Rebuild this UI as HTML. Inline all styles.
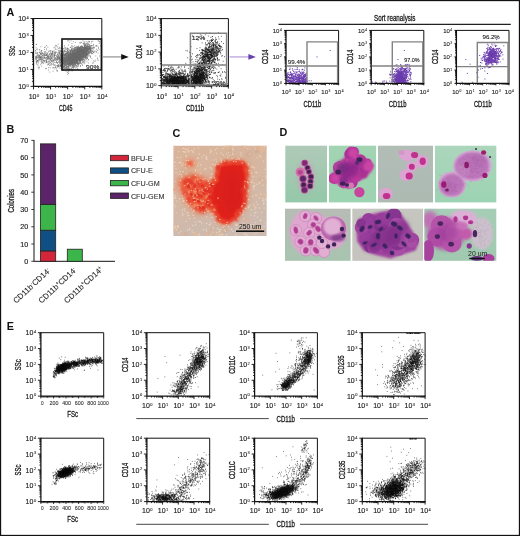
<!DOCTYPE html><html><head><meta charset="utf-8"><style>html,body{margin:0;padding:0;background:#fff;overflow:hidden}svg{display:block;will-change:transform}text{font-family:"Liberation Sans", sans-serif}</style></head><body>
<svg width="520" height="536" viewBox="0 0 520 536">
<defs><filter id="b03" x="-10%" y="-10%" width="120%" height="120%"><feGaussianBlur stdDeviation="0.3"/></filter><filter id="b05" x="-20%" y="-20%" width="140%" height="140%"><feGaussianBlur stdDeviation="0.5"/></filter><filter id="b1" x="-20%" y="-20%" width="140%" height="140%"><feGaussianBlur stdDeviation="1"/></filter><filter id="b2" x="-30%" y="-30%" width="160%" height="160%"><feGaussianBlur stdDeviation="2"/></filter><filter id="b3" x="-30%" y="-30%" width="160%" height="160%"><feGaussianBlur stdDeviation="3"/></filter></defs>
<rect x="0" y="0" width="520" height="536" fill="#fff"/>
<text x="6.6" y="15.8" font-size="10.8" fill="#111" font-weight="bold">A</text>
<path transform="scale(.1)" d="M993 414h8m-8 5h8m-18-8h8m-13-5h8m-62 8h8m-19 0h8m-29 2h8m-10 2h8m-19-5h8m-29 4h8m-41-9h8m-104 8h8m-31-8h8m-30-2h8m-21 3h8m9 12h8m54 2h8m35 5h8m-2 4h8m-1-11h8m-5 4h8m11 8h8m0-13h8m-2 14h8m-6-13h8m15 13h8m0-10h8m-7 7h8m25 0h8m71 4h8m-64 14h8m-10 0h8m-46 0h8m-13-4h8m-11-3h8m-16-3h8m-12 9h8m-19-7h8m-14 0h8m-8-2h8m-15 4h8m-14-4h8m-12 8h8m-12-1h8m-13-11h8m-121 0h8m-147 6h8m-226 4h8m-9-2h8m96 13h8m83-2h8m0 2h8m72 2h8m31-7h8m26 4h8m3 8h8m11-5h8m7 6h8m17-5h8m16 2h8m-6 0h8m-6 3h8m-4 0h8m-2-1h8m7-3h8m-5 2h8m-8-8h8m-8-2h8m-7 11h8m-7-1h8m-3 0h8m-8 2h8m-5-9h8m-7-3h8m-8 3h8m-1-5h8m-6 13h8m-5-2h8m-2-2h8m-5-1h8m-7 5h8m-7-10h8m-4-1h8m-5 12h8m1-11h8m-3 9h8m-5-4h8m-3 3h8m-7-1h8m0-4h8m-5 1h8m-4 1h8m26 2h8m0 2h8m-7-8h8m4 7h8m22-1h8m-31 13h8m-48 5h8m-12-1h8m-11-6h8m-10 2h8m-23 5h8m-17-6h8m-13 2h8m-11 3h8m-11 2h8m-9-7h8m-12-3h8m-8-4h8m-10 13h8m-10 1h8m-9-4h8m-9-8h8m-11 11h8m-9-12h8m-10 8h8m-11-9h8m-8 2h8m-10-2h8m-13 14h8m-8-3h8m-10-11h8m-8 14h8m-11-1h8m-10-10h8m-9 10h8m-11-7h8m-8-2h8m-12 10h8m-9-9h8m-8-3h8m-11 7h8m-8 2h8m-10 1h8m-9 0h8m-13-7h8m-11-1h8m-11 5h8m-9 1h8m-8 1h8m-10 1h8m-10-3h8m-13 3h8m-10 0h8m-12 0h8m-8 1h8m-8-7h8m-10 8h8m-8-8h8m-9 1h8m-12-6h8m-8 11h8m-10-7h8m-8-1h8m-13 4h8m-12-1h8m-8-6h8m-11 8h8m-8-6h8m-10 5h8m-12 6h8m-9-6h8m-10 2h8m-14 0h8m-10-7h8m-9 5h8m-9 5h8m-11-2h8m-12-9h8m-9 11h8m-9-7h8m-8 1h8m-10 4h8m-19 1h8m-12-2h8m-8 0h8m-8 3h8m-9-1h8m-22-2h8m-22-7h8m-23 2h8m-16 5h8m-11-1h8m-61-2h8m-44-7h8m-24 12h8m-15-6h8m-26-2h8m-23 0h8m-19 2h8m-17 7h8m-68-6h8m-34-2h8m-15 4h8m-45-7h8m-56 11h8m-1 16h8m-4-3h8m63 2h8m15-4h8m78 2h8m-2 0h8m17-6h8m8 0h8m6-3h8m-6 1h8m2-1h8m-4 11h8m-2-8h8m4-4h8m2 8h8m-6-9h8m-3 10h8m3-2h8m-8-7h8m-6 3h8m2 3h8m-8 7h8m19 0h8m-6 0h8m-5-9h8m-7 0h8m-4-4h8m-3 10h8m0-3h8m-5 6h8m-5-8h8m-7 5h8m-5 0h8m-6-10h8m-7 7h8m-1-7h8m-6 6h8m-4 6h8m-5 0h8m-6-6h8m-6-3h8m-8 10h8m-5-5h8m-6-2h8m-5 1h8m-8-5h8m-7 1h8m-7 8h8m-5-2h8m-8 4h8m-8-10h8m-7 3h8m-6 4h8m-8 1h8m-8-2h8m-4-1h8m-7-5h8m-7 3h8m-8-2h8m-8 3h8m-5-2h8m-7 6h8m-6-11h8m-7 13h8m-8-9h8m-5 7h8m-8-1h8m-8 2h8m-6-2h8m-6-7h8m-7 9h8m-6-4h8m-6-8h8m-7 12h8m-8 1h8m-7-7h8m-8-1h8m-7 7h8m-7-2h8m-8 3h8m-5-13h8m-8 9h8m-7 1h8m-7 1h8m-8 0h8m-3 2h8m-7-3h8m-5-3h8m-7 3h8m-7-10h8m-7 13h8m-6-2h8m-8-11h8m-7 1h8m-7-2h8m-8 12h8m-7-11h8m-8-1h8m-5 1h8m-7 12h8m-8-9h8m-8 8h8m-8-3h8m-7 2h8m-7 2h8m-8-3h8m-7-9h8m-8 1h8m-8 4h8m-4 3h8m-7-3h8m-7 1h8m-8 0h8m-8 4h8m-8-9h8m-7 9h8m-8-8h8m-7 10h8m-6-13h8m-6 12h8m-8-5h8m-6-5h8m-8 5h8m-7 7h8m-7-3h8m-7-1h8m-7-7h8m-6 8h8m-8 2h8m-8-12h8m-7-1h8m-8 8h8m-7-2h8m-8-4h8m-7 10h8m-8-5h8m-6-1h8m-8-3h8m-8 1h8m-7-4h8m-7 13h8m-7-12h8m-8 8h8m-7 5h8m-7-8h8m-8 5h8m-7-9h8m-8 12h8m-7-7h8m-2 4h8m-7 1h8m-7 1h8m-8-1h8m-6-11h8m-7 13h8m-8-9h8m-7 4h8m-7-7h8m-6 7h8m-8-3h8m-6 3h8m-6 3h8m-5-5h8m-8-4h8m-6 4h8m-8-7h8m-3 7h8m-8 6h8m-8-1h8m-8-4h8m-1-1h8m-8 1h8m-1 1h8m-3-8h8m-4 2h8m-4 6h8m26 3h8m12-8h8m-3 14h8m-23 6h8m-54-2h8m-26 1h8m-11 4h8m-9-2h8m-9-3h8m-9-3h8m-9 0h8m-10 3h8m-9 7h8m-12-14h8m-13 1h8m-8 10h8m-17 1h8m-9 1h8m-11-6h8m-11-7h8m-9 11h8m-8-2h8m-9-5h8m-12 0h8m-8 1h8m-9 2h8m-8 0h8m-9-5h8m-8 8h8m-8 3h8m-9-8h8m-9 4h8m-9 3h8m-9-8h8m-9 6h8m-9-6h8m-9-3h8m-8-1h8m-9 10h8m-11-3h8m-9 6h8m-9-5h8m-9-8h8m-10 12h8m-10-9h8m-8 8h8m-8 1h8m-9 1h8m-9-3h8m-8-1h8m-9-6h8m-8-2h8m-8-1h8m-8 0h8m-9 5h8m-8 6h8m-9 0h8m-10-6h8m-8-4h8m-9 13h8m-8-10h8m-8-3h8m-9 0h8m-9 13h8m-9-13h8m-8-1h8m-8 2h8m-9 4h8m-9 1h8m-8-4h8m-8 2h8m-8 8h8m-10-12h8m-11 5h8m-8-2h8m-8 7h8m-8-9h8m-8 10h8m-8 0h8m-11-8h8m-9 3h8m-10-2h8m-8 9h8m-10-5h8m-8-8h8m-8-1h8m-8 4h8m-8 0h8m-9 6h8m-9 4h8m-8-1h8m-8-2h8m-9-2h8m-8 2h8m-10 2h8m-9 1h8m-9-4h8m-10 3h8m-8-4h8m-9 0h8m-8 1h8m-9-8h8m-11 5h8m-8-7h8m-9 1h8m-9 5h8m-8 5h8m-8-10h8m-8 6h8m-9-6h8m-9 10h8m-8-8h8m-8-1h8m-8 0h8m-8 12h8m-9 0h8m-12 0h8m-8-1h8m-8 0h8m-9-5h8m-9-4h8m-8 0h8m-9 0h8m-9 7h8m-9-1h8m-8-8h8m-9 12h8m-8-9h8m-8 8h8m-9-13h8m-8 4h8m-8 3h8m-9-4h8m-8 4h8m-9 7h8m-8-8h8m-9 6h8m-8-11h8m-9 2h8m-8-3h8m-8 14h8m-10-9h8m-8 4h8m-11 2h8m-10 0h8m-10 3h8m-9-2h8m-10-8h8m-8 10h8m-9-8h8m-8 8h8m-10-11h8m-8 3h8m-9 3h8m-8-7h8m-8 11h8m-12-13h8m-10 4h8m-9 10h8m-12-7h8m-8-3h8m-11 9h8m-8-8h8m-9-2h8m-10 4h8m-9-2h8m-8 7h8m-11-6h8m-12-6h8m-10 4h8m-9 9h8m-8 1h8m-9-2h8m-10-3h8m-12 2h8m-9 3h8m-9-11h8m-9-2h8m-12 12h8m-11-6h8m-8 5h8m-13-1h8m-9-6h8m-10 8h8m-10 1h8m-15-14h8m-8 14h8m-11-3h8m-8 3h8m-8-7h8m-17 1h8m-10-1h8m-14 0h8m-26 5h8m-8-2h8m-10 2h8m-8-11h8m-29 2h8m-18 4h8m-12 6h8m-40 1h8m-11-8h8m-20 3h8m-28-7h8m-71 8h8m-49-6h8m-58 8h8m-8-2h8m-26-5h8m-14-4h8m-44 12h8m-11-2h8m-3 17h8m27-1h8m9-7h8m-4-4h8m18 7h8m-2 5h8m-3-5h8m-3 1h8m6 5h8m7-5h8m-5-8h8m1-1h8m-2 10h8m-2-9h8m6 6h8m-5-1h8m-8 4h8m-7-1h8m-6 2h8m-8-11h8m4 0h8m2 10h8m-4 4h8m-3-5h8m15-8h8m0-1h8m-2 4h8m1 9h8m-7-9h8m-4 1h8m2 5h8m-4-6h8m-6-1h8m-4 8h8m-3-7h8m0 6h8m-7-10h8m-7 2h8m-1 2h8m-3-3h8m-3 5h8m3 8h8m-5-12h8m-6 5h8m-8-2h8m-4 1h8m-3-6h8m3 5h8m-8 9h8m-6-13h8m-7 11h8m-7-12h8m-7 7h8m-4 2h8m-7-9h8m-8 8h8m-2 4h8m-4 0h8m-8-1h8m-7-11h8m-6 7h8m-5 5h8m-7-12h8m-8 5h8m-8 8h8m-6-1h8m-5 0h8m-6 0h8m-7-12h8m-7 2h8m-5 2h8m-7 9h8m-3-3h8m-7-5h8m-7-3h8m-8 9h8m-5-5h8m-7-2h8m-6-1h8m-6 11h8m-4-14h8m-8 11h8m-8-8h8m-7 1h8m-6 4h8m-7 5h8m-7 1h8m-7-1h8m-7-6h8m-6-7h8m-8 1h8m-8 12h8m-7-7h8m-7 1h8m-8-1h8m-7 4h8m-8-4h8m-7 8h8m-6-8h8m-7-1h8m-7-5h8m-8 9h8m-8-7h8m-8 4h8m-6-6h8m-6 6h8m-8 1h8m-7-5h8m-8 0h8m-7 9h8m-8 2h8m-7-13h8m-7 3h8m-8 11h8m-6-8h8m-7-5h8m-8 0h8m-8 1h8m-8 2h8m-3 6h8m-8 0h8m-8-9h8m-7 10h8m-8 0h8m-7 1h8m-8-6h8m-8 1h8m-8 2h8m-8-6h8m-7 5h8m-7-2h8m-8-2h8m-8 9h8m-7-12h8m-7 2h8m-8 9h8m-8-4h8m-7 3h8m-8 1h8m-7-2h8m-7 3h8m-7-4h8m-7-7h8m-8 6h8m-8-1h8m-7-3h8m-8 10h8m-6-4h8m-8-8h8m-7 9h8m-8-1h8m-8-6h8m-7 2h8m-8 1h8m-8-4h8m-7 11h8m-8-4h8m-8-10h8m-6 9h8m-8-6h8m-6 1h8m-8 8h8m-8 1h8m-7-2h8m-8-7h8m-8 6h8m-8-3h8m-8 0h8m-7 4h8m-8-10h8m-8 12h8m-8-9h8m-7-2h8m-7 4h8m-8-5h8m-8 12h8m-7 0h8m-8-2h8m-8-4h8m-8 4h8m-8-6h8m-8-1h8m-8 3h8m-8-1h8m-7 8h8m-6-11h8m-8 0h8m-8 7h8m-7-6h8m-8 2h8m-8-4h8m-7-1h8m-7 8h8m-8-7h8m-8 10h8m-7-6h8m-7 2h8m-8-2h8m-7 8h8m-6-1h8m-8-7h8m-7-5h8m-8 8h8m-5-6h8m-8 4h8m-8 3h8m-8-9h8m-8 10h8m-7-5h8m-8 4h8m-7-3h8m-8-7h8m-7 10h8m-8 1h8m-8-11h8m-8 5h8m-8 2h8m-7-4h8m-8 8h8m-8-1h8m-8-7h8m-7 0h8m-7 11h8m-7-2h8m-8-12h8m-7 6h8m-8-3h8m-8 1h8m-7 9h8m-8-6h8m-8-2h8m-7-2h8m-8 5h8m-7-4h8m-8-3h8m-7 5h8m-8-6h8m-5 14h8m-5-6h8m-8-8h8m-7 9h8m-7 0h8m-8-3h8m-7-5h8m-8 9h8m-8 3h8m-8-4h8m-7 5h8m-8-5h8m-8 0h8m-7-5h8m-7 6h8m-7-3h8m-8 0h8m-7-1h8m-6 3h8m-8-4h8m-8 9h8m-7-3h8m-8-7h8m-8 6h8m-6-10h8m-7 12h8m-8-11h8m-8 12h8m-4-9h8m-8 4h8m-7 1h8m-7-4h8m-3-1h8m-7 1h8m-5 0h8m-8 9h8m-7-9h8m-6 0h8m-8 6h8m-7-3h8m0 6h8m-8-5h8m-5-8h8m-7 5h8m-5 2h8m-6-5h8m-7 5h8m-2 6h8m-4-3h8m-8-5h8m2-4h8m-7-1h8m-7 2h8m0 10h8m-4-5h8m1-5h8m6-3h8m-5 9h8m-7 1h8m10 10h8m-50-2h8m-9-2h8m-24 9h8m-10 3h8m-9-7h8m-9 4h8m-11-9h8m-19 4h8m-17 2h8m-12-2h8m-10 9h8m-9-13h8m-12 3h8m-10 5h8m-9 0h8m-8 2h8m-9-5h8m-10 8h8m-12-6h8m-10 3h8m-9-7h8m-9 4h8m-9 5h8m-8 0h8m-9-13h8m-9 14h8m-8-12h8m-11 5h8m-8 1h8m-8-3h8m-9-2h8m-8 5h8m-8 1h8m-9-7h8m-9 10h8m-9-11h8m-8 4h8m-9 4h8m-9-9h8m-8 6h8m-9 3h8m-8 2h8m-9-10h8m-8 7h8m-9 2h8m-8 4h8m-9-7h8m-10-7h8m-11 7h8m-8 1h8m-9 4h8m-8-3h8m-9-3h8m-9 0h8m-8 8h8m-9-8h8m-9-1h8m-9 9h8m-9-7h8m-8-5h8m-9 3h8m-10-5h8m-9 8h8m-8-1h8m-9 5h8m-8-8h8m-8 8h8m-8 0h8m-8 2h8m-9-9h8m-8-2h8m-9 2h8m-8 0h8m-9 3h8m-9 6h8m-8-4h8m-10-9h8m-8 7h8m-8 3h8m-8-2h8m-9-8h8m-9 2h8m-8 5h8m-8-3h8m-8 9h8m-9-9h8m-9 3h8m-8 3h8m-9 0h8m-8 2h8m-9 0h8m-9-2h8m-8-9h8m-8-1h8m-8 8h8m-9-8h8m-8-1h8m-9 2h8m-9 6h8m-8 6h8m-8-11h8m-8 11h8m-9-11h8m-9-2h8m-8 5h8m-8-5h8m-8 8h8m-8 4h8m-9 1h8m-8-2h8m-9-3h8m-8-8h8m-9 3h8m-9 9h8m-9 1h8m-9 0h8m-8-1h8m-9-4h8m-8-5h8m-8 8h8m-9-7h8m-8-4h8m-8 13h8m-8-10h8m-9-2h8m-8 3h8m-9 5h8m-8-4h8m-8-6h8m-9 9h8m-8 5h8m-8 0h8m-9-10h8m-11-3h8m-8 2h8m-8 5h8m-9-5h8m-8 3h8m-8 1h8m-9-7h8m-8 14h8m-9-13h8m-9 13h8m-9-1h8m-8-9h8m-9 8h8m-8-10h8m-8 11h8m-8-3h8m-8-6h8m-10-1h8m-9 4h8m-8 1h8m-9-4h8m-8-3h8m-9 0h8m-8 1h8m-8 10h8m-9 1h8m-8-7h8m-8-1h8m-9 6h8m-9-7h8m-9 1h8m-8 1h8m-10-5h8m-8 4h8m-8 7h8m-9-6h8m-9 6h8m-8-3h8m-8-5h8m-9 10h8m-8-13h8m-9 1h8m-8-2h8m-8 9h8m-9 0h8m-9-5h8m-8 1h8m-8 6h8m-9-6h8m-9-5h8m-8 4h8m-9 0h8m-11-2h8m-8 3h8m-8 1h8m-10 3h8m-8-1h8m-9 6h8m-8-13h8m-8 6h8m-9-6h8m-9 2h8m-8 0h8m-8 8h8m-9-4h8m-9 3h8m-9-3h8m-8 7h8m-9-9h8m-8-5h8m-9 8h8m-8 5h8m-10-4h8m-9-3h8m-8 0h8m-9 5h8m-8-7h8m-9 8h8m-9-9h8m-8 4h8m-9 0h8m-8-7h8m-8 1h8m-10 4h8m-8 5h8m-9-2h8m-8 4h8m-9 1h8m-9-4h8m-8-7h8m-8 1h8m-9 1h8m-8 6h8m-9 1h8m-9 0h8m-9-2h8m-8 0h8m-9-1h8m-9 3h8m-9 0h8m-8 1h8m-8-2h8m-11-2h8m-8 1h8m-9-4h8m-9 7h8m-11-6h8m-9-5h8m-9 8h8m-8-6h8m-9-2h8m-8 1h8m-9 5h8m-9-5h8m-10 8h8m-8-10h8m-8 2h8m-9 10h8m-8 1h8m-9-4h8m-11 2h8m-9 2h8m-9-13h8m-8 5h8m-9-5h8m-9 9h8m-8 1h8m-9-5h8m-8 6h8m-14 2h8m-10-1h8m-13-8h8m-10 4h8m-8-1h8m-8 3h8m-10-6h8m-8-3h8m-9 9h8m-13 4h8m-9-2h8m-9 2h8m-11-12h8m-10-1h8m-11 8h8m-8 1h8m-8-7h8m-11 0h8m-13-1h8m-8 11h8m-9-10h8m-12 7h8m-9-3h8m-8 3h8m-9-7h8m-12 5h8m-9-7h8m-12 8h8m-10 5h8m-8-4h8m-9-4h8m-11 6h8m-15-7h8m-21 6h8m-10 1h8m-9-11h8m-11 7h8m-22 2h8m-10 1h8m-10 3h8m-21-7h8m-12 5h8m-10-12h8m-8 6h8m-9 7h8m-12-10h8m-16-1h8m-9 11h8m-20-13h8m-21 13h8m-13 0h8m-9-12h8m-12 0h8m-8 13h8m-28-4h8m-12 1h8m-8 0h8m-10-4h8m-14-1h8m-13 6h8m-13-4h8m-19 6h8m-26-1h8m-11-3h8m-24-2h8m-30 5h8m-15-2h8m-8 0h8m-11-9h8m-17 7h8m-11-7h8m-11 7h8m-9 3h8m-9-5h8m-8 1h8m-12 1h8m-17-8h8m-25-1h8m-12 13h8m-8-7h8m-16 6h8m-19-5h8m13 21h8m-5-2h8m0-2h8m2 3h8m-1-5h8m-3 0h8m1-2h8m0 8h8m-8 1h8m0 0h8m-4-7h8m-4-4h8m-4-2h8m-7-1h8m-4 10h8m1-6h8m-6 9h8m-4-8h8m-7 7h8m-7-7h8m-8 4h8m-6-9h8m-6 12h8m0-2h8m-6 3h8m4-11h8m-6 2h8m5 3h8m-2-4h8m-7 6h8m-6 4h8m-6-12h8m-7 6h8m-4 3h8m-7 0h8m3-10h8m-3 1h8m-4 1h8m-8 9h8m-7 3h8m1-1h8m4 0h8m1-9h8m-6 6h8m-8-8h8m0 8h8m6-9h8m-7-1h8m-7 4h8m-6 5h8m-3 4h8m-6-2h8m-1 1h8m-6-4h8m-4-8h8m-3 10h8m-4 4h8m-8-2h8m-8-6h8m-6-2h8m-6 7h8m-2 1h8m-7-3h8m-8-4h8m-7 0h8m-6 2h8m-6 5h8m-5-12h8m-6 1h8m-7 3h8m-8 10h8m-8-14h8m-7 13h8m-8-13h8m-7 6h8m-8-5h8m-5 2h8m-5 5h8m-8-7h8m-1 9h8m-4 3h8m-6-8h8m-6 6h8m-7-3h8m-5-1h8m-7 5h8m-6-6h8m-8-1h8m-4 3h8m-5-7h8m-8 0h8m-5 7h8m-7-6h8m-7 1h8m-5 4h8m-6 2h8m-7-8h8m-7 7h8m-8-3h8m-7-3h8m-8 2h8m-6 7h8m-8 1h8m-3-7h8m-7 9h8m-7-11h8m-6-2h8m-8 9h8m-7 0h8m-8-2h8m-5-2h8m-7 6h8m-8-6h8m-8 8h8m-6-7h8m-8 6h8m-6-1h8m-8-9h8m-7 8h8m-7-7h8m-7 10h8m-7-4h8m-7 4h8m-8-5h8m-7 2h8m-8-1h8m-8 1h8m-7 1h8m-8-7h8m-7-5h8m-8 8h8m-7-4h8m-8 5h8m-6-6h8m-6-2h8m-7 8h8m-8-7h8m-8 11h8m-7-4h8m-8-2h8m-7-1h8m-8-1h8m-7-2h8m-8 11h8m-7-8h8m-8 8h8m-7-7h8m-7 6h8m-8-12h8m-8 3h8m-7 9h8m-7-13h8m-7 8h8m-8 1h8m-8-7h8m-8 8h8m-7-6h8m-7 7h8m-8 2h8m-6-2h8m-8-3h8m-7-3h8m-8 6h8m-8-5h8m-8-3h8m-8 2h8m-7 6h8m-7 2h8m-8-11h8m-7 4h8m-6-4h8m-8 10h8m-7-7h8m-8 4h8m-8-5h8m-7-1h8m-8 1h8m-8 0h8m-8 3h8m-7 6h8m-8-10h8m-8 7h8m-6-5h8m-8 4h8m-8 3h8m-7-6h8m-8 4h8m-8-3h8m-8-6h8m-7 10h8m-8-9h8m-8 8h8m-7-5h8m-8 7h8m-7-10h8m-7 7h8m-7 0h8m-8 4h8m-8-13h8m-8 11h8m-8 3h8m-6 0h8m-8-3h8m-7-1h8m-8-2h8m-8 6h8m-8-2h8m-7-4h8m-8-1h8m-8 7h8m-7-13h8m-8 1h8m-7 5h8m-5 7h8m-8-8h8m-7 7h8m-8 1h8m-8-1h8m-7-2h8m-8-11h8m-8 6h8m-7 0h8m-7 7h8m-8-4h8m-7-4h8m-8-3h8m-7 7h8m-8 3h8m-8-7h8m-8 6h8m-7-2h8m-7-8h8m-8 9h8m-7-2h8m-7 1h8m-8-6h8m-7 6h8m-8 0h8m-7-7h8m-8 7h8m-6-5h8m-8 8h8m-8-4h8m-8 3h8m-8-6h8m-7 0h8m-8 7h8m-8-6h8m-8 1h8m-6-7h8m-8 6h8m-7-1h8m-8-1h8m-8 1h8m-7 5h8m-8-7h8m-8 3h8m-7 1h8m-8 6h8m-7-13h8m-8 12h8m-8-6h8m-7 8h8m-7-7h8m-8 2h8m-7-3h8m-7-6h8m-8 9h8m-8-6h8m-8-3h8m-7 8h8m-8 6h8m-7-11h8m-8-3h8m-7 2h8m-8 6h8m-8 2h8m-7-3h8m-7 2h8m-8 4h8m-8-13h8m-8 7h8m-8-2h8m-8 4h8m-8 1h8m-6-10h8m-8 6h8m-6 1h8m-8 4h8m-8 1h8m-8-9h8m-8 2h8m-7 2h8m-8 7h8m-7-11h8m-8 8h8m-8-8h8m-8 11h8m-7-2h8m-8-1h8m-8-4h8m-8 1h8m-7 2h8m-8 3h8m-6-8h8m-8-5h8m-7 1h8m-8 0h8m-8 5h8m-7 0h8m-8 4h8m-5-8h8m-8 11h8m-7-5h8m-8 4h8m-5-7h8m-7 0h8m-8-2h8m-7 11h8m-8 0h8m-7-1h8m-7-10h8m-8-2h8m-7 6h8m-7 6h8m-7-4h8m-6 0h8m-8-7h8m-7 10h8m-8-4h8m-7-6h8m-5 8h8m-8-9h8m-6 10h8m-6 1h8m-7-1h8m-5 0h8m-6-9h8m-6-1h8m-7 12h8m-7-9h8m-7-4h8m-7 11h8m-7-3h8m-6 2h8m-8-9h8m-7 7h8m-8 2h8m-7 0h8m-8-5h8m-7 1h8m-6 5h8m-7-7h8m-8 6h8m-6-6h8m-8 1h8m-8 5h8m-8-4h8m-6-1h8m-5 6h8m-6-4h8m-7 0h8m-8-4h8m-8-1h8m-4 12h8m-6-13h8m1-1h8m96 20h8m-45 0h8m-60 4h8m-12-6h8m-20 1h8m-9 0h8m-25 7h8m-10-7h8m-13 0h8m-10-3h8m-8 6h8m-11-2h8m-12 3h8m-10 0h8m-9 2h8m-8-6h8m-9 6h8m-8 2h8m-11-5h8m-8-5h8m-8 7h8m-11-7h8m-8 7h8m-15-5h8m-8 6h8m-11 3h8m-10-6h8m-8-7h8m-9 13h8m-8 0h8m-8-4h8m-9 4h8m-10-7h8m-8 7h8m-9-5h8m-9-8h8m-8 12h8m-8-11h8m-9 13h8m-9-9h8m-9-1h8m-8 6h8m-10-7h8m-9 1h8m-9 8h8m-9-2h8m-9-10h8m-9 7h8m-8 5h8m-8-10h8m-9 2h8m-8 7h8m-9-2h8m-8-2h8m-9 5h8m-8-10h8m-9 11h8m-8-4h8m-13 1h8m-9-9h8m-8 12h8m-10-6h8m-8-2h8m-8-2h8m-8 11h8m-8-9h8m-8 8h8m-8-4h8m-9-4h8m-8 2h8m-9-5h8m-9 11h8m-9-7h8m-8 6h8m-10-12h8m-9 11h8m-8-11h8m-9 14h8m-8-8h8m-9 1h8m-8-1h8m-8-1h8m-9-5h8m-8 7h8m-9 3h8m-8-1h8m-8-2h8m-8 5h8m-8-9h8m-9 3h8m-8-1h8m-9-5h8m-8 9h8m-9 2h8m-8-3h8m-9 6h8m-8-2h8m-9-10h8m-8 3h8m-8-3h8m-9-2h8m-8 12h8m-9-3h8m-8-7h8m-9 8h8m-8-1h8m-8-4h8m-8 8h8m-9-3h8m-8-7h8m-9 0h8m-9-2h8m-8-1h8m-8 11h8m-8 3h8m-9-5h8m-8-5h8m-8 2h8m-8-4h8m-9 8h8m-8-10h8m-9 2h8m-8-1h8m-9 11h8m-8-5h8m-8 6h8m-9-6h8m-9-4h8m-8 5h8m-10-7h8m-9 0h8m-8 2h8m-8 7h8m-8-7h8m-9 9h8m-9-12h8m-9 14h8m-8-5h8m-9-7h8m-9 6h8m-8 0h8m-9-6h8m-8 10h8m-8-8h8m-9 9h8m-9 1h8m-9-3h8m-8-5h8m-8 4h8m-8-8h8m-9-1h8m-9 0h8m-9 5h8m-8 4h8m-9-9h8m-8 1h8m-8 6h8m-8 2h8m-8-4h8m-9 2h8m-8 6h8m-8-13h8m-8 6h8m-9-2h8m-9-5h8m-9 1h8m-8 12h8m-8-4h8m-8-6h8m-8 10h8m-9-5h8m-9 4h8m-9-8h8m-9-2h8m-8 12h8m-8-5h8m-8 4h8m-10-12h8m-8 0h8m-9 10h8m-8 0h8m-9-10h8m-8 3h8m-8 5h8m-8-1h8m-10-5h8m-8 5h8m-9 2h8m-10 3h8m-8-3h8m-8-5h8m-9 9h8m-9-14h8m-8 6h8m-8 2h8m-9-8h8m-9 1h8m-8 12h8m-9-11h8m-9-1h8m-8 0h8m-10 5h8m-8-2h8m-8 5h8m-8-9h8m-8 9h8m-9 5h8m-9-13h8m-9 6h8m-9 1h8m-8 5h8m-8-4h8m-8 0h8m-9-2h8m-9-7h8m-8 0h8m-9 2h8m-8 11h8m-9-11h8m-9-2h8m-8 10h8m-8-3h8m-8 5h8m-9-4h8m-8 5h8m-8-6h8m-9-1h8m-9 3h8m-8-2h8m-8 1h8m-9 1h8m-8-7h8m-9 10h8m-9-7h8m-8 0h8m-10 0h8m-8 3h8m-9 4h8m-8-10h8m-8 6h8m-8 5h8m-8-2h8m-9-1h8m-8-5h8m-8 8h8m-8 0h8m-9-10h8m-9-3h8m-9 10h8m-8-8h8m-8 7h8m-9-5h8m-9-4h8m-8 8h8m-9 3h8m-10-5h8m-9 1h8m-9-6h8m-9 7h8m-9 5h8m-13-12h8m-8 12h8m-9-6h8m-9-3h8m-10 8h8m-10-12h8m-9 10h8m-9-10h8m-10 2h8m-8 10h8m-8 0h8m-8-3h8m-10-4h8m-11-4h8m-11 8h8m-8 3h8m-8-11h8m-9 13h8m-9-10h8m-13 7h8m-11-10h8m-8 2h8m-10 0h8m-9 0h8m-9 4h8m-9 6h8m-8-7h8m-8 1h8m-10-4h8m-9 3h8m-9 6h8m-8-4h8m-11-8h8m-9 6h8m-10 4h8m-14 4h8m-13-10h8m-9-3h8m-9 0h8m-8 10h8m-10-8h8m-9 7h8m-12 3h8m-10-5h8m-11-6h8m-17 1h8m-10 9h8m-8-2h8m-10-4h8m-11-1h8m-8 1h8m-10-3h8m-12-3h8m-14 11h8m-10-11h8m-9 14h8m-8-9h8m-19-1h8m-15-1h8m-10 10h8m-9-5h8m-9 3h8m-9-8h8m-17 9h8m-9 0h8m-8-6h8m-32 7h8m-10-11h8m-9 5h8m-8-6h8m-16 4h8m-15 6h8m-17 3h8m-19-7h8m-9 3h8m-9-5h8m-11-4h8m-17 13h8m-8-8h8m-14 7h8m-12-4h8m-9-5h8m-11 8h8m-10 2h8m-9-7h8m-12 7h8m-16-13h8m-17-1h8m-14 1h8m-10 3h8m-12-1h8m-13 8h8m-19 1h8m-21-6h8m-12 5h8m-8-2h8m-16 3h8m-11 0h8m-9-5h8m-8-6h8m-12 3h8m-15 5h8m-12 3h8m-9-12h8m-24 5h8m-9 6h8m-17-2h8m-7 10h8m-3 2h8m-7-4h8m-6 2h8m0-1h8m-6-2h8m-3 3h8m2 6h8m-7-9h8m-7 6h8m-7-1h8m-3 4h8m-5 4h8m-8-10h8m-3 2h8m-7-1h8m-7 2h8m-6 3h8m-8 2h8m-6 0h8m-3-4h8m-3 0h8m-1 0h8m-8-3h8m6 0h8m-8 8h8m-7-8h8m-5 4h8m-4-3h8m0 4h8m-5 2h8m-6-6h8m-3 1h8m-8-3h8m2-3h8m-1 4h8m-4 1h8m-8 7h8m-8 1h8m9-10h8m-6 8h8m-6-11h8m-4 13h8m-6-9h8m-2 9h8m-4-11h8m5 8h8m-7-7h8m5 8h8m-6-3h8m-6-1h8m-1 5h8m-1-10h8m-4 11h8m-8-8h8m-4 0h8m-7 4h8m-3-3h8m-5 7h8m-5-5h8m-7-1h8m-7 5h8m-8-13h8m-8 7h8m-6-3h8m-6 6h8m-6-2h8m-7-8h8m-2 9h8m-8 5h8m-8-6h8m0-4h8m-8-1h8m-6 11h8m-6-12h8m-5 4h8m-7 4h8m-7-7h8m-5 8h8m-7-11h8m-4 11h8m-7 0h8m-7-6h8m-7-5h8m-3 9h8m-7-2h8m-7 2h8m-8 2h8m-7 0h8m-7 1h8m-4 2h8m-4-7h8m-7 7h8m-8-4h8m-8-6h8m-4 7h8m-8-3h8m-7-3h8m-8-5h8m-7 2h8m-3-1h8m-8 11h8m-8 1h8m-6-1h8m-7-6h8m-7-3h8m-3 11h8m-7-6h8m-5 1h8m-7 1h8m-7-3h8m-7-7h8m-7 2h8m-8 11h8m-7-10h8m-8 3h8m-6-1h8m-7-1h8m-7-2h8m-7 12h8m-7-5h8m-7-2h8m-8 7h8m-7-5h8m-6-5h8m-7 0h8m-8-3h8m-7 1h8m-7 7h8m-8-8h8m-7 9h8m-7-1h8m-6 3h8m-6-2h8m-6 2h8m-8-9h8m-8 4h8m-8 2h8m-8-2h8m-8 1h8m-7-7h8m-6 10h8m-7-3h8m-7-6h8m-8 9h8m-8-9h8m-7 10h8m-6-8h8m-7 0h8m-6 4h8m-8 1h8m-8-1h8m-8-5h8m-7 10h8m-7-2h8m-8-7h8m-6-2h8m-6 0h8m-7 12h8m-8-5h8m-6-2h8m-7 2h8m-8-5h8m-8 6h8m-6-7h8m-8 11h8m-8-6h8m-7 1h8m-7-7h8m-8 11h8m-8-9h8m-7 6h8m-7-5h8m-8 4h8m-8-6h8m-8 8h8m-8 1h8m-7 2h8m-8-11h8m-7 2h8m-7 4h8m-8 4h8m-7-11h8m-8 12h8m-8-13h8m-7 12h8m-8-2h8m-8-8h8m-8 4h8m-7 2h8m-8-1h8m-8 6h8m-7-4h8m-7 2h8m-7-7h8m-8-2h8m-7-1h8m-8 10h8m-7-3h8m-7-4h8m-8 6h8m-8-1h8m-7-7h8m-8 11h8m-7-9h8m-8-3h8m-8 2h8m-8 2h8m-6 6h8m-8-12h8m-7 2h8m-8 8h8m-8 1h8m-7-4h8m-8-4h8m-8 8h8m-8 1h8m-7-7h8m-8 3h8m-6-5h8m-8 0h8m-6 4h8m-7 2h8m-5-8h8m-8 12h8m-7-5h8m-8 1h8m-8-7h8m-8 9h8m-7-3h8m-7 1h8m-8 2h8m-8-3h8m-7-1h8m-8-7h8m-8 14h8m-7-11h8m-8 5h8m-7 1h8m-8 3h8m-8-6h8m-8-3h8m-8-2h8m-7 1h8m-8 11h8m-7-3h8m-7-9h8m-7 3h8m-8-3h8m-7 8h8m-7-4h8m-8 2h8m-8 7h8m-8-10h8m-7 6h8m-7-7h8m-8 6h8m-7-6h8m-7-1h8m-8 0h8m-8 6h8m-8 6h8m-7 0h8m-8-6h8m-8-5h8m-7-2h8m-8 8h8m-7-5h8m-8-2h8m-7 5h8m-8 6h8m-8-11h8m-7 4h8m-8 0h8m-8 2h8m-7-2h8m-7 1h8m-7 2h8m-8-9h8m-8 2h8m-8 11h8m-7-2h8m-7-1h8m-8-7h8m-7 8h8m-7 1h8m-8-7h8m-8 7h8m-7-2h8m-7-9h8m-7 1h8m-7-2h8m-8 5h8m-8 4h8m-8-2h8m-7 1h8m-8 6h8m-7-7h8m-8-7h8m-7 8h8m-8 4h8m-8 1h8m-7-3h8m-7-9h8m-8 4h8m-7 8h8m-7 0h8m-8-12h8m-8 11h8m-8-6h8m-7 4h8m-8 4h8m-7-14h8m-7 5h8m-8 2h8m-8-6h8m-7 1h8m-8 3h8m-7 0h8m-8 0h8m-8-1h8m-6-3h8m-8-1h8m-7 14h8m-8-5h8m-4-9h8m-6 7h8m-7 7h8m-6-10h8m-8 10h8m-6-11h8m-8 8h8m-6-11h8m-8 7h8m-7-5h8m-6 6h8m-5-6h8m-7 6h8m-5 4h8m-6-8h8m-7 7h8m-6-6h8m-6 6h8m-4-8h8m-7-1h8m-6 4h8m-4-1h8m-4-5h8m-2 2h8m-8 1h8m-6 1h8m-7 4h8m-8-5h8m-8 6h8m-7 2h8m-8-7h8m1 4h8m-5-1h8m-6-5h8m-8 12h8m-7-1h8m24-10h8m60 8h8m-5 8h8m-67-2h8m-41 7h8m-26-6h8m-14 9h8m-11-10h8m-17 5h8m-14-2h8m-15 6h8m-12-11h8m-9 11h8m-12-5h8m-11 2h8m-8 3h8m-10 1h8m-9-10h8m-12 11h8m-8-13h8m-10 4h8m-11 3h8m-8 3h8m-9-9h8m-11 0h8m-9 10h8m-8-6h8m-9-4h8m-8 1h8m-8 3h8m-9 8h8m-8-9h8m-9 6h8m-9-8h8m-8 3h8m-9-3h8m-10 5h8m-9 1h8m-8-7h8m-9 12h8m-10-10h8m-8 9h8m-8-4h8m-10 1h8m-9 4h8m-9-6h8m-11-5h8m-9 8h8m-10-8h8m-8 0h8m-9 6h8m-8-4h8m-8 0h8m-8 10h8m-8-12h8m-12 10h8m-8-8h8m-8 8h8m-9-11h8m-10-1h8m-9 11h8m-8-1h8m-8-8h8m-11 1h8m-8 3h8m-8 3h8m-9 3h8m-8-5h8m-8 5h8m-9-9h8m-8 2h8m-9 3h8m-8-7h8m-8 2h8m-8 6h8m-9-2h8m-8-2h8m-8 5h8m-9 1h8m-9 1h8m-8-12h8m-8 9h8m-9-8h8m-9 9h8m-8-6h8m-8 4h8m-8-8h8m-9 14h8m-8-4h8m-11-6h8m-8-3h8m-9 0h8m-8 1h8m-8 2h8m-8 9h8m-8-3h8m-9 1h8m-12-6h8m-8-4h8m-9 9h8m-8-7h8m-9 9h8m-9-10h8m-8 2h8m-8-1h8m-9 4h8m-8 6h8m-11-4h8m-9-6h8m-8-1h8m-9 10h8m-8-2h8m-9-4h8m-8-1h8m-8 4h8m-9-6h8m-9 10h8m-9-12h8m-9 6h8m-8 7h8m-9-2h8m-8-5h8m-9 0h8m-8-7h8m-9 0h8m-8 11h8m-8 3h8m-11-10h8m-8 10h8m-8-6h8m-9 1h8m-9-7h8m-9 5h8m-9 5h8m-8-4h8m-8-3h8m-9 1h8m-8 3h8m-9-1h8m-9-1h8m-8 0h8m-8 3h8m-9-2h8m-9-5h8m-9 0h8m-8 7h8m-8 2h8m-10-7h8m-9 0h8m-9 8h8m-8-11h8m-8 0h8m-8 8h8m-9-3h8m-9-6h8m-9 5h8m-8-6h8m-8 6h8m-8 2h8m-9 2h8m-8-10h8m-8 4h8m-9 6h8m-8 1h8m-9-5h8m-9-5h8m-8 8h8m-8-2h8m-8 3h8m-9-9h8m-8 3h8m-9 2h8m-8-2h8m-9 8h8m-10-12h8m-8 9h8m-9-8h8m-8 12h8m-8-8h8m-9-5h8m-10 3h8m-8 9h8m-9-6h8m-8 5h8m-9-8h8m-10-1h8m-8 11h8m-8-6h8m-10 0h8m-8 4h8m-8 1h8m-8-3h8m-9 0h8m-9-8h8m-12 10h8m-8-1h8m-9 4h8m-8-9h8m-9 0h8m-9 2h8m-8-5h8m-8 10h8m-11 1h8m-9 0h8m-8-2h8m-8-3h8m-9 5h8m-8-7h8m-9 4h8m-9 1h8m-9-5h8m-10-6h8m-8 5h8m-10 4h8m-8-4h8m-9 2h8m-9 6h8m-8-2h8m-9-9h8m-9 3h8m-11 5h8m-10-9h8m-9 4h8m-9 6h8m-10-6h8m-11 4h8m-9-9h8m-10 12h8m-9-4h8m-9-4h8m-9 4h8m-9-8h8m-8 2h8m-10-1h8m-9 9h8m-11 4h8m-12-7h8m-9 5h8m-8-7h8m-8-3h8m-8 0h8m-9 10h8m-9-8h8m-11 5h8m-9-4h8m-9 2h8m-8 3h8m-8-10h8m-8 5h8m-8 8h8m-14-5h8m-9 5h8m-11-12h8m-9 4h8m-8 9h8m-10 0h8m-8 0h8m-8-14h8m-10 10h8m-9 3h8m-14-8h8m-12 0h8m-9 3h8m-15 2h8m-10-4h8m-12 8h8m-12-10h8m-8-1h8m-8 11h8m-18-3h8m-12-11h8m-9 14h8m-9-6h8m-14 1h8m-9-3h8m-11 3h8m-15 0h8m-14-3h8m-13-4h8m-13 7h8m-9-5h8m-10 8h8m-25 1h8m-17-12h8m-15 10h8m-10-9h8m-10 7h8m-12-1h8m-14-6h8m-10 1h8m-12 11h8m-14-12h8m-9 2h8m-14-1h8m-8 2h8m-8 0h8m-17 4h8m-21-5h8m-29-3h8m-13 4h8m-9 6h8m-16-2h8m-14-3h8m-9 0h8m-12 6h8m-10-1h8m-17 0h8m-13 3h8m-10-2h8m-8 1h8m-11-9h8m-25-4h8m-11 6h8m-11 0h8m-12 0h8m-9 7h8m-13-12h8m6 24h8m-6 3h8m-6-8h8m-4 2h8m-7-1h8m-5 0h8m-1 4h8m15 1h8m-5-2h8m0-6h8m0 7h8m-3-4h8m-6-3h8m1 8h8m-5-8h8m-8 5h8m-3 0h8m4-5h8m-7 11h8m-7-9h8m18 6h8m0-5h8m1-3h8m-1 6h8m-6 2h8m-8 3h8m-7-9h8m3-4h8m-7 4h8m-6 9h8m-5-14h8m-3 3h8m6 1h8m5-2h8m-7-2h8m13 13h8m0-5h8m-6-3h8m-7-5h8m-8 2h8m-6 1h8m-2 1h8m-8 0h8m-5-1h8m-3 3h8m-6 5h8m-7 3h8m-7-9h8m-8 9h8m-6-7h8m-8 0h8m-4 4h8m-7-2h8m-7-1h8m-6-4h8m-5 8h8m-6-6h8m-8-4h8m-8 6h8m-7 4h8m-8-4h8m-6 4h8m-8-5h8m-8 3h8m-7-10h8m-7 11h8m-7-5h8m-7-2h8m-6 8h8m-8 2h8m-6-6h8m-6 1h8m-8-5h8m-6 2h8m-6 3h8m-6-1h8m-8-1h8m-7 3h8m-7-1h8m-7 2h8m-7-5h8m-6 3h8m-8 3h8m-7-1h8m-6-2h8m-8-1h8m-7-7h8m-7 1h8m-8 11h8m-7-8h8m-7 9h8m-8-3h8m-7 1h8m-5-2h8m-7 3h8m-7-3h8m-8 3h8m-8-13h8m-7 10h8m-6-6h8m-6-4h8m-6 0h8m-8 1h8m-5 5h8m-8 3h8m-7-5h8m-8 2h8m-7 3h8m-8 0h8m-8-4h8m-6-3h8m-7 6h8m-8-8h8m-7 3h8m-7-1h8m-8-2h8m-7 3h8m-6 6h8m-8 3h8m-7-9h8m-7 5h8m-8 4h8m-7-11h8m-7 1h8m-8 2h8m-8-2h8m-8 10h8m-6 2h8m-8-3h8m-7-4h8m-8 0h8m-8 6h8m-6-7h8m-8 4h8m-8-8h8m-7 10h8m-8-11h8m-7 13h8m-7-11h8m-7 0h8m-7 4h8m-7 2h8m-6-4h8m-4-1h8m-7 6h8m-8 1h8m-6-11h8m-7 7h8m-8-5h8m-7 5h8m-8 2h8m-8 0h8m-7 3h8m-7-9h8m-7 10h8m-8-8h8m-8 0h8m-8 8h8m-8-7h8m-7-4h8m-8 12h8m-7-7h8m-8 5h8m-7 1h8m-6 0h8m-8-12h8m-8 12h8m-8-8h8m-7-1h8m-8 5h8m-7 2h8m-8-11h8m-8 5h8m-7 0h8m-8-1h8m-8 1h8m-7-2h8m-8-1h8m-6 10h8m-7-8h8m-8-4h8m-8 13h8m-7-10h8m-8 0h8m-8-2h8m-8 6h8m-7-3h8m-8 3h8m-8-2h8m-7 2h8m-8-4h8m-6 9h8m-8 2h8m-8-12h8m-8-1h8m-7 11h8m-8 1h8m-8-5h8m-8-8h8m-8 12h8m-5-12h8m-7 2h8m-7 4h8m-7-6h8m-8 14h8m-8-6h8m-7 5h8m-8-3h8m-7-8h8m-7-2h8m-7 9h8m-8 5h8m-7-12h8m-8 7h8m-6-8h8m-7 8h8m-8 1h8m-6-7h8m-8 3h8m-8-5h8m-7 10h8m-8-5h8m-7 7h8m-8-9h8m-8 10h8m-6-6h8m-7 5h8m-7-2h8m-8 3h8m-7-1h8m-6-11h8m-8 10h8m-8-9h8m-7 1h8m-8 3h8m-7 1h8m-8 5h8m-8-12h8m-6 6h8m-8-6h8m-8 12h8m-7-10h8m-8 1h8m-7 8h8m-8-3h8m-8-1h8m-7 1h8m-8-7h8m-8 0h8m-7-2h8m-6 3h8m-8 3h8m-8 1h8m-6 2h8m-7 0h8m-7-3h8m-8-5h8m-3 5h8m-8-6h8m-3 6h8m-8 4h8m-6-9h8m-7-1h8m-5 9h8m-8-3h8m-7-4h8m-6-1h8m-8 3h8m-8-3h8m-7 0h8m-8 10h8m-7 1h8m-8 2h8m-6-14h8m-4 3h8m-8 9h8m-8-5h8m-5-5h8m-3-1h8m-3 5h8m-3-6h8m-7 9h8m-3 3h8m0-10h8m-1 4h8m-5 3h8m24-7h8m47 8h8m5 4h8m-6-12h8m21 2h8m-53 25h8m-74-10h8m-29 9h8m-11-8h8m-21 3h8m-9-8h8m-14 13h8m-13-4h8m-24 3h8m-8-8h8m-11 10h8m-9 0h8m-14-12h8m-10 3h8m-10 7h8m-13 2h8m-10-1h8m-9-4h8m-14 4h8m-9-1h8m-11-2h8m-9 2h8m-8-2h8m-9 1h8m-16 2h8m-8-9h8m-9 3h8m-10-4h8m-8 1h8m-8 1h8m-10-2h8m-9-3h8m-8 2h8m-9 7h8m-9 0h8m-9 3h8m-9-11h8m-8 13h8m-9-2h8m-9-10h8m-9 5h8m-11-1h8m-10-3h8m-9 10h8m-9-12h8m-9 4h8m-8-4h8m-11 3h8m-8 5h8m-9-9h8m-8 1h8m-9 9h8m-8-4h8m-9 2h8m-9 2h8m-8-8h8m-10 11h8m-10-8h8m-8-3h8m-10 10h8m-9-9h8m-10 3h8m-9 3h8m-11-1h8m-10 0h8m-8 0h8m-8-2h8m-8 5h8m-9-9h8m-8 11h8m-8-10h8m-8 3h8m-9 2h8m-8 5h8m-8-1h8m-9-9h8m-9 0h8m-9 1h8m-10 9h8m-9-11h8m-9 1h8m-8 1h8m-9 5h8m-9 2h8m-8 2h8m-8-10h8m-8 11h8m-8-8h8m-9-5h8m-8 9h8m-8 2h8m-9-9h8m-10 4h8m-8 4h8m-9-4h8m-8 0h8m-9-6h8m-11 4h8m-8-2h8m-8 3h8m-9 6h8m-8 0h8m-9-11h8m-10 6h8m-9-7h8m-9 14h8m-9-13h8m-9 1h8m-9 1h8m-10 1h8m-9-2h8m-10-2h8m-9 5h8m-8-5h8m-12 13h8m-9-1h8m-10-5h8m-8-6h8m-9 7h8m-9 3h8m-9 0h8m-9-11h8m-8 2h8m-11 1h8m-10 3h8m-10-1h8m-11 0h8m-13 5h8m-8-2h8m-8-4h8m-10-3h8m-8 9h8m-10 1h8m-9-9h8m-8-2h8m-8 10h8m-8 3h8m-9-13h8m-10 8h8m-9-1h8m-8 5h8m-10-11h8m-8-1h8m-11 3h8m-9-2h8m-8 12h8m-9-7h8m-9-6h8m-9 8h8m-9-4h8m-8 9h8m-8-8h8m-12-1h8m-10 10h8m-9-5h8m-9-2h8m-11 4h8m-9-4h8m-8 3h8m-9-8h8m-10 4h8m-15-3h8m-8 0h8m-9-2h8m-13-1h8m-13 1h8m-9 9h8m-10 2h8m-10 0h8m-10-6h8m-10 5h8m-16-11h8m-16 9h8m-15 4h8m-12 0h8m-12-13h8m-9 4h8m-9 7h8m-21 1h8m-14-6h8m-29-2h8m-24 0h8m-13 6h8m-20-4h8m-13-4h8m-14 1h8m-17 10h8m-10-9h8m-11 6h8m-11-3h8m-8-4h8m-20 11h8m-13-12h8m-22 2h8m-14 7h8m-14-5h8m-9 8h8m-11-9h8m-37 1h8m-25-4h8m-8 4h8m-15 2h8m-9-5h8m-9-2h8m-7 18h8m11 4h8m22-5h8m13 0h8m45 8h8m-5-9h8m-3 6h8m5 3h8m-1-7h8m-4 9h8m6-4h8m-7-9h8m36 2h8m13-1h8m-4 6h8m-3 2h8m-6 5h8m6-3h8m-7-10h8m-6 9h8m-8-3h8m-6 3h8m-8-7h8m-7-3h8m-3 5h8m-7-3h8m-8 1h8m-6 3h8m-8 6h8m-6-4h8m-6-8h8m-7 6h8m-5 2h8m-7-5h8m-7 11h8m-6-8h8m-6-2h8m-5 7h8m-8-7h8m1 5h8m-8-5h8m-7 10h8m-6-5h8m-7-3h8m-5-6h8m-7 12h8m-4 0h8m-8-7h8m-5-2h8m-7 9h8m-7 2h8m-8-9h8m-6-3h8m-8 9h8m-7-4h8m-7 4h8m-6 2h8m-8-9h8m-8 3h8m-7-7h8m-8 6h8m-7 3h8m-8 3h8m-6-4h8m-6-4h8m-8 0h8m-8 0h8m-7 2h8m-8 1h8m-6-2h8m-8-2h8m-8 8h8m-7-7h8m-7 9h8m-8-13h8m-6 6h8m-8-3h8m-8-3h8m-6 4h8m-7-3h8m-8-1h8m-6 12h8m-7-1h8m-7-11h8m-7 14h8m-7-2h8m-8-4h8m-7-2h8m-7-5h8m-7 13h8m-4-12h8m-8 8h8m-7 2h8m-7-9h8m-8 5h8m-8-3h8m-7 7h8m-7-8h8m-8 9h8m-7-8h8m-7-3h8m-7-1h8m-7 11h8m-8-8h8m-7 4h8m-8-1h8m-7-2h8m-7 3h8m-5-3h8m-7 6h8m-7-6h8m-7-3h8m-6-2h8m-4 9h8m-7-5h8m-8-1h8m-8 11h8m-7-5h8m-8-8h8m-6 10h8m-7 2h8m-6-5h8m-6-7h8m-6 12h8m-8-5h8m-3 4h8m-8-10h8m-7-2h8m-7 11h8m-6-11h8m-7 1h8m-6 0h8m-8 5h8m-6-2h8m-2 0h8m-7-3h8m-6-1h8m-4 8h8m-8-5h8m-5 0h8m-6 8h8m-8-4h8m-4 3h8m-4 3h8m-4-8h8m-3 2h8m-5-2h8m6 1h8m18 1h8m35-7h8m31 1h8m-105 24h8m-13-10h8m-24 10h8m-28-5h8m-13 6h8m-13-10h8m-15 5h8m-9 3h8m-14 1h8m-16-3h8m-12-6h8m-10 7h8m-11-1h8m-14-7h8m-9 10h8m-12-1h8m-13-2h8m-9 7h8m-9 0h8m-10-10h8m-11 4h8m-9-5h8m-8 4h8m-19-1h8m-12-6h8m-10 12h8m-9-6h8m-9 1h8m-14 1h8m-8 1h8m-14-4h8m-8-3h8m-10-1h8m-8 13h8m-9-6h8m-15-8h8m-16 3h8m-14-1h8m-12 3h8m-12-4h8m-8 2h8m-9 2h8m-8 3h8m-14 3h8m-11-10h8m-9 5h8m-13 7h8m-8-8h8m-10 0h8m-9-1h8m-17 2h8m-8-4h8m-11 1h8m-10 0h8m-11 10h8m-8-6h8m-12 1h8m-9 3h8m-8 1h8m-10-10h8m-9 11h8m-9 1h8m-8-8h8m-9 1h8m-9 4h8m-9 1h8m-8-2h8m-11 4h8m-9-6h8m-15-4h8m-17 7h8m-11-8h8m-11 9h8m-10 1h8m-9-8h8m-10 8h8m-18-2h8m-25-7h8m-15 2h8m-13 1h8m-16-7h8m-29 8h8m-21 3h8m-18-10h8m-21 2h8m-74-2h8m-36 11h8m-18-12h8m12 28h8m-6-2h8m18-9h8m110 12h8m10-13h8m-6 11h8m9-11h8m-7 10h8m-2-4h8m-5-3h8m-8 0h8m7-3h8m-5-1h8m-1 4h8m-6 1h8m-4 5h8m10-6h8m-6 9h8m-8-10h8m-7 3h8m-7 6h8m-8-2h8m-7 1h8m-4-5h8m-6-3h8m-7-2h8m-6-1h8m-5 12h8m-7-3h8m-5 4h8m1-11h8m-6-2h8m-7 11h8m-7-11h8m-4 10h8m-8-8h8m-5-1h8m-3 4h8m-6-1h8m-7 7h8m-5-9h8m-8 0h8m-1 11h8m-5-11h8m3 4h8m3 5h8m-2-4h8m-6 7h8m1-14h8m-5 7h8m-4 0h8m-6 4h8m-6-5h8m4-6h8m2 8h8m-6 4h8m2-8h8m-5 2h8m17-1h8m-38 24h8m-28-10h8m-30-4h8m-8 8h8m-15-7h8m-17 8h8m-19 4h8m-19 0h8m-18-13h8m-9 11h8m-10 0h8m-18 0h8m-10 3h8m-9-7h8m-9-5h8m-9-2h8m-11 5h8m-13 0h8m-9 4h8m-14 2h8m-14-8h8m-10 8h8m-13 1h8m-18-4h8m-8-1h8m-16-7h8m-11 13h8m-12-6h8m-15 1h8m-23-3h8m-37 1h8m-19-2h8m-11-4h8m-33 4h8m-31-1h8m-24-2h8m-29 9h8m-19 2h8m-72 0h8m-16-9h8m95 23h8m48-11h8m17 10h8m50-5h8m-7 5h8m-1-5h8m-6 5h8m38-9h8m-7 13h8m7-13h8m-7 3h8m11-4h8m-5 5h8m-1 4h8m-7 1h8m38-8h8m-61 19h8m-39 6h8m-16 1h8m-29-1h8m-45-12h8m-55 0h8m-12 10h8m-50-2h8m-40 8h8m172 4h8m1 10h8m-20 8h8" stroke="#6c6c6c" stroke-width="8" opacity="1.0" fill="none"/>
<path d="M33.5 18.5H101.8V86.4" fill="none" stroke="#111" stroke-width="1.0"/>
<path d="M33.5 18V86.4H102.3" fill="none" stroke="#111" stroke-width="1.25"/>
<path d="M33.5 86.4v3.0M33.5 86.4h-3.0M50.58 86.4v3.0M33.5 69.43h-3.0M67.65 86.4v3.0M33.5 52.45h-3.0M84.72 86.4v3.0M33.5 35.48h-3.0M101.8 86.4v3.0M33.5 18.5h-3.0M38.6 86.4v1.5M33.5 81.3h-1.5M41.6 86.4v1.5M33.5 78.3h-1.5M43.8 86.4v1.5M33.5 76.2h-1.5M45.4 86.4v1.5M33.5 74.5h-1.5M46.8 86.4v1.5M33.5 73.2h-1.5M47.9 86.4v1.5M33.5 72.1h-1.5M48.9 86.4v1.5M33.5 71.1h-1.5M49.8 86.4v1.5M33.5 70.2h-1.5M55.7 86.4v1.5M33.5 64.3h-1.5M58.7 86.4v1.5M33.5 61.3h-1.5M60.9 86.4v1.5M33.5 59.2h-1.5M62.5 86.4v1.5M33.5 57.6h-1.5M63.9 86.4v1.5M33.5 56.2h-1.5M65.0 86.4v1.5M33.5 55.1h-1.5M66.0 86.4v1.5M33.5 54.1h-1.5M66.9 86.4v1.5M33.5 53.2h-1.5M72.8 86.4v1.5M33.5 47.3h-1.5M75.8 86.4v1.5M33.5 44.4h-1.5M77.9 86.4v1.5M33.5 42.2h-1.5M79.6 86.4v1.5M33.5 40.6h-1.5M80.9 86.4v1.5M33.5 39.2h-1.5M82.1 86.4v1.5M33.5 38.1h-1.5M83.1 86.4v1.5M33.5 37.1h-1.5M83.9 86.4v1.5M33.5 36.3h-1.5M89.9 86.4v1.5M33.5 30.4h-1.5M92.9 86.4v1.5M33.5 27.4h-1.5M95.0 86.4v1.5M33.5 25.3h-1.5M96.7 86.4v1.5M33.5 23.6h-1.5M98.0 86.4v1.5M33.5 22.3h-1.5M99.2 86.4v1.5M33.5 21.1h-1.5M100.1 86.4v1.5M33.5 20.1h-1.5M101.0 86.4v1.5M33.5 19.3h-1.5" stroke="#111" stroke-width="0.9" fill="none"/>
<text x="28.64" y="99.4" font-size="7.1" fill="#222" stroke="#222" stroke-width="0.14" textLength="7.8" lengthAdjust="spacingAndGlyphs">10</text><text x="36.94" y="97.18" font-size="4" fill="#222" stroke="#222" stroke-width="0.08">0</text>
<text x="18.18" y="89" font-size="7.1" fill="#222" stroke="#222" stroke-width="0.14" textLength="7.8" lengthAdjust="spacingAndGlyphs">10</text><text x="26.48" y="86.78" font-size="4" fill="#222" stroke="#222" stroke-width="0.08">0</text>
<text x="45.71" y="99.4" font-size="7.1" fill="#222" stroke="#222" stroke-width="0.14" textLength="7.8" lengthAdjust="spacingAndGlyphs">10</text><text x="54.01" y="97.18" font-size="4" fill="#222" stroke="#222" stroke-width="0.08">1</text>
<text x="18.18" y="72.03" font-size="7.1" fill="#222" stroke="#222" stroke-width="0.14" textLength="7.8" lengthAdjust="spacingAndGlyphs">10</text><text x="26.48" y="69.81" font-size="4" fill="#222" stroke="#222" stroke-width="0.08">1</text>
<text x="62.79" y="99.4" font-size="7.1" fill="#222" stroke="#222" stroke-width="0.14" textLength="7.8" lengthAdjust="spacingAndGlyphs">10</text><text x="71.09" y="97.18" font-size="4" fill="#222" stroke="#222" stroke-width="0.08">2</text>
<text x="18.18" y="55.05" font-size="7.1" fill="#222" stroke="#222" stroke-width="0.14" textLength="7.8" lengthAdjust="spacingAndGlyphs">10</text><text x="26.48" y="52.83" font-size="4" fill="#222" stroke="#222" stroke-width="0.08">2</text>
<text x="79.86" y="99.4" font-size="7.1" fill="#222" stroke="#222" stroke-width="0.14" textLength="7.8" lengthAdjust="spacingAndGlyphs">10</text><text x="88.16" y="97.18" font-size="4" fill="#222" stroke="#222" stroke-width="0.08">3</text>
<text x="18.18" y="38.08" font-size="7.1" fill="#222" stroke="#222" stroke-width="0.14" textLength="7.8" lengthAdjust="spacingAndGlyphs">10</text><text x="26.48" y="35.86" font-size="4" fill="#222" stroke="#222" stroke-width="0.08">3</text>
<text x="96.94" y="99.4" font-size="7.1" fill="#222" stroke="#222" stroke-width="0.14" textLength="7.8" lengthAdjust="spacingAndGlyphs">10</text><text x="105.24" y="97.18" font-size="4" fill="#222" stroke="#222" stroke-width="0.08">4</text>
<text x="18.18" y="21.1" font-size="7.1" fill="#222" stroke="#222" stroke-width="0.14" textLength="7.8" lengthAdjust="spacingAndGlyphs">10</text><text x="26.48" y="18.88" font-size="4" fill="#222" stroke="#222" stroke-width="0.08">4</text>
<rect x="62.0" y="39.0" width="39.4" height="31.0" fill="none" stroke="#111" stroke-width="1.6"/>
<text x="86.1" y="68.7" font-size="5.9" fill="#222" textLength="13.2" lengthAdjust="spacingAndGlyphs" stroke="#222" stroke-width="0.12">90%</text>
<text x="65.7" y="111.4" font-size="8.2" text-anchor="middle" fill="#1a1a1a" textLength="13.4" lengthAdjust="spacingAndGlyphs" stroke="#1a1a1a" stroke-width="0.3">CD45</text>
<text x="14.6" y="51" font-size="8.2" text-anchor="middle" fill="#1a1a1a" textLength="10.2" lengthAdjust="spacingAndGlyphs" transform="rotate(-90 14.6 51)" stroke="#1a1a1a" stroke-width="0.3">SSc</text>
<line x1="102.2" y1="56.9" x2="122.2" y2="56.9" stroke="#9a9a9a" stroke-width="1.3"/>
<path d="M121.2 54L128.7 56.9L121.2 59.8Z" fill="#111"/>
<path transform="scale(.1)" d="M2180 327h8m-125 4h8m25-1h8m33 7h8m-96 11h8m-43 5h8m-23-5h8m-84 5h8m-32 15h8m172-7h8m18 12h8m6-7h8m-4-1h8m48 3h8m22-5h8m-65 15h8m-40 11h8m-94-7h8m-142 1h8m69 19h8m115 1h8m5-3h8m-7-5h8m1 9h8m0-9h8m13 7h8m-6-5h8m-1-4h8m17-3h8m18 27h8m-49-2h8m-33-7h8m-8 8h8m-35-10h8m-10 1h8m-12 0h8m-9 3h8m-10 5h8m-26-5h8m-25-1h8m-15-2h8m-59 22h8m26-1h8m26 4h8m-8-3h8m-7 1h8m2 1h8m-3-7h8m13 2h8m-1 2h8m-4 2h8m10-10h8m-8 2h8m0 6h8m-6-1h8m0-1h8m-4 6h8m50 3h8m-50 3h8m-17 10h8m-22-2h8m-17-5h8m-17 0h8m-10 1h8m-17 4h8m-11 3h8m-11-9h8m-10 0h8m-13 0h8m-8 7h8m-20-8h8m-15 9h8m-16-6h8m-14 4h8m-11-11h8m-11 3h8m-21 3h8m-21 4h8m-14-5h8m-4 13h8m6-3h8m10 11h8m-6-4h8m12-2h8m-3 8h8m-2-10h8m-2-2h8m-5 8h8m-7-1h8m-8-2h8m-6-2h8m-7 4h8m4 1h8m-8-7h8m-3 2h8m-8 8h8m-1-4h8m12-3h8m0-2h8m-6 4h8m-6 7h8m-5-9h8m-7 3h8m-2 6h8m6 12h8m-12-11h8m-19 7h8m-13-6h8m-13-1h8m-25 3h8m-14 10h8m-9-9h8m-10 1h8m-10-3h8m-9 4h8m-12 7h8m-13-8h8m-12 6h8m-9 3h8m-19-9h8m-11-4h8m-9 10h8m-17 2h8m-17-11h8m-13 3h8m-10 0h8m-12-2h8m-15-3h8m-10 1h8m-9 6h8m-12 7h8m-9-1h8m-11-4h8m-10 1h8m-12-7h8m-28 7h8m-12-7h8m-12 11h8m-63-2h8m-97-10h8m51 18h8m70 4h8m-5-8h8m-5 0h8m-6 13h8m2-7h8m-7 6h8m-7-7h8m-6 6h8m-7-9h8m0 10h8m-4-6h8m0 4h8m5-8h8m7 7h8m-8 1h8m-8-3h8m-7 2h8m-6-6h8m-2 8h8m-7-11h8m-6 11h8m-4-2h8m-8 2h8m-7-6h8m0-4h8m5 2h8m2-1h8m-3 0h8m-6 0h8m-5-2h8m-3 12h8m-3-12h8m-7 12h8m-7-11h8m1 3h8m-4 6h8m-2-7h8m9 11h8m-14 8h8m-27 0h8m-10 6h8m-14-3h8m-10 0h8m-9-10h8m-18 3h8m-18 6h8m-8 4h8m-9 0h8m-12-7h8m-9-7h8m-9 12h8m-9 1h8m-13-12h8m-21-1h8m-8 13h8m-9-10h8m-16 6h8m-12-6h8m-9-1h8m-8 8h8m-11-6h8m-11 0h8m-9 9h8m-13-4h8m-8-9h8m-8 12h8m-14 0h8m-11-8h8m-9-3h8m-14 4h8m-11-2h8m-10 4h8m-14 1h8m-11 3h8m-11-7h8m-9 6h8m-8-7h8m-8-3h8m-11 2h8m-14 8h8m-8-10h8m-12 0h8m-13 6h8m-18-1h8m-10 2h8m-12 0h8m-9 7h8m-13-1h8m-13-2h8m-11 1h8m-11 0h8m-8-8h8m-12 2h8m-12 6h8m-10-12h8m-8 9h8m-8-1h8m-12-7h8m-31 8h8m-127 5h8m-24-2h8m27 16h8m106 0h8m5-2h8m-6-1h8m13 0h8m-2-3h8m-7 2h8m-6-5h8m-7 6h8m-6 0h8m-7-6h8m-5-1h8m-4 7h8m-7 0h8m-7-9h8m-7 4h8m1-2h8m-3 11h8m0-8h8m-8 0h8m-4-4h8m-5 4h8m-6-6h8m-8 5h8m-7 1h8m-8 7h8m-8-9h8m-4 5h8m-3-4h8m-8 8h8m-6-10h8m-1 1h8m-6 9h8m-8-11h8m-6 4h8m-1 6h8m-7-6h8m0-5h8m-7 4h8m-4 3h8m-7 3h8m3-3h8m-5-5h8m2 8h8m-3-6h8m0 1h8m-1-2h8m-7 0h8m-6 6h8m-7-3h8m8-7h8m-8 28h8m-12-13h8m-30 3h8m-9-2h8m-15 0h8m-13 9h8m-9-3h8m-10 7h8m-9-12h8m-15 4h8m-10-2h8m-9 5h8m-11-8h8m-14 1h8m-8 5h8m-12-6h8m-9 1h8m-10 4h8m-10 7h8m-11-8h8m-8 1h8m-11 1h8m-8 7h8m-11-9h8m-11 3h8m-17-5h8m-9 3h8m-10 8h8m-10-13h8m-8 3h8m-14-2h8m-9 12h8m-17-13h8m-12-1h8m-13 1h8m-13 2h8m-11-3h8m-8 0h8m-9 4h8m-12 7h8m-8-10h8m-13 9h8m-13-8h8m-10 10h8m-11 0h8m-13-5h8m-17 6h8m-18-2h8m-10 1h8m-10-10h8m-11 5h8m-9 4h8m-10-8h8m-13 6h8m-12-9h8m-13 4h8m-10 8h8m-92 1h8m41 7h8m-4 9h8m-2-3h8m4-5h8m17-2h8m-3 1h8m5 7h8m-5-2h8m-7-1h8m-5-5h8m-1-3h8m-6 5h8m-5 6h8m-7-7h8m-5 1h8m-7-1h8m-8 9h8m-4-1h8m-5-3h8m-7-9h8m-5 0h8m-7 12h8m-7-7h8m-7 2h8m-8-4h8m-6-3h8m-7 11h8m-8-3h8m-8-9h8m-7 12h8m-6-5h8m-7 2h8m-6 2h8m-4 0h8m-7-9h8m-6 4h8m-4-4h8m-8 6h8m-7-5h8m-5 1h8m-7 5h8m-7-1h8m-8-1h8m-5 3h8m-6-5h8m-7-4h8m-6 0h8m-5 0h8m-6 0h8m-8 4h8m-3 6h8m-6-8h8m1 7h8m-3-4h8m-3 3h8m-2 5h8m-7-8h8m-7 0h8m3 6h8m-7-9h8m-1 6h8m-6 5h8m-6-4h8m-5-9h8m-5 3h8m-4-3h8m54 26h8m-27-10h8m-17 4h8m-49-5h8m-14 2h8m-10 0h8m-11 10h8m-17-5h8m-12-5h8m-9 3h8m-13 5h8m-11-4h8m-11 6h8m-12-6h8m-13 5h8m-9-7h8m-9-4h8m-11-1h8m-9 3h8m-9 9h8m-8-5h8m-10-2h8m-8-5h8m-12 2h8m-9-1h8m-8 4h8m-9-5h8m-9 5h8m-15-3h8m-10 2h8m-16 9h8m-8 0h8m-17 0h8m-12-1h8m-9 2h8m-14-3h8m-9-2h8m-10-1h8m-10-8h8m-10 10h8m-13-7h8m-8 9h8m-8-1h8m-12-10h8m-8-1h8m-9 4h8m-13 10h8m-9-6h8m-9 0h8m-11 5h8m-10-4h8m-10-1h8m-9 4h8m-11-5h8m-10 3h8m-10-6h8m-12 9h8m-10-8h8m-8 0h8m-10 4h8m-10-2h8m-13 3h8m-13-6h8m-20-1h8m-11-2h8m-47-1h8m-15 10h8m-52 2h8m-44 11h8m79-4h8m5-3h8m8 10h8m-1 3h8m-5-11h8m-4 11h8m1-9h8m-3 2h8m-4-2h8m-1-3h8m-7 6h8m-5-7h8m-4 8h8m-8-8h8m-5 9h8m-6-9h8m-7 3h8m-4-2h8m-6-2h8m-2 1h8m4 5h8m-6-2h8m-5 0h8m-6-4h8m-7 0h8m-4 5h8m-6 6h8m-4-11h8m-7 8h8m-7 1h8m-8-1h8m-8-1h8m-5-3h8m0-4h8m-6 10h8m-4-1h8m-6 3h8m-8-11h8m-6 13h8m-7-13h8m-7-1h8m-6 4h8m-6 1h8m-5-1h8m-1-2h8m6 10h8m-7-7h8m-7 9h8m-4 0h8m20-8h8m13 23h8m-22-3h8m-15-9h8m-10 0h8m-9 2h8m-23 7h8m-9 1h8m-11 2h8m-8-8h8m-18 1h8m-12-1h8m-11 0h8m-13-1h8m-16 3h8m-25-7h8m-8 5h8m-12-6h8m-9 8h8m-13-5h8m-9 10h8m-8-9h8m-8 3h8m-12 2h8m-8 5h8m-9-12h8m-9 1h8m-11 0h8m-8-1h8m-14 0h8m-14-2h8m-8 13h8m-13-10h8m-14 2h8m-13 7h8m-9-6h8m-9-5h8m-8-1h8m-18 7h8m-9 4h8m-12-4h8m-10 1h8m-14-5h8m-11-3h8m-9 9h8m-10-2h8m-8-3h8m-9 0h8m-8 3h8m-11 4h8m-18-8h8m-24 5h8m-26 3h8m-28-2h8m-44-2h8m-31 5h8m8 3h8m32 14h8m6 0h8m2-3h8m-3-5h8m7 4h8m8-9h8m-6 8h8m-1-7h8m-1 7h8m-8-3h8m-7 0h8m-8 1h8m-7 6h8m-7-6h8m-6 2h8m-5-5h8m-6-4h8m-2 2h8m-6 1h8m-6 10h8m-5-11h8m-4-1h8m-4 13h8m-5-12h8m0 3h8m-6 5h8m-8-3h8m-8 3h8m-1 4h8m-7-5h8m-7-2h8m-6-4h8m-6-1h8m-8 2h8m-8-1h8m-6 5h8m-8 6h8m-1-6h8m-7 2h8m-1-3h8m-1-2h8m-4 4h8m-6-8h8m-6 9h8m-4-3h8m-8-6h8m-2 0h8m-8 13h8m-5-11h8m-6-3h8m1 0h8m21 0h8m-2 6h8m44 6h8m-90 9h8m-10 4h8m-9-7h8m-8 9h8m-10-2h8m-13 2h8m-15-11h8m-14-1h8m-13 10h8m-14 2h8m-10-1h8m-13-7h8m-18-3h8m-9 7h8m-10 5h8m-8-12h8m-10 0h8m-12 7h8m-24-8h8m-15 9h8m-11-7h8m-11 7h8m-9-4h8m-16 9h8m-10-4h8m-8-10h8m-11 5h8m-13 4h8m-8-7h8m-13 9h8m-9 1h8m-11-5h8m-11 3h8m-25 4h8m-10-8h8m-15-1h8m-15 6h8m-32-3h8m-8-4h8m-51 0h8m-28 4h8m-14-1h8m-9 3h8m-53 8h8m55 10h8m10-2h8m2-1h8m3-1h8m9 1h8m0-6h8m-3 2h8m-6-5h8m-6 3h8m-7 3h8m-5 3h8m-5-7h8m1 11h8m-3-5h8m-7-6h8m-4 2h8m-5-5h8m-7 4h8m-8-3h8m-2 9h8m-6 4h8m-4 0h8m-5-4h8m-3-10h8m-3 8h8m-8-2h8m-8 4h8m-5 0h8m-1 4h8m-4-11h8m-5 7h8m-4-8h8m2 5h8m-7-3h8m-7 8h8m-4-5h8m4 1h8m-8-4h8m2 10h8m-7-5h8m-6-6h8m-4-3h8m-4 6h8m34-1h8m-4 7h8m10-9h8m33 16h8m-81-2h8m-26 2h8m-17 3h8m-53 7h8m-12-6h8m-15 6h8m-9-11h8m-26 7h8m-14-8h8m-16 6h8m-12-4h8m-11-2h8m-9 0h8m-10-1h8m-9 6h8m-9 3h8m-16-3h8m-11 3h8m-17-4h8m-16 7h8m-8-4h8m-8 3h8m-9-2h8m-10-9h8m-10 11h8m-17-10h8m-14 7h8m-9-6h8m-16 8h8m-20-6h8m-22 8h8m-43 1h8m-213 0h8m-69 2h8m38 2h8m11 11h8m4-2h8m-5-10h8m58 5h8m1 4h8m11-2h8m23 2h8m-5-2h8m62-3h8m16 5h8m2-11h8m-3 11h8m0-9h8m4 2h8m-7 1h8m-7 3h8m-3 3h8m-4-5h8m-6 6h8m3-11h8m-8 4h8m-7 0h8m-8-3h8m-5 7h8m-5 5h8m-4-10h8m0 9h8m-7 1h8m-7 0h8m0 0h8m-7-4h8m-5-5h8m1 7h8m-5-3h8m-6 0h8m-7 2h8m0-11h8m-3 3h8m4 10h8m-1-3h8m-3-1h8m-3-3h8m-1-1h8m-8 2h8m-7-4h8m-6 8h8m-3-10h8m1 9h8m2-1h8m5-4h8m2 5h8m35-3h8m65 0h8m-60 21h8m-64-8h8m-24-3h8m-9 9h8m-13 2h8m-17-13h8m-16 6h8m-22 4h8m-15-10h8m-11 10h8m-9 1h8m-11-1h8m-9 1h8m-14 1h8m-13-12h8m-25 0h8m-9 1h8m-11 12h8m-15-9h8m-11 2h8m-12 3h8m-8 4h8m-9-2h8m-13 2h8m-10-10h8m-9 6h8m-9-6h8m-18 11h8m-10-2h8m-8 2h8m-10-13h8m-12 7h8m-8 6h8m-9-8h8m-19 6h8m-8-3h8m-13-1h8m-10 4h8m-10-10h8m-14 4h8m-8 4h8m-13 2h8m-9-7h8m-8 6h8m-14-4h8m-9 3h8m-10 4h8m-11-2h8m-14-11h8m-8 9h8m-9-1h8m-18 0h8m-9 4h8m-16-9h8m-9-3h8m-18 9h8m-56-1h8m-109-6h8m-10 1h8m-59-4h8m-79 8h8m16 15h8m71-5h8m26 11h8m5-14h8m1 12h8m-2-1h8m16-1h8m2 0h8m39-5h8m-6 8h8m-2-5h8m5-1h8m4 1h8m-7 1h8m3-7h8m2 7h8m-3 3h8m-6-6h8m-6 0h8m-5 6h8m-8-8h8m-3-2h8m-6 2h8m-2-2h8m-3 12h8m-7-10h8m-5 4h8m-7 0h8m-8 0h8m-5 1h8m-7 0h8m-6-3h8m-4-1h8m-3 3h8m-6-6h8m-8 12h8m-1-4h8m-5 1h8m-8-5h8m-7 2h8m-7 4h8m-4-6h8m-7-4h8m-8 2h8m-6 3h8m0 3h8m-4-3h8m-5 4h8m-6-4h8m-4 4h8m-4-3h8m-7 0h8m-4 1h8m-6 4h8m-7 0h8m-7-8h8m5 1h8m12 8h8m-4-7h8m-2-1h8m54-5h8m90 23h8m-31 3h8m-27 2h8m-40 0h8m-63-14h8m-18 0h8m-24 5h8m-22 7h8m-16 1h8m-17-4h8m-10-4h8m-16 2h8m-11 0h8m-10-2h8m-15-1h8m-9 3h8m-18-6h8m-12-1h8m-13 7h8m-12 6h8m-18-2h8m-11-7h8m-9-4h8m-9 1h8m-12-1h8m-9 1h8m-10 3h8m-8 6h8m-8-5h8m-9 9h8m-14-13h8m-11 1h8m-9 1h8m-8 0h8m-10 9h8m-11-2h8m-8 2h8m-12-4h8m-9 6h8m-10-9h8m-8 1h8m-12-4h8m-9 1h8m-9-3h8m-8 7h8m-9 2h8m-11 0h8m-11 5h8m-8-4h8m-10-9h8m-9 10h8m-8-9h8m-12 1h8m-9 0h8m-12 4h8m-9 6h8m-8-10h8m-10 5h8m-8 4h8m-10-5h8m-9-1h8m-12-5h8m-13 5h8m-10 3h8m-12 0h8m-10 0h8m-10 1h8m-21-6h8m-11 10h8m-8-7h8m-20 4h8m-22-2h8m-48 3h8m-16-6h8m-8 2h8m-18-1h8m-16 7h8m-15-9h8m-42 7h8m-8-8h8m-15 9h8m-34-2h8m-39-4h8m-117 8h8m3 4h8m21-3h8m-7 12h8m0-4h8m37-4h8m4 6h8m11-6h8m0 7h8m0 0h8m-5-3h8m-7 3h8m-5-2h8m5 4h8m-1-3h8m-2-1h8m-5 1h8m-8-8h8m1 8h8m-5-7h8m-6 7h8m1-11h8m0 14h8m-5-10h8m20 8h8m29-7h8m-3 6h8m1-4h8m-7 3h8m-4-9h8m-6-1h8m4 2h8m-6-1h8m5 12h8m-6-10h8m-7 4h8m-5 5h8m-8-3h8m-6-5h8m-4 8h8m-5-6h8m-7 2h8m-8 0h8m-7 3h8m-6-5h8m-6 2h8m-5-7h8m-6 10h8m-6-1h8m-2-4h8m-8 8h8m-7-11h8m-5 5h8m-3-3h8m-7 7h8m-6-2h8m-5 4h8m-2-14h8m-7 9h8m-7-8h8m-7 8h8m-8 1h8m-6 2h8m0-8h8m-7 5h8m-5 0h8m-8 1h8m-4 1h8m-8 2h8m-6-6h8m-6-4h8m-6 4h8m-5 6h8m-8-13h8m-7 11h8m-7-3h8m-5-4h8m-7 5h8m-8-2h8m-4 5h8m-8-11h8m-7 9h8m-7-9h8m-3 3h8m-6 10h8m-7-12h8m0-1h8m-6 7h8m-3 6h8m-4-7h8m-7-7h8m-7 13h8m-5-9h8m3 10h8m5-11h8m-6 4h8m8-1h8m-6-5h8m-3 0h8m7 10h8m0 0h8m-3 0h8m-4-6h8m-5 4h8m18-5h8m-4 1h8m34-2h8m17 2h8m-50 17h8m-112 0h8m-11 2h8m-15 3h8m-11-1h8m-26-4h8m-20 6h8m-10-2h8m-14-3h8m-9 6h8m-8-7h8m-12-6h8m-8 13h8m-9-10h8m-18 0h8m-9 1h8m-10 6h8m-9-6h8m-8 7h8m-10-7h8m-9 6h8m-10-1h8m-8-10h8m-10 2h8m-9 8h8m-9-8h8m-10 7h8m-10 1h8m-9-2h8m-10 0h8m-13 4h8m-8-5h8m-9 7h8m-8-3h8m-9 3h8m-8-3h8m-9 1h8m-10 1h8m-9-10h8m-9 7h8m-10 1h8m-9-4h8m-8-4h8m-9 6h8m-9-5h8m-10 10h8m-8-14h8m-8 3h8m-10 0h8m-10 6h8m-8-6h8m-22 8h8m-8-3h8m-11 6h8m-10-13h8m-10 3h8m-12 5h8m-9 3h8m-10-7h8m-9-1h8m-10-4h8m-9 14h8m-8-1h8m-8-4h8m-11-7h8m-8-2h8m-10 14h8m-10-13h8m-10-1h8m-8 0h8m-15 4h8m-9 9h8m-10-8h8m-10 9h8m-9-7h8m-9 2h8m-12-3h8m-12-4h8m-17 3h8m-12 2h8m-16 3h8m-15 4h8m-34-12h8m-11 6h8m-10-3h8m-31 2h8m-9 7h8m-12-3h8m-13-7h8m-15 2h8m-8-5h8m-20 4h8m-14-1h8m-13-3h8m-12 1h8m-13 6h8m-12 0h8m-10-2h8m-10 7h8m-15-3h8m-14-5h8m-9-1h8m-17 8h8m-15-2h8m-10-5h8m-9 9h8m-13-4h8m-8-3h8m-10 0h8m-17 7h8m-13-10h8m-9 6h8m-8 2h8m-16 1h8m-13-10h8m-12 9h8m-19-11h8m-11 12h8m-11-5h8m-16 5h8m-14-10h8m-10 5h8m-10 4h8m-9-2h8m-14-10h8m-15 14h8m-8-5h8m-8-8h8m-19 2h8m-9 1h8m-11 4h8m-31 3h8m-11 0h8m-18 2h8m-10-4h8m-4 12h8m-8 1h8m-7-6h8m8 13h8m-3 0h8m-5-13h8m-3 10h8m-3 1h8m-8-4h8m4 4h8m-7-9h8m4 10h8m-5-2h8m-3 3h8m-7-14h8m-4 8h8m-8-7h8m-7 10h8m-8-4h8m-8-6h8m-7 8h8m-7 5h8m-5-1h8m-6-9h8m0 4h8m-6 2h8m-7-1h8m-6-1h8m-7 1h8m-4 4h8m-7-13h8m6 4h8m-7 4h8m-1 5h8m-5-5h8m-4-8h8m-7 0h8m-2 9h8m-2-7h8m-5 5h8m-5 6h8m-7-5h8m-6 4h8m7-3h8m1 1h8m-7-2h8m-2-3h8m-2 9h8m-3-7h8m-7 7h8m-1 0h8m-2-3h8m-4 0h8m-8-2h8m-6 4h8m-6-4h8m-7 0h8m0 1h8m-2 4h8m1-3h8m-7-3h8m3-6h8m-7 11h8m-7-12h8m-6 3h8m-7 8h8m-4-10h8m-7 6h8m0-7h8m-4 5h8m-7-1h8m-4 2h8m-7 4h8m-8-1h8m-3 1h8m-7-10h8m-7 12h8m-6-1h8m-4-6h8m-8 4h8m-6-1h8m-8 5h8m-6-5h8m4 3h8m-6-3h8m-6-6h8m-7 9h8m-3-3h8m-6-7h8m-8 11h8m-6-7h8m-7-4h8m-7-1h8m-8 5h8m-6 2h8m-8-2h8m-7 4h8m-7-3h8m-6-2h8m-8 1h8m-7 6h8m-7-2h8m-8-1h8m-7-2h8m-6-5h8m-8-1h8m-8 9h8m-6-5h8m-7-1h8m-8 7h8m-6 1h8m-6 0h8m-8 1h8m-6-5h8m-6 4h8m-4 0h8m-7 1h8m-8-10h8m-8 11h8m-7-4h8m-8-10h8m-7 6h8m-3 7h8m-5-2h8m-8 1h8m-5 1h8m-7-2h8m-6 0h8m-7-11h8m-7 7h8m-8-7h8m-8 6h8m-6-1h8m-8-3h8m-7 6h8m-8-7h8m-7 5h8m-8-3h8m-8 0h8m-8 3h8m-7 7h8m-6-5h8m-6 0h8m-5 2h8m-8-9h8m-7 9h8m-6 3h8m-8-13h8m-7 12h8m-5-5h8m-7-3h8m-8 1h8m-7 4h8m-8-3h8m-7 4h8m-4-6h8m-6 5h8m-7 2h8m-8-2h8m-8-3h8m-2-4h8m-8 4h8m-6 3h8m-7-2h8m-8-4h8m-4 4h8m-7-2h8m-2 2h8m-6-1h8m-8 5h8m-4-9h8m-5 1h8m5 6h8m-7-7h8m-8-1h8m-7 9h8m-5 4h8m-8-13h8m-6 10h8m-3-6h8m-5-5h8m-4 0h8m-1 12h8m71-7h8m24 0h8m-1 5h8m39 13h8m-87-5h8m-58 9h8m-34-2h8m-10-2h8m-9 5h8m-27-6h8m-14 3h8m-9 4h8m-9-14h8m-9 13h8m-9-8h8m-10 1h8m-8 0h8m-15-4h8m-16 6h8m-9-5h8m-9 1h8m-8 10h8m-9-2h8m-8-7h8m-12 1h8m-8 0h8m-11 8h8m-9-10h8m-10 10h8m-8-12h8m-10 9h8m-9-10h8m-10 6h8m-9-7h8m-11 3h8m-10 3h8m-9-4h8m-9 2h8m-9 8h8m-10-5h8m-10 5h8m-11-5h8m-8-3h8m-8 8h8m-11-6h8m-9-3h8m-10 7h8m-9 4h8m-10-6h8m-8 5h8m-9-13h8m-8 13h8m-10-4h8m-9-7h8m-8 0h8m-9 8h8m-11 2h8m-10-8h8m-10 1h8m-10 6h8m-11-10h8m-10 13h8m-9-1h8m-8-4h8m-8-9h8m-9 2h8m-10 4h8m-10 8h8m-8 0h8m-9-12h8m-9 0h8m-12 8h8m-8-5h8m-8 7h8m-8 1h8m-9-2h8m-8 1h8m-9-5h8m-8 0h8m-10 7h8m-8-13h8m-11 13h8m-10-1h8m-8-2h8m-8 3h8m-10-13h8m-11 6h8m-8 1h8m-9-5h8m-8 3h8m-8 8h8m-8-7h8m-8 2h8m-10 4h8m-9-3h8m-10 1h8m-11-1h8m-8-9h8m-13 8h8m-9 0h8m-8 0h8m-8 1h8m-11-3h8m-8 0h8m-9-6h8m-9 5h8m-8-5h8m-9 10h8m-10-1h8m-9 3h8m-13-4h8m-12 5h8m-13-14h8m-9 0h8m-9 6h8m-14 3h8m-8 4h8m-9-8h8m-9 0h8m-9-4h8m-8 6h8m-8-6h8m-9 12h8m-11-13h8m-9 5h8m-8 3h8m-12 1h8m-28-4h8m-9 0h8m-9-5h8m-16 5h8m-16 9h8m-9-12h8m-9 9h8m-16-3h8m-10-4h8m-9 10h8m-9-2h8m-8-9h8m-11 1h8m-12 4h8m-11-1h8m-9-5h8m-9 10h8m-16-2h8m-9-8h8m-9-1h8m-8 3h8m-8 1h8m-9 9h8m-8-4h8m-9 3h8m-8 1h8m-8-6h8m-9 5h8m-9-3h8m-12 1h8m-9-3h8m-8-5h8m-8 5h8m-10 5h8m-9-9h8m-8 7h8m-9 2h8m-9-6h8m-9 6h8m-8-9h8m-9 8h8m-9 1h8m-13-10h8m-10 8h8m-8-7h8m-11 5h8m-8-3h8m-9-4h8m-10 12h8m-9-5h8m-8 3h8m-10-9h8m-8 6h8m-9 2h8m-11 0h8m-8-11h8m-10 2h8m-9 11h8m-9-2h8m-8-4h8m-9-1h8m-10 6h8m-9-7h8m-11 1h8m-9 0h8m-8 6h8m-10-7h8m-9-2h8m-8 8h8m-9 1h8m-8-6h8m-8 2h8m-8-5h8m-9-3h8m-8 14h8m-9-7h8m-10-2h8m-9 3h8m-8-2h8m-10 3h8m-11 2h8m-9-5h8m-8 1h8m-9 4h8m-11 0h8m-14-5h8m-10-1h8m-9 5h8m-8-6h8m-10 1h8m-8 3h8m-10 3h8m-8 1h8m-9-7h8m-9 7h8m-8-11h8m-9 11h8m-8-1h8m-8 1h8m-9-1h8m-8-3h8m-9-3h8m-8 1h8m-10-6h8m-9 9h8m-10 1h8m-11 4h8m-9-11h8m-10 10h8m-8-9h8m-11 3h8m-8-2h8m-12 2h8m-8-3h8m-11-4h8m-8 11h8m-9 1h8m-9-4h8m-9-4h8m-8-1h8m-11 8h8m-8-3h8m-9 3h8m-14-6h8m-8 3h8m-8 6h8m-11 0h8m-8-10h8m-11-4h8m-15 5h8m-8-1h8m-12 0h8m-9 10h8m-11-8h8m-16 7h8m-13-6h8m-10 3h8m-9-1h8m-9-7h8m-10 0h8m-9 4h8m-11 8h8m-10-4h8m-11-4h8m-17 4h8m-10 1h8m-8-10h8m-10 9h8m-9-1h8m-10 1h8m-11-10h8m-15 8h8m-9 1h8m-8-6h8m-10-1h8m-19 20h8m-5 6h8m-4-2h8m-8-7h8m-7 4h8m7 5h8m-6-2h8m-5-2h8m-4-6h8m-8-2h8m-7 4h8m-6 5h8m-1-8h8m-5 3h8m-6-1h8m-7 8h8m-6-4h8m-7-2h8m-5 6h8m-6-11h8m-4 9h8m-6-7h8m-4 5h8m-6 5h8m-6 0h8m-8-4h8m-4 4h8m-7-12h8m-6-1h8m-7 9h8m-7-8h8m-8 9h8m-8 0h8m-7 1h8m-4 0h8m-7 0h8m-7 0h8m-6-8h8m-6 9h8m-6-5h8m-6-2h8m-4 3h8m-8 6h8m-7-9h8m-6 8h8m-8-9h8m-7-4h8m-7 6h8m-5 0h8m-7 5h8m-8 3h8m-7-7h8m-8-1h8m-7 0h8m-7-6h8m-6 10h8m-7-8h8m-5 12h8m-7-4h8m-8-4h8m-8-3h8m-7 10h8m-7-4h8m-7-4h8m-8-4h8m-7 0h8m-7 11h8m-7-4h8m-8-8h8m-6 14h8m-8-6h8m-5-3h8m-8 2h8m-7 5h8m-7-5h8m-7 7h8m-7-4h8m-8-7h8m-7 4h8m-3 3h8m-8-9h8m-6 5h8m-8 5h8m-8-1h8m-7-9h8m-8 0h8m-7 1h8m-8 1h8m-6 0h8m-7 6h8m-8-5h8m-7 2h8m-8 1h8m-8 1h8m-5 2h8m-7 4h8m-7-5h8m-8 2h8m-7-6h8m-7 3h8m-8 6h8m-7-11h8m-8 7h8m-6 3h8m-7-8h8m-6-2h8m-8 0h8m-7-3h8m-6 5h8m-7 9h8m-8-13h8m-7 9h8m-7-7h8m-7 11h8m-8-11h8m-5 3h8m-8-2h8m-6 9h8m-7-4h8m-3 2h8m-7-7h8m-6 9h8m-7-6h8m-8-2h8m-7 2h8m-7-7h8m-6 6h8m-7-3h8m-5-1h8m-8 5h8m-7 0h8m-7 4h8m-5-7h8m-6 9h8m-7-2h8m-6 0h8m-7-3h8m-8-1h8m-5-4h8m-8 5h8m-5-4h8m-2 5h8m-8 2h8m-7-8h8m-8 7h8m-8-5h8m-5-2h8m-8 8h8m-8-7h8m-7-3h8m-7 10h8m-7 0h8m-7 3h8m-7-11h8m-1-2h8m-8 2h8m-7-2h8m-7 0h8m-5 1h8m-7 12h8m-7-2h8m-7-2h8m-4 4h8m-6-7h8m-5 7h8m-4-5h8m4-2h8m-7 0h8m-5 1h8m-2-3h8m-7 1h8m-2-1h8m-3 6h8m-7-11h8m-7 8h8m-5-6h8m-7 4h8m-7 8h8m3-12h8m-7 4h8m-6-6h8m-8 4h8m-6-3h8m-5 1h8m-8 9h8m-8-1h8m-7-9h8m-8 3h8m-7 9h8m-7-12h8m-8 7h8m-7 3h8m-8-9h8m-5 12h8m-7-8h8m-3 7h8m-6-5h8m-7 1h8m-8-6h8m-7 0h8m-8 11h8m-8-4h8m-8 1h8m-6-3h8m-7-3h8m-8 7h8m-7-2h8m-6-10h8m-7 2h8m-5 1h8m-8 9h8m-8-12h8m-8 7h8m-5 5h8m-7-1h8m-8-5h8m-8-4h8m-7 7h8m-8-7h8m-8-1h8m-7 12h8m-3-7h8m-6 6h8m-7-5h8m-8 5h8m-7-10h8m-7 4h8m-8-2h8m-8 8h8m-6-7h8m-8 3h8m-7-5h8m-6 9h8m-8 1h8m-5-10h8m-8 10h8m-7-8h8m-7 0h8m-8-2h8m-6 1h8m-8 4h8m-7-2h8m-7 6h8m-5-1h8m-8 0h8m-7 1h8m-7-9h8m-7-1h8m-6 6h8m-8-8h8m-6 14h8m-7-4h8m-7-1h8m-7-9h8m-8 2h8m-6 4h8m-7-1h8m-7 3h8m-7 4h8m-7-10h8m-7 6h8m-7-4h8m-7-2h8m-8 0h8m-8 8h8m-7-2h8m-5 1h8m-7-8h8m-7 8h8m-3-1h8m-7-3h8m-5 5h8m-7-9h8m-6-1h8m-8 11h8m-7 3h8m-8-1h8m-7-13h8m-7 3h8m-5 2h8m-8 3h8m-7-2h8m-1 2h8m-7 1h8m-7 3h8m-8-4h8m-7-2h8m-7 2h8m-7 3h8m-2-11h8m-8 1h8m-3 12h8m-6-2h8m6 0h8m-5-4h8m-6 2h8m25-6h8m3-3h8m46 11h8m32-4h8m30-5h8m-43 15h8m-32 0h8m-60 10h8m-20-10h8m-53 11h8m-22 1h8m-20-14h8m-15 10h8m-8 1h8m-9-6h8m-12 5h8m-10-9h8m-11 0h8m-18 5h8m-11 1h8m-9 6h8m-9-1h8m-10 0h8m-8-7h8m-9 1h8m-8 2h8m-15 5h8m-8-4h8m-9-6h8m-9-3h8m-10 11h8m-15 3h8m-12-7h8m-8-2h8m-9-5h8m-10 4h8m-8 10h8m-8-6h8m-10 4h8m-8 0h8m-8-4h8m-9-2h8m-8 1h8m-9-5h8m-9 6h8m-10-8h8m-11 8h8m-9-5h8m-8-3h8m-9 8h8m-8-1h8m-9 2h8m-9-6h8m-10 1h8m-8 5h8m-9-3h8m-8-5h8m-9 2h8m-9-2h8m-10 8h8m-8-1h8m-12-5h8m-9 0h8m-8 0h8m-12 0h8m-9 1h8m-9-4h8m-8 2h8m-8 11h8m-10-1h8m-8-2h8m-8-6h8m-10-4h8m-9 13h8m-9-10h8m-10 0h8m-9 1h8m-8 2h8m-11 7h8m-8 1h8m-11-5h8m-11-8h8m-10 5h8m-8 7h8m-13-13h8m-9 13h8m-10-4h8m-8-9h8m-10 6h8m-12-2h8m-8-4h8m-9 1h8m-9 3h8m-9 5h8m-13 2h8m-9-11h8m-10 12h8m-9-10h8m-9-1h8m-10 9h8m-8-9h8m-11 9h8m-8 0h8m-10-3h8m-8 1h8m-9 2h8m-10 3h8m-8-1h8m-9-1h8m-13-4h8m-8 5h8m-16-5h8m-10-3h8m-10-2h8m-10 0h8m-12 0h8m-10 3h8m-10 6h8m-9-9h8m-9 8h8m-8 3h8m-13-5h8m-9 5h8m-12-3h8m-9-4h8m-10 5h8m-8 2h8m-9-3h8m-9-4h8m-12-5h8m-9 10h8m-11-3h8m-9-8h8m-8 0h8m-8 6h8m-8-1h8m-13-2h8m-9 6h8m-9 0h8m-8 5h8m-13-14h8m-9 9h8m-8 4h8m-10-5h8m-9-5h8m-11 1h8m-9-2h8m-9 7h8m-8-9h8m-8 12h8m-11-10h8m-8 2h8m-10-2h8m-9 0h8m-9 12h8m-10-5h8m-8 3h8m-12-2h8m-9 1h8m-8 3h8m-11-14h8m-9 1h8m-9 3h8m-10 10h8m-8-10h8m-9 9h8m-9-6h8m-9-7h8m-9 1h8m-8 12h8m-9 1h8m-8-10h8m-10 9h8m-8-7h8m-8-6h8m-9 10h8m-11 2h8m-10-9h8m-9 4h8m-9 7h8m-8-7h8m-9-2h8m-13 3h8m-9 6h8m-9-4h8m-10-4h8m-8 6h8m-9-3h8m-8-2h8m-8 0h8m-8 7h8m-9-1h8m-8-8h8m-11-1h8m-8 3h8m-9-7h8m-10 4h8m-9 5h8m-9-3h8m-8-2h8m-9-1h8m-11-3h8m-9 1h8m-8 12h8m-9-6h8m-9-6h8m-9 2h8m-9-2h8m-9 1h8m-9 0h8m-9 6h8m-9 1h8m-8 3h8m-9-5h8m-8-6h8m-9-1h8m-8 8h8m-9 3h8m-10-8h8m-8 1h8m-9-1h8m-8 11h8m-9-5h8m-8 5h8m-9-11h8m-8-3h8m-10 12h8m-8-10h8m-10 12h8m-8-11h8m-9 7h8m-9-4h8m-9 3h8m-9-6h8m-8 5h8m-8 3h8m-10-1h8m-8 3h8m-10-6h8m-9 1h8m-8 2h8m-8 2h8m-9 1h8m-10-10h8m-8 8h8m-8-6h8m-9-2h8m-9 4h8m-9 7h8m-8-14h8m-11 8h8m-9 3h8m-8-2h8m-9-6h8m-8 8h8m-9-3h8m-8-4h8m-9 6h8m-10-4h8m-8-4h8m-9-2h8m-8 9h8m-9-4h8m-9-4h8m-11 3h8m-9-4h8m-8 13h8m-8-10h8m-9 2h8m-8-5h8m-8 1h8m-10 11h8m-8-6h8m-10 6h8m-8-7h8m-8 9h8m-9-10h8m-10 9h8m-8-9h8m-10 0h8m-8 10h8m-8-7h8m-9-6h8m-8 11h8m-9-1h8m-11-6h8m-9 4h8m-8-2h8m-8 6h8m-9-3h8m-9 4h8m-8-14h8m-8 5h8m-8 4h8m-9 0h8m-8-9h8m-8 11h8m-10-1h8m-9-2h8m-8 4h8m-8-7h8m-8 3h8m-9 2h8m-8-7h8m-9 6h8m-9 2h8m-10 1h8m-9-3h8m-11-2h8m-8 2h8m-8-4h8m-9 3h8m-9 5h8m-8 0h8m-9-4h8m-9 0h8m-9-2h8m-13-3h8m-9 10h8m-13-3h8m-9-11h8m-8 7h8m-9 5h8m-8-7h8m-10 6h8m-9 2h8m-9 0h8m-9-6h8m-8-7h8m-12 0h8m-9 5h8m-9-5h8m-9 12h8m-10-3h8m-8-8h8m-12 6h8m-9-6h8m-11 4h8m-11 8h8m-9-4h8m-9 4h8m-8-13h8m-8 12h8m-9-3h8m-9 5h8m-9-13h8m-10 10h8m-13 3h8m-11-8h8m-9-3h8m-9 10h8m-8-12h8m-9 11h8m-13-3h8m-12 0h8m-9 16h8m-2 1h8m0 3h8m-8-9h8m-6 8h8m-3-11h8m-3 4h8m-5 3h8m-4-8h8m-6 3h8m-5 6h8m-4-9h8m-8 12h8m-8-4h8m-7 3h8m-8-8h8m-8 5h8m-6-8h8m-8 12h8m-6-13h8m-7 10h8m-6-4h8m-7-5h8m-7 3h8m-8-4h8m-8 10h8m-8-9h8m-8 7h8m-7-2h8m-7-6h8m-4 6h8m-6-3h8m-8 8h8m-8 1h8m-5-5h8m-8 5h8m-5-11h8m-8 10h8m-8-9h8m-7 1h8m-5 5h8m-6-3h8m-7 0h8m-7-4h8m-8 13h8m-5-2h8m-7-12h8m-8 4h8m-7 4h8m-7-2h8m-8 4h8m-8-9h8m-7 8h8m-4-7h8m-6 8h8m-6-7h8m-7 5h8m-8-7h8m-7 6h8m-5 4h8m-8-7h8m-7 7h8m-8-7h8m-6-3h8m-8 5h8m-8-2h8m-7-1h8m-7 6h8m-8-9h8m-7 11h8m-8-6h8m-7 6h8m-8-9h8m-8 9h8m-7-2h8m-6-5h8m-8-4h8m-8 6h8m-8-5h8m-7 11h8m-8-6h8m-8-1h8m-8 0h8m-7 7h8m-7 0h8m-8-11h8m-7 0h8m-8 5h8m-7-6h8m-8 3h8m-6 5h8m-6-7h8m-7 2h8m-6-3h8m-8 14h8m-7-3h8m-8-9h8m-5-1h8m-8 1h8m-7 0h8m-7 10h8m-7-8h8m-7 6h8m-7 1h8m-7-1h8m-7-9h8m-7 4h8m-8-3h8m-7 3h8m-8-1h8m-7-1h8m-7 7h8m-8-9h8m-7 11h8m-6-6h8m-7 3h8m-7-6h8m-7 10h8m-7-5h8m-8-2h8m-7 6h8m-7-3h8m-8-5h8m-6 5h8m-8-9h8m-8 10h8m-7 0h8m-5 4h8m-8-12h8m-7-2h8m-7 9h8m-8-6h8m-8 1h8m-7 2h8m-7 6h8m-8-6h8m-7-1h8m-6 4h8m-8-9h8m-4 12h8m-8-7h8m-7-4h8m-8 10h8m-8-11h8m-7 2h8m-7 5h8m-8-7h8m-7 6h8m-7-1h8m-5-1h8m-7 4h8m-8-4h8m-6 6h8m-7-1h8m-8 2h8m-7-2h8m-7 5h8m-7-13h8m-8 10h8m-7-3h8m-8 2h8m-7 4h8m-8-6h8m-7 0h8m-7 1h8m-8-7h8m-7 8h8m-7-8h8m-7 10h8m-5-3h8m-7-2h8m-8-6h8m-5 2h8m-8 1h8m-7 5h8m-8 5h8m-7-12h8m-8 9h8m-7-5h8m-6-6h8m-7 9h8m-7-5h8m-8 5h8m-7 4h8m-8-10h8m-7 3h8m-6 3h8m-7-5h8m-7 9h8m-8-7h8m-7 1h8m-7 1h8m-8-1h8m-7 4h8m-7 0h8m-8-6h8m-8 2h8m-8 0h8m-8-3h8m-8 0h8m-7 2h8m-8-2h8m-7 6h8m-6-4h8m-8 1h8m-8 7h8m-5-13h8m-6 5h8m-7 4h8m-8 4h8m-8-9h8m-7 8h8m-8-12h8m-7 13h8m-8-11h8m-6 4h8m-8-2h8m-8-3h8m-8 10h8m-7-9h8m-8-2h8m-8 3h8m-7 9h8m-8-3h8m-7-9h8m-8 1h8m-7 11h8m-3-7h8m-2-2h8m-7 9h8m-8-6h8m-4 4h8m-6 0h8m-6 0h8m-8-3h8m-5 4h8m-8-11h8m-8 11h8m-1-6h8m-8 1h8m-8 0h8m-7 6h8m-8 0h8m-6 1h8m-7-9h8m-7 9h8m-8-4h8m-3-4h8m-7-6h8m-7 9h8m-8-3h8m-5-2h8m-7-3h8m-5 3h8m-1 10h8m-6-4h8m-7 2h8m-6-5h8m-7-7h8m-6 1h8m-8 10h8m-8-6h8m-5 1h8m-6-1h8m-7-1h8m-7 6h8m-4 1h8m-7-9h8m5-2h8m-7 4h8m-7 1h8m-6 4h8m-7-9h8m-8 2h8m-6 10h8m-8-12h8m-8 0h8m-7 12h8m-7-5h8m-8-1h8m-5 4h8m-8-3h8m-6-6h8m-6 9h8m-8-9h8m-8-1h8m-7 4h8m-7-1h8m-8 1h8m-7 4h8m-7-7h8m-8 1h8m-8-1h8m-6 11h8m-7-7h8m-7-4h8m-7 0h8m-8 9h8m-7-3h8m-8-4h8m-8 0h8m-5 5h8m-8 3h8m-7-4h8m-7 2h8m-7-5h8m-8 9h8m-7-1h8m-7-5h8m-8-5h8m-8-1h8m-7 6h8m-8 3h8m-6-8h8m-8-2h8m-7 13h8m-7-6h8m-8 2h8m-8 1h8m-6 0h8m-7 1h8m-8-9h8m-3 8h8m-7 2h8m-8-4h8m-7-8h8m-8 5h8m-7 4h8m-5-5h8m-8-4h8m-7 3h8m-6 3h8m-8 4h8m-6-2h8m-6 3h8m-8-3h8m-8-4h8m-6 10h8m-8-8h8m-8-6h8m-6 6h8m-7-5h8m-8 11h8m-5-7h8m-7 9h8m-8-2h8m-8-11h8m-6-1h8m-6 14h8m-7-10h8m-8 3h8m-8 1h8m-6 3h8m-5-8h8m-7 2h8m-7-4h8m-5 8h8m-5-1h8m-6-4h8m-5 9h8m-4-1h8m-5-11h8m-8 2h8m-3 6h8m-6 2h8m-6 0h8m5-3h8m-7 1h8m-8-1h8m-2-4h8m-1 5h8m-7-9h8m7 4h8m-5-4h8m-5 6h8m-3 4h8m16 0h8m-2-1h8m-8 4h8m138 14h8m-183 2h8m-14-11h8m-11-1h8m-25-1h8m-15 2h8m-20 5h8m-16-6h8m-11 6h8m-22-6h8m-13 3h8m-9 1h8m-9-3h8m-9 6h8m-14-5h8m-9 5h8m-10 3h8m-12-6h8m-10 4h8m-8 0h8m-10-1h8m-8-6h8m-10 8h8m-9-4h8m-10-5h8m-12-1h8m-13 1h8m-9 5h8m-8 2h8m-9 3h8m-9-8h8m-15-4h8m-11 12h8m-10-10h8m-9 1h8m-8 3h8m-10 1h8m-9 4h8m-8 0h8m-11-10h8m-8 13h8m-9-8h8m-9-4h8m-8 6h8m-11 2h8m-9-7h8m-9-1h8m-9 9h8m-10-7h8m-8-2h8m-10 8h8m-9-1h8m-12-8h8m-8 6h8m-8 6h8m-11-12h8m-8 4h8m-9-1h8m-14-1h8m-12 9h8m-8-4h8m-9-7h8m-9 11h8m-10 0h8m-9-12h8m-8 6h8m-10 4h8m-15-10h8m-10 10h8m-11-2h8m-12-7h8m-8 0h8m-11 5h8m-12 2h8m-9-4h8m-9 9h8m-13-10h8m-12 2h8m-8 4h8m-9 0h8m-10 1h8m-11-1h8m-8-8h8m-8 5h8m-8 3h8m-14 4h8m-10-9h8m-23-2h8m-9 3h8m-9 9h8m-10-5h8m-8 4h8m-8-11h8m-10 4h8m-8-3h8m-8 6h8m-10-1h8m-9-5h8m-8 3h8m-9 5h8m-9-5h8m-10 0h8m-10 2h8m-8 2h8m-13-6h8m-8 0h8m-9 10h8m-11-8h8m-10-3h8m-10-2h8m-9 11h8m-9 0h8m-8-1h8m-11 1h8m-9-10h8m-8 1h8m-8-3h8m-9 5h8m-10 8h8m-9-3h8m-9-4h8m-10 2h8m-8-3h8m-9-5h8m-10 9h8m-12-5h8m-10 0h8m-9 0h8m-9-4h8m-9 7h8m-12 5h8m-9-1h8m-9 2h8m-8-10h8m-9 3h8m-9 7h8m-10-2h8m-9-10h8m-10 4h8m-8 4h8m-9-2h8m-8-5h8m-10 4h8m-8-6h8m-8 0h8m-9 11h8m-11-5h8m-8 7h8m-9-10h8m-8-3h8m-9 4h8m-8 2h8m-10 4h8m-8-10h8m-8 8h8m-9-6h8m-8-2h8m-9 5h8m-8-3h8m-9 4h8m-8-3h8m-8 1h8m-11 3h8m-8-2h8m-9 8h8m-8-4h8m-8 0h8m-11 0h8m-8 5h8m-9-9h8m-8 9h8m-8-2h8m-9-12h8m-9 1h8m-9-1h8m-9 8h8m-8 3h8m-9-11h8m-8 3h8m-11 11h8m-9-6h8m-8 4h8m-10-7h8m-8 3h8m-9-7h8m-10 10h8m-8-6h8m-10 6h8m-8-11h8m-8 9h8m-9-7h8m-8-1h8m-9 2h8m-11 4h8m-9 2h8m-11 1h8m-10-6h8m-9 7h8m-9-5h8m-9-5h8m-8 6h8m-9 1h8m-8-4h8m-10 8h8m-8-7h8m-9 7h8m-9-10h8m-9 9h8m-8 0h8m-9 0h8m-8 1h8m-9-10h8m-11 4h8m-10-4h8m-9 11h8m-9 0h8m-8-2h8m-9-10h8m-9 5h8m-8-5h8m-8 8h8m-9 5h8m-12-8h8m-8-6h8m-9 2h8m-8 8h8m-10-3h8m-9 0h8m-10-6h8m-9 3h8m-10 8h8m-10 2h8m-8-14h8m-9 2h8m-13 8h8m-12-9h8m-12 10h8m-8-6h8m-9 8h8m-8-10h8m-10 8h8m-8-2h8m-9-4h8m-9 8h8m-9-10h8m-9 5h8m-9 6h8m-8-12h8m-12 8h8m-8-4h8m-9 8h8m-10-11h8m-13 6h8m-9-5h8m-8 10h8m-10-7h8m-8 0h8m-9-6h8m-11 3h8m-9 9h8m-9-4h8m-14-9h8m-9 14h8m-9-5h8m-8-8h8m-11 1h8m-14 7h8m-11 3h8m-10-2h8m-10-7h8m-9 7h8m-9-2h8m-8 5h8m-12 1h8m-8-10h8m-13 6h8m-10 4h8m-9-11h8m-10-1h8m-10-1h8m-9 11h8m-8-9h8m-10 7h8m-15 1h8m-4 8h8m-5 8h8m-3-2h8m-7-2h8m-5-6h8m-2 0h8m-7 9h8m-8-9h8m1 4h8m-8 3h8m-7-8h8m-8-1h8m-6 8h8m-6-6h8m-6 6h8m-8-5h8m-7 9h8m-4-2h8m-7-9h8m-5 6h8m-5 2h8m-7-7h8m-3 2h8m-6-3h8m-8 9h8m-5 3h8m-7-4h8m-5-6h8m-8 3h8m-8-2h8m-8 6h8m-6-7h8m-6 1h8m-5 9h8m-7-11h8m-8 0h8m-7 8h8m-8-1h8m-8-9h8m-5 0h8m-7 1h8m-8 4h8m-3 4h8m-7-2h8m-7 3h8m-6-1h8m-8-7h8m-2 6h8m-7-5h8m-6 5h8m-2-6h8m-6 4h8m-5 0h8m-8-6h8m-5 6h8m-8 3h8m-7-2h8m-7 0h8m-8-7h8m-6 4h8m-7 0h8m-4-4h8m-8 3h8m-2 9h8m-7-3h8m-7-4h8m-8-1h8m-7-4h8m-7 5h8m-5 6h8m-8 3h8m-7 0h8m-7-6h8m-6 6h8m-6-1h8m-5-13h8m-6 6h8m-6-4h8m-7-2h8m-7 0h8m-7 14h8m-7-9h8m-7-3h8m-8-2h8m-8 14h8m2-7h8m-7 7h8m-7-8h8m-7 5h8m-7-5h8m-8-3h8m-7 7h8m-5-3h8m-4-1h8m-7-6h8m-7 2h8m-6 6h8m-5 0h8m-5 6h8m-7-9h8m-5 7h8m-7-2h8m-7-9h8m-8-1h8m-5 13h8m-8-10h8m-4 4h8m-6 6h8m-7-13h8m-7 3h8m-6 6h8m-7 2h8m-5 2h8m-8 0h8m-6-10h8m-7 8h8m-7-10h8m-5 6h8m-7-4h8m-8-3h8m-8 1h8m-7 7h8m-7-6h8m-3 3h8m-6 9h8m-7-1h8m-5 1h8m-8-11h8m-7-1h8m-7 11h8m-7-8h8m-8 8h8m-7-8h8m-6 2h8m-7-6h8m-5 0h8m-7 0h8m-8 8h8m-8-1h8m-3-1h8m-6 0h8m-5 7h8m-7-5h8m-6-3h8m-3-6h8m-1 10h8m-6 3h8m-8 0h8m-6-13h8m-7 14h8m-7-14h8m-7 0h8m-6 0h8m-7 2h8m-8 3h8m-4 4h8m-7-3h8m-5 1h8m-7 4h8m-7-5h8m-8-1h8m-4-3h8m-4 7h8m-5-6h8m-8-1h8m-7 6h8m-6-6h8m0 9h8m-8-8h8m-6 5h8m-2-4h8m-7 0h8m-6 4h8m-1 4h8m-2-5h8m-4 1h8m-6-1h8m-7-5h8m-4 11h8m-7-1h8m-8-8h8m-7 1h8m-5 6h8m-5 0h8m-8 3h8m-7 0h8m-7-10h8m-6 10h8m-7-3h8m-8-7h8m-8 3h8m-7-4h8m-8-1h8m-1 1h8m-6 2h8m-5 8h8m-1 1h8m-6-8h8m-7-4h8m-8 1h8m-8 9h8m-7-5h8m-7 7h8m-8-10h8m-1 3h8m-7 3h8m-8-10h8m-5 1h8m-8 0h8m-6 11h8m-8-11h8m-6 10h8m-6-7h8m-8 7h8m-4-7h8m-7-4h8m-6 4h8m-1-4h8m-7 1h8m-8 7h8m-3-6h8m-1 5h8m12 7h8m5-11h8m-2 7h8m0-3h8m-7 5h8m63 1h8m10-5h8m42-3h8m36 7h8m-251 3h8m-53 1h8m-46-1h8m-58 0h8m-20 1h8m-31-1h8m-16 0h8m-71 0h8m-18 0h8m-31 0h8m-61 1h8m-25 0h8m-42 0h8m-14-1h8m-8 0h8" stroke="#151515" stroke-width="8" opacity="1.0" fill="none"/>
<path d="M161.3 18.6H228.4V85.6" fill="none" stroke="#111" stroke-width="1.0"/>
<path d="M161.3 18.1V85.6H228.9" fill="none" stroke="#111" stroke-width="1.25"/>
<path d="M161.3 85.6v3.0M161.3 85.6h-3.0M178.08 85.6v3.0M161.3 68.85h-3.0M194.85 85.6v3.0M161.3 52.1h-3.0M211.62 85.6v3.0M161.3 35.35h-3.0M228.4 85.6v3.0M161.3 18.6h-3.0M166.3 85.6v1.5M161.3 80.6h-1.5M169.3 85.6v1.5M161.3 77.6h-1.5M171.4 85.6v1.5M161.3 75.5h-1.5M173.0 85.6v1.5M161.3 73.9h-1.5M174.4 85.6v1.5M161.3 72.6h-1.5M175.5 85.6v1.5M161.3 71.4h-1.5M176.4 85.6v1.5M161.3 70.5h-1.5M177.3 85.6v1.5M161.3 69.6h-1.5M183.1 85.6v1.5M161.3 63.8h-1.5M186.1 85.6v1.5M161.3 60.9h-1.5M188.2 85.6v1.5M161.3 58.8h-1.5M189.8 85.6v1.5M161.3 57.1h-1.5M191.1 85.6v1.5M161.3 55.8h-1.5M192.3 85.6v1.5M161.3 54.7h-1.5M193.2 85.6v1.5M161.3 53.7h-1.5M194.1 85.6v1.5M161.3 52.9h-1.5M199.9 85.6v1.5M161.3 47.1h-1.5M202.9 85.6v1.5M161.3 44.1h-1.5M204.9 85.6v1.5M161.3 42.0h-1.5M206.6 85.6v1.5M161.3 40.4h-1.5M207.9 85.6v1.5M161.3 39.1h-1.5M209.0 85.6v1.5M161.3 37.9h-1.5M210.0 85.6v1.5M161.3 37.0h-1.5M210.9 85.6v1.5M161.3 36.1h-1.5M216.7 85.6v1.5M161.3 30.3h-1.5M219.6 85.6v1.5M161.3 27.4h-1.5M221.7 85.6v1.5M161.3 25.3h-1.5M223.4 85.6v1.5M161.3 23.6h-1.5M224.7 85.6v1.5M161.3 22.3h-1.5M225.8 85.6v1.5M161.3 21.2h-1.5M226.8 85.6v1.5M161.3 20.2h-1.5M227.6 85.6v1.5M161.3 19.4h-1.5" stroke="#111" stroke-width="0.9" fill="none"/>
<text x="156.44" y="98.6" font-size="7.1" fill="#222" stroke="#222" stroke-width="0.14" textLength="7.8" lengthAdjust="spacingAndGlyphs">10</text><text x="164.74" y="96.38" font-size="4" fill="#222" stroke="#222" stroke-width="0.08">0</text>
<text x="145.98" y="88.2" font-size="7.1" fill="#222" stroke="#222" stroke-width="0.14" textLength="7.8" lengthAdjust="spacingAndGlyphs">10</text><text x="154.28" y="85.98" font-size="4" fill="#222" stroke="#222" stroke-width="0.08">0</text>
<text x="173.21" y="98.6" font-size="7.1" fill="#222" stroke="#222" stroke-width="0.14" textLength="7.8" lengthAdjust="spacingAndGlyphs">10</text><text x="181.51" y="96.38" font-size="4" fill="#222" stroke="#222" stroke-width="0.08">1</text>
<text x="145.98" y="71.45" font-size="7.1" fill="#222" stroke="#222" stroke-width="0.14" textLength="7.8" lengthAdjust="spacingAndGlyphs">10</text><text x="154.28" y="69.23" font-size="4" fill="#222" stroke="#222" stroke-width="0.08">1</text>
<text x="189.99" y="98.6" font-size="7.1" fill="#222" stroke="#222" stroke-width="0.14" textLength="7.8" lengthAdjust="spacingAndGlyphs">10</text><text x="198.29" y="96.38" font-size="4" fill="#222" stroke="#222" stroke-width="0.08">2</text>
<text x="145.98" y="54.7" font-size="7.1" fill="#222" stroke="#222" stroke-width="0.14" textLength="7.8" lengthAdjust="spacingAndGlyphs">10</text><text x="154.28" y="52.48" font-size="4" fill="#222" stroke="#222" stroke-width="0.08">2</text>
<text x="206.76" y="98.6" font-size="7.1" fill="#222" stroke="#222" stroke-width="0.14" textLength="7.8" lengthAdjust="spacingAndGlyphs">10</text><text x="215.06" y="96.38" font-size="4" fill="#222" stroke="#222" stroke-width="0.08">3</text>
<text x="145.98" y="37.95" font-size="7.1" fill="#222" stroke="#222" stroke-width="0.14" textLength="7.8" lengthAdjust="spacingAndGlyphs">10</text><text x="154.28" y="35.73" font-size="4" fill="#222" stroke="#222" stroke-width="0.08">3</text>
<text x="223.54" y="98.6" font-size="7.1" fill="#222" stroke="#222" stroke-width="0.14" textLength="7.8" lengthAdjust="spacingAndGlyphs">10</text><text x="231.84" y="96.38" font-size="4" fill="#222" stroke="#222" stroke-width="0.08">4</text>
<text x="145.98" y="21.2" font-size="7.1" fill="#222" stroke="#222" stroke-width="0.14" textLength="7.8" lengthAdjust="spacingAndGlyphs">10</text><text x="154.28" y="18.98" font-size="4" fill="#222" stroke="#222" stroke-width="0.08">4</text>
<path d="M190.4 85.2V33.2H226.6V85.2M161.8 65.1H226.6M161.8 85H226.6" fill="none" stroke="#828282" stroke-width="1.5"/>
<text x="191.8" y="39.8" font-size="6.2" fill="#222" textLength="13.6" lengthAdjust="spacingAndGlyphs" stroke="#222" stroke-width="0.15">12%</text>
<text x="162.4" y="72.4" font-size="6.2" fill="#222" textLength="12.4" lengthAdjust="spacingAndGlyphs" stroke="#222" stroke-width="0.15">47%</text>
<text x="212.4" y="84.6" font-size="6.2" fill="#222" textLength="13.2" lengthAdjust="spacingAndGlyphs" stroke="#222" stroke-width="0.15">39%</text>
<text x="195" y="111" font-size="8.2" text-anchor="middle" fill="#1a1a1a" textLength="18.2" lengthAdjust="spacingAndGlyphs" stroke="#1a1a1a" stroke-width="0.3">CD11b</text>
<text x="141.8" y="51.9" font-size="8.2" text-anchor="middle" fill="#1a1a1a" textLength="13.8" lengthAdjust="spacingAndGlyphs" transform="rotate(-90 141.8 51.9)" stroke="#1a1a1a" stroke-width="0.3">CD14</text>
<line x1="229.6" y1="56.9" x2="249.4" y2="56.9" stroke="#b9a3dc" stroke-width="1.3"/>
<path d="M248.4 54L255.9 56.9L248.4 59.8Z" fill="#6a40b0"/>
<text x="394.8" y="20.8" font-size="8.4" text-anchor="middle" fill="#1a1a1a" textLength="41.4" lengthAdjust="spacingAndGlyphs" stroke="#1a1a1a" stroke-width="0.3">Sort reanalysis</text>
<line x1="278.5" y1="24.4" x2="510.8" y2="24.4" stroke="#222" stroke-width="1.1"/>
<path transform="scale(.1)" d="M3297 505h10m-142 64h10m-279 100h10m48-7h10m80 17h10m-86-2h10m-58 11h10m-34 1h10m-15 5h10m22 8h10m12-6h10m9 0h10m-5-4h10m9 7h10m18-1h10m-7-4h10m-5 2h10m7 6h10m-62 11h10m-15 2h10m-28 4h10m-22-1h10m-34-5h10m-39 6h10m-41 12h10m2-2h10m7-4h10m-4 7h10m24-10h10m9 3h10m-3 4h10m22-6h10m-8 4h10m-2 6h10m-3-13h10m-5 5h10m1-5h10m-9 14h10m-6-10h10m14 9h10m-16 7h10m-16 6h10m-14-2h10m-12 1h10m-26 0h10m-14-2h10m-13-8h10m-19 12h10m-17-12h10m-21 11h10m-15 3h10m-12-10h10m-15 10h10m-22-2h10m-23-7h10m-11 3h10m-13 6h10m-17-12h10m-20-2h10m-20 13h10m-12-3h10m-14-7h10m-17 1h10m-11 6h10m-17-1h10m-13 0h10m-12-1h10m-22 3h10m-17-2h10m-23-2h10m-14 9h10m-5 13h10m-9-3h10m-8-4h10m-8-7h10m8 3h10m-5 5h10m2-8h10m-7 3h10m-7 9h10m-10-5h10m-5-1h10m4 2h10m0 6h10m-10-4h10m-2 0h10m-3-9h10m4 2h10m-1-3h10m-3 14h10m-9-9h10m-4-3h10m-9 9h10m-2-7h10m-8 0h10m-5 6h10m-8 2h10m4 1h10m-7-7h10m-7 3h10m-10 1h10m-3-10h10m-7 13h10m-8-4h10m-6 1h10m-10-1h10m-9 1h10m-9-4h10m-6-5h10m-6 2h10m-7 21h10m-23-4h10m-16-2h10m-11-2h10m-11 9h10m-13-4h10m-10-5h10m-13 6h10m-10 2h10m-16-5h10m-11 3h10m-19 7h10m-12-4h10m-12 3h10m-17-6h10m-11 1h10m-13-4h10m-20 2h10m-12 7h10m-16-6h10m-11-6h10m-13 6h10m-14-4h10m-17 6h10m-14 4h10m-10-11h10m-15 6h10m-10 5h10m-15-7h10m-12-2h10m-12 0h10m-12-2h10m-22 7h10m-16-3h10m-10-6h10m-13 1h10m-17 9h10m-11 3h10m-14-11h10m-16 7h10m-11 5h10m-11 0h10m-10-5h10m-19 4h10m-12-2h10m-12 1h10m-13-3h10m-15 2h10m-17-1h10m-12-10h10m-16 12h10m-15-5h10m-17 5h10m-7 3h10m-2 11h10m-7-11h10m8 5h10m-5 4h10m-7-1h10m-4-1h10m1-2h10m-8 6h10m-8-4h10m-2 0h10m-9-2h10m-8 1h10m-3-2h10m-3 8h10m-8 2h10m-6-1h10m-9-1h10m-9-4h10m-6-4h10m1 8h10m-7-4h10m-6-7h10m-8 0h10m-6 2h10m-5 4h10m-8-6h10m-9 3h10m-9 8h10m-3-8h10m-7 1h10m-8 6h10m-7-10h10m-8 11h10m-7-11h10m-10 7h10m-7 0h10m-6 3h10m-9-4h10m-6-5h10m-7 9h10m-9-9h10m-9 9h10m-10-2h10m-9 3h10m-10-8h10m-9 9h10m-10-2h10m-6 1h10m-9-3h10m-5 3h10m-2 1h10m-5 0h10m-8-4h10m-9-5h10m-9-1h10m-10 5h10m-8-5h10m-10 7h10m-8-10h10m36 28h10m-31 0h10m-34-3h10m-21-6h10m-10 8h10m-12-8h10m-16-3h10m-16 7h10m-10 5h10m-17 0h10m-15-1h10m-12 1h10m-11-3h10m-14-6h10m-11 5h10m-12 3h10m-20 0h10m-17-2h10m-17-2h10m-12 2h10m-10-10h10m-11 7h10m-14 1h10m-15-7h10m-11 2h10m-10 2h10m-11 2h10m-12 0h10m-12 7h10m-17-14h10m-11 7h10m-16-3h10m-14 3h10m-15-7h10m-20 10h10m-16-9h10m-10 7h10m-11-8h10m-12 6h10m-11-4h10m-19 11h10m-16 0h10m-19-12h10m-12 9h10m-12 2h10m-11-1h10m-14 3h10m-13-1h10m-13-5h10m-13-1h10m-12 1h10m-12 2h10m-10 4h10m-17-12h10m-11 7h10m-11 1h10m-11 2h10m-16-3h10m-17 3h10m-8 6h10m0-3h10m-10 5h10m-7 2h10m-7-1h10m-7-5h10m-4 10h10m-8-1h10m1-2h10m-8-2h10m-6 5h10m-10-7h10m-8-1h10m-1-2h10m-7 8h10m-4-7h10m-7 10h10m-9-4h10m3-6h10m-5 11h10m-5-8h10m-5 1h10m-10-1h10m-6 2h10m-8-1h10m-8 3h10m-6-6h10m-9 1h10m-8 1h10m-9-2h10m-2 8h10m-9 1h10m-9-3h10m-9-3h10m-9 0h10m-8-5h10m-9 8h10m-9-7h10m-9 6h10m-8-8h10m-9 3h10m-6 7h10m-9 0h10m-5-5h10m-7 3h10m-9 0h10m-8-5h10m-8 1h10m-6 3h10m-8-2h10m-6 5h10m-9 1h10m-8-5h10m-6 6h10m-7-9h10m-6 5h10m-10-8h10m-9 10h10m-9-3h10m-5 2h10m-7-5h10m-10 8h10m-10 2h10m-9-2h10m-6-9h10m-9 6h10m-9 2h10m-4 0h10m-9 1h10m-6-8h10m-10 1h10m-15 13h10m-12 4h10m-12-1h10m-12-4h10m-11-2h10m-11 0h10m-13 5h10m-16 0h10m-12 0h10m-15-2h10m-11 0h10m-12-1h10m-24-2h10m-12 6h10m-13 2h10m-20-8h10m-12 4h10m-12 1h10m-10 2h10m-12 2h10m-13-5h10m-11 2h10m-11 1h10m-10 2h10m-14-7h10m-10 2h10m-17 5h10m-12-4h10m-12 3h10m-14-4h10m-12 3h10m-24-2h10m-19-3h10m-19 2h10m-15 1h10m-13-5h10m-14 6h10m-19-3h10m-14 6h10m-11-2h10m-12-4h10m-14 2h10m-11-4h10m-18 5h10m-14-2h10m-10 3h10m-25 0h10" stroke="#6a3cae" stroke-width="10" opacity="1.0" fill="none"/>
<path d="M286 30.4H338.6V83.4" fill="none" stroke="#111" stroke-width="1.0"/>
<path d="M286 29.9V83.4H339.1" fill="none" stroke="#111" stroke-width="1.3"/>
<path d="M286 83.4v2.0M286 83.4h-2.0M299.15 83.4v2.0M286 70.15h-2.0M312.3 83.4v2.0M286 56.9h-2.0M325.45 83.4v2.0M286 43.65h-2.0M338.6 83.4v2.0M286 30.4h-2.0M290.0 83.4v1.4M286 79.4h-1.4M292.3 83.4v1.4M286 77.1h-1.4M293.9 83.4v1.4M286 75.4h-1.4M295.2 83.4v1.4M286 74.1h-1.4M296.2 83.4v1.4M286 73.1h-1.4M297.1 83.4v1.4M286 72.2h-1.4M297.9 83.4v1.4M286 71.4h-1.4M298.5 83.4v1.4M286 70.8h-1.4M303.1 83.4v1.4M286 66.2h-1.4M305.4 83.4v1.4M286 63.8h-1.4M307.1 83.4v1.4M286 62.2h-1.4M308.3 83.4v1.4M286 60.9h-1.4M309.4 83.4v1.4M286 59.8h-1.4M310.3 83.4v1.4M286 59.0h-1.4M311.0 83.4v1.4M286 58.2h-1.4M311.7 83.4v1.4M286 57.5h-1.4M316.3 83.4v1.4M286 52.9h-1.4M318.6 83.4v1.4M286 50.6h-1.4M320.2 83.4v1.4M286 48.9h-1.4M321.5 83.4v1.4M286 47.6h-1.4M322.5 83.4v1.4M286 46.6h-1.4M323.4 83.4v1.4M286 45.7h-1.4M324.2 83.4v1.4M286 44.9h-1.4M324.8 83.4v1.4M286 44.3h-1.4M329.4 83.4v1.4M286 39.7h-1.4M331.7 83.4v1.4M286 37.3h-1.4M333.4 83.4v1.4M286 35.7h-1.4M334.6 83.4v1.4M286 34.4h-1.4M335.7 83.4v1.4M286 33.3h-1.4M336.6 83.4v1.4M286 32.5h-1.4M337.3 83.4v1.4M286 31.7h-1.4M338.0 83.4v1.4M286 31.0h-1.4" stroke="#111" stroke-width="0.9" fill="none"/>
<text x="281.88" y="93.8" font-size="5.8" fill="#2a2a2a" stroke="#2a2a2a" stroke-width="0.14" textLength="6.7" lengthAdjust="spacingAndGlyphs">10</text><text x="289.08" y="92.01" font-size="3.3" fill="#2a2a2a" stroke="#2a2a2a" stroke-width="0.08">0</text>
<text x="272.77" y="85.6" font-size="5.8" fill="#2a2a2a" stroke="#2a2a2a" stroke-width="0.14" textLength="6.7" lengthAdjust="spacingAndGlyphs">10</text><text x="279.97" y="83.81" font-size="3.3" fill="#2a2a2a" stroke="#2a2a2a" stroke-width="0.08">0</text>
<text x="295.03" y="93.8" font-size="5.8" fill="#2a2a2a" stroke="#2a2a2a" stroke-width="0.14" textLength="6.7" lengthAdjust="spacingAndGlyphs">10</text><text x="302.23" y="92.01" font-size="3.3" fill="#2a2a2a" stroke="#2a2a2a" stroke-width="0.08">1</text>
<text x="272.77" y="72.35" font-size="5.8" fill="#2a2a2a" stroke="#2a2a2a" stroke-width="0.14" textLength="6.7" lengthAdjust="spacingAndGlyphs">10</text><text x="279.97" y="70.56" font-size="3.3" fill="#2a2a2a" stroke="#2a2a2a" stroke-width="0.08">1</text>
<text x="308.18" y="93.8" font-size="5.8" fill="#2a2a2a" stroke="#2a2a2a" stroke-width="0.14" textLength="6.7" lengthAdjust="spacingAndGlyphs">10</text><text x="315.38" y="92.01" font-size="3.3" fill="#2a2a2a" stroke="#2a2a2a" stroke-width="0.08">2</text>
<text x="272.77" y="59.1" font-size="5.8" fill="#2a2a2a" stroke="#2a2a2a" stroke-width="0.14" textLength="6.7" lengthAdjust="spacingAndGlyphs">10</text><text x="279.97" y="57.31" font-size="3.3" fill="#2a2a2a" stroke="#2a2a2a" stroke-width="0.08">2</text>
<text x="321.33" y="93.8" font-size="5.8" fill="#2a2a2a" stroke="#2a2a2a" stroke-width="0.14" textLength="6.7" lengthAdjust="spacingAndGlyphs">10</text><text x="328.53" y="92.01" font-size="3.3" fill="#2a2a2a" stroke="#2a2a2a" stroke-width="0.08">3</text>
<text x="272.77" y="45.85" font-size="5.8" fill="#2a2a2a" stroke="#2a2a2a" stroke-width="0.14" textLength="6.7" lengthAdjust="spacingAndGlyphs">10</text><text x="279.97" y="44.06" font-size="3.3" fill="#2a2a2a" stroke="#2a2a2a" stroke-width="0.08">3</text>
<text x="334.48" y="93.8" font-size="5.8" fill="#2a2a2a" stroke="#2a2a2a" stroke-width="0.14" textLength="6.7" lengthAdjust="spacingAndGlyphs">10</text><text x="341.68" y="92.01" font-size="3.3" fill="#2a2a2a" stroke="#2a2a2a" stroke-width="0.08">4</text>
<text x="272.77" y="32.6" font-size="5.8" fill="#2a2a2a" stroke="#2a2a2a" stroke-width="0.14" textLength="6.7" lengthAdjust="spacingAndGlyphs">10</text><text x="279.97" y="30.81" font-size="3.3" fill="#2a2a2a" stroke="#2a2a2a" stroke-width="0.08">4</text>
<path d="M307 83V41.9H337.6V83M286.6 66H337.6" fill="none" stroke="#828282" stroke-width="1.4"/>
<text x="287.8" y="63.7" font-size="6" fill="#222" textLength="17.5" lengthAdjust="spacingAndGlyphs" stroke="#222" stroke-width="0.12">99.4%</text>
<text x="312.4" y="107.4" font-size="8.2" text-anchor="middle" fill="#1a1a1a" textLength="17.8" lengthAdjust="spacingAndGlyphs" stroke="#1a1a1a" stroke-width="0.3">CD11b</text>
<text x="267.7" y="56.8" font-size="8.2" text-anchor="middle" fill="#1a1a1a" textLength="14.4" lengthAdjust="spacingAndGlyphs" transform="rotate(-90 267.7 56.8)" stroke="#1a1a1a" stroke-width="0.3">CD14</text>
<path transform="scale(.1)" d="M4038 505h10m-73 91h10m86 48h10m5 0h10m-4 14h10m-44-10h10m-13 11h10m-16-12h10m-11 10h10m-55-8h10m-12-1h10m-47-1h10m-19 6h10m-42 2h10m44 19h10m19-6h10m-9 5h10m-3-5h10m-7 6h10m34-14h10m23 5h10m-4 24h10m-21-8h10m-12 0h10m-25-2h10m-18 0h10m-12 10h10m-15-4h10m-18-1h10m-13 5h10m-28-4h10m-16 2h10m-13-8h10m-21 10h10m-24-3h10m-39-2h10m-43 2h10m-10 4h10m8 6h10m-4-4h10m-4 6h10m-3 5h10m-7 0h10m0-7h10m-5-5h10m-1 13h10m-5-13h10m-8 0h10m-9-1h10m-6 3h10m-8-2h10m4 5h10m1-6h10m-10 11h10m-6-8h10m-7 1h10m-10-2h10m-8 6h10m-8 3h10m-7-6h10m7 6h10m3-2h10m5-5h10m-10 18h10m-13-7h10m-11 3h10m-17 7h10m-27-4h10m-10 8h10m-17-14h10m-11 0h10m-11 12h10m-18 0h10m-13-7h10m-12 0h10m-11-4h10m-11 4h10m-14-4h10m-13 8h10m-11-4h10m-12 1h10m-10 7h10m-15-3h10m-14-4h10m-16 4h10m-13-3h10m-11 6h10m-12-7h10m-11 5h10m-11-3h10m-16-4h10m-13 2h10m-16 6h10m-11 2h10m-13 0h10m-12 0h10m-15-9h10m-11-3h10m-10 11h10m-15-4h10m-12-4h10m-10 6h10m-11 2h10m-19-8h10m-16 5h10m-12-5h10m-25 6h10m-51 3h10m42 1h10m2 12h10m-3-5h10m-9-2h10m-8-5h10m-5 10h10m-6 2h10m-10-3h10m-7 2h10m-8-7h10m-9 0h10m-8-4h10m-8 10h10m-3-4h10m-9-1h10m-9 3h10m-8-7h10m-10 11h10m-6-2h10m-8-1h10m-9-9h10m-9 13h10m-8-9h10m-10-2h10m-4-2h10m-9 3h10m-3 6h10m-8 5h10m-8-6h10m-9 3h10m-1-11h10m-6 1h10m-8 3h10m-8 9h10m-5-8h10m-7 7h10m-9-11h10m-9 8h10m0-7h10m-9 1h10m-4 4h10m0 3h10m3-3h10m-5-1h10m-8 13h10m-16 4h10m-18 4h10m-31 1h10m-13-3h10m-12-2h10m-20-2h10m-18 0h10m-13 0h10m-22 2h10m-14 3h10m-14-6h10m-13 4h10m-16-2h10m-10-7h10m-12 8h10m-11-1h10m-11 6h10m-10-6h10m-12-7h10m-12 12h10m-14-8h10m-10 8h10m-11-3h10m-12 5h10m-11-10h10m-11 8h10m-10-11h10m-12 11h10m-10-8h10m-12 8h10m-13-7h10m-11-4h10m-11 4h10m-11 6h10m-14-4h10m-12-6h10m-13-1h10m-11 5h10m-10 3h10m-12 6h10m-16-9h10m-14 6h10m-11 2h10m-10-3h10m-13-10h10m-14 13h10m-17-6h10m-18 2h10m-15-7h10m-12 2h10m-18 2h10m-10 6h10m-30-3h10m-22 3h10m-14-3h10m-11-2h10m-6 11h10m24 4h10m1 0h10m-7-1h10m-8 7h10m-8 0h10m-3-9h10m-10 0h10m-9-1h10m-3 7h10m-10 1h10m-9 0h10m-9-10h10m-9 0h10m-8 9h10m-5-10h10m-8 7h10m-9 4h10m-10-11h10m-10 14h10m-9-3h10m-9-10h10m-10 3h10m-9-1h10m-7 7h10m-7-2h10m-10-5h10m-8-1h10m-10 12h10m-8-11h10m-10 0h10m-8 5h10m-9 6h10m-10-11h10m-9 10h10m-5-11h10m-9 1h10m-10 1h10m-9 0h10m-9-1h10m-10-1h10m-9 9h10m-10-11h10m-9 1h10m-9 13h10m-3-13h10m-9 11h10m-9 1h10m-9-4h10m-9 3h10m-8-8h10m-10-1h10m-9 10h10m-9-8h10m-9 9h10m1-14h10m-9 2h10m-10 8h10m-6-1h10m-10-2h10m-9-5h10m-7 0h10m-9-2h10m-8 8h10m-7-5h10m-9 8h10m-5-4h10m-6-7h10m-9 7h10m-10 7h10m-8-12h10m-9 1h10m-9 11h10m19-14h10m-4 10h10m-8-6h10m-11 17h10m-35-4h10m-22 9h10m-10-11h10m-19 10h10m-11-2h10m-11 3h10m-15-2h10m-12-6h10m-14 6h10m-14 4h10m-13-2h10m-11 3h10m-17-10h10m-10 5h10m-10-5h10m-12 3h10m-10 7h10m-11-10h10m-10-3h10m-10 8h10m-11-7h10m-11 10h10m-10 1h10m-12-3h10m-10-10h10m-11 8h10m-12-1h10m-13 2h10m-12-9h10m-11 14h10m-10-9h10m-10-4h10m-13 4h10m-10 2h10m-11 2h10m-10 2h10m-10-1h10m-11-3h10m-11 6h10m-11 0h10m-10-10h10m-12-3h10m-11 14h10m-11-14h10m-12 6h10m-10 4h10m-12 0h10m-11 3h10m-13-12h10m-12 2h10m-11 6h10m-12-3h10m-11-1h10m-11-3h10m-12 0h10m-10 8h10m-15 2h10m-11-5h10m-16-6h10m-10 13h10m-10-12h10m-10-1h10m-12 12h10m-12-8h10m-12-2h10m-10 5h10m-12-3h10m-11 0h10m-16 5h10m-14-9h10m-18 13h10m-13-14h10m-13 12h10m-13 1h10m-16-8h10m-13-5h10m-11 10h10m-37 4h10m39 12h10m-10-4h10m-7-3h10m-8 4h10m-10 5h10m-8 0h10m-7-2h10m-8-6h10m-7 9h10m-7-3h10m-10-11h10m-10 10h10m-9 3h10m-9-1h10m-10 0h10m-6-2h10m-6-10h10m-10 1h10m-6 3h10m-10-4h10m-10 13h10m-9 0h10m-8-7h10m-10 1h10m-9 4h10m-6 0h10m-10-5h10m-9-6h10m-8 8h10m-10-8h10m-10 6h10m-9 8h10m-9-7h10m-10-7h10m-10 10h10m-9-9h10m-8 12h10m-10-7h10m-9 8h10m-7-3h10m-7-9h10m-8-2h10m-9 7h10m-8-2h10m-10 5h10m-10-1h10m-9-1h10m-8-7h10m-10 8h10m-9 0h10m-9 5h10m-8-14h10m-10 11h10m-6-1h10m-8-4h10m-8 0h10m-10 7h10m-8-9h10m-6 7h10m-9-10h10m-10 3h10m-10 2h10m-9 0h10m-10-2h10m-9-3h10m-7 10h10m-9-3h10m-5-1h10m-10-3h10m-10 6h10m-10-5h10m-6 8h10m-8-2h10m-9 0h10m-8 2h10m-8-13h10m-9 10h10m0-8h10m-9-2h10m10 3h10m5 3h10m-1 6h10m-22 4h10m-26 10h10m-15-6h10m-13 5h10m-22-2h10m-14-1h10m-13 6h10m-14-9h10m-11 6h10m-12-4h10m-13 3h10m-14-4h10m-10 1h10m-18 1h10m-11-2h10m-10 3h10m-13 3h10m-11-5h10m-11 0h10m-11-4h10m-11 10h10m-11-10h10m-11 0h10m-12 3h10m-11 6h10m-10-4h10m-10 1h10m-10-3h10m-12-5h10m-11 5h10m-12-2h10m-10 1h10m-10 4h10m-11 0h10m-11 3h10m-10-11h10m-11 4h10m-11 5h10m-11-2h10m-12 6h10m-11-13h10m-11 12h10m-11 0h10m-13-5h10m-13-5h10m-10 5h10m-11 2h10m-10 1h10m-11 0h10m-13-9h10m-12 6h10m-11-7h10m-10 6h10m-10 6h10m-15 1h10m-11-8h10m-11 9h10m-12-10h10m-12 1h10m-10-1h10m-11 4h10m-11 6h10m-11-5h10m-12-7h10m-12 9h10m-12-6h10m-12 6h10m-11-2h10m-12-6h10m-15 6h10m-10-8h10m-14 13h10m-11-5h10m-10 0h10m-11 3h10m-19-8h10m-15-4h10m-15 4h10m-16 9h10m-10 1h10m-12-13h10m-14 7h10m-17-5h10m-204 22h10m21 2h10m-1 2h10m54-3h10m-6-10h10m3-1h10m9 2h10m25-1h10m9 8h10m9-7h10m-8 4h10m-6-2h10m-5-4h10m-5 9h10m-2-5h10m-9 6h10m-6-7h10m-7-2h10m-9 9h10m-7 1h10m-9-7h10m-4 5h10m-8-8h10m-10 9h10m-8-6h10m-7 2h10m-9 3h10m-9-1h10m-10 0h10m-6 4h10m-10-9h10m-10-3h10m-7 7h10m-5-1h10m-9-2h10m-8-4h10m-9 12h10m-8 0h10m-7-3h10m-8 4h10m-9-11h10m-10 1h10m-8 1h10m-7 4h10m-10-7h10m-10 4h10m-9-5h10m-10 12h10m-9-3h10m-9 0h10m-8-8h10m-2 6h10m-9 2h10m-9-4h10m-9-3h10m-10-1h10m-9 5h10m-9 6h10m-8-7h10m-6-2h10m-10 2h10m-7 4h10m-7-9h10m-6 5h10m-8-2h10m5 8h10m-10-3h10m0 3h10m21-5h10m-17 14h10m-30-4h10m-29 2h10m-12 0h10m-16-2h10m-19 4h10m-10 0h10m-13-4h10m-15 8h10m-13-3h10m-15-3h10m-10 3h10m-11 0h10m-15-4h10m-15 2h10m-15 4h10m-12-5h10m-11 2h10m-19-5h10m-13 6h10m-16-6h10m-11 8h10m-12-7h10m-13 2h10m-15 3h10m-10 2h10m-13-6h10m-11 7h10m-13-5h10m-11-3h10m-12-1h10m-11 0h10m-12 8h10m-12-6h10m-13 7h10m-23-2h10m-16-5h10m-87-1h10" stroke="#6a3cae" stroke-width="10" opacity="1.0" fill="none"/>
<path d="M371.2 30.4H423.8V83.4" fill="none" stroke="#111" stroke-width="1.0"/>
<path d="M371.2 29.9V83.4H424.3" fill="none" stroke="#111" stroke-width="1.3"/>
<path d="M371.2 83.4v2.0M371.2 83.4h-2.0M384.35 83.4v2.0M371.2 70.15h-2.0M397.5 83.4v2.0M371.2 56.9h-2.0M410.65 83.4v2.0M371.2 43.65h-2.0M423.8 83.4v2.0M371.2 30.4h-2.0M375.2 83.4v1.4M371.2 79.4h-1.4M377.5 83.4v1.4M371.2 77.1h-1.4M379.1 83.4v1.4M371.2 75.4h-1.4M380.4 83.4v1.4M371.2 74.1h-1.4M381.4 83.4v1.4M371.2 73.1h-1.4M382.3 83.4v1.4M371.2 72.2h-1.4M383.1 83.4v1.4M371.2 71.4h-1.4M383.7 83.4v1.4M371.2 70.8h-1.4M388.3 83.4v1.4M371.2 66.2h-1.4M390.6 83.4v1.4M371.2 63.8h-1.4M392.3 83.4v1.4M371.2 62.2h-1.4M393.5 83.4v1.4M371.2 60.9h-1.4M394.6 83.4v1.4M371.2 59.8h-1.4M395.5 83.4v1.4M371.2 59.0h-1.4M396.2 83.4v1.4M371.2 58.2h-1.4M396.9 83.4v1.4M371.2 57.5h-1.4M401.5 83.4v1.4M371.2 52.9h-1.4M403.8 83.4v1.4M371.2 50.6h-1.4M405.4 83.4v1.4M371.2 48.9h-1.4M406.7 83.4v1.4M371.2 47.6h-1.4M407.7 83.4v1.4M371.2 46.6h-1.4M408.6 83.4v1.4M371.2 45.7h-1.4M409.4 83.4v1.4M371.2 44.9h-1.4M410.0 83.4v1.4M371.2 44.3h-1.4M414.6 83.4v1.4M371.2 39.7h-1.4M416.9 83.4v1.4M371.2 37.3h-1.4M418.6 83.4v1.4M371.2 35.7h-1.4M419.8 83.4v1.4M371.2 34.4h-1.4M420.9 83.4v1.4M371.2 33.3h-1.4M421.8 83.4v1.4M371.2 32.5h-1.4M422.5 83.4v1.4M371.2 31.7h-1.4M423.2 83.4v1.4M371.2 31.0h-1.4" stroke="#111" stroke-width="0.9" fill="none"/>
<text x="367.08" y="93.8" font-size="5.8" fill="#2a2a2a" stroke="#2a2a2a" stroke-width="0.14" textLength="6.7" lengthAdjust="spacingAndGlyphs">10</text><text x="374.28" y="92.01" font-size="3.3" fill="#2a2a2a" stroke="#2a2a2a" stroke-width="0.08">0</text>
<text x="357.97" y="85.6" font-size="5.8" fill="#2a2a2a" stroke="#2a2a2a" stroke-width="0.14" textLength="6.7" lengthAdjust="spacingAndGlyphs">10</text><text x="365.17" y="83.81" font-size="3.3" fill="#2a2a2a" stroke="#2a2a2a" stroke-width="0.08">0</text>
<text x="380.23" y="93.8" font-size="5.8" fill="#2a2a2a" stroke="#2a2a2a" stroke-width="0.14" textLength="6.7" lengthAdjust="spacingAndGlyphs">10</text><text x="387.43" y="92.01" font-size="3.3" fill="#2a2a2a" stroke="#2a2a2a" stroke-width="0.08">1</text>
<text x="357.97" y="72.35" font-size="5.8" fill="#2a2a2a" stroke="#2a2a2a" stroke-width="0.14" textLength="6.7" lengthAdjust="spacingAndGlyphs">10</text><text x="365.17" y="70.56" font-size="3.3" fill="#2a2a2a" stroke="#2a2a2a" stroke-width="0.08">1</text>
<text x="393.38" y="93.8" font-size="5.8" fill="#2a2a2a" stroke="#2a2a2a" stroke-width="0.14" textLength="6.7" lengthAdjust="spacingAndGlyphs">10</text><text x="400.58" y="92.01" font-size="3.3" fill="#2a2a2a" stroke="#2a2a2a" stroke-width="0.08">2</text>
<text x="357.97" y="59.1" font-size="5.8" fill="#2a2a2a" stroke="#2a2a2a" stroke-width="0.14" textLength="6.7" lengthAdjust="spacingAndGlyphs">10</text><text x="365.17" y="57.31" font-size="3.3" fill="#2a2a2a" stroke="#2a2a2a" stroke-width="0.08">2</text>
<text x="406.53" y="93.8" font-size="5.8" fill="#2a2a2a" stroke="#2a2a2a" stroke-width="0.14" textLength="6.7" lengthAdjust="spacingAndGlyphs">10</text><text x="413.73" y="92.01" font-size="3.3" fill="#2a2a2a" stroke="#2a2a2a" stroke-width="0.08">3</text>
<text x="357.97" y="45.85" font-size="5.8" fill="#2a2a2a" stroke="#2a2a2a" stroke-width="0.14" textLength="6.7" lengthAdjust="spacingAndGlyphs">10</text><text x="365.17" y="44.06" font-size="3.3" fill="#2a2a2a" stroke="#2a2a2a" stroke-width="0.08">3</text>
<text x="419.68" y="93.8" font-size="5.8" fill="#2a2a2a" stroke="#2a2a2a" stroke-width="0.14" textLength="6.7" lengthAdjust="spacingAndGlyphs">10</text><text x="426.88" y="92.01" font-size="3.3" fill="#2a2a2a" stroke="#2a2a2a" stroke-width="0.08">4</text>
<text x="357.97" y="32.6" font-size="5.8" fill="#2a2a2a" stroke="#2a2a2a" stroke-width="0.14" textLength="6.7" lengthAdjust="spacingAndGlyphs">10</text><text x="365.17" y="30.81" font-size="3.3" fill="#2a2a2a" stroke="#2a2a2a" stroke-width="0.08">4</text>
<path d="M392.3 83V41.9H422.8V83M371.8 66H422.8" fill="none" stroke="#828282" stroke-width="1.4"/>
<text x="404.2" y="61.8" font-size="6" fill="#222" textLength="15.4" lengthAdjust="spacingAndGlyphs" stroke="#222" stroke-width="0.12">97.0%</text>
<text x="397.6" y="107.4" font-size="8.2" text-anchor="middle" fill="#1a1a1a" textLength="17.8" lengthAdjust="spacingAndGlyphs" stroke="#1a1a1a" stroke-width="0.3">CD11b</text>
<text x="352.9" y="56.8" font-size="8.2" text-anchor="middle" fill="#1a1a1a" textLength="14.4" lengthAdjust="spacingAndGlyphs" transform="rotate(-90 352.9 56.8)" stroke="#1a1a1a" stroke-width="0.3">CD14</text>
<path transform="scale(.1)" d="M4962 396h10m-35 33h10m-35 12h10m-53 1h10m0 10h10m34-1h10m12 0h10m-4 6h10m1 1h10m61 1h10m-93 6h10m-51 12h10m-13-8h10m-15-3h10m-19 9h10m-27-3h10m-22 14h10m-1 7h10m-9-11h10m-9 12h10m2 0h10m-5-11h10m-9 2h10m-4 3h10m-3 2h10m7-3h10m-6 6h10m-10-10h10m-5 0h10m-9 7h10m-3 2h10m-1 2h10m0-9h10m1 2h10m-2-3h10m-8 8h10m0-6h10m-7-3h10m2 14h10m-14 9h10m-28-2h10m-28-7h10m-15 5h10m-12-1h10m-28 1h10m-20-4h10m-12 5h10m-10-1h10m-11-7h10m-14 3h10m-13 0h10m-10 5h10m-17-3h10m-14 2h10m-13-7h10m-11 14h10m-11-11h10m-15-1h10m-13 0h10m-22 4h10m-24 6h10m-42 17h10m15-7h10m-8 7h10m-9-6h10m-4-6h10m5 12h10m-7-9h10m-8 8h10m-6-8h10m-9 0h10m-10-4h10m-7 12h10m-9-12h10m-8 4h10m-10-1h10m-10 5h10m-8-5h10m-4 1h10m-10 3h10m-10-8h10m-7 14h10m-10-8h10m-9-3h10m-6 6h10m-6 0h10m-5-8h10m-9 8h10m-9-6h10m-6 6h10m-8-7h10m-8-2h10m-6 3h10m-9-1h10m-9 7h10m-6-1h10m-9 6h10m-9-9h10m-9 3h10m-6-3h10m-8 9h10m-2-4h10m-10 0h10m0-5h10m8 5h10m-10-5h10m-2-4h10m0 11h10m-7-3h10m-8 7h10m-22 8h10m-32 2h10m-11-6h10m-10 7h10m-18-8h10m-16 3h10m-15 0h10m-12 3h10m-14-2h10m-10 4h10m-12-6h10m-14 1h10m-13 0h10m-10 7h10m-11-13h10m-10 7h10m-12 3h10m-11 2h10m-10-11h10m-11 8h10m-10-4h10m-19 5h10m-10-1h10m-11 2h10m-10-6h10m-12 5h10m-12-8h10m-12 0h10m-10 10h10m-11-9h10m-10 6h10m-13 1h10m-17-7h10m-11 1h10m-12 1h10m-10-5h10m-10 3h10m-16 0h10m-10 5h10m-15-4h10m-10 9h10m-11-7h10m-15 5h10m-11-4h10m-11 1h10m-10 2h10m-12-4h10m-12-2h10m-11-2h10m-14 10h10m-12-1h10m-13-6h10m-16-1h10m-16 2h10m-11-1h10m-16-2h10m-16 3h10m-21-3h10m-19 16h10m-8 4h10m5 1h10m-4 3h10m-2 1h10m3-1h10m-10 0h10m-9-3h10m-10-10h10m-5 3h10m-8 10h10m-7-3h10m-10-5h10m-8-4h10m-9 4h10m-9 7h10m-9-9h10m-8-2h10m-7 9h10m-9 4h10m-8-13h10m-10 2h10m-8-2h10m-9 7h10m-9 5h10m-10-2h10m-8-6h10m-10 1h10m-7 1h10m-7-2h10m-9-4h10m-9 5h10m-9 5h10m-7-4h10m-10-7h10m-8 6h10m-7 6h10m-10-2h10m-5 1h10m-7-10h10m-10 5h10m-9-4h10m-6 9h10m-10-2h10m-8 0h10m-9 1h10m-6 1h10m-7-2h10m-3-7h10m-7 9h10m-7-11h10m-9 10h10m6-2h10m-1 0h10m-1 3h10m18-3h10m-30 13h10m-25 5h10m-11-10h10m-10 4h10m-12-2h10m-10-2h10m-20 5h10m-14 0h10m-13 0h10m-12 2h10m-15-7h10m-12 5h10m-11-3h10m-10-1h10m-14 2h10m-10 3h10m-15-7h10m-15 0h10m-17 5h10m-11-3h10m-11 8h10m-11-2h10m-11-3h10m-14 7h10m-15-3h10m-10 5h10m-15-13h10m-10 5h10m-10-6h10m-13 14h10m-11-11h10m-14 6h10m-12-5h10m-11 3h10m-12 0h10m-11 1h10m-11 1h10m-10-3h10m-10 3h10m-10-1h10m-14 6h10m-10-4h10m-18-6h10m-12 1h10m-11-3h10m-11 7h10m-12-6h10m-14 1h10m-15-4h10m-14 2h10m-37 5h10m-10 3h10m-17-4h10m-11 1h10m-19 3h10m-47-10h10m4 27h10m6 0h10m-9-9h10m3 2h10m-8-3h10m4-2h10m1 9h10m-6-2h10m0 0h10m-7 2h10m-8 3h10m-9-8h10m-9-1h10m-7 8h10m-9-2h10m-9 5h10m-9-6h10m-10 6h10m1-9h10m-6 2h10m-10-3h10m2 8h10m-10-3h10m-9-9h10m-10 0h10m-9 6h10m-8 1h10m-6 0h10m-7-5h10m-3 4h10m-9-3h10m-10 4h10m-8-4h10m-10 1h10m-7 10h10m-10-14h10m-8 1h10m-4-1h10m-10 14h10m-8-10h10m-8 8h10m-9-2h10m-7 1h10m1 0h10m-9 3h10m-5-5h10m-8-6h10m-4-3h10m33 21h10m-50 3h10m-11 1h10m-12-3h10m-16-7h10m-15 5h10m-14-3h10m-23 9h10m-10-3h10m-15-7h10m-11 6h10m-11 7h10m-17-14h10m-10 14h10m-24-1h10m-10 1h10m-13-2h10m-14-2h10m-13-4h10m-16-2h10m-11-2h10m-10 0h10m-13 7h10m-10 2h10m-12 3h10m-12-12h10m-10 1h10m-18 1h10m-11 10h10m-11-2h10m-16 2h10m-10 0h10m-10-8h10m-14-5h10m-13 2h10m-11 5h10m-14 4h10m-11-2h10m-10-6h10m-12 5h10m-12-7h10m-15 10h10m-14-4h10m-14 2h10m-13-4h10m-10-2h10m-16 4h10m-14 1h10m-14-7h10m-14 12h10m-192-3h10m146 4h10m1 4h10m-10 0h10m13 1h10m-9-4h10m-1 7h10m-7 4h10m-7 2h10m-9-10h10m-9 9h10m-9-9h10m-6 4h10m-8-5h10m-1 9h10m-6-8h10m-10-3h10m-8 4h10m-10-2h10m-9 9h10m-8-10h10m-10 4h10m-9-6h10m-5 5h10m-4-4h10m-10 1h10m-8 6h10m-7 2h10m-9-3h10m-7-6h10m-10 10h10m-4-5h10m-3 7h10m-8-6h10m-8 0h10m-9 0h10m-5 4h10m-5-1h10m-7-4h10m-10 6h10m-7-7h10m-8 3h10m-9-6h10m-4 1h10m-5 4h10m0-7h10m-8 6h10m20 13h10m-29 1h10m-14 3h10m-10 6h10m-18-13h10m-15 13h10m-11-3h10m-10 1h10m-13-8h10m-11 0h10m-13 7h10m-12-1h10m-16-5h10m-10-5h10m-12 7h10m-11-2h10m-11 0h10m-18 0h10m-14-4h10m-14 12h10m-11-4h10m-19 4h10m-13-2h10m-10 0h10m-11-10h10m-12 12h10m-11-4h10m-11 2h10m-11 2h10m-12-9h10m-10 2h10m-13 6h10m-12-6h10m-15 1h10m-10 5h10m-12-4h10m-14-5h10m-11 0h10m-13 6h10m-16 0h10m-10 2h10m-11-11h10m-12 1h10m-15 12h10m-13-11h10m-15 5h10m-17-4h10m-10-2h10m-22-1h10m-53 10h10m-38-2h10m-86 19h10m107-12h10m31 10h10m-9-1h10m-10-9h10m-8 6h10m-10-1h10m-2 8h10m-8-3h10m-1-7h10m-6 8h10m-6-2h10m-5-9h10m8 7h10m46 5h10m-48 6h10m-19-3h10m-10 14h10m-60-3h10m-23-10h10m-65 8h10m-24 7h10m63 3h10m-7-1h10m-2 4h10m8-3h10m-6 10h10m-2 0h10m-29 3h10m-45 1h10m-35 7h10m-49 15h10m11-10h10m32 20h10m-185 24h10m84-7h10m-1-2h10m90 10h10m-105 37h10m58 18h10m-237 33h10m95 0h10" stroke="#6a3cae" stroke-width="10" opacity="1.0" fill="none"/>
<path d="M456.4 30.4H509V83.4" fill="none" stroke="#111" stroke-width="1.0"/>
<path d="M456.4 29.9V83.4H509.5" fill="none" stroke="#111" stroke-width="1.3"/>
<path d="M456.4 83.4v2.0M456.4 83.4h-2.0M469.55 83.4v2.0M456.4 70.15h-2.0M482.7 83.4v2.0M456.4 56.9h-2.0M495.85 83.4v2.0M456.4 43.65h-2.0M509 83.4v2.0M456.4 30.4h-2.0M460.4 83.4v1.4M456.4 79.4h-1.4M462.7 83.4v1.4M456.4 77.1h-1.4M464.3 83.4v1.4M456.4 75.4h-1.4M465.6 83.4v1.4M456.4 74.1h-1.4M466.6 83.4v1.4M456.4 73.1h-1.4M467.5 83.4v1.4M456.4 72.2h-1.4M468.3 83.4v1.4M456.4 71.4h-1.4M468.9 83.4v1.4M456.4 70.8h-1.4M473.5 83.4v1.4M456.4 66.2h-1.4M475.8 83.4v1.4M456.4 63.8h-1.4M477.5 83.4v1.4M456.4 62.2h-1.4M478.7 83.4v1.4M456.4 60.9h-1.4M479.8 83.4v1.4M456.4 59.8h-1.4M480.7 83.4v1.4M456.4 59.0h-1.4M481.4 83.4v1.4M456.4 58.2h-1.4M482.1 83.4v1.4M456.4 57.5h-1.4M486.7 83.4v1.4M456.4 52.9h-1.4M489.0 83.4v1.4M456.4 50.6h-1.4M490.6 83.4v1.4M456.4 48.9h-1.4M491.9 83.4v1.4M456.4 47.6h-1.4M492.9 83.4v1.4M456.4 46.6h-1.4M493.8 83.4v1.4M456.4 45.7h-1.4M494.6 83.4v1.4M456.4 44.9h-1.4M495.2 83.4v1.4M456.4 44.3h-1.4M499.8 83.4v1.4M456.4 39.7h-1.4M502.1 83.4v1.4M456.4 37.3h-1.4M503.8 83.4v1.4M456.4 35.7h-1.4M505.0 83.4v1.4M456.4 34.4h-1.4M506.1 83.4v1.4M456.4 33.3h-1.4M507.0 83.4v1.4M456.4 32.5h-1.4M507.7 83.4v1.4M456.4 31.7h-1.4M508.4 83.4v1.4M456.4 31.0h-1.4" stroke="#111" stroke-width="0.9" fill="none"/>
<text x="452.28" y="93.8" font-size="5.8" fill="#2a2a2a" stroke="#2a2a2a" stroke-width="0.14" textLength="6.7" lengthAdjust="spacingAndGlyphs">10</text><text x="459.48" y="92.01" font-size="3.3" fill="#2a2a2a" stroke="#2a2a2a" stroke-width="0.08">0</text>
<text x="443.17" y="85.6" font-size="5.8" fill="#2a2a2a" stroke="#2a2a2a" stroke-width="0.14" textLength="6.7" lengthAdjust="spacingAndGlyphs">10</text><text x="450.37" y="83.81" font-size="3.3" fill="#2a2a2a" stroke="#2a2a2a" stroke-width="0.08">0</text>
<text x="465.43" y="93.8" font-size="5.8" fill="#2a2a2a" stroke="#2a2a2a" stroke-width="0.14" textLength="6.7" lengthAdjust="spacingAndGlyphs">10</text><text x="472.63" y="92.01" font-size="3.3" fill="#2a2a2a" stroke="#2a2a2a" stroke-width="0.08">1</text>
<text x="443.17" y="72.35" font-size="5.8" fill="#2a2a2a" stroke="#2a2a2a" stroke-width="0.14" textLength="6.7" lengthAdjust="spacingAndGlyphs">10</text><text x="450.37" y="70.56" font-size="3.3" fill="#2a2a2a" stroke="#2a2a2a" stroke-width="0.08">1</text>
<text x="478.58" y="93.8" font-size="5.8" fill="#2a2a2a" stroke="#2a2a2a" stroke-width="0.14" textLength="6.7" lengthAdjust="spacingAndGlyphs">10</text><text x="485.78" y="92.01" font-size="3.3" fill="#2a2a2a" stroke="#2a2a2a" stroke-width="0.08">2</text>
<text x="443.17" y="59.1" font-size="5.8" fill="#2a2a2a" stroke="#2a2a2a" stroke-width="0.14" textLength="6.7" lengthAdjust="spacingAndGlyphs">10</text><text x="450.37" y="57.31" font-size="3.3" fill="#2a2a2a" stroke="#2a2a2a" stroke-width="0.08">2</text>
<text x="491.73" y="93.8" font-size="5.8" fill="#2a2a2a" stroke="#2a2a2a" stroke-width="0.14" textLength="6.7" lengthAdjust="spacingAndGlyphs">10</text><text x="498.93" y="92.01" font-size="3.3" fill="#2a2a2a" stroke="#2a2a2a" stroke-width="0.08">3</text>
<text x="443.17" y="45.85" font-size="5.8" fill="#2a2a2a" stroke="#2a2a2a" stroke-width="0.14" textLength="6.7" lengthAdjust="spacingAndGlyphs">10</text><text x="450.37" y="44.06" font-size="3.3" fill="#2a2a2a" stroke="#2a2a2a" stroke-width="0.08">3</text>
<text x="504.88" y="93.8" font-size="5.8" fill="#2a2a2a" stroke="#2a2a2a" stroke-width="0.14" textLength="6.7" lengthAdjust="spacingAndGlyphs">10</text><text x="512.08" y="92.01" font-size="3.3" fill="#2a2a2a" stroke="#2a2a2a" stroke-width="0.08">4</text>
<text x="443.17" y="32.6" font-size="5.8" fill="#2a2a2a" stroke="#2a2a2a" stroke-width="0.14" textLength="6.7" lengthAdjust="spacingAndGlyphs">10</text><text x="450.37" y="30.81" font-size="3.3" fill="#2a2a2a" stroke="#2a2a2a" stroke-width="0.08">4</text>
<path d="M477.3 83V42.5H508V83M457 66.6H508" fill="none" stroke="#828282" stroke-width="1.4"/>
<text x="482.5" y="39.3" font-size="6" fill="#222" textLength="17.3" lengthAdjust="spacingAndGlyphs" stroke="#222" stroke-width="0.12">96.2%</text>
<text x="482.8" y="107.4" font-size="8.2" text-anchor="middle" fill="#1a1a1a" textLength="17.8" lengthAdjust="spacingAndGlyphs" stroke="#1a1a1a" stroke-width="0.3">CD11b</text>
<text x="438.1" y="56.8" font-size="8.2" text-anchor="middle" fill="#1a1a1a" textLength="14.4" lengthAdjust="spacingAndGlyphs" transform="rotate(-90 438.1 56.8)" stroke="#1a1a1a" stroke-width="0.3">CD14</text>
<text x="6.6" y="133.4" font-size="10.8" fill="#111" font-weight="bold">B</text>
<path d="M34.0 140.1V261.3H115" fill="none" stroke="#111" stroke-width="1"/>
<text x="28.2" y="263.9" font-size="7.2" text-anchor="end" fill="#222" stroke="#222" stroke-width="0.15">0</text>
<text x="28.2" y="246.63" font-size="7.2" text-anchor="end" fill="#222" stroke="#222" stroke-width="0.15">10</text>
<text x="28.2" y="229.36" font-size="7.2" text-anchor="end" fill="#222" stroke="#222" stroke-width="0.15">20</text>
<text x="28.2" y="212.09" font-size="7.2" text-anchor="end" fill="#222" stroke="#222" stroke-width="0.15">30</text>
<text x="28.2" y="194.82" font-size="7.2" text-anchor="end" fill="#222" stroke="#222" stroke-width="0.15">40</text>
<text x="28.2" y="177.55" font-size="7.2" text-anchor="end" fill="#222" stroke="#222" stroke-width="0.15">50</text>
<text x="28.2" y="160.28" font-size="7.2" text-anchor="end" fill="#222" stroke="#222" stroke-width="0.15">60</text>
<text x="28.2" y="143.01" font-size="7.2" text-anchor="end" fill="#222" stroke="#222" stroke-width="0.15">70</text>
<path d="M31.3 261.3H34.0M31.3 244.0H34.0M31.3 226.8H34.0M31.3 209.5H34.0M31.3 192.2H34.0M31.3 174.9H34.0M31.3 157.7H34.0M31.3 140.4H34.0" stroke="#111" stroke-width="0.8"/>
<rect x="40.4" y="250.94" width="15.3" height="10.36" fill="#d3263a" stroke="#222" stroke-width="0.8"/>
<rect x="40.4" y="230.21" width="15.3" height="20.72" fill="#0f4f84" stroke="#222" stroke-width="0.8"/>
<rect x="40.4" y="204.31" width="15.3" height="25.91" fill="#3cb54a" stroke="#222" stroke-width="0.8"/>
<rect x="40.4" y="143.86" width="15.3" height="60.45" fill="#5c2468" stroke="#222" stroke-width="0.8"/>
<rect x="67.3" y="249.21" width="15.0" height="12.09" fill="#3cb54a" stroke="#222" stroke-width="0.8"/>
<text x="13.6" y="200.8" font-size="8.2" text-anchor="middle" fill="#1a1a1a" textLength="23.6" lengthAdjust="spacingAndGlyphs" transform="rotate(-90 13.6 200.8)" stroke="#1a1a1a" stroke-width="0.3">Colonies</text>
<text x="16.2" y="303.8" font-size="7.9" fill="#1a1a1a" stroke="#1a1a1a" stroke-width="0.08" transform="rotate(-43 16.2 303.8)">CD11b<tspan font-size="4.8" dy="-2.9">-</tspan><tspan dy="2.9">CD14</tspan><tspan font-size="4.8" dy="-2.9">-</tspan></text>
<text x="41.6" y="303.8" font-size="7.9" fill="#1a1a1a" stroke="#1a1a1a" stroke-width="0.08" transform="rotate(-43 41.6 303.8)">CD11b<tspan font-size="4.8" dy="-2.9">+</tspan><tspan dy="2.9">CD14</tspan><tspan font-size="4.8" dy="-2.9">-</tspan></text>
<text x="67.0" y="303.8" font-size="7.9" fill="#1a1a1a" stroke="#1a1a1a" stroke-width="0.08" transform="rotate(-43 67.0 303.8)">CD11b<tspan font-size="4.8" dy="-2.9">+</tspan><tspan dy="2.9">CD14</tspan><tspan font-size="4.8" dy="-2.9">+</tspan></text>
<rect x="110.4" y="155.3" width="18" height="5.4" fill="#d3263a" stroke="#222" stroke-width="0.8"/>
<text x="130.9" y="160.9" font-size="7.2" fill="#333" stroke="#333" stroke-width="0.12">BFU-E</text>
<rect x="110.4" y="167.9" width="18" height="5.4" fill="#0f4f84" stroke="#222" stroke-width="0.8"/>
<text x="130.9" y="173.45" font-size="7.2" fill="#333" stroke="#333" stroke-width="0.12">CFU-E</text>
<rect x="110.4" y="180.4" width="18" height="5.4" fill="#3cb54a" stroke="#222" stroke-width="0.8"/>
<text x="130.9" y="186" font-size="7.2" fill="#333" stroke="#333" stroke-width="0.12">CFU-GM</text>
<rect x="110.4" y="193.0" width="18" height="5.4" fill="#5c2468" stroke="#222" stroke-width="0.8"/>
<text x="130.9" y="198.55" font-size="7.2" fill="#333" stroke="#333" stroke-width="0.12">CFU-GEM</text>
<text x="172.6" y="136.7" font-size="10.8" fill="#111" font-weight="bold">C</text>
<defs><linearGradient id="cg" x1="0" y1="0" x2="0.3" y2="1"><stop offset="0" stop-color="#d9b39a"/><stop offset="0.5" stop-color="#d6b7a2"/><stop offset="1" stop-color="#cdbab0"/></linearGradient><clipPath id="cc"><rect x="173.2" y="145.5" width="93.6" height="90.5"/></clipPath></defs>
<g clip-path="url(#cc)">
<rect x="173.2" y="145.5" width="93.6" height="90.5" fill="url(#cg)"/>
<circle cx="229.5" cy="167.5" r="1.9" fill="#e2b294" filter="url(#b1)" opacity=".7"/><circle cx="192.1" cy="217.0" r="2.0" fill="#d8b49a" filter="url(#b1)" opacity=".7"/><circle cx="259.1" cy="229.1" r="2.4" fill="#e6bc98" filter="url(#b1)" opacity=".7"/><circle cx="259.7" cy="179.5" r="1.8" fill="#ccaa90" filter="url(#b1)" opacity=".7"/><circle cx="207.3" cy="235.6" r="2.9" fill="#e2b294" filter="url(#b1)" opacity=".7"/><circle cx="242.9" cy="161.5" r="2.0" fill="#d8b49a" filter="url(#b1)" opacity=".7"/><circle cx="261.7" cy="149.1" r="3.4" fill="#e6bc98" filter="url(#b1)" opacity=".7"/><circle cx="224.8" cy="229.9" r="3.2" fill="#ccaa90" filter="url(#b1)" opacity=".7"/><circle cx="218.5" cy="175.7" r="3.4" fill="#e2b294" filter="url(#b1)" opacity=".7"/><circle cx="232.7" cy="153.3" r="2.7" fill="#d8b49a" filter="url(#b1)" opacity=".7"/><circle cx="175.9" cy="227.6" r="2.7" fill="#e6bc98" filter="url(#b1)" opacity=".7"/><circle cx="183.4" cy="171.1" r="2.2" fill="#ccaa90" filter="url(#b1)" opacity=".7"/><circle cx="222.8" cy="220.5" r="1.6" fill="#e2b294" filter="url(#b1)" opacity=".7"/><circle cx="211.4" cy="231.6" r="3.1" fill="#d8b49a" filter="url(#b1)" opacity=".7"/><circle cx="199.1" cy="180.3" r="2.7" fill="#e6bc98" filter="url(#b1)" opacity=".7"/><circle cx="221.7" cy="177.7" r="2.1" fill="#ccaa90" filter="url(#b1)" opacity=".7"/><circle cx="218.7" cy="207.9" r="2.7" fill="#e2b294" filter="url(#b1)" opacity=".7"/><circle cx="212.6" cy="166.3" r="3.3" fill="#d8b49a" filter="url(#b1)" opacity=".7"/><circle cx="255.6" cy="229.8" r="1.9" fill="#e6bc98" filter="url(#b1)" opacity=".7"/><circle cx="185.6" cy="234.0" r="1.7" fill="#ccaa90" filter="url(#b1)" opacity=".7"/><circle cx="257.8" cy="148.3" r="2.4" fill="#e2b294" filter="url(#b1)" opacity=".7"/><circle cx="247.5" cy="220.3" r="2.0" fill="#d8b49a" filter="url(#b1)" opacity=".7"/><circle cx="197.0" cy="171.7" r="3.4" fill="#e6bc98" filter="url(#b1)" opacity=".7"/><circle cx="227.8" cy="185.0" r="3.2" fill="#ccaa90" filter="url(#b1)" opacity=".7"/><circle cx="244.1" cy="163.6" r="1.8" fill="#e2b294" filter="url(#b1)" opacity=".7"/><circle cx="225.1" cy="219.9" r="2.2" fill="#d8b49a" filter="url(#b1)" opacity=".7"/><circle cx="188.3" cy="199.1" r="3.0" fill="#e6bc98" filter="url(#b1)" opacity=".7"/><circle cx="207.1" cy="203.6" r="2.5" fill="#ccaa90" filter="url(#b1)" opacity=".7"/><circle cx="224.2" cy="209.3" r="3.4" fill="#e2b294" filter="url(#b1)" opacity=".7"/><circle cx="237.4" cy="179.4" r="3.4" fill="#d8b49a" filter="url(#b1)" opacity=".7"/><circle cx="217.4" cy="223.6" r="1.5" fill="#e6bc98" filter="url(#b1)" opacity=".7"/><circle cx="230.7" cy="149.1" r="3.4" fill="#ccaa90" filter="url(#b1)" opacity=".7"/><circle cx="241.6" cy="191.0" r="1.7" fill="#e2b294" filter="url(#b1)" opacity=".7"/><circle cx="245.4" cy="188.3" r="1.9" fill="#d8b49a" filter="url(#b1)" opacity=".7"/><circle cx="244.3" cy="188.9" r="3.0" fill="#e6bc98" filter="url(#b1)" opacity=".7"/><circle cx="216.5" cy="196.0" r="2.9" fill="#ccaa90" filter="url(#b1)" opacity=".7"/><circle cx="254.4" cy="206.2" r="1.8" fill="#e2b294" filter="url(#b1)" opacity=".7"/><circle cx="188.5" cy="171.1" r="3.4" fill="#d8b49a" filter="url(#b1)" opacity=".7"/><circle cx="226.7" cy="194.8" r="2.5" fill="#e6bc98" filter="url(#b1)" opacity=".7"/><circle cx="189.7" cy="175.6" r="2.7" fill="#ccaa90" filter="url(#b1)" opacity=".7"/><circle cx="185.2" cy="235.0" r="1.8" fill="#e2b294" filter="url(#b1)" opacity=".7"/><circle cx="223.4" cy="223.9" r="3.2" fill="#d8b49a" filter="url(#b1)" opacity=".7"/><circle cx="228.1" cy="146.4" r="3.2" fill="#e6bc98" filter="url(#b1)" opacity=".7"/><circle cx="256.4" cy="151.2" r="2.2" fill="#ccaa90" filter="url(#b1)" opacity=".7"/><circle cx="245.1" cy="172.9" r="2.5" fill="#e2b294" filter="url(#b1)" opacity=".7"/><circle cx="244.2" cy="209.9" r="1.6" fill="#d8b49a" filter="url(#b1)" opacity=".7"/><circle cx="218.3" cy="235.6" r="3.2" fill="#e6bc98" filter="url(#b1)" opacity=".7"/><circle cx="212.9" cy="228.3" r="1.8" fill="#ccaa90" filter="url(#b1)" opacity=".7"/><circle cx="243.6" cy="146.5" r="3.1" fill="#e2b294" filter="url(#b1)" opacity=".7"/><circle cx="252.9" cy="163.7" r="1.8" fill="#d8b49a" filter="url(#b1)" opacity=".7"/><circle cx="196.0" cy="234.5" r="2.5" fill="#e6bc98" filter="url(#b1)" opacity=".7"/><circle cx="185.1" cy="187.5" r="3.3" fill="#ccaa90" filter="url(#b1)" opacity=".7"/><circle cx="202.9" cy="199.6" r="1.8" fill="#e2b294" filter="url(#b1)" opacity=".7"/><circle cx="210.6" cy="188.7" r="1.9" fill="#d8b49a" filter="url(#b1)" opacity=".7"/><circle cx="265.8" cy="194.7" r="2.4" fill="#e6bc98" filter="url(#b1)" opacity=".7"/><circle cx="248.7" cy="154.2" r="2.8" fill="#ccaa90" filter="url(#b1)" opacity=".7"/><circle cx="249.1" cy="220.5" r="1.6" fill="#e2b294" filter="url(#b1)" opacity=".7"/><circle cx="264.0" cy="183.0" r="2.3" fill="#d8b49a" filter="url(#b1)" opacity=".7"/><circle cx="256.8" cy="195.2" r="2.0" fill="#e6bc98" filter="url(#b1)" opacity=".7"/><circle cx="190.2" cy="174.7" r="2.0" fill="#ccaa90" filter="url(#b1)" opacity=".7"/>
<path d="M218.6 166.4 L226.3 164 L235.5 162.8 L243.2 163.4 L246.3 167.6 L246.3 176.2 L244.8 188.5 L245.5 196.2 L244 203.8 L240.2 211.5 L235.5 217.7 L227.8 222.3 L220.2 220.8 L217 214.6 L214 208.5 L209.4 202.3 L207 194.6 L211 187 L215.5 179.2 L217.8 171.5Z M180.2 180.8 L187 177.5 L194 176 L203.2 179.2 L210 184 L216 188 L218 200 L214 209 L206 210 L199 212 L192 206 L186 196 L180.2 186Z" fill="#ec7c5a" stroke="#ec7c5a" stroke-width="5" filter="url(#b3)" opacity=".8"/>
<ellipse cx="190" cy="163.5" rx="6" ry="5" fill="#ee8a66" filter="url(#b2)" opacity=".85"/>
<ellipse cx="190" cy="163.5" rx="3" ry="2.5" fill="#ea5a3a" filter="url(#b1)" opacity=".8"/>
<path d="M180.2 180.8 L187 177.5 L194 176 L203.2 179.2 L210 184 L216 188 L218 200 L214 209 L206 210 L199 212 L192 206 L186 196 L180.2 186Z" fill="#ec5a3a" filter="url(#b2)" opacity=".85"/>
<g filter="url(#b1)"><circle cx="188.9" cy="199.5" r="2.7" fill="#e8362a" opacity=".85"/><circle cx="207.1" cy="182.4" r="1.6" fill="#e4402c" opacity=".85"/><circle cx="217.6" cy="194.6" r="2.0" fill="#ea4e34" opacity=".85"/><circle cx="217.1" cy="198.6" r="2.8" fill="#e8362a" opacity=".85"/><circle cx="214.9" cy="188.9" r="2.1" fill="#e4402c" opacity=".85"/><circle cx="199.3" cy="188.1" r="2.4" fill="#ea4e34" opacity=".85"/><circle cx="202.7" cy="210.7" r="2.5" fill="#e8362a" opacity=".85"/><circle cx="209.1" cy="198.3" r="1.5" fill="#e4402c" opacity=".85"/><circle cx="211.8" cy="197.9" r="2.3" fill="#ea4e34" opacity=".85"/><circle cx="195.6" cy="208.7" r="1.7" fill="#e8362a" opacity=".85"/><circle cx="198.6" cy="199.6" r="2.0" fill="#e4402c" opacity=".85"/><circle cx="190.8" cy="201.9" r="2.8" fill="#ea4e34" opacity=".85"/><circle cx="215.6" cy="189.4" r="1.7" fill="#e8362a" opacity=".85"/><circle cx="203.4" cy="190.2" r="2.6" fill="#e4402c" opacity=".85"/><circle cx="193.5" cy="177.4" r="2.3" fill="#ea4e34" opacity=".85"/><circle cx="193.8" cy="187.8" r="1.2" fill="#e8362a" opacity=".85"/><circle cx="192.2" cy="190.2" r="1.4" fill="#e4402c" opacity=".85"/><circle cx="199.1" cy="203.9" r="2.0" fill="#ea4e34" opacity=".85"/><circle cx="188.4" cy="186.2" r="2.3" fill="#e8362a" opacity=".85"/><circle cx="206.4" cy="205.6" r="2.6" fill="#e4402c" opacity=".85"/><circle cx="205.7" cy="195.9" r="1.8" fill="#ea4e34" opacity=".85"/><circle cx="189.0" cy="179.9" r="1.9" fill="#e8362a" opacity=".85"/><circle cx="190.1" cy="182.9" r="2.7" fill="#e4402c" opacity=".85"/><circle cx="200.8" cy="202.3" r="1.4" fill="#ea4e34" opacity=".85"/><circle cx="205.7" cy="184.5" r="2.1" fill="#e8362a" opacity=".85"/><circle cx="200.5" cy="209.4" r="2.4" fill="#e4402c" opacity=".85"/><circle cx="201.5" cy="182.5" r="1.7" fill="#ea4e34" opacity=".85"/><circle cx="211.5" cy="186.4" r="2.6" fill="#e8362a" opacity=".85"/><circle cx="215.7" cy="203.3" r="2.3" fill="#e4402c" opacity=".85"/><circle cx="186.1" cy="178.6" r="1.6" fill="#ea4e34" opacity=".85"/><circle cx="185.0" cy="193.8" r="2.3" fill="#e8362a" opacity=".85"/><circle cx="213.6" cy="196.7" r="2.2" fill="#e4402c" opacity=".85"/><circle cx="201.1" cy="197.2" r="1.3" fill="#ea4e34" opacity=".85"/><circle cx="216.7" cy="195.0" r="1.6" fill="#e8362a" opacity=".85"/><circle cx="210.2" cy="202.7" r="1.4" fill="#e4402c" opacity=".85"/><circle cx="212.0" cy="208.3" r="1.5" fill="#ea4e34" opacity=".85"/><circle cx="199.5" cy="184.0" r="2.4" fill="#e8362a" opacity=".85"/><circle cx="190.3" cy="181.6" r="1.9" fill="#e4402c" opacity=".85"/><circle cx="205.2" cy="185.7" r="1.5" fill="#ea4e34" opacity=".85"/><circle cx="193.5" cy="182.7" r="2.2" fill="#e8362a" opacity=".85"/><circle cx="183.0" cy="189.5" r="1.4" fill="#e4402c" opacity=".85"/><circle cx="205.7" cy="201.8" r="1.6" fill="#ea4e34" opacity=".85"/><circle cx="185.1" cy="182.2" r="2.4" fill="#e8362a" opacity=".85"/><circle cx="192.4" cy="195.3" r="1.8" fill="#e4402c" opacity=".85"/><circle cx="211.9" cy="208.2" r="1.3" fill="#ea4e34" opacity=".85"/></g>
<path d="M218.6 166.4 L226.3 164 L235.5 162.8 L243.2 163.4 L246.3 167.6 L246.3 176.2 L244.8 188.5 L245.5 196.2 L244 203.8 L240.2 211.5 L235.5 217.7 L227.8 222.3 L220.2 220.8 L217 214.6 L214 208.5 L209.4 202.3 L207 194.6 L211 187 L215.5 179.2 L217.8 171.5Z" fill="#e0201f" filter="url(#b1)"/>
<path d="M218.6 166.4 L226.3 164 L235.5 162.8 L243.2 163.4 L246.3 167.6 L246.3 176.2 L244.8 188.5 L245.5 196.2 L244 203.8 L240.2 211.5 L235.5 217.7 L227.8 222.3 L220.2 220.8 L217 214.6 L214 208.5 L209.4 202.3 L207 194.6 L211 187 L215.5 179.2 L217.8 171.5Z" fill="none" stroke="#e83a2c" stroke-width="2" filter="url(#b1)" opacity=".8"/>
<g filter="url(#b1)"><circle cx="217.8" cy="167.3" r="2.0" fill="#e8402c"/><circle cx="221.4" cy="163.5" r="1.6" fill="#ea5436"/><circle cx="222.8" cy="164.6" r="1.1" fill="#e63028"/><circle cx="224.0" cy="164.0" r="1.1" fill="#e8402c"/><circle cx="224.7" cy="162.3" r="2.1" fill="#ea5436"/><circle cx="225.9" cy="163.0" r="2.4" fill="#e63028"/><circle cx="226.7" cy="161.9" r="1.7" fill="#e8402c"/><circle cx="230.0" cy="162.8" r="2.0" fill="#ea5436"/><circle cx="231.4" cy="163.3" r="1.5" fill="#e63028"/><circle cx="233.2" cy="162.4" r="2.1" fill="#e8402c"/><circle cx="236.7" cy="160.8" r="1.4" fill="#ea5436"/><circle cx="238.1" cy="161.6" r="1.5" fill="#e63028"/><circle cx="237.9" cy="163.2" r="2.1" fill="#e8402c"/><circle cx="241.6" cy="161.7" r="1.7" fill="#ea5436"/><circle cx="242.6" cy="163.0" r="1.7" fill="#e63028"/><circle cx="243.2" cy="164.2" r="1.0" fill="#e8402c"/><circle cx="243.8" cy="162.7" r="1.4" fill="#ea5436"/><circle cx="244.5" cy="164.1" r="1.4" fill="#e63028"/><circle cx="244.7" cy="164.9" r="1.6" fill="#e8402c"/><circle cx="244.6" cy="166.6" r="1.2" fill="#ea5436"/><circle cx="245.2" cy="167.9" r="2.3" fill="#e63028"/><circle cx="246.9" cy="168.5" r="2.1" fill="#e8402c"/><circle cx="246.0" cy="170.1" r="2.1" fill="#ea5436"/><circle cx="246.3" cy="174.1" r="1.6" fill="#e63028"/><circle cx="246.6" cy="174.0" r="1.9" fill="#e8402c"/><circle cx="247.9" cy="175.9" r="1.5" fill="#ea5436"/><circle cx="245.7" cy="180.6" r="1.4" fill="#e63028"/><circle cx="246.3" cy="182.2" r="2.3" fill="#e8402c"/><circle cx="246.0" cy="184.1" r="2.1" fill="#ea5436"/><circle cx="245.7" cy="186.8" r="2.2" fill="#e63028"/><circle cx="246.8" cy="187.5" r="1.9" fill="#e8402c"/><circle cx="242.9" cy="189.8" r="1.9" fill="#ea5436"/><circle cx="243.8" cy="191.8" r="2.4" fill="#e63028"/><circle cx="244.2" cy="193.2" r="1.8" fill="#e8402c"/><circle cx="246.4" cy="194.3" r="1.4" fill="#ea5436"/><circle cx="244.9" cy="196.9" r="1.3" fill="#e63028"/><circle cx="244.6" cy="197.7" r="2.3" fill="#e8402c"/><circle cx="244.8" cy="198.2" r="1.3" fill="#ea5436"/><circle cx="245.5" cy="199.9" r="1.1" fill="#e63028"/><circle cx="245.1" cy="202.7" r="1.8" fill="#e8402c"/><circle cx="243.1" cy="203.5" r="1.1" fill="#ea5436"/><circle cx="244.0" cy="205.1" r="1.6" fill="#e63028"/><circle cx="244.5" cy="206.1" r="1.4" fill="#e8402c"/><circle cx="242.8" cy="207.0" r="1.5" fill="#ea5436"/><circle cx="240.8" cy="210.9" r="2.1" fill="#e63028"/><circle cx="238.6" cy="211.8" r="1.5" fill="#e8402c"/><circle cx="238.3" cy="211.6" r="2.3" fill="#ea5436"/><circle cx="237.7" cy="213.5" r="2.1" fill="#e63028"/><circle cx="237.0" cy="214.7" r="2.2" fill="#e8402c"/><circle cx="235.7" cy="214.2" r="1.4" fill="#ea5436"/><circle cx="236.7" cy="219.6" r="1.5" fill="#e63028"/><circle cx="234.4" cy="218.4" r="1.4" fill="#e8402c"/><circle cx="231.6" cy="219.8" r="1.6" fill="#ea5436"/><circle cx="231.2" cy="219.7" r="1.4" fill="#e63028"/><circle cx="229.2" cy="222.1" r="1.6" fill="#e8402c"/><circle cx="228.1" cy="222.3" r="1.9" fill="#ea5436"/><circle cx="226.4" cy="221.4" r="1.8" fill="#e63028"/><circle cx="224.7" cy="221.8" r="2.1" fill="#e8402c"/><circle cx="222.6" cy="221.3" r="2.2" fill="#ea5436"/><circle cx="222.6" cy="222.0" r="1.5" fill="#e63028"/><circle cx="218.3" cy="219.6" r="2.3" fill="#e8402c"/><circle cx="220.5" cy="220.0" r="1.6" fill="#ea5436"/><circle cx="219.3" cy="217.1" r="1.3" fill="#e63028"/><circle cx="218.4" cy="217.6" r="1.5" fill="#e8402c"/><circle cx="218.0" cy="215.2" r="1.4" fill="#ea5436"/><circle cx="216.5" cy="214.9" r="1.4" fill="#e63028"/><circle cx="216.6" cy="214.6" r="1.2" fill="#e8402c"/><circle cx="213.8" cy="211.7" r="2.2" fill="#ea5436"/><circle cx="216.3" cy="210.0" r="1.3" fill="#e63028"/><circle cx="214.7" cy="211.0" r="2.3" fill="#e8402c"/><circle cx="213.1" cy="208.8" r="2.3" fill="#ea5436"/><circle cx="214.8" cy="206.2" r="2.4" fill="#e63028"/><circle cx="210.4" cy="207.0" r="1.5" fill="#e8402c"/><circle cx="210.8" cy="204.8" r="1.0" fill="#ea5436"/><circle cx="210.4" cy="204.7" r="2.1" fill="#e63028"/><circle cx="209.2" cy="203.2" r="2.1" fill="#e8402c"/><circle cx="209.6" cy="200.8" r="2.3" fill="#ea5436"/><circle cx="209.4" cy="199.5" r="1.7" fill="#e63028"/><circle cx="207.9" cy="200.4" r="2.2" fill="#e8402c"/><circle cx="205.7" cy="195.1" r="1.5" fill="#ea5436"/><circle cx="206.1" cy="194.3" r="1.1" fill="#e63028"/><circle cx="208.0" cy="192.9" r="1.3" fill="#e8402c"/><circle cx="210.6" cy="191.1" r="2.2" fill="#ea5436"/><circle cx="208.5" cy="190.1" r="2.1" fill="#e63028"/><circle cx="209.8" cy="188.1" r="1.2" fill="#e8402c"/><circle cx="211.8" cy="187.3" r="1.5" fill="#ea5436"/><circle cx="212.9" cy="184.5" r="1.7" fill="#e63028"/><circle cx="213.4" cy="183.9" r="2.3" fill="#e8402c"/><circle cx="213.2" cy="180.9" r="2.1" fill="#ea5436"/><circle cx="214.5" cy="179.8" r="1.3" fill="#e63028"/><circle cx="216.2" cy="179.6" r="1.4" fill="#e8402c"/><circle cx="216.4" cy="180.1" r="2.3" fill="#ea5436"/><circle cx="217.6" cy="174.3" r="2.1" fill="#e63028"/><circle cx="217.4" cy="174.8" r="2.1" fill="#e8402c"/><circle cx="217.5" cy="172.6" r="1.5" fill="#ea5436"/><circle cx="218.6" cy="169.0" r="2.3" fill="#e63028"/><circle cx="216.8" cy="170.8" r="1.3" fill="#e8402c"/><circle cx="218.3" cy="169.9" r="1.0" fill="#ea5436"/><circle cx="218.0" cy="167.4" r="2.3" fill="#e63028"/><circle cx="219.1" cy="166.8" r="1.2" fill="#e8402c"/></g>
<ellipse cx="232" cy="192" rx="10" ry="20" fill="#d41a1c" filter="url(#b3)" opacity=".6"/>
<g filter="url(#b05)" opacity=".7"><circle cx="198.1" cy="192.3" r="1.1" fill="#f49a6a"/><circle cx="194.9" cy="204.8" r="1.1" fill="#f49a6a"/><circle cx="206.8" cy="196.8" r="0.8" fill="#f49a6a"/><circle cx="201.5" cy="189.3" r="0.9" fill="#f49a6a"/><circle cx="202.9" cy="205.4" r="1.0" fill="#f49a6a"/><circle cx="196.1" cy="201.1" r="0.9" fill="#f49a6a"/><circle cx="193.8" cy="181.5" r="0.7" fill="#f49a6a"/><circle cx="200.9" cy="200.6" r="1.3" fill="#f49a6a"/><circle cx="195.8" cy="192.7" r="1.4" fill="#f49a6a"/><circle cx="206.3" cy="195.7" r="0.9" fill="#f49a6a"/><circle cx="190.1" cy="184.9" r="0.7" fill="#f49a6a"/><circle cx="199.7" cy="198.4" r="1.2" fill="#f49a6a"/><circle cx="197.2" cy="195.4" r="1.1" fill="#f49a6a"/><circle cx="189.1" cy="186.7" r="0.8" fill="#f49a6a"/><circle cx="194.3" cy="191.5" r="1.4" fill="#f49a6a"/><circle cx="188.8" cy="205.4" r="1.2" fill="#f49a6a"/><circle cx="194.3" cy="206.3" r="1.3" fill="#f49a6a"/><circle cx="195.0" cy="182.4" r="0.8" fill="#f49a6a"/><circle cx="218.0" cy="198.2" r="1.0" fill="#f49a6a"/><circle cx="188.9" cy="191.8" r="1.2" fill="#f49a6a"/><circle cx="202.2" cy="190.1" r="1.0" fill="#f49a6a"/><circle cx="193.5" cy="196.1" r="1.4" fill="#f49a6a"/><circle cx="200.0" cy="206.2" r="1.5" fill="#f49a6a"/><circle cx="194.4" cy="198.5" r="1.3" fill="#f49a6a"/><circle cx="190.7" cy="186.6" r="1.0" fill="#f49a6a"/><circle cx="208.4" cy="194.6" r="1.0" fill="#f49a6a"/><circle cx="205.9" cy="197.7" r="1.1" fill="#f49a6a"/><circle cx="183.3" cy="203.0" r="0.8" fill="#f49a6a"/><circle cx="195.9" cy="193.7" r="1.2" fill="#f49a6a"/><circle cx="194.3" cy="195.3" r="1.3" fill="#f49a6a"/><circle cx="184.5" cy="196.1" r="0.8" fill="#f49a6a"/><circle cx="198.4" cy="199.4" r="1.3" fill="#f49a6a"/><circle cx="201.1" cy="179.4" r="1.2" fill="#f49a6a"/><circle cx="197.5" cy="205.2" r="1.3" fill="#f49a6a"/><circle cx="200.7" cy="196.8" r="0.8" fill="#f49a6a"/><circle cx="211.0" cy="194.3" r="1.3" fill="#f49a6a"/><circle cx="193.5" cy="185.6" r="0.9" fill="#f49a6a"/><circle cx="207.0" cy="196.3" r="1.0" fill="#f49a6a"/><circle cx="214.3" cy="209.9" r="1.4" fill="#f49a6a"/><circle cx="174.2" cy="189.5" r="1.3" fill="#f49a6a"/></g>
<g filter="url(#b05)" opacity=".8"><circle cx="199.1" cy="189.1" r="1.2" fill="#e02a20"/><circle cx="197.3" cy="190.1" r="0.9" fill="#e02a20"/><circle cx="207.1" cy="189.8" r="1.7" fill="#e02a20"/><circle cx="199.6" cy="198.5" r="1.1" fill="#e02a20"/><circle cx="194.6" cy="185.9" r="1.7" fill="#e02a20"/><circle cx="211.3" cy="184.1" r="1.1" fill="#e02a20"/><circle cx="199.0" cy="196.5" r="1.0" fill="#e02a20"/><circle cx="203.4" cy="207.7" r="1.8" fill="#e02a20"/><circle cx="210.7" cy="188.9" r="0.8" fill="#e02a20"/><circle cx="191.4" cy="194.5" r="1.3" fill="#e02a20"/><circle cx="198.1" cy="194.9" r="1.4" fill="#e02a20"/><circle cx="207.0" cy="202.8" r="1.7" fill="#e02a20"/><circle cx="198.2" cy="201.3" r="1.4" fill="#e02a20"/><circle cx="197.2" cy="192.2" r="1.3" fill="#e02a20"/><circle cx="199.3" cy="201.7" r="1.1" fill="#e02a20"/><circle cx="198.2" cy="195.8" r="1.1" fill="#e02a20"/><circle cx="198.1" cy="200.9" r="1.1" fill="#e02a20"/><circle cx="203.1" cy="207.8" r="1.3" fill="#e02a20"/><circle cx="200.9" cy="180.1" r="0.9" fill="#e02a20"/><circle cx="212.2" cy="185.4" r="1.6" fill="#e02a20"/><circle cx="202.5" cy="185.9" r="1.7" fill="#e02a20"/><circle cx="211.9" cy="186.7" r="1.2" fill="#e02a20"/><circle cx="201.2" cy="196.0" r="1.5" fill="#e02a20"/><circle cx="212.4" cy="196.1" r="1.8" fill="#e02a20"/><circle cx="199.4" cy="207.3" r="1.6" fill="#e02a20"/><circle cx="208.8" cy="205.1" r="1.3" fill="#e02a20"/><circle cx="201.5" cy="197.3" r="0.9" fill="#e02a20"/><circle cx="211.5" cy="194.3" r="1.2" fill="#e02a20"/><circle cx="194.9" cy="199.9" r="1.1" fill="#e02a20"/><circle cx="197.1" cy="198.2" r="0.9" fill="#e02a20"/><circle cx="203.1" cy="192.0" r="0.9" fill="#e02a20"/><circle cx="193.7" cy="200.0" r="1.3" fill="#e02a20"/><circle cx="210.5" cy="191.7" r="1.5" fill="#e02a20"/><circle cx="199.1" cy="194.6" r="0.8" fill="#e02a20"/><circle cx="204.0" cy="194.2" r="1.1" fill="#e02a20"/><circle cx="207.5" cy="191.1" r="0.9" fill="#e02a20"/><circle cx="204.5" cy="190.7" r="1.5" fill="#e02a20"/><circle cx="195.3" cy="195.6" r="1.5" fill="#e02a20"/><circle cx="191.1" cy="194.3" r="1.0" fill="#e02a20"/><circle cx="188.8" cy="186.7" r="1.5" fill="#e02a20"/></g>
<path d="M217.3 228.4h.3M255.1 231.6h.3M254.1 167.8h.3M252.4 180.1h.3M241.1 229.3h.3M266.5 198.1h.3M236.6 224.6h.3M178.9 162.8h.3M220.7 158.9h.3M242.2 205.5h.3M251.7 182.4h.3M185.6 168.0h.3M263.3 161.2h.3M200.6 165.0h.3M189.6 228.6h.3M175.0 181.6h.3M201.9 157.2h.3M251.4 172.8h.3M221.0 160.6h.3M176.2 229.9h.3M211.3 168.9h.3M244.9 181.3h.3M233.4 146.1h.3M227.0 222.4h.3M180.2 180.4h.3M253.5 187.4h.3M231.3 229.4h.3M247.4 234.8h.3M237.8 218.9h.3M175.0 166.0h.3M239.9 225.1h.3M173.6 198.3h.3M182.2 195.9h.3M212.4 184.4h.3M246.1 235.7h.3M211.3 174.2h.3M183.2 201.6h.3M197.5 165.8h.3M253.7 176.8h.3M250.9 181.9h.3M180.1 171.6h.3M194.2 145.6h.3M183.3 148.4h.3M256.6 172.6h.3M236.3 229.0h.3M175.3 197.1h.3M228.9 228.0h.3M175.2 197.9h.3M192.9 212.0h.3M186.5 204.1h.3M182.8 151.7h.3M215.3 149.9h.3M186.3 173.7h.3M257.2 184.2h.3M257.2 217.2h.3M265.2 169.4h.3M186.3 149.6h.3M188.3 215.4h.3M246.7 195.8h.3M226.4 234.7h.3M259.2 198.2h.3M255.9 195.2h.3M236.6 159.3h.3M251.8 226.3h.3M221.1 161.0h.3M259.5 183.0h.3M219.5 231.7h.3M229.1 155.3h.3M265.7 222.8h.3M248.2 207.7h.3M227.4 157.3h.3M188.1 206.1h.3M186.5 200.4h.3M256.5 231.8h.3M173.8 228.3h.3M232.0 158.5h.3M235.4 234.9h.3M205.8 158.4h.3M194.0 218.2h.3M263.9 226.4h.3M232.3 149.7h.3M213.1 227.6h.3M195.3 175.4h.3M241.7 225.5h.3M254.7 209.0h.3M265.8 176.8h.3M185.8 221.2h.3M198.7 234.8h.3M180.7 231.6h.3M207.8 179.9h.3M206.1 156.1h.3M263.0 198.6h.3M184.2 208.7h.3M256.2 172.6h.3M261.1 146.0h.3M224.5 161.2h.3M261.5 212.6h.3M198.2 157.8h.3M215.5 164.1h.3M257.5 204.5h.3M262.8 185.2h.3M190.5 203.5h.3M186.3 156.6h.3M187.9 148.9h.3M198.0 207.8h.3M214.8 222.5h.3M182.5 198.7h.3M198.9 188.8h.3M206.2 229.2h.3M176.0 213.0h.3M258.0 227.6h.3M263.3 203.9h.3M236.6 225.5h.3M245.1 233.3h.3M219.3 231.6h.3M177.5 226.3h.3M195.3 170.3h.3M180.4 162.4h.3M248.5 190.8h.3M255.5 222.7h.3M188.1 151.2h.3M182.2 209.9h.3M184.8 185.5h.3M260.6 219.9h.3M198.3 148.1h.3M212.4 205.0h.3M255.8 172.2h.3M174.0 204.9h.3M228.4 152.3h.3M221.8 234.9h.3M189.1 229.8h.3M253.5 186.4h.3M187.3 230.1h.3M187.4 212.7h.3M241.2 155.7h.3M248.9 170.4h.3M264.0 203.2h.3M253.0 224.6h.3M221.3 162.3h.3M210.5 222.8h.3M249.4 154.1h.3M184.9 148.8h.3M243.1 212.2h.3M186.0 155.2h.3M198.7 221.3h.3M219.1 229.7h.3M259.4 207.9h.3M262.5 229.4h.3M249.7 205.3h.3M224.0 229.9h.3M236.4 230.4h.3M188.8 151.0h.3M232.4 153.0h.3M255.4 148.9h.3M219.2 234.9h.3M206.4 223.5h.3M213.7 160.0h.3M210.5 234.6h.3M226.4 224.5h.3M260.8 156.8h.3M210.0 167.2h.3M222.9 154.9h.3M242.9 214.7h.3M192.6 225.4h.3M225.0 229.8h.3M247.2 181.7h.3M239.9 212.9h.3M175.5 206.8h.3M200.3 173.3h.3M175.1 226.7h.3M235.9 223.9h.3M251.5 173.1h.3M257.3 158.0h.3M252.7 196.2h.3M260.2 220.7h.3M178.5 233.1h.3M186.3 160.4h.3M188.4 151.9h.3M235.4 225.0h.3M185.6 164.3h.3M253.9 183.1h.3M176.0 172.8h.3M201.6 223.1h.3M200.1 221.6h.3M255.7 207.7h.3M210.2 152.7h.3M184.6 210.8h.3M194.0 148.9h.3M249.7 205.4h.3M250.7 215.0h.3M178.1 225.9h.3M266.3 175.6h.3M243.4 212.2h.3M194.2 210.2h.3M195.4 224.8h.3M199.5 235.0h.3M225.1 231.4h.3M248.1 182.7h.3M173.4 149.8h.3M189.2 218.6h.3M174.6 162.4h.3M240.7 225.4h.3M233.1 151.0h.3M262.5 200.2h.3M224.2 145.9h.3M193.4 232.5h.3M213.0 228.6h.3M223.9 226.1h.3M174.7 195.2h.3M211.1 151.4h.3M243.4 223.3h.3M244.9 187.9h.3M252.5 166.6h.3M239.2 159.2h.3M219.6 219.3h.3M206.5 231.1h.3M254.2 146.0h.3M180.5 157.3h.3M175.8 168.6h.3M199.3 153.8h.3M177.7 227.2h.3M198.4 163.0h.3M254.4 225.3h.3M203.3 229.7h.3M263.4 201.1h.3M212.8 213.3h.3M236.0 161.6h.3M212.9 164.2h.3M193.0 215.4h.3M264.2 147.0h.3M247.6 148.5h.3M204.9 178.7h.3M176.9 201.0h.3M254.4 206.2h.3M260.8 194.2h.3M254.9 212.9h.3M259.4 182.1h.3M178.7 151.8h.3M244.9 203.5h.3M185.0 193.9h.3M232.2 147.9h.3M254.1 215.8h.3M248.5 199.7h.3M266.5 229.0h.3M252.7 166.8h.3M187.8 215.8h.3M244.4 186.2h.3M266.6 200.3h.3M253.2 204.5h.3M184.0 151.5h.3M248.4 164.1h.3M200.4 164.5h.3M181.1 174.7h.3M207.2 189.2h.3M187.1 184.0h.3M195.3 222.1h.3M211.9 217.4h.3M245.6 208.3h.3M243.7 218.8h.3M203.8 154.9h.3M244.5 234.2h.3M185.1 152.3h.3M248.8 206.7h.3M233.6 149.1h.3M226.3 154.0h.3M193.1 152.2h.3M254.7 234.0h.3M182.8 163.6h.3M256.3 202.0h.3M173.7 147.6h.3M254.5 185.6h.3M192.0 230.8h.3M182.5 171.8h.3M191.2 150.5h.3M243.9 203.4h.3M183.2 171.3h.3M210.3 149.9h.3M195.1 179.9h.3M259.6 155.7h.3M238.0 158.2h.3M262.1 180.3h.3M194.1 163.1h.3M182.0 165.4h.3M206.8 159.4h.3M252.4 229.5h.3M185.4 152.1h.3M255.7 212.4h.3M193.6 198.5h.3M188.5 160.4h.3M240.7 153.2h.3M244.8 146.3h.3M222.5 234.2h.3M207.3 236.0h.3M264.9 199.8h.3M177.3 157.4h.3M232.5 231.1h.3M208.2 181.3h.3M206.5 216.8h.3M197.4 158.6h.3M241.6 206.7h.3M255.3 231.0h.3M250.2 224.7h.3M173.6 196.8h.3M221.1 152.9h.3M216.6 232.5h.3M193.6 210.8h.3M207.7 203.6h.3M204.4 212.4h.3M247.5 182.7h.3M210.8 214.2h.3M266.3 158.9h.3M213.2 164.3h.3M191.4 190.5h.3M205.6 168.6h.3M253.6 189.4h.3M188.9 177.3h.3M182.5 213.3h.3M220.0 229.6h.3M206.4 209.0h.3M196.7 198.9h.3M209.7 186.3h.3M251.8 176.1h.3M211.0 204.9h.3M179.1 174.2h.3M212.5 232.2h.3M182.6 215.2h.3M209.2 224.6h.3M242.8 210.5h.3M179.0 187.8h.3M216.0 216.5h.3M191.0 209.0h.3M173.2 197.7h.3M215.9 159.0h.3M207.9 211.2h.3M209.8 224.7h.3M194.3 201.4h.3M205.5 187.7h.3M205.2 202.0h.3M197.5 179.2h.3M203.1 200.8h.3M196.8 195.4h.3M264.0 208.1h.3M181.8 176.9h.3M164.7 187.8h.3M187.9 213.0h.3M209.4 183.5h.3M266.4 163.0h.3M216.3 153.1h.3M218.0 164.5h.3M213.4 184.3h.3M196.0 191.8h.3M215.2 180.2h.3M215.0 165.6h.3M188.0 183.1h.3M179.5 198.7h.3M211.8 174.0h.3M202.0 201.5h.3M183.7 200.7h.3M195.2 188.9h.3M208.0 200.4h.3M211.0 177.4h.3M222.7 148.3h.3M209.6 177.9h.3M203.0 191.3h.3M192.9 151.2h.3M220.8 229.6h.3M204.4 169.3h.3M199.6 190.5h.3M217.1 148.3h.3M214.4 177.9h.3M189.0 165.8h.3M216.4 161.6h.3M251.3 167.0h.3M251.1 209.7h.3M161.8 165.0h.3M202.9 179.3h.3M201.9 211.9h.3M228.1 226.1h.3M166.0 200.3h.3M199.8 182.1h.3M206.6 157.4h.3M233.4 161.6h.3M242.1 162.9h.3M232.5 154.5h.3M222.9 227.3h.3" stroke="#fae6c6" stroke-width="1.2" stroke-linecap="round" opacity=".65" filter="url(#b03)"/>
</g>
<line x1="236" y1="231.2" x2="264.2" y2="231.2" stroke="#111" stroke-width="1.6"/>
<text x="250.2" y="228.6" font-size="6.8" text-anchor="middle" fill="#111" textLength="22.5" lengthAdjust="spacingAndGlyphs">250 um</text>
<text x="279.6" y="136.2" font-size="10.8" fill="#111" font-weight="bold">D</text>
<linearGradient id="tg0" x1="0" y1="0" x2="0" y2="1"><stop offset="0" stop-color="#b0cab8"/><stop offset="1" stop-color="#94c8a8"/></linearGradient>
<clipPath id="dt0"><rect x="285.3" y="145.7" width="41.7" height="56.7"/></clipPath>
<rect x="285.3" y="145.7" width="41.7" height="56.7" fill="url(#tg0)"/>
<linearGradient id="tg1" x1="0" y1="0" x2="0" y2="1"><stop offset="0" stop-color="#a2d4b2"/><stop offset="1" stop-color="#9cd3b0"/></linearGradient>
<clipPath id="dt1"><rect x="329.0" y="145.7" width="47.1" height="56.7"/></clipPath>
<rect x="329.0" y="145.7" width="47.1" height="56.7" fill="url(#tg1)"/>
<linearGradient id="tg2" x1="0" y1="0" x2="0" y2="1"><stop offset="0" stop-color="#b2bdb6"/><stop offset="1" stop-color="#acbab2"/></linearGradient>
<clipPath id="dt2"><rect x="378.0" y="145.7" width="55.0" height="56.7"/></clipPath>
<rect x="378.0" y="145.7" width="55.0" height="56.7" fill="url(#tg2)"/>
<linearGradient id="tg3" x1="0" y1="0" x2="0" y2="1"><stop offset="0" stop-color="#acd6bc"/><stop offset="1" stop-color="#9cd3b2"/></linearGradient>
<clipPath id="dt3"><rect x="434.9" y="145.7" width="61.4" height="56.7"/></clipPath>
<rect x="434.9" y="145.7" width="61.4" height="56.7" fill="url(#tg3)"/>
<linearGradient id="tg4" x1="0" y1="0" x2="0" y2="1"><stop offset="0" stop-color="#b6bcb4"/><stop offset="1" stop-color="#a8c4b0"/></linearGradient>
<clipPath id="dt4"><rect x="285.0" y="208.7" width="65.6" height="52.1"/></clipPath>
<rect x="285.0" y="208.7" width="65.6" height="52.1" fill="url(#tg4)"/>
<linearGradient id="tg5" x1="0" y1="0" x2="0" y2="1"><stop offset="0" stop-color="#c4c6bf"/><stop offset="1" stop-color="#c6c3be"/></linearGradient>
<clipPath id="dt5"><rect x="352.3" y="208.7" width="70.8" height="52.1"/></clipPath>
<rect x="352.3" y="208.7" width="70.8" height="52.1" fill="url(#tg5)"/>
<linearGradient id="tg6" x1="0" y1="0" x2="0" y2="1"><stop offset="0" stop-color="#a6ceb6"/><stop offset="1" stop-color="#a0c9b0"/></linearGradient>
<clipPath id="dt6"><rect x="424.3" y="208.7" width="72.0" height="52.1"/></clipPath>
<rect x="424.3" y="208.7" width="72.0" height="52.1" fill="url(#tg6)"/>
<g clip-path="url(#dt0)">
<ellipse cx="305.5" cy="176.5" rx="8.5" ry="16" fill="#d690bc" filter="url(#b2)" opacity="0.55"/>
<ellipse cx="300.2" cy="172" rx="4.6" ry="4.6" fill="#d26eaa" filter="url(#b05)" opacity="1"/>
<ellipse cx="300.2" cy="172.3" rx="2.6" ry="2.4" fill="#b2458e" filter="url(#b05)" opacity="1"/>
<ellipse cx="304.7" cy="163" rx="3.3" ry="3.3" fill="#b04890" filter="url(#b05)" opacity="1"/>
<ellipse cx="304.7" cy="163" rx="2.4" ry="2.4" fill="#7a2a78" filter="url(#b05)" opacity="1"/>
<ellipse cx="307.5" cy="168" rx="3.1" ry="3.1" fill="#b04890" filter="url(#b05)" opacity="1"/>
<ellipse cx="307.5" cy="168" rx="2.2" ry="2.2" fill="#3a2050" filter="url(#b05)" opacity="1"/>
<ellipse cx="308.9" cy="171.8" rx="3.0" ry="3.0" fill="#b04890" filter="url(#b05)" opacity="1"/>
<ellipse cx="308.9" cy="171.8" rx="2.1" ry="2.1" fill="#3a2050" filter="url(#b05)" opacity="1"/>
<ellipse cx="310.9" cy="176.7" rx="3.1999999999999997" ry="3.1999999999999997" fill="#b04890" filter="url(#b05)" opacity="1"/>
<ellipse cx="310.9" cy="176.7" rx="2.3" ry="2.3" fill="#3a2050" filter="url(#b05)" opacity="1"/>
<ellipse cx="303" cy="178.7" rx="3.6999999999999997" ry="3.6999999999999997" fill="#b04890" filter="url(#b05)" opacity="1"/>
<ellipse cx="303" cy="178.7" rx="2.8" ry="2.8" fill="#5a2568" filter="url(#b05)" opacity="1"/>
<ellipse cx="310.5" cy="181.5" rx="3.1" ry="3.1" fill="#b04890" filter="url(#b05)" opacity="1"/>
<ellipse cx="310.5" cy="181.5" rx="2.2" ry="2.2" fill="#3a2050" filter="url(#b05)" opacity="1"/>
<ellipse cx="303.6" cy="184.9" rx="3.1999999999999997" ry="3.1999999999999997" fill="#b04890" filter="url(#b05)" opacity="1"/>
<ellipse cx="303.6" cy="184.9" rx="2.3" ry="2.3" fill="#3a2050" filter="url(#b05)" opacity="1"/>
<ellipse cx="310.1" cy="186" rx="3.1999999999999997" ry="3.1999999999999997" fill="#b04890" filter="url(#b05)" opacity="1"/>
<ellipse cx="310.1" cy="186" rx="2.3" ry="2.3" fill="#3a2050" filter="url(#b05)" opacity="1"/>
<ellipse cx="304.5" cy="189.9" rx="3.5" ry="3.5" fill="#b04890" filter="url(#b05)" opacity="1"/>
<ellipse cx="304.5" cy="189.9" rx="2.6" ry="2.6" fill="#6a2870" filter="url(#b05)" opacity="1"/>
</g>
<g clip-path="url(#dt1)">
<path d="M350.5 149 L356 149.6 L360.6 157.4 L369.5 160.8 L374 165.3 L371.7 170.8 L366.2 177.6 L358.3 181 L351.6 187.6 L343.8 187.6 L338.2 184.3 L331.5 180.9 L329.8 176.4 L333.7 172 L337 163 L343.8 158.5 L346 153Z" fill="#bc389c" filter="url(#b1)" opacity="1"/>
<ellipse cx="348.7" cy="182.6" rx="5.8" ry="6.2" fill="#c24aa6" filter="url(#b05)" opacity="1"/>
<ellipse cx="351.4" cy="151.6" rx="5.4" ry="5.0" fill="#c24aa6" filter="url(#b05)" opacity="1"/>
<ellipse cx="351.1" cy="152.8" rx="5.2" ry="5.5" fill="#b0349a" filter="url(#b05)" opacity="1"/>
<ellipse cx="365.8" cy="163.5" rx="4.4" ry="4.7" fill="#a83098" filter="url(#b05)" opacity="1"/>
<ellipse cx="335.0" cy="177.5" rx="4.6" ry="4.7" fill="#a83098" filter="url(#b05)" opacity="1"/>
<ellipse cx="360.2" cy="160.4" rx="6.2" ry="6.2" fill="#bc389c" filter="url(#b05)" opacity="1"/>
<ellipse cx="364.3" cy="170.1" rx="4.3" ry="4.3" fill="#a83098" filter="url(#b05)" opacity="1"/>
<ellipse cx="339.0" cy="167.6" rx="6.1" ry="6.0" fill="#b0349a" filter="url(#b05)" opacity="1"/>
<ellipse cx="354.7" cy="151.5" rx="4.2" ry="4.4" fill="#b0349a" filter="url(#b05)" opacity="1"/>
<ellipse cx="349.6" cy="173.7" rx="6.4" ry="6.6" fill="#a83098" filter="url(#b05)" opacity="1"/>
<ellipse cx="334.2" cy="178.4" rx="5.7" ry="5.6" fill="#bc389c" filter="url(#b05)" opacity="1"/>
<ellipse cx="352.8" cy="169.9" rx="6.3" ry="5.9" fill="#b0349a" filter="url(#b05)" opacity="1"/>
<ellipse cx="341.0" cy="171.0" rx="4.7" ry="4.0" fill="#bc389c" filter="url(#b05)" opacity="1"/>
<ellipse cx="350.6" cy="165.4" rx="4.2" ry="4.0" fill="#a83098" filter="url(#b05)" opacity="1"/>
<ellipse cx="351.4" cy="159.4" rx="5.5" ry="5.0" fill="#c24aa6" filter="url(#b05)" opacity="1"/>
<ellipse cx="352.0" cy="182.2" rx="5.7" ry="6.1" fill="#b0349a" filter="url(#b05)" opacity="1"/>
<ellipse cx="340.3" cy="166.6" rx="6.2" ry="5.9" fill="#c24aa6" filter="url(#b05)" opacity="1"/>
<ellipse cx="367.3" cy="162.6" rx="4.2" ry="4.0" fill="#bc389c" filter="url(#b05)" opacity="1"/>
<ellipse cx="349.1" cy="154.1" rx="4.8" ry="5.2" fill="#a83098" filter="url(#b05)" opacity="1"/>
<ellipse cx="343.6" cy="182.4" rx="6.0" ry="5.8" fill="#c24aa6" filter="url(#b05)" opacity="1"/>
<ellipse cx="356.4" cy="176.0" rx="5.7" ry="5.9" fill="#bc389c" filter="url(#b05)" opacity="1"/>
<ellipse cx="352.2" cy="162.1" rx="4.1" ry="3.8" fill="#bc389c" filter="url(#b05)" opacity="1"/>
<ellipse cx="359.4" cy="192.1" rx="5.2" ry="5.2" fill="#c8449e" filter="url(#b05)" opacity="1"/>
<ellipse cx="351" cy="185.6" rx="3" ry="3" fill="#d27ab2" filter="url(#b05)" opacity="1"/>
<ellipse cx="353" cy="153" rx="5" ry="4.5" fill="#cc44a4" filter="url(#b1)" opacity="1"/>
<ellipse cx="368" cy="166" rx="5" ry="5" fill="#cc44a4" filter="url(#b1)" opacity="1"/>
<ellipse cx="336" cy="178" rx="5" ry="4" fill="#cc44a4" filter="url(#b1)" opacity="1"/>
<ellipse cx="349" cy="170" rx="10" ry="8" fill="#8a2888" filter="url(#b2)" opacity="0.85"/>
<ellipse cx="344" cy="180" rx="5" ry="4" fill="#802888" filter="url(#b1)" opacity="0.8"/>
<ellipse cx="342" cy="168" rx="6" ry="6" fill="#702a80" filter="url(#b2)" opacity="0.7"/>
<ellipse cx="360" cy="162" rx="5" ry="4" fill="#7a2a84" filter="url(#b2)" opacity="0.6"/>
<ellipse cx="338.2" cy="172" rx="2.8" ry="2.6" fill="#3c2458" filter="url(#b05)" opacity="1"/>
<ellipse cx="359.4" cy="159.7" rx="3" ry="2.4" fill="#3c2458" filter="url(#b05)" opacity="1"/>
<ellipse cx="342.7" cy="183.6" rx="2.8" ry="2.2" fill="#3c2458" filter="url(#b05)" opacity="1"/>
<ellipse cx="347" cy="185" rx="2" ry="1.8" fill="#3c2458" filter="url(#b05)" opacity="1"/>
<ellipse cx="357" cy="163" rx="2" ry="2" fill="#5a2a70" filter="url(#b05)" opacity="1"/>
<ellipse cx="363" cy="175" rx="4" ry="3" fill="#a83090" filter="url(#b1)" opacity="1"/>
</g>
<g clip-path="url(#dt2)">
<ellipse cx="407.5" cy="155.5" rx="8" ry="5.8" fill="#dca4d2" filter="url(#b05)" opacity="1"/>
<ellipse cx="422.1" cy="161.3" rx="6.2" ry="6.5" fill="#dca4d2" filter="url(#b05)" opacity="1"/>
<ellipse cx="412" cy="166.5" rx="5.8" ry="5" fill="#dca4d2" filter="url(#b05)" opacity="1"/>
<ellipse cx="406.5" cy="175" rx="7.2" ry="6" fill="#dca4d2" filter="url(#b05)" opacity="1"/>
<ellipse cx="401.5" cy="152.5" rx="3" ry="2.5" fill="#d498c8" filter="url(#b05)" opacity="1"/>
<ellipse cx="385.8" cy="193.8" rx="7" ry="6" fill="#dca4d2" filter="url(#b05)" opacity="1"/>
<ellipse cx="414.6" cy="155" rx="3.6" ry="3.1" fill="#c0308e" filter="url(#b05)" opacity="1"/>
<ellipse cx="422.7" cy="161.3" rx="3.1" ry="3.8" fill="#c0308e" filter="url(#b05)" opacity="1"/>
<ellipse cx="411.8" cy="166.8" rx="3" ry="3" fill="#c0308e" filter="url(#b05)" opacity="1"/>
<ellipse cx="409.2" cy="175.9" rx="3.6" ry="3.5" fill="#c0308e" filter="url(#b05)" opacity="1"/>
<ellipse cx="386.6" cy="196" rx="3.8" ry="3.1" fill="#c0308e" filter="url(#b05)" opacity="1"/>
</g>
<g clip-path="url(#dt3)">
<ellipse cx="472.5" cy="166" rx="19.2" ry="15.5" fill="#d4aad4" filter="url(#b05)" opacity="1"/>
<ellipse cx="452" cy="184.5" rx="14" ry="13" fill="#d4aad4" filter="url(#b05)" opacity="1"/>
<ellipse cx="472" cy="166" rx="17" ry="13.5" fill="#bc76ba" filter="url(#b1)" opacity="1"/>
<ellipse cx="452" cy="185" rx="12" ry="11" fill="#bc76ba" filter="url(#b1)" opacity="1"/>
<ellipse cx="478" cy="160" rx="9" ry="6" fill="#b06cb0" filter="url(#b2)" opacity="0.7"/>
<ellipse cx="448" cy="188" rx="7" ry="5.5" fill="#b06cb0" filter="url(#b2)" opacity="0.7"/>
<ellipse cx="463" cy="170" rx="7" ry="6" fill="#c48cc4" filter="url(#b2)" opacity="0.6"/>
<path d="M463.2 158.3h1M469.9 165.4h1M471.2 166.0h1M488.1 170.5h1M472.2 171.8h1M480.2 174.8h1M476.3 164.6h1M474.9 158.3h1M470.7 170.4h1M477.3 168.3h1M476.5 163.6h1M463.0 170.7h1M477.5 177.1h1M471.4 168.2h1M461.6 163.7h1M467.4 167.3h1M477.8 161.0h1M479.4 177.2h1M472.0 159.3h1M481.4 160.4h1M478.4 171.8h1M461.9 165.0h1M465.1 159.2h1M475.2 171.4h1M466.5 172.6h1M468.4 157.0h1M474.9 169.8h1M470.7 171.7h1M467.9 176.5h1M462.9 168.8h1M487.2 170.4h1M463.0 166.7h1M469.7 170.1h1M480.5 175.8h1M472.1 170.2h1M466.1 162.7h1M464.7 165.7h1M480.9 177.2h1M478.2 159.2h1M458.9 162.8h1M463.0 162.4h1M477.2 173.5h1M484.2 161.2h1M468.9 163.8h1M479.5 165.8h1M461.4 169.3h1M460.9 169.6h1M463.8 159.7h1M476.2 159.7h1M474.1 158.1h1M477.8 172.6h1M460.2 164.7h1M484.5 167.1h1M469.8 166.1h1M491.6 157.8h1M474.5 156.9h1M459.9 159.8h1M472.4 177.0h1M466.7 163.9h1M483.6 168.9h1M474.3 160.4h1M481.6 180.7h1M467.0 166.6h1M467.2 157.3h1M473.7 163.4h1M473.2 167.9h1M466.0 171.7h1M476.4 164.1h1M481.0 169.8h1M470.2 167.7h1M469.1 167.3h1M469.1 163.8h1M476.5 168.2h1M471.8 172.3h1M475.8 166.1h1M480.5 164.2h1M470.5 181.6h1M470.7 169.9h1M470.5 169.8h1M483.2 158.0h1M471.8 172.2h1M473.1 157.2h1M470.4 172.8h1M479.0 168.0h1M475.5 163.4h1M464.4 162.3h1M479.3 167.0h1M475.5 163.9h1M481.2 156.5h1M476.3 172.0h1M472.2 157.6h1M465.4 165.1h1M479.6 163.4h1M481.4 174.7h1M466.3 157.5h1M472.1 171.6h1M475.9 168.7h1M471.6 149.9h1M475.3 158.2h1M469.8 162.2h1M468.0 160.2h1M481.2 167.2h1M460.4 169.2h1M477.1 171.9h1M466.9 162.0h1M472.8 168.9h1M467.7 164.7h1M473.6 168.9h1M468.1 165.7h1M474.5 165.9h1M462.4 164.2h1M464.9 168.9h1M471.5 166.7h1M477.0 160.6h1M466.5 154.4h1M486.4 171.6h1M469.8 170.3h1M478.1 165.6h1M459.5 172.6h1M465.4 165.8h1M465.3 165.4h1M464.1 163.7h1M461.2 173.2h1M469.4 176.1h1M466.4 164.9h1M484.0 162.6h1M472.0 172.0h1M474.5 171.1h1M457.6 169.6h1M483.1 158.1h1M483.5 167.8h1M464.6 167.2h1M464.8 164.5h1M467.0 168.6h1M482.6 165.3h1M462.9 168.3h1M465.1 166.1h1M461.1 164.6h1M474.4 175.6h1M478.5 165.9h1M465.5 169.6h1M480.6 171.4h1M473.6 160.9h1M466.5 165.1h1M476.4 161.3h1M481.5 165.2h1M481.6 159.6h1M476.2 171.0h1M481.9 166.2h1M472.5 159.3h1M474.8 168.8h1M485.3 160.6h1M471.7 158.2h1M466.7 168.5h1M463.8 166.4h1M468.8 162.1h1M459.2 170.1h1M465.8 168.7h1M464.3 167.1h1M471.2 171.8h1M453.8 185.0h1M459.1 186.1h1M454.1 190.4h1M454.0 189.9h1M436.6 190.2h1M450.3 185.2h1M462.8 185.3h1M449.0 178.8h1M451.4 183.7h1M449.7 181.8h1M442.2 180.5h1M455.5 184.7h1M462.6 185.0h1M461.4 181.1h1M450.9 176.1h1M447.3 183.3h1M449.2 184.7h1M455.0 186.2h1M450.0 180.2h1M456.5 178.1h1M453.7 175.4h1M445.4 184.5h1M445.8 181.6h1M456.8 187.5h1M456.9 177.4h1M452.3 191.2h1M460.3 183.6h1M451.9 183.5h1M450.6 185.3h1M452.0 188.1h1M455.2 188.5h1M439.5 175.3h1M452.9 181.7h1M453.0 186.8h1M447.5 187.4h1M447.5 185.6h1M459.0 180.1h1M449.6 186.6h1M450.5 183.6h1M457.3 184.6h1M445.4 190.7h1M465.8 184.0h1M448.1 186.8h1M448.7 191.8h1M444.2 189.6h1M448.8 178.3h1M446.9 179.2h1M449.6 174.6h1M446.0 189.8h1M438.9 183.7h1M458.6 181.8h1M456.3 184.1h1M455.8 178.7h1M455.1 187.4h1M455.4 180.1h1M448.2 189.0h1M468.0 185.8h1M448.8 184.2h1M445.4 187.3h1M463.4 183.3h1M449.9 184.4h1M452.4 190.6h1M446.5 192.9h1M450.7 187.3h1M454.7 191.5h1M453.9 176.7h1M445.4 185.3h1M456.3 184.5h1M447.8 182.2h1M443.5 187.3h1M457.1 194.2h1M453.9 187.2h1M450.8 190.2h1M447.8 191.5h1M456.3 191.3h1M450.6 185.0h1M448.3 181.6h1M455.2 190.4h1M453.7 189.0h1M445.4 182.4h1M459.0 192.8h1M442.9 180.6h1M447.6 178.6h1M454.1 184.4h1M451.6 178.2h1M456.5 184.0h1M455.3 184.4h1M439.0 181.9h1M459.4 185.1h1M449.3 178.5h1M452.1 173.5h1M447.9 188.8h1M446.1 189.3h1M455.6 189.0h1M454.7 182.7h1M453.5 187.0h1M448.5 183.1h1M460.8 190.6h1M454.2 178.9h1M455.4 186.2h1" stroke="#a85098" stroke-width="1" opacity=".35"/>
<ellipse cx="466.6" cy="164.9" rx="2.3" ry="3.2" fill="#8a1a6c" filter="url(#b05)" opacity="1"/>
<ellipse cx="483.6" cy="152.5" rx="2.6" ry="2.2" fill="#a01c70" filter="url(#b05)" opacity="1"/>
<ellipse cx="484.9" cy="175.4" rx="2.6" ry="2.6" fill="#9a1c70" filter="url(#b05)" opacity="1"/>
<ellipse cx="443.8" cy="184.5" rx="2.6" ry="3.2" fill="#9a1a70" filter="url(#b05)" opacity="1"/>
<ellipse cx="447" cy="190" rx="1.8" ry="1.6" fill="#7a1a68" filter="url(#b05)" opacity="1"/>
<ellipse cx="476" cy="149" rx="1" ry="1" fill="#3c2458" filter="url(#b05)" opacity="1"/>
<ellipse cx="490" cy="157" rx="1" ry="1" fill="#3c2458" filter="url(#b05)" opacity="1"/>
</g>
<g clip-path="url(#dt4)">
<path d="M300 211 L318 213 L326 218 L340 217 L346 226 L347 238 L340 247 L322 252 L310 255 L299 253 L292 244 L289 230 L293 219Z" fill="#dfa6d0" filter="url(#b1)" opacity="1"/>
<circle cx="305.2" cy="216.1" r="5.6" fill="#e2aed4" stroke="#cc86bc" stroke-width=".7" filter="url(#b05)"/>
<circle cx="316" cy="218.1" r="5.6" fill="#e2aed4" stroke="#cc86bc" stroke-width=".7" filter="url(#b05)"/>
<circle cx="295.8" cy="230.2" r="5.6" fill="#e2aed4" stroke="#cc86bc" stroke-width=".7" filter="url(#b05)"/>
<circle cx="313.3" cy="224.8" r="5.6" fill="#e2aed4" stroke="#cc86bc" stroke-width=".7" filter="url(#b05)"/>
<circle cx="318" cy="228.9" r="5.6" fill="#e2aed4" stroke="#cc86bc" stroke-width=".7" filter="url(#b05)"/>
<circle cx="309.2" cy="232.9" r="5.6" fill="#e2aed4" stroke="#cc86bc" stroke-width=".7" filter="url(#b05)"/>
<circle cx="300.5" cy="241.7" r="5.6" fill="#e2aed4" stroke="#cc86bc" stroke-width=".7" filter="url(#b05)"/>
<circle cx="310.6" cy="242.3" r="5.6" fill="#e2aed4" stroke="#cc86bc" stroke-width=".7" filter="url(#b05)"/>
<circle cx="305.9" cy="250.4" r="5.6" fill="#e2aed4" stroke="#cc86bc" stroke-width=".7" filter="url(#b05)"/>
<circle cx="316" cy="250.4" r="5.6" fill="#e2aed4" stroke="#cc86bc" stroke-width=".7" filter="url(#b05)"/>
<circle cx="324" cy="252" r="5.6" fill="#e2aed4" stroke="#cc86bc" stroke-width=".7" filter="url(#b05)"/>
<circle cx="322" cy="243" r="5.6" fill="#e2aed4" stroke="#cc86bc" stroke-width=".7" filter="url(#b05)"/>
<ellipse cx="333.5" cy="228.5" rx="12.5" ry="12" fill="#b866ac" filter="url(#b05)" opacity="1"/>
<ellipse cx="332.5" cy="226.5" rx="9.2" ry="8.8" fill="#e2b0d4" filter="url(#b1)" opacity="1"/>
<ellipse cx="338" cy="238" rx="7" ry="3.5" fill="#7a3a88" filter="url(#b1)" opacity="0.8"/>
<ellipse cx="305.2" cy="216.1" rx="3.0" ry="2.2" fill="#b03c92" filter="url(#b05)" transform="rotate(111 305.2 216.1)"/>
<ellipse cx="316" cy="218.1" rx="3.1" ry="1.8" fill="#b03c92" filter="url(#b05)" transform="rotate(47 316 218.1)"/>
<ellipse cx="295.8" cy="230.2" rx="3.6" ry="2.1" fill="#b03c92" filter="url(#b05)" transform="rotate(78 295.8 230.2)"/>
<ellipse cx="313.3" cy="224.8" rx="2.5" ry="2.6" fill="#b03c92" filter="url(#b05)" transform="rotate(145 313.3 224.8)"/>
<ellipse cx="318" cy="228.9" rx="3.3" ry="2.3" fill="#b03c92" filter="url(#b05)" transform="rotate(53 318 228.9)"/>
<ellipse cx="309.2" cy="232.9" rx="3.0" ry="2.2" fill="#b03c92" filter="url(#b05)" transform="rotate(133 309.2 232.9)"/>
<ellipse cx="300.5" cy="241.7" rx="2.9" ry="2.6" fill="#b03c92" filter="url(#b05)" transform="rotate(46 300.5 241.7)"/>
<ellipse cx="310.6" cy="242.3" rx="3.1" ry="2.7" fill="#b03c92" filter="url(#b05)" transform="rotate(94 310.6 242.3)"/>
<ellipse cx="305.9" cy="250.4" rx="3.2" ry="2.6" fill="#b03c92" filter="url(#b05)" transform="rotate(101 305.9 250.4)"/>
<ellipse cx="316" cy="250.4" rx="3.7" ry="2.4" fill="#b03c92" filter="url(#b05)" transform="rotate(55 316 250.4)"/>
<ellipse cx="319.3" cy="237.6" rx="2.2" ry="2.2" fill="#3c2458" filter="url(#b05)" opacity="1"/>
<ellipse cx="322" cy="241" rx="2.2" ry="2.2" fill="#3c2458" filter="url(#b05)" opacity="1"/>
<ellipse cx="328.1" cy="246.4" rx="2.2" ry="2.2" fill="#3c2458" filter="url(#b05)" opacity="1"/>
<ellipse cx="334.1" cy="244.4" rx="2.2" ry="2.2" fill="#3c2458" filter="url(#b05)" opacity="1"/>
<ellipse cx="343.6" cy="235.6" rx="2.2" ry="2.2" fill="#3c2458" filter="url(#b05)" opacity="1"/>
<ellipse cx="342" cy="229" rx="2.2" ry="2.2" fill="#3c2458" filter="url(#b05)" opacity="1"/>
</g>
<g clip-path="url(#dt5)">
<path d="M357.9 219.3 L368.3 214.9 L380.1 211.9 L392 209.7 L400.9 213.4 L405.3 220.8 L412.7 231.2 L418.6 243 L415.7 250.4 L400.9 254.9 L390.5 258.6 L375.7 254.9 L363.8 250.4 L357.1 241.6 L356.4 229.7Z" fill="#a0449f" filter="url(#b1)" opacity="1"/>
<ellipse cx="395.8" cy="234.8" rx="4.5" ry="4.6" fill="#863490" filter="url(#b05)" opacity="1"/>
<ellipse cx="388.6" cy="220.1" rx="6.4" ry="5.9" fill="#aa4ea8" filter="url(#b05)" opacity="1"/>
<ellipse cx="394.1" cy="216.0" rx="7.5" ry="7.8" fill="#863490" filter="url(#b05)" opacity="1"/>
<ellipse cx="374.8" cy="241.8" rx="6.4" ry="6.5" fill="#983c9c" filter="url(#b05)" opacity="1"/>
<ellipse cx="379.0" cy="222.1" rx="6.0" ry="6.4" fill="#923a98" filter="url(#b05)" opacity="1"/>
<ellipse cx="398.1" cy="226.6" rx="6.5" ry="5.7" fill="#aa4ea8" filter="url(#b05)" opacity="1"/>
<ellipse cx="412.4" cy="239.8" rx="6.9" ry="6.9" fill="#a0449f" filter="url(#b05)" opacity="1"/>
<ellipse cx="365.8" cy="230.6" rx="6.6" ry="6.8" fill="#923a98" filter="url(#b05)" opacity="1"/>
<ellipse cx="369.7" cy="245.2" rx="5.8" ry="5.0" fill="#863490" filter="url(#b05)" opacity="1"/>
<ellipse cx="373.3" cy="240.9" rx="5.5" ry="5.1" fill="#923a98" filter="url(#b05)" opacity="1"/>
<ellipse cx="411.2" cy="242.8" rx="5.3" ry="5.0" fill="#aa4ea8" filter="url(#b05)" opacity="1"/>
<ellipse cx="369.7" cy="246.7" rx="5.5" ry="6.0" fill="#863490" filter="url(#b05)" opacity="1"/>
<ellipse cx="382.9" cy="247.4" rx="4.9" ry="4.7" fill="#aa4ea8" filter="url(#b05)" opacity="1"/>
<ellipse cx="399.1" cy="250.0" rx="6.1" ry="5.8" fill="#aa4ea8" filter="url(#b05)" opacity="1"/>
<ellipse cx="379.6" cy="235.3" rx="5.2" ry="5.4" fill="#aa4ea8" filter="url(#b05)" opacity="1"/>
<ellipse cx="375.4" cy="237.2" rx="6.0" ry="5.5" fill="#a0449f" filter="url(#b05)" opacity="1"/>
<ellipse cx="384.2" cy="218.7" rx="5.1" ry="5.4" fill="#b058aa" filter="url(#b05)" opacity="1"/>
<ellipse cx="374.9" cy="241.7" rx="5.5" ry="5.4" fill="#aa4ea8" filter="url(#b05)" opacity="1"/>
<ellipse cx="362.3" cy="227.4" rx="7.5" ry="7.3" fill="#a0449f" filter="url(#b05)" opacity="1"/>
<ellipse cx="368.5" cy="219.0" rx="6.5" ry="6.0" fill="#983c9c" filter="url(#b05)" opacity="1"/>
<ellipse cx="372.0" cy="221.6" rx="6.8" ry="6.5" fill="#923a98" filter="url(#b05)" opacity="1"/>
<ellipse cx="375.5" cy="229.4" rx="5.4" ry="5.6" fill="#a0449f" filter="url(#b05)" opacity="1"/>
<ellipse cx="385.8" cy="247.3" rx="4.9" ry="4.5" fill="#983c9c" filter="url(#b05)" opacity="1"/>
<ellipse cx="399.5" cy="244.9" rx="5.0" ry="4.9" fill="#863490" filter="url(#b05)" opacity="1"/>
<ellipse cx="380.2" cy="224.1" rx="7.1" ry="7.6" fill="#863490" filter="url(#b05)" opacity="1"/>
<ellipse cx="396.5" cy="223.7" rx="7.0" ry="6.0" fill="#aa4ea8" filter="url(#b05)" opacity="1"/>
<ellipse cx="367.4" cy="224.3" rx="7.3" ry="7.7" fill="#983c9c" filter="url(#b05)" opacity="1"/>
<ellipse cx="373.4" cy="247.3" rx="6.0" ry="6.3" fill="#aa4ea8" filter="url(#b05)" opacity="1"/>
<ellipse cx="396.9" cy="245.9" rx="5.0" ry="4.4" fill="#863490" filter="url(#b05)" opacity="1"/>
<ellipse cx="411.2" cy="237.7" rx="5.1" ry="4.9" fill="#a0449f" filter="url(#b05)" opacity="1"/>
<ellipse cx="401.8" cy="240.4" rx="6.6" ry="7.0" fill="#aa4ea8" filter="url(#b05)" opacity="1"/>
<ellipse cx="382.3" cy="220.6" rx="7.3" ry="7.8" fill="#983c9c" filter="url(#b05)" opacity="1"/>
<ellipse cx="375.1" cy="246.4" rx="6.2" ry="6.6" fill="#923a98" filter="url(#b05)" opacity="1"/>
<ellipse cx="386.9" cy="248.2" rx="5.5" ry="5.6" fill="#983c9c" filter="url(#b05)" opacity="1"/>
<ellipse cx="362.6" cy="227.4" rx="5.9" ry="5.6" fill="#a0449f" filter="url(#b05)" opacity="1"/>
<ellipse cx="375.9" cy="237.4" rx="5.2" ry="4.7" fill="#923a98" filter="url(#b05)" opacity="1"/>
<ellipse cx="361.2" cy="223.5" rx="4.8" ry="4.8" fill="#863490" filter="url(#b05)" opacity="1"/>
<ellipse cx="393.4" cy="239.6" rx="6.9" ry="7.4" fill="#983c9c" filter="url(#b05)" opacity="1"/>
<ellipse cx="366.3" cy="238.9" rx="6.8" ry="6.7" fill="#983c9c" filter="url(#b05)" opacity="1"/>
<ellipse cx="395.2" cy="231.6" rx="6.7" ry="5.8" fill="#983c9c" filter="url(#b05)" opacity="1"/>
<ellipse cx="388" cy="236" rx="16" ry="11" fill="#72287e" filter="url(#b3)" opacity="0.6"/>
<ellipse cx="372" cy="246" rx="8" ry="6" fill="#7a2a84" filter="url(#b2)" opacity="0.5"/>
<ellipse cx="402" cy="226" rx="7" ry="6" fill="#7a2a84" filter="url(#b2)" opacity="0.5"/>
<ellipse cx="378" cy="222" rx="3.2" ry="2.2" fill="#3e2462" filter="url(#b05)" transform="rotate(168 378 222)"/>
<ellipse cx="370" cy="227" rx="2.7" ry="1.8" fill="#3e2462" filter="url(#b05)" transform="rotate(160 370 227)"/>
<ellipse cx="381" cy="229" rx="2.7" ry="1.6" fill="#3e2462" filter="url(#b05)" transform="rotate(134 381 229)"/>
<ellipse cx="378" cy="236" rx="3.2" ry="1.9" fill="#3e2462" filter="url(#b05)" transform="rotate(95 378 236)"/>
<ellipse cx="394" cy="224" rx="3.3" ry="2.4" fill="#3e2462" filter="url(#b05)" transform="rotate(22 394 224)"/>
<ellipse cx="396" cy="236" rx="2.7" ry="1.8" fill="#3e2462" filter="url(#b05)" transform="rotate(90 396 236)"/>
<ellipse cx="404" cy="244" rx="3.4" ry="1.7" fill="#3e2462" filter="url(#b05)" transform="rotate(47 404 244)"/>
<ellipse cx="385" cy="246" rx="3.0" ry="1.9" fill="#3e2462" filter="url(#b05)" transform="rotate(48 385 246)"/>
<ellipse cx="374" cy="245" rx="3.2" ry="1.6" fill="#3e2462" filter="url(#b05)" transform="rotate(151 374 245)"/>
<ellipse cx="392" cy="253" rx="2.3" ry="2.3" fill="#3e2462" filter="url(#b05)" transform="rotate(99 392 253)"/>
<ellipse cx="365" cy="243" rx="2.7" ry="1.6" fill="#3e2462" filter="url(#b05)" transform="rotate(158 365 243)"/>
<ellipse cx="362" cy="229" rx="3.3" ry="2.2" fill="#3e2462" filter="url(#b05)" transform="rotate(122 362 229)"/>
<ellipse cx="408" cy="236" rx="3.0" ry="2.2" fill="#3e2462" filter="url(#b05)" transform="rotate(41 408 236)"/>
<ellipse cx="388" cy="216" rx="3.1" ry="1.8" fill="#3e2462" filter="url(#b05)" transform="rotate(110 388 216)"/>
<ellipse cx="400" cy="228" rx="3.3" ry="1.9" fill="#3e2462" filter="url(#b05)" transform="rotate(34 400 228)"/>
</g>
<g clip-path="url(#dt6)">
<ellipse cx="482" cy="233.5" rx="11" ry="16" fill="#ccc0cc" filter="url(#b1)" opacity="1"/>
<ellipse cx="463" cy="218.5" rx="14" ry="8.5" fill="#dcb0d6" filter="url(#b1)" opacity="1"/>
<ellipse cx="446" cy="234" rx="19" ry="16" fill="#b452a8" filter="url(#b2)" opacity="1"/>
<ellipse cx="430" cy="220" rx="8" ry="9" fill="#c070b4" filter="url(#b2)" opacity="1"/>
<ellipse cx="441.8" cy="225.8" rx="11" ry="10.5" fill="#b452a8" filter="url(#b05)" opacity="1"/>
<ellipse cx="437.4" cy="237" rx="10" ry="9.5" fill="#b04ca6" filter="url(#b05)" opacity="1"/>
<ellipse cx="452" cy="244" rx="9.5" ry="8.5" fill="#b652aa" filter="url(#b05)" opacity="1"/>
<ellipse cx="454" cy="232.5" rx="8.5" ry="8" fill="#bc5cae" filter="url(#b05)" opacity="1"/>
<ellipse cx="428" cy="251" rx="6" ry="11" fill="#a8409e" filter="url(#b05)" opacity="1"/>
<ellipse cx="466.3" cy="233.7" rx="6" ry="6" fill="#c45aac" filter="url(#b1)" opacity="1"/>
<ellipse cx="462" cy="226" rx="6" ry="4" fill="#c870b8" filter="url(#b1)" opacity="1"/>
<ellipse cx="488.5" cy="258.5" rx="6" ry="4.5" fill="#a8409e" filter="url(#b05)" opacity="1"/>
<ellipse cx="477" cy="258.5" rx="6" ry="2.5" fill="#6a3080" filter="url(#b05)" opacity="1"/>
<ellipse cx="447" cy="233" rx="10" ry="9" fill="#9a3a98" filter="url(#b2)" opacity="0.5"/>
<path d="M479.1 235.0h.8M486.8 253.5h.8M484.0 222.2h.8M484.1 245.3h.8M484.7 223.6h.8M485.3 229.8h.8M487.9 240.4h.8M479.6 236.4h.8M470.5 241.7h.8M483.9 242.9h.8M478.4 230.2h.8M473.3 228.3h.8M481.7 237.4h.8M477.8 236.4h.8M481.2 245.8h.8M471.4 215.8h.8M484.1 240.5h.8M481.2 236.4h.8M482.4 230.2h.8M477.9 226.1h.8M477.5 226.3h.8M486.2 226.4h.8M484.6 245.1h.8M480.2 232.7h.8M475.5 230.4h.8M483.9 232.9h.8M479.0 236.9h.8M485.6 238.4h.8M478.0 232.4h.8M482.3 231.0h.8M483.2 226.5h.8M478.7 232.2h.8M484.1 231.5h.8M474.7 227.7h.8M487.9 230.1h.8M479.4 242.3h.8M479.4 238.7h.8M480.5 234.8h.8M479.7 241.9h.8M478.0 233.5h.8M482.4 241.6h.8M478.4 232.5h.8M480.0 243.9h.8M482.2 236.8h.8M480.4 230.2h.8M477.5 223.3h.8M485.3 233.6h.8M491.0 233.7h.8M478.5 224.1h.8M485.7 230.9h.8M478.0 227.9h.8M480.1 234.7h.8M476.1 222.6h.8M478.6 232.5h.8M477.7 247.5h.8M480.9 240.2h.8M479.8 232.4h.8M492.0 244.6h.8M477.2 229.7h.8M484.5 239.1h.8M485.5 235.0h.8M472.9 229.3h.8M473.1 236.5h.8M485.7 251.1h.8M475.8 225.9h.8M479.9 225.7h.8M468.6 245.9h.8M476.2 227.6h.8M480.3 231.7h.8M487.0 229.1h.8M491.4 226.8h.8M478.5 236.4h.8M488.6 224.8h.8M481.6 224.5h.8M480.4 230.7h.8M480.5 236.9h.8M480.4 243.9h.8M474.2 232.4h.8M481.2 239.8h.8M476.1 243.4h.8" stroke="#a890a8" stroke-width=".8" opacity=".5"/>
<ellipse cx="440.3" cy="223.6" rx="2.8" ry="2.4" fill="#4a2660" filter="url(#b05)" opacity="1"/>
<ellipse cx="437.4" cy="236.6" rx="2.6" ry="2.4" fill="#4a2660" filter="url(#b05)" opacity="1"/>
<ellipse cx="451.1" cy="244.2" rx="2.8" ry="2.4" fill="#4a2660" filter="url(#b05)" opacity="1"/>
<ellipse cx="455.5" cy="219.3" rx="2" ry="3" fill="#b0348e" filter="url(#b05)" opacity="1"/>
<ellipse cx="465.6" cy="217.8" rx="2.6" ry="2.4" fill="#b0348e" filter="url(#b05)" opacity="1"/>
<ellipse cx="470.6" cy="222.2" rx="2.6" ry="2" fill="#b0348e" filter="url(#b05)" opacity="1"/>
<ellipse cx="475" cy="233.7" rx="2.2" ry="3.6" fill="#4a2660" filter="url(#b05)" opacity="1"/>
<ellipse cx="469.2" cy="246" rx="2.6" ry="2.8" fill="#8a3490" filter="url(#b05)" opacity="1"/>
</g>
<line x1="469.3" y1="258.5" x2="484.9" y2="258.5" stroke="#111" stroke-width="1.4"/>
<text x="477.7" y="256.4" font-size="7" text-anchor="middle" fill="#1a1a1a" textLength="19.2" lengthAdjust="spacingAndGlyphs">20 um</text>
<text x="6.8" y="330.3" font-size="10.8" fill="#111" font-weight="bold">E</text>
<path transform="scale(.1)" d="M995 3563h7m-34-3h7m-16 0h7m-352 8h7m-32 12h7m52-7h7m195-1h7m-2 5h7m1 2h7m0 5h7m-5-8h7m7 7h7m8-4h7m7 4h7m-2-8h7m-2 5h7m5 4h7m-4-14h7m5 10h7m-4 2h7m-4 2h7m-2-4h7m5-6h7m-2 1h7m-1 9h7m-3-11h7m-4 11h7m-6-3h7m-2-6h7m-6 2h7m-5 4h7m-3-7h7m-2 25h7m-11-13h7m-11 0h7m-8-1h7m-8 10h7m-7 4h7m-12-6h7m-8 2h7m-8 3h7m-10 1h7m-9-4h7m-7 4h7m-8-13h7m-7 2h7m-11 6h7m-17-2h7m-11 7h7m-7-3h7m-8 1h7m-8-1h7m-8-10h7m-9 10h7m-14-4h7m-7 6h7m-12 1h7m-7-1h7m-7-1h7m-8-2h7m-10-4h7m-9 0h7m-8 5h7m-12 1h7m-8 2h7m-9-4h7m-13 1h7m-8 0h7m-11-5h7m-7 8h7m-12-2h7m-9 0h7m-9-5h7m-13 3h7m-8 3h7m-7 1h7m-7-2h7m-7-8h7m-8 2h7m-10-1h7m-9 5h7m-8-5h7m-13 0h7m-9 9h7m-7 0h7m-9-8h7m-7 4h7m-10 0h7m-8 1h7m-9-4h7m-17 6h7m-10 0h7m-8-11h7m-10 4h7m-8-2h7m-9 9h7m-17-12h7m-7 4h7m-11 8h7m-25-4h7m-32 4h7m-26-11h7m-9 4h7m-9-1h7m-15 6h7m-13-8h7m-10 7h7m-173 1h7m31 6h7m18 11h7m2-5h7m32 6h7m-3-9h7m5 6h7m-4-3h7m-3 5h7m-4-3h7m4-7h7m12 5h7m-4 6h7m-6-2h7m0-5h7m-2-1h7m-4 0h7m-5 7h7m-5-6h7m-1-5h7m-3 11h7m0-6h7m-5 2h7m-5-5h7m-7 5h7m-7-4h7m-6-2h7m-7-1h7m-7 3h7m-4 3h7m-6-2h7m-6-3h7m-6 5h7m-5-3h7m-7 3h7m-6-3h7m-6 5h7m-4-1h7m-7-8h7m-4 11h7m-5 1h7m-5-9h7m-7 8h7m-6-4h7m-7 6h7m-5-10h7m-5 9h7m-7-6h7m-4 1h7m-7 4h7m-5-12h7m-7 0h7m-4 10h7m-6-1h7m-2 0h7m-6 5h7m-3-5h7m-3-4h7m-4 4h7m-6 3h7m-5-8h7m-7 9h7m-6 1h7m-7-10h7m-7 6h7m-6-1h7m-5 3h7m-6-5h7m-5 3h7m-5-10h7m-7 4h7m-7 2h7m-5-6h7m-7 5h7m-5 7h7m-5-8h7m-4 7h7m-7 3h7m-6-10h7m-6 3h7m-6-6h7m-2 6h7m-7 6h7m-4-6h7m-4 0h7m-6 3h7m-7-3h7m-3-4h7m-5-2h7m-4-1h7m-6 3h7m-2 2h7m-6 8h7m-7-12h7m-7 5h7m-5 6h7m-7-5h7m-7-2h7m-7-3h7m-6 10h7m-6-10h7m-7 6h7m-5-8h7m-5 3h7m-4 7h7m-3 4h7m-6-13h7m-6 12h7m-3-6h7m-7 4h7m-4-3h7m0-6h7m-6 4h7m-6 2h7m-6-2h7m-7 2h7m-6-7h7m-6 5h7m-6 2h7m-3 2h7m-7 0h7m-6-8h7m-1 2h7m-6 4h7m-7-7h7m-5 4h7m-7 7h7m-7-2h7m-5-10h7m-7 9h7m-6 2h7m-6-10h7m-5 11h7m-6 0h7m-7-6h7m-6 4h7m-7-9h7m-7 0h7m-4 1h7m-4 9h7m-7-5h7m-7 0h7m-4 1h7m-6 3h7m-5-9h7m-4 13h7m-7-7h7m-7-4h7m-7-3h7m3 6h7m-4 4h7m-7-2h7m-4 1h7m-6 4h7m-7-8h7m-3 5h7m-6-10h7m-7 3h7m-5 4h7m-6-4h7m-7 4h7m-7 15h7m-14-4h7m-11-3h7m-7 5h7m-7-3h7m-12-2h7m-9 7h7m-8 1h7m-8-4h7m-11-3h7m-8 5h7m-7 1h7m-11-5h7m-11-2h7m-8 7h7m-8 3h7m-8-4h7m-8 0h7m-9-4h7m-12 3h7m-8 1h7m-8 8h7m-9-10h7m-7 5h7m-7-1h7m-7 3h7m-8-6h7m-7 2h7m-8-6h7m-8 3h7m-7-4h7m-9 6h7m-9-6h7m-7 9h7m-8-8h7m-8 12h7m-8-6h7m-7 1h7m-9 3h7m-8-10h7m-7 4h7m-14-5h7m-8 1h7m-8 9h7m-7-7h7m-8 2h7m-7 0h7m-9 1h7m-10-5h7m-8 5h7m-12 5h7m-9-11h7m-9 5h7m-7 3h7m-8-8h7m-10 12h7m-10-11h7m-7 1h7m-8-1h7m-10 2h7m-8-2h7m-8 13h7m-9-8h7m-7-2h7m-7-3h7m-10 12h7m-9-10h7m-9 1h7m-7 3h7m-9 0h7m-8-1h7m-13 2h7m-7-5h7m-8 3h7m-9 4h7m-7 4h7m-13 0h7m-12-2h7m-9-8h7m-8-4h7m-8 13h7m-8 0h7m-7-3h7m-7-6h7m-9 4h7m-9 6h7m-9-13h7m-8 10h7m-8-3h7m-9-7h7m-7 0h7m-7-1h7m-7 1h7m-8 5h7m-10 5h7m-8-3h7m-7-4h7m-8-2h7m-7 8h7m-7-4h7m-8 7h7m-9-7h7m-7-2h7m-11 2h7m-7 0h7m-11-4h7m-11 11h7m-8-11h7m-7-2h7m-7 10h7m-7-1h7m-9-9h7m-9 1h7m-10 5h7m-7 2h7m-8-2h7m-7 3h7m-8-4h7m-8 6h7m-7-3h7m-8 2h7m-8-4h7m-7-2h7m-7 3h7m-12 5h7m-10-4h7m-9-6h7m-10 4h7m-8 1h7m-7 3h7m-8 3h7m-11-3h7m-7 3h7m-8 1h7m-9-12h7m-7 6h7m-8-3h7m-9-2h7m-10 6h7m-7 0h7m-11-8h7m-8 12h7m-7-12h7m-7 9h7m-11 2h7m-12-3h7m-7 2h7m-7-1h7m-9-1h7m-7-6h7m-12-1h7m-8 4h7m-7 3h7m-9-9h7m-8 11h7m-7-8h7m-8 9h7m-9-12h7m-7 7h7m-11 4h7m-14 0h7m-8-1h7m-8-2h7m-7 6h7m-10-1h7m-8-11h7m-7 11h7m-7-2h7m-7-3h7m-9 5h7m-9 1h7m-7-2h7m-7-2h7m-7-4h7m-8 7h7m-9 1h7m-8 0h7m-8-6h7m-9-2h7m-7 3h7m-7 4h7m-8-1h7m-9-1h7m-8-3h7m-7-3h7m-9-1h7m-8 10h7m-7-6h7m-7 6h7m-11-14h7m-8 8h7m-7-4h7m-7 10h7m-8-4h7m-9 0h7m-7-1h7m-8-8h7m-8 7h7m-8-7h7m-9 3h7m-8 10h7m-8-3h7m-9-5h7m-7-5h7m-8 10h7m-8-6h7m-7 9h7m-7-1h7m-7-2h7m-10-9h7m-11 5h7m-8 3h7m-11 1h7m-11-3h7m-9-8h7m-7 11h7m-8-10h7m-8 12h7m-7 1h7m-11-9h7m-13 2h7m-10 7h7m-15-10h7m-8 8h7m-9-4h7m-7-2h7m-10 8h7m-8 0h7m-9-8h7m-9-2h7m-7-4h7m-12 7h7m-9 3h7m-16-8h7m-11 8h7m-9-3h7m-7-2h7m-7 6h7m-16-6h7m-10 5h7m-11-3h7m-10-5h7m-84 26h7m4-11h7m8 0h7m22 11h7m-6 0h7m0-13h7m-5 2h7m-7 9h7m-6-3h7m-6-2h7m-6 6h7m-6-4h7m-7 6h7m-4-13h7m-7 2h7m-6 6h7m-7 5h7m-6-1h7m-6-3h7m-6 1h7m-7 1h7m-4-5h7m-7-1h7m-6 1h7m-7-1h7m-7 0h7m-6 0h7m-6 6h7m-6 2h7m-7-9h7m-7 3h7m-6-6h7m-5 6h7m-6-3h7m-6 4h7m-5-5h7m-6 7h7m-6 2h7m-7-2h7m-7 0h7m-7 3h7m-6-9h7m-6 0h7m-6 5h7m-7-8h7m-7 0h7m-6 0h7m-7 2h7m-6 1h7m-6 9h7m-7-2h7m-5-5h7m-7 1h7m-4 2h7m-7 0h7m-7 2h7m-5-2h7m-6-7h7m-6 11h7m-5-3h7m-7 1h7m-7-2h7m-6 2h7m-6-3h7m-7 4h7m-7-10h7m-6 1h7m-6 4h7m-6 4h7m-6-9h7m-6 3h7m-7 7h7m-5 0h7m-6-1h7m-7-1h7m-7-8h7m-6 6h7m-6 2h7m0-11h7m-7 10h7m-7 1h7m-7-5h7m-4 7h7m-7-12h7m-2 0h7m-7 13h7m-6-2h7m-7 1h7m-7-6h7m-7 6h7m-6-1h7m-7-3h7m-6-6h7m-6 1h7m-7 0h7m-4 4h7m-6-2h7m-5 4h7m-6-2h7m-5 3h7m-7 0h7m-3-5h7m-6 3h7m-7 3h7m-7-12h7m-6 10h7m-6 4h7m-5-7h7m-7-5h7m-7 12h7m-7-9h7m-6-5h7m-4 2h7m-4 11h7m-7-10h7m-7-2h7m-6 7h7m-6-6h7m-7 11h7m-6-8h7m-7 5h7m-6-10h7m-7 7h7m-4 3h7m-7 1h7m-7-3h7m-6-4h7m-7 6h7m-6-7h7m-6 7h7m-7 1h7m-7-10h7m-6 4h7m-7 4h7m-4 3h7m-7-2h7m-4-9h7m-7 5h7m-7-5h7m-6 9h7m-7-5h7m-7 8h7m-6 1h7m-7-2h7m-5-8h7m-7 7h7m-7-10h7m-7 4h7m-6 2h7m-5 4h7m-6 2h7m-6-4h7m-7-7h7m-6 3h7m-6-4h7m-5 13h7m-6-10h7m-6 3h7m-6-4h7m-6 10h7m-6-7h7m-5 1h7m-6 1h7m-6-6h7m-6 2h7m-6 7h7m-7-3h7m-6-3h7m-6 5h7m-7 2h7m-7-4h7m-6 1h7m-7 5h7m-6-5h7m-7-7h7m-7 4h7m-7 1h7m-5-3h7m-7 10h7m-6-4h7m-7-6h7m-6-3h7m-7 4h7m-6 6h7m-5 3h7m-7-9h7m-3-4h7m-7 7h7m-6 2h7m-5-4h7m-4-2h7m-4 9h7m-4-7h7m-6-6h7m-5 3h7m-7-1h7m-5 5h7m-6-6h7m-5-1h7m-5 8h7m-6 5h7m2-1h7m-7-3h7m-5 3h7m-6-7h7m-4 0h7m-6-5h7m-1 9h7m-7-8h7m-6 6h7m-5 4h7m-7-7h7m-5 6h7m-6 4h7m-7-12h7m-6 9h7m-6-10h7m-7 6h7m-5 5h7m-5-6h7m-6-5h7m-6 1h7m-7 7h7m-5-7h7m-6 9h7m-6-7h7m-3 6h7m-5-3h7m-7 6h7m-6-4h7m-6 3h7m-4-8h7m-7 5h7m-5 2h7m-5-7h7m-7 1h7m-2-4h7m-3 13h7m-4-4h7m-4 1h7m-6-6h7m-6-2h7m-5-3h7m1 9h7m-2-2h7m-6-4h7m-6 4h7m-4 6h7m1 0h7m-6-3h7m8-5h7m0-1h7m-6 5h7m12-9h7m-4 2h7m-4 0h7m-6 4h7m0-5h7m-1 1h7m2 0h7m3 3h7m16-4h7m-2 2h7m4 2h7m-63 23h7m-15-9h7m-10-4h7m-45 8h7m-19-6h7m-67 4h7m-9 7h7m-9-3h7m-18-8h7m-13 4h7m-8 7h7m-9-13h7m-11 7h7m-11 5h7m-9-7h7m-7 2h7m-11-7h7m-22 12h7m-12-3h7m-11 0h7m-7-6h7m-10-2h7m-10 11h7m-14 0h7m-8-10h7m-7 11h7m-9-11h7m-10 8h7m-8-6h7m-9 2h7m-7-6h7m-7 11h7m-9 1h7m-8 0h7m-8-4h7m-7-4h7m-8-2h7m-9-2h7m-7 12h7m-10-4h7m-8-8h7m-7 4h7m-7-1h7m-8-1h7m-8-1h7m-8 0h7m-7 6h7m-8 5h7m-7-5h7m-7 4h7m-10-2h7m-8 2h7m-9-6h7m-9 8h7m-7-9h7m-9-3h7m-8-1h7m-8 0h7m-8 11h7m-8 2h7m-8-6h7m-7-2h7m-9 2h7m-8 5h7m-9-7h7m-12-1h7m-9-2h7m-11-1h7m-12 6h7m-7 0h7m-7-3h7m-9 10h7m-8-9h7m-7-4h7m-8 0h7m-7 0h7m-7 9h7m-9-1h7m-7-7h7m-8 4h7m-9-4h7m-8 5h7m-9 0h7m-8-2h7m-7-5h7m-8 14h7m-9-6h7m-7 2h7m-7 2h7m-7-8h7m-8 5h7m-7-2h7m-8-6h7m-7 4h7m-9 0h7m-9-2h7m-7 3h7m-8-1h7m-7 5h7m-8-10h7m-8 3h7m-8 6h7m-7 5h7m-7-11h7m-8-1h7m-7 10h7m-8-11h7m-7 2h7m-8 3h7m-8 3h7m-7-3h7m-7 5h7m-7 1h7m-8-3h7m-7 1h7m-7-6h7m-8 8h7m-7 0h7m-7-3h7m-7 0h7m-9-8h7m-7 6h7m-8-1h7m-7 1h7m-8 0h7m-8 4h7m-7-4h7m-8 1h7m-8-4h7m-8 9h7m-7-3h7m-7-3h7m-7 5h7m-8-12h7m-7 4h7m-7-2h7m-8 12h7m-7-4h7m-7 4h7m-8-14h7m-8 5h7m-7 8h7m-8-12h7m-7 3h7m-9 8h7m-7-12h7m-9 4h7m-8 6h7m-8-6h7m-7 0h7m-7 9h7m-7 0h7m-8-4h7m-7-7h7m-8 9h7m-7 1h7m-7-1h7m-7 1h7m-8-2h7m-7 2h7m-7 1h7m-7-6h7m-7 2h7m-8 4h7m-7-2h7m-7 2h7m-7-6h7m-8 3h7m-7-9h7m-7-1h7m-8 8h7m-7-8h7m-8 2h7m-8 9h7m-7-5h7m-7 0h7m-7 5h7m-8-8h7m-7 6h7m-8-4h7m-7 1h7m-7 6h7m-7-6h7m-8 2h7m-7 3h7m-8-5h7m-7-4h7m-8 3h7m-7-3h7m-7 3h7m-8 9h7m-8-5h7m-7-4h7m-8 5h7m-7 3h7m-8-10h7m-8 1h7m-7-2h7m-8 11h7m-8-9h7m-7 8h7m-7-3h7m-8-8h7m-7 1h7m-7-1h7m-7 4h7m-7 1h7m-8 8h7m-7-2h7m-7 0h7m-7-1h7m-7-5h7m-7 0h7m-8 3h7m-7 1h7m-8-3h7m-8 0h7m-7-1h7m-9 2h7m-8 2h7m-7 4h7m-8-11h7m-7-3h7m-8 5h7m-7 9h7m-7-4h7m-8-6h7m-8 1h7m-7 5h7m-7 4h7m-7-1h7m-8-6h7m-7-5h7m-7-2h7m-8 9h7m-7 0h7m-8 4h7m-8-5h7m-7-1h7m-8-1h7m-7 6h7m-7-1h7m-7-11h7m-7 13h7m-8-5h7m-8 3h7m-8-2h7m-8-9h7m-7 8h7m-7 6h7m-7-6h7m-7 6h7m-7-5h7m-8 3h7m-7 1h7m-7-9h7m-7 7h7m-9-9h7m-8 10h7m-7-2h7m-7-4h7m-8-1h7m-7-3h7m-7-1h7m-7 4h7m-8 4h7m-8-2h7m-7 6h7m-7-6h7m-9 0h7m-7-2h7m-8 5h7m-8 0h7m-7 0h7m-8-2h7m-7 2h7m-8-5h7m-8-2h7m-7 5h7m-7-2h7m-8 6h7m-8-1h7m-7-5h7m-7-3h7m-9 10h7m-7-13h7m-8 14h7m-8 0h7m-7 0h7m-10-6h7m-9 3h7m-9 3h7m-11-14h7m-9 6h7m-8-5h7m-8-1h7m-8 12h7m-8-3h7m-8-2h7m-8 3h7m-9-4h7m-11-5h7m-8 2h7m-10 11h7m-10-3h7m-17 14h7m-4 1h7m-5-5h7m-5 6h7m-6-12h7m-3 2h7m-6 11h7m-6 1h7m-6 0h7m-4-10h7m-6 7h7m-7-9h7m-7 2h7m-5 10h7m-6-3h7m-7-2h7m-6-8h7m-7 7h7m-6-8h7m-7 11h7m-6 2h7m-6-4h7m-6 2h7m-7-8h7m-7 11h7m-7-5h7m-7 5h7m-6-4h7m-7 4h7m-6-2h7m-7 2h7m-6-3h7m-6 2h7m-7-3h7m-7-9h7m-7 12h7m-7-3h7m-6 4h7m-6-10h7m-7 7h7m-6-2h7m-7 1h7m-6 3h7m-7-6h7m-7 3h7m-6-4h7m-6 3h7m-7-8h7m-7 4h7m-6 5h7m-7 3h7m-6 0h7m-7-5h7m-7-1h7m-7 0h7m-6-6h7m-7 7h7m-7 0h7m-6-6h7m-7 2h7m-7 9h7m-6-13h7m-7 13h7m-6-10h7m-7 3h7m-7 8h7m-6-8h7m-7-2h7m-7 3h7m-7 5h7m-6 0h7m-7 0h7m-7-7h7m-6 3h7m-6-8h7m-7 2h7m-6 11h7m-6-12h7m-7 2h7m-7 1h7m-7-1h7m-7 2h7m-7 6h7m-6-7h7m-7 3h7m-7-2h7m-6-1h7m-6 5h7m-7 2h7m-7-6h7m-6 9h7m-7-4h7m-7-7h7m-6 4h7m-6-6h7m-7 1h7m-7 4h7m-6 1h7m-7 4h7m-7 3h7m-7-4h7m-5-9h7m-7 12h7m-6-6h7m-7 7h7m-7-9h7m-7 3h7m-7 5h7m-7-5h7m-7 0h7m-6-5h7m-7 9h7m-7-11h7m-6 13h7m-7-8h7m-7-4h7m-7 10h7m-7-1h7m-6-9h7m-7 10h7m-7-8h7m-7 5h7m-6 1h7m-7-9h7m-7 8h7m-7 4h7m-6-7h7m-7-2h7m-6 7h7m-7-5h7m-7 7h7m-7-2h7m-7-8h7m-7 11h7m-7-14h7m-6 10h7m-7-5h7m-7 3h7m-7 1h7m-6 5h7m-7-14h7m-7 6h7m-6 4h7m-7 0h7m-7 2h7m-6-4h7m-7-7h7m-7 2h7m-6 10h7m-7-11h7m-7 3h7m-7 0h7m-6 9h7m-7-12h7m-7 12h7m-7-8h7m-7 5h7m-7 3h7m-7-6h7m-6-5h7m-7 1h7m-7 9h7m-7 1h7m-7-1h7m-6 1h7m-7-3h7m-7 0h7m-7-5h7m-7 6h7m-7-7h7m-6 2h7m-7 3h7m-7-2h7m-7-1h7m-7 5h7m-7-12h7m-7 12h7m-6 1h7m-7 0h7m-7-2h7m-7-10h7m-6 7h7m-7 0h7m-7-8h7m-7 6h7m-7 1h7m-7-3h7m-6 7h7m-7-7h7m-7 2h7m-7 4h7m-7-2h7m-7 6h7m-7-1h7m-7-2h7m-6-9h7m-7-1h7m-7 11h7m-7 1h7m-7-1h7m-6-1h7m-7 0h7m-7 0h7m-7-8h7m-7 10h7m-7-3h7m-6 0h7m-6-10h7m-7 0h7m-7 13h7m-7-11h7m-6 3h7m-7 9h7m-7-5h7m-7-9h7m-6 8h7m-7-4h7m-7 3h7m-7-2h7m-6 9h7m-7-10h7m-7 4h7m-7 5h7m-7-7h7m-7 0h7m-7-5h7m-6-1h7m-7 7h7m-7-4h7m-7 0h7m-7 0h7m-6 10h7m-7-11h7m-7 8h7m-7-4h7m-7 7h7m-6-8h7m-7 8h7m-6-12h7m-7-1h7m-7 14h7m-7-12h7m-7 10h7m-6-8h7m-7 7h7m-7-3h7m-7 4h7m-6 1h7m-7-4h7m-7 1h7m-7 4h7m-7-3h7m-7-8h7m-6 2h7m-7-1h7m-7 8h7m-6-9h7m-6-3h7m-7 8h7m-6-1h7m-7-7h7m-7 0h7m-7 13h7m-7-13h7m-6 5h7m-7 5h7m-7-1h7m-6-6h7m-7 8h7m-7-2h7m-7-5h7m-6 1h7m-7 6h7m-6-8h7m-6 11h7m-7-7h7m-7-4h7m-6 2h7m-7 9h7m-7-11h7m-7 10h7m-7-13h7m-6 11h7m-7-2h7m-6-7h7m-7 4h7m-7-3h7m-6 10h7m-6-9h7m-7-4h7m-7 13h7m-7-3h7m-7-4h7m-7 2h7m-7 1h7m-7-1h7m-7-8h7m-7 9h7m-6-4h7m-7 4h7m-6-7h7m-7 4h7m-7 3h7m-7 4h7m-7-12h7m-7 4h7m-7 7h7m-7-3h7m-7 3h7m-6-4h7m-7 6h7m-7-2h7m-6-5h7m-5 3h7m-6-8h7m-7-1h7m-5 9h7m-6 3h7m-7-8h7m-7-3h7m-6 9h7m-7-10h7m-7 3h7m-7 6h7m-7-7h7m-6 1h7m-6 10h7m-7-7h7m-6-6h7m-7 7h7m-6 5h7m-6-11h7m-6-2h7m-4 1h7m-7 9h7m-7 0h7m-7 1h7m-6-7h7m-7 7h7m-7-11h7m-6 6h7m-7-6h7m-6 12h7m-6-3h7m-6-1h7m-6-1h7m-5 1h7m-6-7h7m-4 8h7m-7-4h7m-5 7h7m-7-3h7m-7-2h7m-7 1h7m-6-3h7m-7 4h7m-7 1h7m-7 0h7m1 3h7m-6-5h7m-7-4h7m-4 1h7m-2-1h7m-5 6h7m-5 1h7m-2 1h7m-7-7h7m-4 6h7m-5-6h7m-2-2h7m-4 10h7m-2-6h7m-4 1h7m-3-7h7m-2 6h7m0-7h7m-2 4h7m-4-2h7m7 3h7m-2-1h7m-3-2h7m28-2h7m58 3h7m10-2h7m-14 22h7m-138 6h7m-31-12h7m-21 5h7m-13 0h7m-7 0h7m-20-3h7m-16 8h7m-8-11h7m-8 2h7m-7 8h7m-9-4h7m-10 0h7m-8-7h7m-8 7h7m-9 4h7m-10 1h7m-10-12h7m-9 12h7m-7-5h7m-10-2h7m-7-3h7m-7 7h7m-8-9h7m-9 0h7m-7 14h7m-7-5h7m-7-7h7m-9 4h7m-10-3h7m-8 4h7m-8-6h7m-8 1h7m-10 8h7m-8-8h7m-7 2h7m-8 1h7m-8-3h7m-7 2h7m-8-2h7m-9 10h7m-8-12h7m-7 10h7m-7-3h7m-8-3h7m-7 2h7m-8 6h7m-7-6h7m-8-3h7m-7 1h7m-7 6h7m-7 2h7m-8-2h7m-7 1h7m-7-2h7m-8-5h7m-7 0h7m-8-1h7m-7-2h7m-8 12h7m-7 1h7m-8-8h7m-7 5h7m-7-8h7m-7 7h7m-8-8h7m-8-2h7m-7 1h7m-8-1h7m-8 8h7m-7-2h7m-7 6h7m-7-5h7m-9-2h7m-7 3h7m-7-4h7m-7 6h7m-7-10h7m-8 8h7m-7-5h7m-7-3h7m-7 9h7m-7 5h7m-7-1h7m-8-13h7m-7 3h7m-7 4h7m-9-7h7m-7 3h7m-8 3h7m-7-6h7m-7 13h7m-7-7h7m-7-2h7m-8 7h7m-7-11h7m-7 0h7m-8 10h7m-7 4h7m-7-11h7m-8 0h7m-7 1h7m-7 1h7m-7 0h7m-7 4h7m-7-1h7m-8 6h7m-7-14h7m-7 4h7m-7 5h7m-7 2h7m-8-6h7m-7-4h7m-7 0h7m-8 7h7m-7-5h7m-7 0h7m-7 3h7m-8 1h7m-7 2h7m-8-9h7m-7 5h7m-7 3h7m-8-8h7m-7 11h7m-7-11h7m-7 14h7m-7-1h7m-7-7h7m-7 4h7m-7 0h7m-7-6h7m-8 3h7m-7-7h7m-7 5h7m-8-5h7m-7 3h7m-7-1h7m-8 10h7m-7-6h7m-8-3h7m-7-2h7m-7 12h7m-8-1h7m-7 1h7m-7-13h7m-7 0h7m-7 3h7m-8 8h7m-7-5h7m-8 1h7m-7 4h7m-8-4h7m-7 2h7m-7 3h7m-7-3h7m-7-6h7m-7 1h7m-7-2h7m-8 3h7m-7-3h7m-7 7h7m-7 0h7m-8-4h7m-7 5h7m-7-4h7m-7 8h7m-7-13h7m-7 6h7m-7 1h7m-7 6h7m-7-7h7m-8 3h7m-8-9h7m-7 2h7m-7-1h7m-7 11h7m-7 0h7m-7-2h7m-8 2h7m-7 1h7m-7-8h7m-7-4h7m-7 6h7m-8 5h7m-7 1h7m-7-2h7m-7-6h7m-7-3h7m-8 2h7m-7-3h7m-7 9h7m-7-9h7m-7 6h7m-7 4h7m-8 0h7m-7 2h7m-7-6h7m-8 2h7m-7 2h7m-7-11h7m-8 3h7m-7 10h7m-7-6h7m-7-1h7m-7 1h7m-8 4h7m-7-5h7m-7 6h7m-7-13h7m-8 7h7m-7 2h7m-8-1h7m-7 3h7m-8-11h7m-7 2h7m-7 5h7m-7 2h7m-8-1h7m-7-8h7m-7 4h7m-7 3h7m-7-3h7m-8 0h7m-7 6h7m-7 0h7m-8 3h7m-7-13h7m-7 1h7m-7 9h7m-8 2h7m-7-10h7m-7 1h7m-7 7h7m-7-2h7m-7-5h7m-8 10h7m-8-13h7m-7 8h7m-7-8h7m-7 11h7m-7-3h7m-7-5h7m-8-1h7m-7 10h7m-7-10h7m-7 9h7m-8-5h7m-7 1h7m-8 7h7m-7-11h7m-8-1h7m-7 0h7m-7-2h7m-7 4h7m-7 8h7m-7-10h7m-8 6h7m-7 3h7m-7-7h7m-8-1h7m-7 6h7m-8-9h7m-7 13h7m-7-1h7m-8-12h7m-7 14h7m-7-9h7m-8 1h7m-8 3h7m-7 1h7m-7-3h7m-7 6h7m-7-8h7m-8-3h7m-7 6h7m-7 3h7m-7 1h7m-7-12h7m-7 14h7m-7-7h7m-8 0h7m-7-3h7m-7 0h7m-8-4h7m-7 11h7m-7 1h7m-7 0h7m-7-5h7m-7 3h7m-7-2h7m-7-4h7m-8 1h7m-7 6h7m-7-5h7m-7 3h7m-7 0h7m-8-6h7m-7 11h7m-8-5h7m-7-3h7m-7-5h7m-8 13h7m-7 0h7m-7-7h7m-8 6h7m-7-12h7m-7 8h7m-7-8h7m-7 12h7m-7-12h7m-8 8h7m-7 4h7m-7-13h7m-7 8h7m-7 4h7m-8-11h7m-7 12h7m-7-13h7m-7 6h7m-7 6h7m-7-12h7m-7 12h7m-8-2h7m-8 4h7m-7-5h7m-7 2h7m-7-9h7m-8-1h7m-8 11h7m-7-2h7m-7-4h7m-7 2h7m-7 2h7m-8 0h7m-7-3h7m-8-2h7m-7 2h7m-7 6h7m-7-10h7m-8 11h7m-7-10h7m-7 2h7m-8 6h7m-7-9h7m-7 5h7m-8-1h7m-7-2h7m-7 1h7m-8 3h7m-7 0h7m-7-4h7m-7 5h7m-7 0h7m-8-3h7m-7 7h7m-7-3h7m-7-8h7m-7 1h7m-7-1h7m-8 8h7m-7-3h7m-7 6h7m-7-14h7m-7 11h7m-7-10h7m-8 3h7m-7 10h7m-7-6h7m-7-2h7m-8 7h7m-7-13h7m-7 4h7m-7 7h7m-11-3h7m-7-5h7m-9 2h7m-9 1h7m-8-6h7m-7 14h7m-11-5h7m-8 3h7m-7 0h7m-20-1h7m-9-4h7m-8 21h7m1-2h7m1-4h7m-5 4h7m-6-8h7m-6 11h7m-6-11h7m-5 10h7m-6-11h7m-7 2h7m-7 8h7m-6 1h7m-6-11h7m-6-1h7m-7 5h7m-4-5h7m-7 4h7m-7 8h7m-7-11h7m-6 1h7m-6-2h7m-7 5h7m-7-5h7m-7 13h7m-7-13h7m-7 12h7m-6-8h7m-7 8h7m-7-9h7m-6-3h7m-7 7h7m-7-7h7m-6 9h7m-7-6h7m-7 10h7m-7-12h7m-6 7h7m-7 2h7m-7-5h7m-7 4h7m-6 0h7m-7-4h7m-7-4h7m-7 5h7m-7 3h7m-6-8h7m-7 0h7m-7 7h7m-6-5h7m-7 1h7m-6-2h7m-7 5h7m-7 0h7m-7-2h7m-7 4h7m-6 4h7m-7-7h7m-7 2h7m-7-6h7m-7 4h7m-6 3h7m-7 2h7m-6-1h7m-7-2h7m-7 3h7m-6-12h7m-6 7h7m-7 3h7m-7 2h7m-7-4h7m-7-4h7m-6 2h7m-6 6h7m-7-12h7m-6 14h7m-7-12h7m-7 7h7m-7-4h7m-6 0h7m-7 6h7m-6 1h7m-7-11h7m-7 5h7m-7 5h7m-7-2h7m-7-8h7m-6 3h7m-7 9h7m-7-1h7m-7 0h7m-6-6h7m-7 4h7m-7-1h7m-7-4h7m-7 8h7m-7-4h7m-6-7h7m-7-2h7m-7 1h7m-7 13h7m-6 0h7m-6-12h7m-7 5h7m-7-1h7m-7 1h7m-6 2h7m-7-5h7m-7 2h7m-7-6h7m-6 1h7m-7 5h7m-7-4h7m-6-2h7m-7 5h7m-7-5h7m-7 3h7m-7 5h7m-7 0h7m-7-1h7m-6-2h7m-7 1h7m-7 0h7m-7-6h7m-6 11h7m-7-7h7m-7-1h7m-7 7h7m-6-6h7m-7-2h7m-5 9h7m-7-6h7m-7 8h7m-7-8h7m-7 7h7m-7-5h7m-7-6h7m-6 0h7m-7 5h7m-7 6h7m-6-4h7m-7 4h7m-7-12h7m-7 3h7m-6 4h7m-7-1h7m-7-5h7m-7 4h7m-6-2h7m-7 3h7m-7 7h7m-6-5h7m-7 5h7m-7-5h7m-6 2h7m-7-6h7m-7 8h7m-6-2h7m-7-7h7m-7-1h7m-7 6h7m-6-3h7m-7 1h7m-7-5h7m-7 13h7m-7-13h7m-7 1h7m-6 2h7m-7 0h7m-7-3h7m-7 2h7m-7 11h7m-6-3h7m-7-5h7m-7 1h7m-6 6h7m-6-5h7m-7-7h7m-7 8h7m-6-4h7m-7-3h7m-7 0h7m-6 8h7m-7-5h7m-7 8h7m-6 1h7m-6-10h7m-7 10h7m-7-7h7m-7 0h7m-6-2h7m-6-3h7m-6 2h7m-6 2h7m-7-2h7m-7 0h7m-7 9h7m-7-5h7m-7-5h7m-6-1h7m-7 6h7m-7 4h7m-6-7h7m-7 9h7m-7-6h7m-7-7h7m-7 2h7m-7-1h7m-6-2h7m-7 0h7m-7 0h7m-6 3h7m-7 1h7m-7 10h7m-7-13h7m-7 2h7m-6 11h7m-7-2h7m-6-2h7m-7-9h7m-7-1h7m-7 4h7m-6-2h7m-7 6h7m-7 0h7m-6-2h7m-6-1h7m-7 3h7m-7 0h7m-7 6h7m-6-2h7m-6-3h7m-7-9h7m-6 10h7m-7-5h7m-7-1h7m-6-3h7m-6 10h7m-7-4h7m-7 4h7m-7 1h7m-7-4h7m-6-7h7m-7 8h7m-7-7h7m-6-1h7m-7 13h7m-6-5h7m-7-9h7m-5 1h7m-7 2h7m-6 2h7m-6 9h7m-7 0h7m-6-4h7m-7-3h7m-6-1h7m-5-6h7m-7 4h7m-7-2h7m-6-2h7m-5 3h7m-5-1h7m-5 2h7m-6 3h7m-7 4h7m-7-7h7m-6-4h7m-6 6h7m-7 0h7m-6-2h7m-2 4h7m-6-5h7m-3-2h7m10 5h7m45 2h7m93 5h7m-4-1h7m127-1h7m-318 13h7m-18 3h7m-10-11h7m-12 0h7m-10-1h7m-8 13h7m-9-4h7m-8-9h7m-10 6h7m-7 0h7m-8 0h7m-12 8h7m-10 0h7m-9-11h7m-7 6h7m-10 1h7m-8 0h7m-7-8h7m-7 7h7m-10 5h7m-7-5h7m-8 2h7m-8-5h7m-9 6h7m-8-10h7m-8 3h7m-7-1h7m-9-2h7m-7 5h7m-8-1h7m-7-4h7m-10 4h7m-8 3h7m-10-8h7m-8 11h7m-8-9h7m-9 11h7m-8-9h7m-7-4h7m-9 0h7m-7 5h7m-8-5h7m-7 0h7m-7-1h7m-7 9h7m-8-5h7m-7 4h7m-7 5h7m-7 0h7m-7-11h7m-8 3h7m-7 8h7m-8 0h7m-7-11h7m-9 9h7m-8-11h7m-8 2h7m-9 6h7m-7-1h7m-8 1h7m-7-8h7m-8 13h7m-9-12h7m-7 2h7m-8 8h7m-7-1h7m-7 3h7m-8-3h7m-9-1h7m-7-1h7m-7 0h7m-8 1h7m-7-7h7m-7 5h7m-9 7h7m-7 0h7m-8-14h7m-9 5h7m-7 3h7m-7-5h7m-10 1h7m-8 10h7m-7-13h7m-9 4h7m-7-4h7m-9 11h7m-7-7h7m-10 3h7m-8-8h7m-7 14h7m-9-10h7m-9 1h7m-7 6h7m-7-4h7m-8 1h7m-8 2h7m-7-1h7m-9 0h7m-7-1h7m-8 1h7m-8-2h7m-8-7h7m-12 2h7m-14 10h7m-9-1h7m-12 5h7m0 3h7m-4 3h7m-4 1h7m-6 1h7m-6 3h7m1-1h7m-4-11h7m-5 5h7m-2 5h7m1 0h7m-7-3h7m-3-7h7m-4 9h7m-6 1h7m-7 2h7m-4-11h7m-6 6h7m-7-4h7m-7 8h7m-6-9h7m-7 6h7m-6-8h7m-5 3h7m-6 9h7m-2-2h7m-7-6h7m-1 0h7m-7 6h7m1-3h7m-1-3h7m-7-2h7m-5 8h7m-1 1h7m-4-4h7m-6-6h7m-7 6h7m0 6h7m-1-2h7m-54 7h7m-15-1h7m-12 0h7m-21 3h7m-9 9h7m-10-14h7m-9 14h7m-8-2h7m-8-12h7m-10 12h7m-7-7h7m-20 1h7m-7 7h7m-7-12h7m-16 3h7m-7 11h7m-5 14h7m-3-3h7m-7-1h7m-5-3h7m1 1h7m4 0h7m0 0h7m-24 19h7m-8 0h7m-8-5h7m-9-6h7m-14-1h7m-10 9h7m-11-9h7" stroke="#111" stroke-width="7" opacity="1.0" fill="none"/>
<path d="M40.9 332.7H103.7V396.1" fill="none" stroke="#111" stroke-width="1.0"/>
<path d="M40.9 332.2V396.1H104.2" fill="none" stroke="#111" stroke-width="1.25"/>
<path d="M40.9 396.1h-3.0M40.9 380.25h-3.0M40.9 364.4h-3.0M40.9 348.55h-3.0M40.9 332.7h-3.0M40.9 391.3h-1.5M40.9 388.5h-1.5M40.9 386.6h-1.5M40.9 385.0h-1.5M40.9 383.8h-1.5M40.9 382.7h-1.5M40.9 381.8h-1.5M40.9 381.0h-1.5M40.9 375.5h-1.5M40.9 372.7h-1.5M40.9 370.7h-1.5M40.9 369.2h-1.5M40.9 367.9h-1.5M40.9 366.9h-1.5M40.9 365.9h-1.5M40.9 365.1h-1.5M40.9 359.6h-1.5M40.9 356.8h-1.5M40.9 354.9h-1.5M40.9 353.3h-1.5M40.9 352.1h-1.5M40.9 351.0h-1.5M40.9 350.1h-1.5M40.9 349.3h-1.5M40.9 343.8h-1.5M40.9 341.0h-1.5M40.9 339.0h-1.5M40.9 337.5h-1.5M40.9 336.2h-1.5M40.9 335.2h-1.5M40.9 334.2h-1.5M40.9 333.4h-1.5" stroke="#111" stroke-width="0.9" fill="none"/>
<path d="M40.9 396.1v2.4M47.2 396.1v1.9M53.5 396.1v2.4M59.7 396.1v1.9M66.0 396.1v2.4M72.3 396.1v1.9M78.6 396.1v2.4M84.9 396.1v1.9M91.1 396.1v2.4M97.4 396.1v1.9M103.7 396.1v2.4M40.9 396.1v1.5M42.2 396.1v1.5M43.4 396.1v1.5M44.7 396.1v1.5M45.9 396.1v1.5M47.2 396.1v1.5M48.4 396.1v1.5M49.7 396.1v1.5M50.9 396.1v1.5M52.2 396.1v1.5M53.5 396.1v1.5M54.7 396.1v1.5M56.0 396.1v1.5M57.2 396.1v1.5M58.5 396.1v1.5M59.7 396.1v1.5M61.0 396.1v1.5M62.3 396.1v1.5M63.5 396.1v1.5M64.8 396.1v1.5M66.0 396.1v1.5M67.3 396.1v1.5M68.5 396.1v1.5M69.8 396.1v1.5M71.0 396.1v1.5M72.3 396.1v1.5M73.6 396.1v1.5M74.8 396.1v1.5M76.1 396.1v1.5M77.3 396.1v1.5M78.6 396.1v1.5M79.8 396.1v1.5M81.1 396.1v1.5M82.3 396.1v1.5M83.6 396.1v1.5M84.9 396.1v1.5M86.1 396.1v1.5M87.4 396.1v1.5M88.6 396.1v1.5M89.9 396.1v1.5M91.1 396.1v1.5M92.4 396.1v1.5M93.7 396.1v1.5M94.9 396.1v1.5M96.2 396.1v1.5M97.4 396.1v1.5M98.7 396.1v1.5M99.9 396.1v1.5M101.2 396.1v1.5M102.4 396.1v1.5" stroke="#111" stroke-width="0.75" fill="none"/>
<text x="42.2" y="404.8" font-size="5.8" text-anchor="middle" fill="#333" textLength="2.6" lengthAdjust="spacingAndGlyphs" stroke="#333" stroke-width="0.1">0</text>
<text x="54.06" y="404.8" font-size="5.8" text-anchor="middle" fill="#333" textLength="8.9" lengthAdjust="spacingAndGlyphs" stroke="#333" stroke-width="0.1">200</text>
<text x="66.62" y="404.8" font-size="5.8" text-anchor="middle" fill="#333" textLength="8.9" lengthAdjust="spacingAndGlyphs" stroke="#333" stroke-width="0.1">400</text>
<text x="79.18" y="404.8" font-size="5.8" text-anchor="middle" fill="#333" textLength="8.9" lengthAdjust="spacingAndGlyphs" stroke="#333" stroke-width="0.1">600</text>
<text x="91.74" y="404.8" font-size="5.8" text-anchor="middle" fill="#333" textLength="8.9" lengthAdjust="spacingAndGlyphs" stroke="#333" stroke-width="0.1">800</text>
<text x="103.1" y="404.8" font-size="5.8" text-anchor="middle" fill="#333" textLength="11.2" lengthAdjust="spacingAndGlyphs" stroke="#333" stroke-width="0.1">1000</text>
<text x="25.58" y="398.7" font-size="7.1" fill="#222" stroke="#222" stroke-width="0.14" textLength="7.8" lengthAdjust="spacingAndGlyphs">10</text><text x="33.88" y="396.48" font-size="4" fill="#222" stroke="#222" stroke-width="0.08">0</text>
<text x="25.58" y="382.85" font-size="7.1" fill="#222" stroke="#222" stroke-width="0.14" textLength="7.8" lengthAdjust="spacingAndGlyphs">10</text><text x="33.88" y="380.63" font-size="4" fill="#222" stroke="#222" stroke-width="0.08">1</text>
<text x="25.58" y="367" font-size="7.1" fill="#222" stroke="#222" stroke-width="0.14" textLength="7.8" lengthAdjust="spacingAndGlyphs">10</text><text x="33.88" y="364.78" font-size="4" fill="#222" stroke="#222" stroke-width="0.08">2</text>
<text x="25.58" y="351.15" font-size="7.1" fill="#222" stroke="#222" stroke-width="0.14" textLength="7.8" lengthAdjust="spacingAndGlyphs">10</text><text x="33.88" y="348.93" font-size="4" fill="#222" stroke="#222" stroke-width="0.08">3</text>
<text x="25.58" y="335.3" font-size="7.1" fill="#222" stroke="#222" stroke-width="0.14" textLength="7.8" lengthAdjust="spacingAndGlyphs">10</text><text x="33.88" y="333.08" font-size="4" fill="#222" stroke="#222" stroke-width="0.08">4</text>
<path transform="scale(.1)" d="M2059 3437h7m-62 23h7m0-6h7m72 24h7m-42-10h7m-23 10h7m-12-7h7m-13 0h7m-29-6h7m-47 10h7m-11 4h7m-17 10h7m18 4h7m-4-9h7m3-1h7m-6 6h7m3-2h7m-7-4h7m20 8h7m1-1h7m24-9h7m-23 16h7m-26 10h7m-12-8h7m-9 1h7m-9-1h7m-8 4h7m-14 3h7m-7 1h7m-31-6h7m-12 5h7m-8-4h7m-9 0h7m-16 1h7m-74 16h7m30 1h7m15 0h7m11-8h7m3 11h7m-6-5h7m-3 3h7m-6-3h7m-5 3h7m-5 0h7m-5-7h7m-7 0h7m-6 9h7m-5-11h7m-5 0h7m-7 8h7m-3-5h7m-5-4h7m-5 7h7m-6 6h7m6-11h7m-5 7h7m-7 3h7m5-2h7m17-10h7m-5 8h7m-9 8h7m-12 0h7m-18-1h7m-14 5h7m-11 7h7m-16-13h7m-12 4h7m-12 3h7m-14-5h7m-7 12h7m-11-2h7m-9 0h7m-9-10h7m-9 6h7m-12 4h7m-14-10h7m-8 7h7m-14-5h7m-10 6h7m-9-8h7m-10 8h7m-9 1h7m-8 1h7m-14-7h7m-8-3h7m-9 10h7m-29-3h7m-16 3h7m-38-2h7m-115 17h7m116-12h7m-4 9h7m9-1h7m17-4h7m-2 9h7m-2-13h7m-6 5h7m-2 0h7m-4-2h7m-3 7h7m-3 0h7m-6 1h7m-1 0h7m-5-4h7m-5-7h7m-4 0h7m-3 10h7m-1-2h7m-5-6h7m-7 8h7m-4 3h7m-5-10h7m-6 5h7m-4-5h7m-3 1h7m-2 0h7m-6 8h7m1-6h7m5 8h7m-7-5h7m14-3h7m2-4h7m-7 22h7m-22 3h7m-13-12h7m-22 5h7m-7 8h7m-19-4h7m-10-3h7m-9-4h7m-8 6h7m-8 2h7m-8 4h7m-10 0h7m-7-1h7m-8-4h7m-8 2h7m-9-7h7m-10 3h7m-7 5h7m-8-4h7m-8 3h7m-9-2h7m-10-3h7m-8-3h7m-7 11h7m-8-14h7m-8 9h7m-13 3h7m-9 1h7m-9-13h7m-12 8h7m-13-8h7m-9 2h7m-7 11h7m-10-6h7m-7-5h7m-7-2h7m-8 6h7m-8 8h7m-8-4h7m-8-5h7m-8-4h7m-16 0h7m-10 5h7m-11-6h7m-8 6h7m-10-3h7m-7-1h7m-11 12h7m-8-9h7m-10 1h7m-7-2h7m-10-2h7m-19 2h7m-9 1h7m-19 8h7m-10-2h7m-11-2h7m-274 1h7m279 13h7m-6-3h7m3-2h7m-4 2h7m1 0h7m-6 3h7m-4-1h7m-6-4h7m-2 2h7m-6 5h7m-6 2h7m-7 2h7m-3-9h7m-6 4h7m-5 5h7m-6-11h7m-5 10h7m-5-5h7m-7 2h7m-5 0h7m-6-8h7m-6 0h7m-6 9h7m-7 0h7m-7-10h7m-6-1h7m-6 7h7m-6 1h7m-6 1h7m-4-2h7m-7-6h7m-6 11h7m-6-4h7m-5 5h7m-7-4h7m-3-5h7m-5 2h7m-5 1h7m-6 1h7m-6 2h7m-5-10h7m-5 0h7m-6 3h7m-7 3h7m-6 2h7m-5-4h7m-7 0h7m-5 5h7m-5-2h7m-7-4h7m-6 6h7m-6-8h7m-6 2h7m-6 6h7m-4-3h7m-4 6h7m-6-2h7m-5 1h7m-7-5h7m-5-2h7m-5 6h7m-6 1h7m-6 1h7m-6 1h7m-4-3h7m-2 4h7m-6-1h7m-5-7h7m-2 7h7m-5-1h7m-6-8h7m-6-3h7m0 24h7m-13 1h7m-12-8h7m-14 9h7m-9-1h7m-8-5h7m-8-4h7m-14 0h7m-7 9h7m-12 3h7m-7-4h7m-11 0h7m-8-7h7m-10-3h7m-7 14h7m-9-14h7m-12 0h7m-10 13h7m-8-3h7m-8 2h7m-9-12h7m-10 11h7m-8 0h7m-7 2h7m-9-11h7m-9 10h7m-7 2h7m-8-8h7m-11 5h7m-8-1h7m-8-6h7m-9 10h7m-9-3h7m-7-1h7m-10-6h7m-8 9h7m-8-7h7m-11 5h7m-10-8h7m-8 0h7m-7 11h7m-8-2h7m-9-8h7m-9 2h7m-8-6h7m-8 10h7m-7-6h7m-7 8h7m-9-10h7m-8 7h7m-9-8h7m-7 7h7m-8-6h7m-8 5h7m-10 7h7m-8-1h7m-9-8h7m-8-1h7m-8 7h7m-9-6h7m-7 7h7m-9-1h7m-7-2h7m-8-6h7m-8 10h7m-8-13h7m-12 14h7m-15-13h7m-8 11h7m-20-5h7m-11-2h7m-27 6h7m-19 9h7m27 1h7m-3 5h7m-1 0h7m0-7h7m-6 10h7m-6-3h7m-3-11h7m-4 13h7m-6-6h7m-7 3h7m-5 3h7m-7-13h7m-4 9h7m-5-7h7m-1-2h7m-7 11h7m-6 3h7m-5-12h7m-7 8h7m-6 4h7m-7-7h7m-4 4h7m-6 0h7m-6-5h7m-6 3h7m-6-1h7m-6 1h7m-6-9h7m-4 12h7m-6-1h7m-7-9h7m-7 0h7m-5 3h7m-6-2h7m-6-2h7m4 10h7m-7 0h7m-6 0h7m-5-4h7m-7 3h7m-6 0h7m-5-8h7m-7 10h7m-7 1h7m-6 1h7m-6-1h7m-7-6h7m-6 7h7m-5-6h7m-6 5h7m-7 0h7m-4 0h7m-7-12h7m-5 0h7m-4 10h7m-6 2h7m-4 1h7m-6-2h7m-5-7h7m-6 8h7m-2-8h7m-5 8h7m-6 0h7m-6 1h7m0-5h7m-1 5h7m-2-3h7m-1-8h7m4 5h7m5 8h7m-26 9h7m-8-6h7m-19 10h7m-11-12h7m-7 5h7m-11 0h7m-10 7h7m-10-11h7m-16 1h7m-9-1h7m-11 1h7m-10 6h7m-7 0h7m-8-10h7m-10 5h7m-7 3h7m-7-2h7m-10 2h7m-8-4h7m-10-3h7m-8 10h7m-7-5h7m-9-2h7m-7 7h7m-7 3h7m-8 0h7m-7-7h7m-7 0h7m-8-3h7m-8 1h7m-8-1h7m-7-2h7m-8-2h7m-11 8h7m-8 6h7m-8-13h7m-8 6h7m-8-4h7m-8 3h7m-9 2h7m-9-5h7m-8-1h7m-8 2h7m-7-2h7m-9 7h7m-7 2h7m-7 1h7m-8-9h7m-7 8h7m-8-9h7m-7-2h7m-8 4h7m-8-2h7m-7-1h7m-11 7h7m-7 4h7m-9-9h7m-7 7h7m-10-1h7m-8 2h7m-9-5h7m-7 5h7m-9 1h7m-7 1h7m-8-9h7m-7 10h7m-13-2h7m-10-4h7m-9 1h7m-7 3h7m-9 1h7m-8-13h7m-11 7h7m-10-4h7m-9 9h7m-10-1h7m-16-3h7m-16 3h7m-254 1h7m229 4h7m-6 6h7m-1-3h7m-6 9h7m-6-5h7m3-2h7m-6 4h7m0-5h7m-3 8h7m-2-6h7m-3-3h7m-6 7h7m-7 3h7m-5-14h7m-6 3h7m-6 7h7m-7 3h7m-4 0h7m-4 0h7m-3-9h7m-7 4h7m-6-1h7m-7 5h7m-6-8h7m-4-1h7m-3 5h7m-3-5h7m-7 11h7m-7-13h7m-5 9h7m-5-8h7m-6 9h7m-5 1h7m-6 2h7m-4-5h7m-6 4h7m-4 1h7m-7-14h7m-7 7h7m-5 3h7m-5 3h7m-7-8h7m-6 1h7m-6-6h7m-5 13h7m-3-4h7m-7 3h7m-6-1h7m-3 1h7m-7-1h7m-4-3h7m-4 0h7m-6-1h7m-6-1h7m3-5h7m-6 1h7m-7 11h7m-5-12h7m-6 7h7m-7-6h7m-4 1h7m-4 8h7m3-8h7m-5 3h7m8 17h7m-23-7h7m-15 13h7m-8-2h7m-14 0h7m-8-12h7m-7 11h7m-8 0h7m-9-9h7m-10 7h7m-11 3h7m-7-12h7m-12 8h7m-13 2h7m-8 2h7m-10-8h7m-8 9h7m-9-1h7m-8-1h7m-8 3h7m-10-11h7m-10 11h7m-8-14h7m-11 9h7m-14-8h7m-8 11h7m-8-12h7m-11 0h7m-10 9h7m-8-8h7m-11 11h7m-10-5h7m-9 5h7m-8 1h7m-10-1h7m-8-3h7m-8 2h7m-9 0h7m-7-7h7m-10-2h7m-9 12h7m-7-5h7m-8-1h7m-9-6h7m-17 7h7m-8 4h7m-8-2h7m-10-9h7m-13 8h7m-8-5h7m-8 5h7m-16-5h7m-7 6h7m-9-6h7m-41-2h7m-2 15h7m-1 11h7m1-7h7m5-2h7m-5 7h7m2 1h7m5-12h7m-7 13h7m-6-6h7m-2-6h7m-1 3h7m-6 0h7m-4 7h7m-5-6h7m-5 6h7m-4-8h7m1 7h7m-6 0h7m-5-3h7m-3-3h7m-7 9h7m-3-6h7m-5 2h7m-3 3h7m-2-10h7m-4-1h7m-4 6h7m-5-6h7m-6 5h7m-2-7h7m-5 11h7m-6-4h7m5 2h7m-6-5h7m-6-3h7m0 9h7m-7-3h7m-6-4h7m-3 5h7m0-3h7m-6 9h7m0-5h7m-7-1h7m-32 15h7m-11 5h7m-12 0h7m-9-12h7m-11-1h7m-8 1h7m-9 4h7m-9-5h7m-9 1h7m-9-1h7m-9 3h7m-9 9h7m-9-6h7m-17-1h7m-9 6h7m-10-3h7m-7-6h7m-8 1h7m-10 7h7m-9 0h7m-9 0h7m-16-5h7m-10 1h7m-7 2h7m-8-4h7m-9-2h7m-9 4h7m-8 2h7m-9 0h7m-9-5h7m-9-3h7m-12 5h7m-9 2h7m-9 3h7m-7-7h7m-10 11h7m-8-7h7m-7-1h7m-9 4h7m-7-6h7m-10-1h7m-8 9h7m-10-12h7m-8 14h7m-9-11h7m-14 1h7m-8-2h7m-8 3h7m-8 6h7m-8 2h7m-14-4h7m-8-9h7m-9 12h7m-14-12h7m-9 8h7m-15-8h7m-32 14h7m-52 5h7m10 1h7m19 6h7m1 3h7m0-4h7m2-4h7m-7-5h7m-3 0h7m2 10h7m-3-11h7m-4 11h7m-6-8h7m-7-1h7m1 9h7m-5-11h7m-7 11h7m10-1h7m-5-9h7m-6 7h7m-2 0h7m-5-2h7m-5 4h7m-2 3h7m-6-6h7m-5-3h7m-6-2h7m2 1h7m-6 3h7m-6-1h7m-5 9h7m-1-9h7m-7 3h7m-5-4h7m-3-3h7m-1 2h7m-1 8h7m5-8h7m-4 2h7m-6 1h7m0-5h7m4 0h7m-5 3h7m-14 13h7m-30 12h7m-8-8h7m-9-5h7m-21 2h7m-11 9h7m-8-12h7m-12 14h7m-10-9h7m-12 2h7m-7-7h7m-12 5h7m-13 5h7m-8 0h7m-18-5h7m-17-3h7m-7 6h7m-8-4h7m-7 6h7m-10-1h7m-8-9h7m-9 9h7m-8 3h7m-22-8h7m-11-2h7m-9-1h7m-10 2h7m-22 10h7m-11 0h7m-12-3h7m-24 1h7m-84 17h7m7-8h7m2 0h7m28 2h7m-5-4h7m18 1h7m-5 5h7m8-4h7m-3 4h7m-3 0h7m-5-2h7m-1-5h7m-4 10h7m-2-5h7m-4 7h7m-4-7h7m-4 4h7m-4-4h7m-4 7h7m-5-10h7m-6-2h7m-7 12h7m-6-14h7m3 1h7m-2 7h7m-7 4h7m-5-1h7m-6-7h7m0 3h7m-3-4h7m-2 4h7m2 3h7m-2 4h7m2-4h7m-7 0h7m2-3h7m-20 19h7m-11-6h7m-24-2h7m-12-1h7m-16-1h7m-10 12h7m-8-8h7m-16 6h7m-12-1h7m-16-2h7m-7 0h7m-8-5h7m-12 8h7m-9-7h7m-9-4h7m-13 14h7m-8-6h7m-14-5h7m-7 0h7m-10 0h7m-9-1h7m-9 0h7m-12 6h7m-9-4h7m-12 1h7m-16 3h7m-8 6h7m-9-5h7m-11-2h7m-19 4h7m-17-7h7m-15 8h7m-17 14h7m6 1h7m3-6h7m-1-1h7m-3-1h7m0 8h7m0-9h7m-7 10h7m-6-6h7m14-2h7m-4 7h7m-7-2h7m-7 0h7m-6 1h7m1-3h7m-4 6h7m-6-6h7m-5-7h7m-6 7h7m-4-8h7m-6 7h7m-6-5h7m-7 7h7m-4-3h7m-5 3h7m-4-1h7m-5 1h7m-6-8h7m-4 3h7m17-3h7m-7 6h7m-7-2h7m6-3h7m19 15h7m-22 8h7m-15-1h7m-22-8h7m-10 10h7m-22-3h7m-9-7h7m-8 2h7m-9 4h7m-11-3h7m-9-2h7m-9 4h7m-20-1h7m-11 6h7m-8-1h7m-13 0h7m-20-8h7m-10 2h7m-9-2h7m-10 7h7m-12-2h7m-7 3h7m-7-7h7m-7 0h7m-18 8h7m-15-4h7m-11 2h7m-14-6h7m-15 8h7m-14-10h7m-8-1h7m-14 12h7m-35-11h7m-131 3h7m-76 17h7m212-3h7m1 4h7m-3-6h7m1 9h7m-7-1h7m-1-7h7m3 12h7m3-9h7m-7 7h7m-6-1h7m-6-8h7m-1 0h7m-6 2h7m-6 4h7m0-6h7m-7-2h7m-6 11h7m-5-6h7m-5-3h7m-6-2h7m-7 9h7m-6-6h7m-7 9h7m-7-7h7m-4 0h7m-5-6h7m-3 12h7m-6-11h7m-7-1h7m-5 5h7m-7 8h7m-7-8h7m-2 0h7m-3-5h7m-7 14h7m-4-8h7m5 6h7m-1 0h7m-6-12h7m19 5h7m-35 24h7m-23-2h7m-7-9h7m-7-3h7m-8 9h7m-11-5h7m-7 9h7m-11 1h7m-16-14h7m-10 0h7m-8 8h7m-15 1h7m-13-9h7m-18 1h7m-11 3h7m-7 3h7m-8-6h7m-10 5h7m-8 3h7m-8 1h7m-10-10h7m-11 7h7m-9 2h7m-20-8h7m-11 13h7m-24-7h7m-20 3h7m-18 12h7m-3-4h7m-6 5h7m-6 3h7m14-5h7m-7-4h7m-1 6h7m1 2h7m-5-8h7m-6 0h7m-3 10h7m-6 0h7m-1-8h7m-6-3h7m1 4h7m-6-5h7m-1 5h7m-5 9h7m-5-2h7m-7 1h7m-6-8h7m-6 6h7m-6-9h7m-3 3h7m-7 6h7m-2 1h7m-6-3h7m-4 2h7m-2-7h7m-3 3h7m-5-3h7m-3 1h7m-6 8h7m6-7h7m-3-2h7m-6 8h7m-3-12h7m-3 10h7m-2-8h7m41 15h7m-35 1h7m-12 3h7m-13 5h7m-16-8h7m-11 1h7m-12 5h7m-37 5h7m-12-3h7m-8-1h7m-8 0h7m-15-4h7m-8-1h7m-8-5h7m-11 10h7m-13 2h7m-8-6h7m-7-2h7m-9 6h7m-8-9h7m-9 4h7m-11 8h7m-11-4h7m-8-4h7m-10 5h7m-7-7h7m-10 8h7m-8-10h7m-7 5h7m-11-6h7m-10 6h7m-16 5h7m-7-7h7m-7 3h7m-13-3h7m-14-2h7m-10 10h7m-8 2h7m-13-2h7m-17 1h7m-10-2h7m-22 2h7m-18-7h7m-20-4h7m-26 24h7m15 1h7m1 2h7m4-13h7m6 8h7m-2-1h7m-4 1h7m8-2h7m-6-4h7m-6 2h7m0-2h7m-1 6h7m-5-6h7m2 11h7m-7-12h7m-5 5h7m-2 4h7m-5-4h7m-5-3h7m-6-2h7m-5 8h7m-2-2h7m-5-8h7m-5 11h7m-3 3h7m1 0h7m-5-14h7m-6 5h7m-3-2h7m-6 10h7m-6-11h7m2 3h7m12-3h7m90 27h7m-77-4h7m-19-2h7m-25-7h7m-16 1h7m-7-2h7m-8 10h7m-16-7h7m-19 0h7m-16 9h7m-10 1h7m-13-1h7m-8-9h7m-8 7h7m-11 3h7m-9-9h7m-13 6h7m-9 2h7m-10-4h7m-7-2h7m-10 8h7m-8-7h7m-8 4h7m-13-4h7m-9-2h7m-7 5h7m-9-5h7m-16 2h7m-11 7h7m-11-3h7m-9-10h7m-8 8h7m-11 1h7m-8-9h7m-20 1h7m-10 6h7m-17 3h7m-13-5h7m-28 12h7m33-1h7m7 1h7m-4 11h7m-5-4h7m-5-7h7m5-2h7m-3 7h7m-5 1h7m-5-5h7m-2 8h7m-7 1h7m-6-1h7m-5-5h7m-6 1h7m-5-7h7m-4 8h7m-5-7h7m-4 2h7m-6 10h7m-2-1h7m-5-12h7m-5 11h7m-4-1h7m-4-9h7m-2-1h7m2 13h7m-3-4h7m-5 1h7m-2-3h7m-1 5h7m-5-1h7m-5-11h7m-2 7h7m28 6h7m-32 12h7m-26 0h7m-12-10h7m-16 4h7m-10 0h7m-19-5h7m-8 0h7m-15 12h7m-9-6h7m-8 4h7m-9-1h7m-10 4h7m-8-9h7m-12 5h7m-8 0h7m-8 0h7m-7-4h7m-7 8h7m-11-6h7m-7 5h7m-9-8h7m-8 4h7m-9-2h7m-12 1h7m-9-4h7m-11 3h7m-7 0h7m-10-1h7m-9-1h7m-7 6h7m-7-7h7m-9 4h7m-20-1h7m-9 6h7m-9-5h7m-7 4h7m-8 3h7m-75 2h7m18 4h7m-6-3h7m-6-1h7m-1 5h7m-4 5h7m-4-6h7m-4 5h7m-2-10h7m5 11h7m-3 3h7m-6-11h7m-6 0h7m-4 7h7m-5-6h7m-6 4h7m-5-2h7m-4 1h7m-7-4h7m0 11h7m-7-6h7m-5 1h7m-6-4h7m-6-5h7m-2 0h7m-6 9h7m0-3h7m-5 3h7m-6-3h7m-7 7h7m-5-2h7m-5-11h7m-7 12h7m-4 1h7m2-8h7m-6-5h7m-7 13h7m-6-1h7m-2-9h7m4-1h7m-1 4h7m-5 2h7m-7 6h7m-5-12h7m-3 8h7m8-8h7m-8 16h7m-29 1h7m-11-1h7m-14 8h7m-10-6h7m-10-3h7m-21 0h7m-12-1h7m-7 5h7m-8-4h7m-13 8h7m-10-7h7m-9 6h7m-8-8h7m-12 13h7m-14 0h7m-8-7h7m-18-3h7m-9 0h7m-14 4h7m-12 2h7m-7-5h7m-14-2h7m-12-2h7m-9 3h7m-7-2h7m-16-1h7m-16-1h7m-14 1h7m-153 5h7m109 10h7m4 5h7m25 5h7m2-1h7m-4-9h7m2 7h7m-5 0h7m3 6h7m6-3h7m0-8h7m-5 0h7m-7 2h7m-3 7h7m-4-9h7m-7 7h7m-2-7h7m-4-2h7m-4 4h7m-3 1h7m-4-2h7m-5-3h7m-2 1h7m9 6h7m18-8h7m-21 15h7m-12 9h7m-33-2h7m-21 0h7m-21 5h7m-12-11h7m-14 4h7m-16 8h7m-20-10h7m-47 0h7m18 13h7m30 0h7" stroke="#111" stroke-width="7" opacity="1.0" fill="none"/>
<path d="M146.9 332.7H209.7V396.1" fill="none" stroke="#111" stroke-width="1.0"/>
<path d="M146.9 332.2V396.1H210.2" fill="none" stroke="#111" stroke-width="1.25"/>
<path d="M146.9 396.1v3.0M146.9 396.1h-3.0M162.6 396.1v3.0M146.9 380.25h-3.0M178.3 396.1v3.0M146.9 364.4h-3.0M194 396.1v3.0M146.9 348.55h-3.0M209.7 396.1v3.0M146.9 332.7h-3.0M151.6 396.1v1.5M146.9 391.3h-1.5M154.4 396.1v1.5M146.9 388.5h-1.5M156.4 396.1v1.5M146.9 386.6h-1.5M157.9 396.1v1.5M146.9 385.0h-1.5M159.1 396.1v1.5M146.9 383.8h-1.5M160.2 396.1v1.5M146.9 382.7h-1.5M161.1 396.1v1.5M146.9 381.8h-1.5M161.9 396.1v1.5M146.9 381.0h-1.5M167.3 396.1v1.5M146.9 375.5h-1.5M170.1 396.1v1.5M146.9 372.7h-1.5M172.1 396.1v1.5M146.9 370.7h-1.5M173.6 396.1v1.5M146.9 369.2h-1.5M174.8 396.1v1.5M146.9 367.9h-1.5M175.9 396.1v1.5M146.9 366.9h-1.5M176.8 396.1v1.5M146.9 365.9h-1.5M177.6 396.1v1.5M146.9 365.1h-1.5M183.0 396.1v1.5M146.9 359.6h-1.5M185.8 396.1v1.5M146.9 356.8h-1.5M187.8 396.1v1.5M146.9 354.9h-1.5M189.3 396.1v1.5M146.9 353.3h-1.5M190.5 396.1v1.5M146.9 352.1h-1.5M191.6 396.1v1.5M146.9 351.0h-1.5M192.5 396.1v1.5M146.9 350.1h-1.5M193.3 396.1v1.5M146.9 349.3h-1.5M198.7 396.1v1.5M146.9 343.8h-1.5M201.5 396.1v1.5M146.9 341.0h-1.5M203.5 396.1v1.5M146.9 339.0h-1.5M205.0 396.1v1.5M146.9 337.5h-1.5M206.2 396.1v1.5M146.9 336.2h-1.5M207.3 396.1v1.5M146.9 335.2h-1.5M208.2 396.1v1.5M146.9 334.2h-1.5M209.0 396.1v1.5M146.9 333.4h-1.5" stroke="#111" stroke-width="0.9" fill="none"/>
<text x="142.04" y="407.9" font-size="7.1" fill="#222" stroke="#222" stroke-width="0.14" textLength="7.8" lengthAdjust="spacingAndGlyphs">10</text><text x="150.34" y="405.68" font-size="4" fill="#222" stroke="#222" stroke-width="0.08">0</text>
<text x="131.58" y="398.7" font-size="7.1" fill="#222" stroke="#222" stroke-width="0.14" textLength="7.8" lengthAdjust="spacingAndGlyphs">10</text><text x="139.88" y="396.48" font-size="4" fill="#222" stroke="#222" stroke-width="0.08">0</text>
<text x="157.74" y="407.9" font-size="7.1" fill="#222" stroke="#222" stroke-width="0.14" textLength="7.8" lengthAdjust="spacingAndGlyphs">10</text><text x="166.04" y="405.68" font-size="4" fill="#222" stroke="#222" stroke-width="0.08">1</text>
<text x="131.58" y="382.85" font-size="7.1" fill="#222" stroke="#222" stroke-width="0.14" textLength="7.8" lengthAdjust="spacingAndGlyphs">10</text><text x="139.88" y="380.63" font-size="4" fill="#222" stroke="#222" stroke-width="0.08">1</text>
<text x="173.44" y="407.9" font-size="7.1" fill="#222" stroke="#222" stroke-width="0.14" textLength="7.8" lengthAdjust="spacingAndGlyphs">10</text><text x="181.74" y="405.68" font-size="4" fill="#222" stroke="#222" stroke-width="0.08">2</text>
<text x="131.58" y="367" font-size="7.1" fill="#222" stroke="#222" stroke-width="0.14" textLength="7.8" lengthAdjust="spacingAndGlyphs">10</text><text x="139.88" y="364.78" font-size="4" fill="#222" stroke="#222" stroke-width="0.08">2</text>
<text x="189.14" y="407.9" font-size="7.1" fill="#222" stroke="#222" stroke-width="0.14" textLength="7.8" lengthAdjust="spacingAndGlyphs">10</text><text x="197.44" y="405.68" font-size="4" fill="#222" stroke="#222" stroke-width="0.08">3</text>
<text x="131.58" y="351.15" font-size="7.1" fill="#222" stroke="#222" stroke-width="0.14" textLength="7.8" lengthAdjust="spacingAndGlyphs">10</text><text x="139.88" y="348.93" font-size="4" fill="#222" stroke="#222" stroke-width="0.08">3</text>
<text x="204.84" y="407.9" font-size="7.1" fill="#222" stroke="#222" stroke-width="0.14" textLength="7.8" lengthAdjust="spacingAndGlyphs">10</text><text x="213.14" y="405.68" font-size="4" fill="#222" stroke="#222" stroke-width="0.08">4</text>
<text x="131.58" y="335.3" font-size="7.1" fill="#222" stroke="#222" stroke-width="0.14" textLength="7.8" lengthAdjust="spacingAndGlyphs">10</text><text x="139.88" y="333.08" font-size="4" fill="#222" stroke="#222" stroke-width="0.08">4</text>
<path transform="scale(.1)" d="M3058 3377h7m-38 2h7m-24-1h7m-108 24h7m62 1h7m4-1h7m12-12h7m0 13h7m8 10h7m-32-4h7m-22 9h7m-18-6h7m-14 3h7m-11-3h7m13 16h7m2-8h7m0 13h7m10-9h7m18-4h7m-42 24h7m-28-7h7m-10 1h7m-18 11h7m-15-9h7m6 24h7m9-7h7m10-6h7m4-1h7m33 12h7m24-7h7m-24 19h7m-70-5h7m-60 2h7m26 17h7m17 1h7m-4-2h7m-6 3h7m17 4h7m24-7h7m13-5h7m11 12h7m-4-10h7m1 14h7m-13 2h7m-22 6h7m-15-6h7m-8 6h7m-10 3h7m-10-3h7m-13-1h7m-8 2h7m-7 0h7m-8-4h7m-24 6h7m-29-11h7m-72 15h7m7 5h7m-1-2h7m26 8h7m4-14h7m-5 5h7m1-4h7m6 10h7m-7-2h7m-6 1h7m-7 4h7m-6-14h7m-6 0h7m-3 5h7m-6 3h7m5-4h7m-4 2h7m3-6h7m-4 3h7m7 2h7m-7 5h7m0 2h7m-6-4h7m28 16h7m-30 5h7m-8-2h7m-13-2h7m-15-2h7m-20 5h7m-15-8h7m-9 3h7m-7-6h7m-7 5h7m-9 6h7m-8 1h7m-8-6h7m-9 1h7m-7-7h7m-10 5h7m-7-1h7m-8-4h7m-8 4h7m-8-4h7m-11-2h7m-8 12h7m-13-11h7m-8 11h7m-11 0h7m-7-12h7m-8 14h7m-10-11h7m-14 0h7m-7 5h7m-9 2h7m-9-8h7m-8 8h7m-9 4h7m-9-6h7m-11-7h7m-10 8h7m-10-5h7m-25 2h7m-27 7h7m-11-11h7m-25 0h7m-10 1h7m-90 1h7m-146 4h7m234 11h7m9-1h7m-4-1h7m4 1h7m1 3h7m-7-5h7m-3 4h7m-1-5h7m-5 8h7m-2 3h7m-5-9h7m2 5h7m-6 4h7m-6-1h7m-7 4h7m-7-9h7m-7 5h7m-7-10h7m-6 1h7m-6 7h7m-6-8h7m-5 5h7m-5 4h7m-4 0h7m-7-7h7m-5 6h7m-6-2h7m-3 5h7m-4 1h7m-6 1h7m-6-2h7m-6 0h7m-7-6h7m-5 7h7m-4-10h7m-7 7h7m-7-9h7m-4 11h7m-5-1h7m-7-9h7m0 6h7m-6-3h7m-7-1h7m-6 1h7m-6-3h7m-6 12h7m-3-7h7m-6 7h7m0-2h7m-4-2h7m-6 4h7m8-3h7m-2-1h7m-3 17h7m-37-9h7m-11 6h7m-10-5h7m-8 5h7m-9-3h7m-8 6h7m-8-2h7m-11 5h7m-8-2h7m-7-12h7m-9 0h7m-9 7h7m-8 1h7m-7 2h7m-7-6h7m-10 8h7m-7-11h7m-8 1h7m-9 5h7m-8 3h7m-8-2h7m-8 2h7m-8 3h7m-9-3h7m-7 0h7m-9-4h7m-7 3h7m-8-4h7m-10 9h7m-7-3h7m-9 2h7m-8 0h7m-8-9h7m-7-4h7m-8 11h7m-7 3h7m-7-12h7m-8-2h7m-9 8h7m-7 2h7m-8 1h7m-7-4h7m-9-4h7m-8 1h7m-7-3h7m-9 3h7m-10-1h7m-7 3h7m-9 0h7m-9-1h7m-7 6h7m-10-7h7m-8 0h7m-12-3h7m-16 5h7m-18-4h7m-12 10h7m-12-4h7m-24 4h7m-48-7h7m-8 17h7m18-3h7m10 7h7m-7-10h7m11 0h7m-6 6h7m-4 7h7m-2-8h7m-2 0h7m-6 3h7m-1 1h7m-7-6h7m-5 0h7m-5 2h7m-7-2h7m0 8h7m-6-1h7m-7 1h7m-5-2h7m-6-10h7m-6 0h7m-4 1h7m-7 5h7m-5 4h7m-3-2h7m-7-8h7m-6 14h7m-6-11h7m-6 2h7m-7 8h7m-3-5h7m-6 1h7m-6-5h7m-5-2h7m-4 11h7m-7 1h7m-6-9h7m-4-1h7m-7 5h7m-6-3h7m-7-1h7m-5-3h7m-6 2h7m-6 2h7m-6 2h7m-5 4h7m-7-1h7m-7 2h7m-6-3h7m-5 3h7m-5-4h7m-6-9h7m-4 11h7m-7-2h7m-6-8h7m-6-1h7m-6 8h7m-6-5h7m0 4h7m-7 6h7m-4-13h7m-6 6h7m-4 3h7m2 4h7m0-13h7m-2 28h7m-32-4h7m-12-9h7m-11 3h7m-7 8h7m-9-3h7m-8-5h7m-9 1h7m-9-1h7m-7 10h7m-8 1h7m-8-11h7m-7-2h7m-10 13h7m-8-2h7m-7 0h7m-8-6h7m-12-4h7m-8 12h7m-8-4h7m-7-1h7m-9 3h7m-8-2h7m-7-1h7m-8-3h7m-7 6h7m-8-5h7m-8-1h7m-8 0h7m-8-1h7m-7 4h7m-8 3h7m-7-5h7m-9 3h7m-10 1h7m-8 0h7m-10-4h7m-8 0h7m-9 7h7m-9-7h7m-8-1h7m-8-3h7m-10 3h7m-7 7h7m-9-3h7m-8-1h7m-8 1h7m-13 0h7m-9 0h7m-8-3h7m-8 6h7m-8-2h7m-8 0h7m-7-3h7m-7-3h7m-16-3h7m-12 2h7m-12 6h7m-11 4h7m-11-5h7m-12 1h7m-10-8h7m-14 5h7m-10 5h7m-8-6h7m-14-2h7m-32 6h7m-8 1h7m-13 8h7m22 1h7m-5-4h7m15 11h7m-2-3h7m-6-2h7m7 6h7m-4 1h7m-6-6h7m-5 2h7m-4-2h7m-7-7h7m-4 4h7m-7 5h7m-2 3h7m-4-8h7m-7-1h7m-6 4h7m-6 5h7m-6-4h7m-6-9h7m-5 5h7m-7 4h7m-6 2h7m-7 3h7m0-4h7m-7-2h7m-4 1h7m-7 5h7m-7-7h7m-6-3h7m-6 4h7m-5-7h7m-6 5h7m-6-3h7m-6 8h7m-4-4h7m-6 3h7m-4 0h7m-7 0h7m-7-5h7m-6-1h7m-7 0h7m-6 6h7m-6 2h7m-6-6h7m-7 4h7m-5-7h7m-6 4h7m-6-2h7m-7-4h7m-5 4h7m-5 9h7m-6-6h7m-4-6h7m-5-2h7m-6 2h7m-7 3h7m-7 2h7m-6 5h7m-7 0h7m-3-11h7m-6 10h7m4-4h7m-6-6h7m-5 26h7m-11-10h7m-14 12h7m-12-10h7m-9 2h7m-7 0h7m-8 7h7m-15-9h7m-7-1h7m-8 2h7m-8-2h7m-8 5h7m-9-7h7m-7 3h7m-8 4h7m-8-2h7m-7-2h7m-10 3h7m-7-1h7m-8-2h7m-7-4h7m-8 5h7m-7 1h7m-8 1h7m-9 7h7m-9-4h7m-7-1h7m-9-4h7m-8-5h7m-11 7h7m-8-5h7m-7 8h7m-7 4h7m-8-10h7m-9 5h7m-9-7h7m-9 12h7m-13-8h7m-7 3h7m-12 2h7m-10-2h7m-7-9h7m-9 5h7m-9-3h7m-7-2h7m-11 6h7m-9-2h7m-8 10h7m-10-7h7m-10-5h7m-12 3h7m-9 6h7m-11-1h7m-12-8h7m-9 7h7m-57-6h7m-196-3h7m168 25h7m-6 4h7m-3-9h7m-5 7h7m5-6h7m-2 7h7m9-10h7m0 0h7m2 4h7m3 1h7m-5-7h7m-4 0h7m-3 6h7m-6 3h7m-4 2h7m-6-7h7m0-4h7m-7 10h7m-2-7h7m-6-2h7m-6 11h7m-4-12h7m-6 0h7m-4 7h7m-6-2h7m-5-1h7m-6 4h7m-6-9h7m-5 11h7m-7-11h7m-6 10h7m-6 2h7m-1-9h7m-7 2h7m-2 5h7m-6-2h7m-5-4h7m-6 2h7m-6 7h7m-4-2h7m-5-8h7m-5 5h7m-7-7h7m-6 10h7m-5-4h7m-4-6h7m-1 4h7m12-1h7m15 2h7m-33 20h7m-12 0h7m-16-9h7m-11-2h7m-13 3h7m-7 3h7m-13 7h7m-10-10h7m-8 0h7m-11 10h7m-10-4h7m-19-6h7m-8 5h7m-15 5h7m-8-13h7m-7 10h7m-8-3h7m-12-1h7m-9 3h7m-8-3h7m-9 1h7m-10 1h7m-14 2h7m-9 2h7m-10 2h7m-7-5h7m-7-1h7m-11 5h7m-8-5h7m-9 1h7m-17-3h7m-8 0h7m-8 6h7m-8-3h7m-11-8h7m-12 1h7m-9 2h7m-10 7h7m-11 2h7m-13-2h7m-28-1h7m-10 1h7m-12-7h7m-69 20h7m23-9h7m4 1h7m19 13h7m-4-10h7m7 9h7m-1-1h7m7-4h7m7-2h7m-1 2h7m-3 1h7m-3-1h7m-5 0h7m-6-5h7m-7 4h7m-5-1h7m-3 2h7m-6 3h7m-3 0h7m-2-10h7m-3 4h7m-3 0h7m1 0h7m-7 7h7m-4 1h7m-6-8h7m-7-1h7m0 5h7m-5-9h7m-6 11h7m-5-4h7m2 1h7m-2-3h7m4-3h7m0 8h7m-4-2h7m-6 2h7m-5 13h7m-35-1h7m-23 4h7m-8-10h7m-11 4h7m-7 5h7m-12-5h7m-10 9h7m-12-6h7m-8-5h7m-9 8h7m-12 1h7m-7-2h7m-12 2h7m-7-11h7m-10 11h7m-11 1h7m-25-8h7m-8 8h7m-12-5h7m-13-3h7m-13-2h7m-8 0h7m-12 7h7m-14-7h7m-8 3h7m-11 3h7m-22 3h7m-13-2h7m-24-6h7m-20 5h7m-18-8h7m-37 10h7m-94 6h7m132 8h7m4-4h7m2 4h7m9-6h7m-5 2h7m-4 7h7m3 1h7m5-11h7m-7 3h7m-1 0h7m2-4h7m-7 12h7m-5-11h7m-3 7h7m-6 1h7m-5-8h7m-2 4h7m-7-1h7m-6 1h7m-3-3h7m-1 1h7m-7-5h7m5 10h7m-3-5h7m-4 4h7m-5 5h7m-4-6h7m26 12h7m-23 7h7m-10-9h7m-17 0h7m-11 6h7m-21 1h7m-10-6h7m-12-1h7m-10 0h7m-19 10h7m-8-13h7m-13 8h7m-8-7h7m-14 7h7m-7-3h7m-12 4h7m-8-2h7m-7 3h7m-11 4h7m-14-7h7m-9 2h7m-7 5h7m-11-5h7m-12-3h7m-13 6h7m-13-9h7m-13-3h7m-7 11h7m-19 3h7m-13-3h7m-10 1h7m-48 0h7m-26-3h7m-129 5h7m144 12h7m12-4h7m3 2h7m-4 3h7m-2-3h7m3 3h7m-2 0h7m-6-1h7m-7-5h7m-4-4h7m-5 12h7m-6-8h7m-7-4h7m-5-1h7m-2 5h7m-6 8h7m-6-9h7m-5 0h7m-2 3h7m-5-7h7m11 13h7m-4-14h7m-7 13h7m-5-8h7m-7-2h7m-6-3h7m-2 14h7m-6 0h7m1-10h7m-6 3h7m-6 3h7m-6 1h7m-1 1h7m-6-12h7m1 5h7m10 7h7m17-1h7m41 13h7m-106-5h7m-10-4h7m-16 0h7m-15 10h7m-10-5h7m-9 8h7m-9-4h7m-10-8h7m-10 2h7m-7 3h7m-8 3h7m-9-8h7m-11 5h7m-10 6h7m-9-12h7m-8 12h7m-7 0h7m-8-12h7m-11 7h7m-10-3h7m-10 10h7m-7-2h7m-9-4h7m-11-8h7m-8 12h7m-10-4h7m-11-6h7m-13 5h7m-7 3h7m-13 0h7m-12-5h7m-8 6h7m-8-8h7m-8-3h7m-7 9h7m-8-8h7m-16 12h7m-8-9h7m-13 7h7m-8-8h7m-18 4h7m-19 3h7m-11 3h7m-16-1h7m-13-4h7m-260 9h7m238 12h7m-2-2h7m12-6h7m4 5h7m-7-5h7m-1 3h7m7-5h7m-5 2h7m-7 0h7m-6-2h7m2 9h7m-6-6h7m-7-4h7m-7 11h7m-6-12h7m-5 5h7m-6 5h7m-2 1h7m-6-9h7m-5 5h7m-2 3h7m-6-1h7m-4 1h7m2-2h7m-5-1h7m-5 1h7m-7-10h7m0 9h7m-6 2h7m1-11h7m-4 0h7m-5 5h7m-7 8h7m-6-7h7m-6-2h7m-7 4h7m-3 2h7m-6-8h7m-5-2h7m14 12h7m-5-11h7m-2 3h7m1-2h7m-25 26h7m-40-3h7m-7-10h7m-8 7h7m-9 2h7m-14 1h7m-7-3h7m-7 2h7m-8-6h7m-10 6h7m-8 3h7m-11-6h7m-11 0h7m-10-2h7m-9-1h7m-11 1h7m-8-2h7m-10 11h7m-7-5h7m-8-5h7m-7 6h7m-12-3h7m-10-1h7m-7 1h7m-7 4h7m-11-6h7m-11 4h7m-7-8h7m-13 5h7m-8 8h7m-8 1h7m-7-13h7m-9 7h7m-8-7h7m-11 8h7m-11 5h7m-14-8h7m-7 7h7m-8 0h7m-8 1h7m-9-4h7m-12-6h7m-8-1h7m-13-1h7m-10 1h7m-11 6h7m-11-8h7m-9 13h7m-19-1h7m-9 1h7m-62 3h7m2 8h7m7-7h7m4 10h7m-4-12h7m-4 13h7m10-1h7m-6-9h7m-3-3h7m-7 8h7m-6-3h7m2 2h7m-5-8h7m-4 3h7m-7 6h7m-6-7h7m-3-1h7m-6 3h7m-4-3h7m-6 12h7m-7-9h7m0 7h7m0 1h7m-5 0h7m-7 2h7m-4 0h7m-5-7h7m0 5h7m-6-11h7m-7 2h7m-4-2h7m-4-1h7m-7 7h7m-5 6h7m-6-1h7m1-2h7m3 3h7m-6-10h7m4 8h7m-4-8h7m-5 4h7m-5-4h7m-4 3h7m-7-6h7m-7 6h7m8-5h7m-6 11h7m19-4h7m-28 7h7m-14 8h7m-13 2h7m-8-9h7m-13 0h7m-20 9h7m-7-2h7m-8-8h7m-7 0h7m-14 4h7m-14 6h7m-8 3h7m-13-8h7m-8 3h7m-10-8h7m-10 6h7m-8 2h7m-7 6h7m-9 0h7m-8 0h7m-7-1h7m-8 0h7m-7-12h7m-8 5h7m-12 4h7m-10 2h7m-8-1h7m-7 3h7m-8-13h7m-9 1h7m-7 9h7m-7-10h7m-8 7h7m-8 4h7m-7-2h7m-9-6h7m-8 7h7m-7-9h7m-8 11h7m-12 0h7m-10-1h7m-8-9h7m-8 11h7m-7-2h7m-7 2h7m-8-8h7m-8 5h7m-7 3h7m-7-11h7m-7 0h7m-8 0h7m-7 2h7m-7-1h7m-8-3h7m-8 8h7m-12-3h7m-7 5h7m-7-4h7m-8 3h7m-8 1h7m-10 3h7m-9-2h7m-7-3h7m-9-5h7m-8 9h7m-7-9h7m-8-1h7m-10 11h7m-11-6h7m-8-8h7m-10 9h7m-12 4h7m-7-2h7m-9-11h7m-8 10h7m-8 1h7m-10 1h7m-8-3h7m-8 4h7m-13-7h7m-15 4h7m-8-5h7m-20 4h7m-44 10h7m40 2h7m-4 8h7m-2-9h7m-7 2h7m-6 3h7m-7-4h7m-4 6h7m-3-2h7m-2-9h7m-6 4h7m-4 1h7m-7 8h7m-6-6h7m-5-8h7m-6 6h7m-5 6h7m-7 1h7m-1-7h7m-6 2h7m-6-3h7m-7-5h7m-6 9h7m-7-7h7m-5 9h7m-7-1h7m-6 1h7m-7 1h7m-6-1h7m-7 3h7m-6-1h7m-4-9h7m-5 7h7m-7 1h7m-5-4h7m-5-5h7m-5 1h7m-6 5h7m-6 1h7m-2 0h7m-6-10h7m-6 2h7m-5 11h7m-4-8h7m-7 7h7m-5 0h7m-3-1h7m-3-11h7m-7 12h7m-4 0h7m-3 1h7m-4 0h7m-5-7h7m-6 0h7m-6 7h7m-5-11h7m-6-2h7m-7 3h7m-3 5h7m-4-5h7m-4 0h7m-2-3h7m-6 1h7m-6 7h7m0 1h7m-6-8h7m12 2h7m-33 12h7m-16 5h7m-7-4h7m-12-1h7m-10 4h7m-13-3h7m-11-1h7m-8 11h7m-7-8h7m-8-3h7m-10 2h7m-7 3h7m-8-5h7m-10 5h7m-10-1h7m-8-2h7m-9 11h7m-11-5h7m-8-5h7m-7 5h7m-13-3h7m-8-3h7m-9 2h7m-7 2h7m-9-1h7m-7-5h7m-8 12h7m-9 1h7m-9-5h7m-8-2h7m-8 5h7m-8 0h7m-11 3h7m-8 0h7m-7-7h7m-8-7h7m-7 1h7m-8 2h7m-7-3h7m-8 8h7m-7 6h7m-8-8h7m-7 8h7m-8-2h7m-8 1h7m-9-4h7m-9-7h7m-8-1h7m-8 11h7m-7-7h7m-9-2h7m-7 10h7m-8-7h7m-11 8h7m-10-5h7m-7 5h7m-8-7h7m-9 2h7m-8-6h7m-8-2h7m-8 4h7m-10 3h7m-8 3h7m-7-3h7m-11-4h7m-7 1h7m-7 5h7m-8-10h7m-8 0h7m-13 13h7m-9-8h7m-7 5h7m-8 4h7m-11-8h7m-7 7h7m-8-7h7m-13 2h7m-7-1h7m-8 7h7m-10-12h7m-59 21h7m5-3h7m13-3h7m-2 3h7m0 2h7m-6 7h7m-5-6h7m-7-5h7m-6 10h7m-2 1h7m-6-6h7m-5-3h7m-7 8h7m-5-7h7m-6 6h7m-6-7h7m-7 3h7m-3 2h7m-5-5h7m-5-5h7m-6 13h7m-7-12h7m-6 6h7m-5 7h7m-6-11h7m-6 1h7m-4 6h7m-6-10h7m-6 4h7m-6-3h7m-6 3h7m-6-4h7m-6 8h7m-6 0h7m-5-1h7m-6 2h7m-7 0h7m-5 4h7m-6-1h7m-7-3h7m-6-8h7m-6 0h7m-6 12h7m-6 0h7m-7-13h7m-7 9h7m-4 0h7m-6 3h7m-7-11h7m-7 2h7m-7 1h7m-5 0h7m-5 9h7m-7-2h7m-7-8h7m-5 4h7m-6 2h7m-7-7h7m-5-2h7m-5 9h7m-7-1h7m-6-2h7m-7 4h7m-6-3h7m-7-2h7m-7 3h7m-5-6h7m-6-2h7m-7 3h7m-6 7h7m-7-6h7m-6 1h7m-6 1h7m-5 3h7m-6 4h7m-7 1h7m-6-2h7m-7-9h7m-7-2h7m-2-1h7m-6 6h7m-6 3h7m-6-4h7m-1 2h7m-3 1h7m-1-2h7m-4 0h7m-3-6h7m1 5h7m-2-4h7m-5 9h7m-26 17h7m-9 1h7m-10-13h7m-15 9h7m-9-5h7m-11 4h7m-8-2h7m-8-3h7m-7-2h7m-8 9h7m-16-10h7m-10 4h7m-7 9h7m-7-9h7m-8 7h7m-8-8h7m-9 6h7m-8 1h7m-8-7h7m-8 6h7m-8 0h7m-8-2h7m-8 4h7m-7-10h7m-8 10h7m-7-7h7m-8 10h7m-7-10h7m-8-3h7m-9 9h7m-8-9h7m-9 0h7m-9 0h7m-7 9h7m-8-5h7m-8-2h7m-7 6h7m-9-5h7m-7 10h7m-7-14h7m-8 13h7m-7-1h7m-7-2h7m-8-10h7m-8 14h7m-10-4h7m-8 2h7m-8-1h7m-7-8h7m-8 7h7m-7-8h7m-8 8h7m-8-8h7m-8-2h7m-8 10h7m-8-5h7m-7 5h7m-7-3h7m-8-7h7m-7 7h7m-7 2h7m-8-4h7m-7 3h7m-7-3h7m-7 6h7m-8-2h7m-7-8h7m-8 2h7m-8-2h7m-8 9h7m-7-3h7m-8 5h7m-7-4h7m-8-2h7m-7-1h7m-10 8h7m-8-6h7m-9-7h7m-9 1h7m-8 8h7m-9-4h7m-9 2h7m-8-3h7m-9 0h7m-8 0h7m-9-1h7m-8-2h7m-9 12h7m-42-5h7m-10 5h7m12 16h7m7-13h7m7 12h7m-6-11h7m-7 8h7m-3 3h7m-6-10h7m-6 3h7m-7-6h7m-7 3h7m-5 9h7m-2 0h7m-6-2h7m-7-7h7m-7 0h7m-6 0h7m-5 5h7m-6-6h7m-4 1h7m-7-2h7m-6 12h7m-3-13h7m-6 6h7m-7 0h7m-6-5h7m-7 7h7m-5-7h7m-5 10h7m-6-8h7m-5 3h7m-7-4h7m-6-1h7m-7 8h7m-6-4h7m-6 8h7m-4-3h7m-5-3h7m-6-5h7m-6 6h7m-2 3h7m-7-8h7m-2-2h7m-3 1h7m-3 7h7m-4 4h7m-6-1h7m-7-6h7m-4-4h7m0-2h7m-5 12h7m-4-6h7m-28 12h7m-8-1h7m-12 7h7m-16 2h7m-8-2h7m-8-4h7m-9 9h7m-14-6h7m-10-8h7m-8 5h7m-11 2h7m-13 6h7m-12-9h7m-9 7h7m-12 3h7m-16-5h7m-16-7h7m-9-1h7m-11 0h7m-33 1h7m-13 10h7m-14-10h7m-58 12h7m95 4h7m-5-1h7m-3 0h7m-4 2h7m-7 2h7m-6-6h7m16 1h7m-3 4h7m5-4h7m-4 1h7m-3-2h7m257 0h7" stroke="#111" stroke-width="7" opacity="1.0" fill="none"/>
<path d="M254.6 332.7H317.4V396.1" fill="none" stroke="#111" stroke-width="1.0"/>
<path d="M254.6 332.2V396.1H317.9" fill="none" stroke="#111" stroke-width="1.25"/>
<path d="M254.6 396.1v3.0M254.6 396.1h-3.0M270.3 396.1v3.0M254.6 380.25h-3.0M286 396.1v3.0M254.6 364.4h-3.0M301.7 396.1v3.0M254.6 348.55h-3.0M317.4 396.1v3.0M254.6 332.7h-3.0M259.3 396.1v1.5M254.6 391.3h-1.5M262.1 396.1v1.5M254.6 388.5h-1.5M264.1 396.1v1.5M254.6 386.6h-1.5M265.6 396.1v1.5M254.6 385.0h-1.5M266.8 396.1v1.5M254.6 383.8h-1.5M267.9 396.1v1.5M254.6 382.7h-1.5M268.8 396.1v1.5M254.6 381.8h-1.5M269.6 396.1v1.5M254.6 381.0h-1.5M275.0 396.1v1.5M254.6 375.5h-1.5M277.8 396.1v1.5M254.6 372.7h-1.5M279.8 396.1v1.5M254.6 370.7h-1.5M281.3 396.1v1.5M254.6 369.2h-1.5M282.5 396.1v1.5M254.6 367.9h-1.5M283.6 396.1v1.5M254.6 366.9h-1.5M284.5 396.1v1.5M254.6 365.9h-1.5M285.3 396.1v1.5M254.6 365.1h-1.5M290.7 396.1v1.5M254.6 359.6h-1.5M293.5 396.1v1.5M254.6 356.8h-1.5M295.5 396.1v1.5M254.6 354.9h-1.5M297.0 396.1v1.5M254.6 353.3h-1.5M298.2 396.1v1.5M254.6 352.1h-1.5M299.3 396.1v1.5M254.6 351.0h-1.5M300.2 396.1v1.5M254.6 350.1h-1.5M301.0 396.1v1.5M254.6 349.3h-1.5M306.4 396.1v1.5M254.6 343.8h-1.5M309.2 396.1v1.5M254.6 341.0h-1.5M311.2 396.1v1.5M254.6 339.0h-1.5M312.7 396.1v1.5M254.6 337.5h-1.5M313.9 396.1v1.5M254.6 336.2h-1.5M315.0 396.1v1.5M254.6 335.2h-1.5M315.9 396.1v1.5M254.6 334.2h-1.5M316.7 396.1v1.5M254.6 333.4h-1.5" stroke="#111" stroke-width="0.9" fill="none"/>
<text x="249.74" y="407.9" font-size="7.1" fill="#222" stroke="#222" stroke-width="0.14" textLength="7.8" lengthAdjust="spacingAndGlyphs">10</text><text x="258.04" y="405.68" font-size="4" fill="#222" stroke="#222" stroke-width="0.08">0</text>
<text x="239.28" y="398.7" font-size="7.1" fill="#222" stroke="#222" stroke-width="0.14" textLength="7.8" lengthAdjust="spacingAndGlyphs">10</text><text x="247.58" y="396.48" font-size="4" fill="#222" stroke="#222" stroke-width="0.08">0</text>
<text x="265.44" y="407.9" font-size="7.1" fill="#222" stroke="#222" stroke-width="0.14" textLength="7.8" lengthAdjust="spacingAndGlyphs">10</text><text x="273.74" y="405.68" font-size="4" fill="#222" stroke="#222" stroke-width="0.08">1</text>
<text x="239.28" y="382.85" font-size="7.1" fill="#222" stroke="#222" stroke-width="0.14" textLength="7.8" lengthAdjust="spacingAndGlyphs">10</text><text x="247.58" y="380.63" font-size="4" fill="#222" stroke="#222" stroke-width="0.08">1</text>
<text x="281.14" y="407.9" font-size="7.1" fill="#222" stroke="#222" stroke-width="0.14" textLength="7.8" lengthAdjust="spacingAndGlyphs">10</text><text x="289.44" y="405.68" font-size="4" fill="#222" stroke="#222" stroke-width="0.08">2</text>
<text x="239.28" y="367" font-size="7.1" fill="#222" stroke="#222" stroke-width="0.14" textLength="7.8" lengthAdjust="spacingAndGlyphs">10</text><text x="247.58" y="364.78" font-size="4" fill="#222" stroke="#222" stroke-width="0.08">2</text>
<text x="296.84" y="407.9" font-size="7.1" fill="#222" stroke="#222" stroke-width="0.14" textLength="7.8" lengthAdjust="spacingAndGlyphs">10</text><text x="305.14" y="405.68" font-size="4" fill="#222" stroke="#222" stroke-width="0.08">3</text>
<text x="239.28" y="351.15" font-size="7.1" fill="#222" stroke="#222" stroke-width="0.14" textLength="7.8" lengthAdjust="spacingAndGlyphs">10</text><text x="247.58" y="348.93" font-size="4" fill="#222" stroke="#222" stroke-width="0.08">3</text>
<text x="312.54" y="407.9" font-size="7.1" fill="#222" stroke="#222" stroke-width="0.14" textLength="7.8" lengthAdjust="spacingAndGlyphs">10</text><text x="320.84" y="405.68" font-size="4" fill="#222" stroke="#222" stroke-width="0.08">4</text>
<text x="239.28" y="335.3" font-size="7.1" fill="#222" stroke="#222" stroke-width="0.14" textLength="7.8" lengthAdjust="spacingAndGlyphs">10</text><text x="247.58" y="333.08" font-size="4" fill="#222" stroke="#222" stroke-width="0.08">4</text>
<path transform="scale(.1)" d="M4063 3333h7m-5 0h7m0 0h7m-5 0h7m-3 0h7m-7 0h7m4 0h7m-6 0h7m-5 0h7m0 0h7m-7 0h7m-4 0h7m-6 0h7m-7 0h7m-5 0h7m1 0h7m-4 0h7m-4 0h7m-3 0h7m-5 0h7m-5 0h7m9 0h7m-5 0h7m-5 0h7m-7 0h7m-3 0h7m-1 0h7m-6 0h7m-7 0h7m1 0h7m-5 0h7m-4 0h7m-6 0h7m-1 0h7m-6 0h7m-5 0h7m-3 0h7m2 0h7m-5 0h7m-4 0h7m-223 41h7m146 30h7m35 4h7m-250 0h7m52 20h7m188 11h7m-16 8h7m-34-4h7m-347 21h7m212 0h7m67-10h7m43 5h7m33 3h7m-2-12h7m-9 29h7m-52 0h7m-14-7h7m-23-3h7m-11 10h7m-10-13h7m-24 11h7m-194 0h7m188 17h7m-5-5h7m12 5h7m18-5h7m8 3h7m-6 1h7m11 0h7m20-1h7m-3 17h7m-24-13h7m-21 1h7m-12 2h7m-18 4h7m-8 5h7m-21-1h7m-18-3h7m-13 1h7m-8 4h7m-15-1h7m-20-5h7m-29-7h7m-17 1h7m-18 11h7m-71-3h7m-210 13h7m271-6h7m14-1h7m5 5h7m4 7h7m-2-5h7m1-6h7m-7 9h7m-6-7h7m-4 4h7m-2-5h7m-6 11h7m3-4h7m-7 4h7m7-2h7m-7-11h7m-6 2h7m-3 10h7m14-13h7m-2 8h7m6 7h7m-11 0h7m-33 2h7m-15-1h7m-17 10h7m-7 3h7m-8-7h7m-7-3h7m-7-1h7m-9 11h7m-7-2h7m-8 0h7m-10-3h7m-9-3h7m-7 4h7m-8 1h7m-11-6h7m-8 7h7m-8 1h7m-11-6h7m-7 5h7m-9 1h7m-16-1h7m-8-9h7m-18 1h7m-8 5h7m-7 4h7m-7-5h7m-21-7h7m-11 5h7m-20-4h7m-47 6h7m-30 10h7m15 3h7m24 2h7m-6 1h7m4-9h7m-6 12h7m6-8h7m-2-2h7m-7 6h7m-4 5h7m-5-7h7m-6 3h7m-5-7h7m-1 10h7m-2-2h7m-2 0h7m0-2h7m-6 5h7m-7-6h7m-5-1h7m-5 3h7m-5-3h7m-1 6h7m-7-9h7m-2 1h7m-5 6h7m-6 4h7m-4-3h7m-1 2h7m-3-8h7m-6 8h7m2 0h7m-4-12h7m-4 4h7m-3 1h7m14 0h7m4 2h7m0 12h7m-39 5h7m-8-1h7m-9 3h7m-10 0h7m-18-11h7m-8 6h7m-8-4h7m-13 11h7m-8-3h7m-8-10h7m-9 1h7m-10 10h7m-9-1h7m-12-6h7m-12 3h7m-12 4h7m-8 2h7m-7-2h7m-7-6h7m-8-6h7m-8 2h7m-10 0h7m-8 1h7m-11 6h7m-7 3h7m-9-1h7m-10-4h7m-11 4h7m-8-9h7m-12 11h7m-7-4h7m-8-8h7m-10 13h7m-8-3h7m-8-5h7m-10 8h7m-10-13h7m-8 11h7m-8 2h7m-11-12h7m-8 3h7m-9-1h7m-7 6h7m-8 0h7m-7-6h7m-8-3h7m-12 6h7m-7-1h7m-8 8h7m-18-1h7m-8 0h7m-13-13h7m-7 13h7m-23-2h7m-9-8h7m-15 7h7m-8 3h7m-30-6h7m-50-3h7m-42 4h7m6 14h7m2 2h7m6 3h7m45-1h7m-3 1h7m1-9h7m30 5h7m-5 5h7m-7-12h7m-4 12h7m-4-6h7m-7-6h7m-7 13h7m-1-4h7m-3-7h7m-4 8h7m-6 1h7m-4-1h7m-6 3h7m-7-1h7m-5-10h7m-7 10h7m-5-13h7m-5 14h7m-5-5h7m-7 5h7m-6-1h7m-4-11h7m-5 12h7m-6-2h7m-3-8h7m-7 1h7m-6-3h7m-4-1h7m-6 4h7m-5 5h7m-4-4h7m-5-6h7m0 5h7m-6 7h7m-7-8h7m-1-1h7m-6 10h7m-4-1h7m-4-7h7m-6 7h7m-7-10h7m-5 0h7m-6 1h7m-3 4h7m-6 1h7m9 2h7m-7-3h7m0 3h7m21 12h7m-49-2h7m-11 6h7m-17-3h7m-11-5h7m-10 9h7m-8-9h7m-9 4h7m-7-6h7m-10 10h7m-9 2h7m-10-9h7m-8 10h7m-7-14h7m-8 2h7m-8 5h7m-9-5h7m-7 6h7m-11-2h7m-9 1h7m-9 0h7m-7 0h7m-10 5h7m-8-6h7m-9 8h7m-7 0h7m-9-14h7m-10 10h7m-7 1h7m-9-7h7m-8 5h7m-7 2h7m-8 1h7m-14-10h7m-9 6h7m-10 6h7m-13-7h7m-10 4h7m-16 1h7m-7-2h7m-8-10h7m-7 2h7m-10 0h7m-8 7h7m-10 2h7m-8 0h7m-7-3h7m-10 2h7m-9-2h7m-10-4h7m-12 4h7m-10-1h7m-18-7h7m-9 13h7m-7-13h7m-10 8h7m-14-5h7m-25 3h7m-17 1h7m-74 15h7m7 1h7m-5 1h7m-4-9h7m-5 0h7m41 5h7m-6 0h7m8 0h7m-5 8h7m12-2h7m-5-4h7m-6-5h7m-3 10h7m-3-10h7m-6 11h7m-3-4h7m-4 0h7m-2-8h7m-6 7h7m-4 5h7m4-1h7m-6-6h7m-4-6h7m-5 0h7m-3 3h7m-6 11h7m-6-8h7m-6 2h7m-6 1h7m-4 3h7m0-1h7m-7 3h7m-6-13h7m-7 11h7m-7-2h7m-5-4h7m-4 6h7m-7-4h7m-1 5h7m-4-3h7m-6-1h7m-5-1h7m-4-8h7m-1 9h7m-4 1h7m-7-8h7m-6 4h7m-7-5h7m-7 5h7m-6 4h7m-5-8h7m-6 12h7m-6-6h7m-4-6h7m-1 4h7m-6-5h7m-3 10h7m-5-10h7m-7 6h7m-2-5h7m-5 7h7m-7-6h7m3-3h7m7 5h7m-1 7h7m-19 5h7m-8-2h7m-14 6h7m-10 7h7m-7-6h7m-10 4h7m-8-8h7m-11 10h7m-14-7h7m-9-6h7m-11 7h7m-7 7h7m-8 0h7m-11-9h7m-8 6h7m-10-10h7m-8 8h7m-9 4h7m-7-9h7m-13 2h7m-8-4h7m-9 1h7m-7 4h7m-9 1h7m-8 4h7m-7-8h7m-9 9h7m-8-5h7m-8-8h7m-7 9h7m-9-3h7m-10 5h7m-10-7h7m-8-4h7m-7 11h7m-9-10h7m-8 3h7m-8-2h7m-8 11h7m-9-4h7m-9-6h7m-7 8h7m-9-3h7m-7-3h7m-10-4h7m-7 12h7m-12-2h7m-7-8h7m-8 5h7m-7 3h7m-11-10h7m-8 2h7m-8 1h7m-8 8h7m-8-4h7m-8-4h7m-11 9h7m-9 0h7m-7-2h7m-8-1h7m-7 0h7m-7-4h7m-9 6h7m-9-10h7m-11 3h7m-8 6h7m-10-10h7m-8 11h7m-9-7h7m-8 6h7m-23-6h7m-12 5h7m-21-2h7m-11 5h7m-7-7h7m-10-6h7m-12 5h7m-30 4h7m-13 0h7m-14-7h7m-35 2h7m-19 6h7m-40 11h7m11 1h7m14 6h7m8-8h7m-4 5h7m-3 2h7m3-5h7m-3-7h7m-5 8h7m3-6h7m10-2h7m-3 14h7m-5-7h7m3 4h7m-7 0h7m-6-5h7m-2 3h7m-3-6h7m-6-2h7m-5 10h7m-6-3h7m-5-6h7m-2 1h7m-1 6h7m-6 0h7m-7-8h7m1 13h7m-4-2h7m-7 1h7m-2-8h7m-6-3h7m-7-1h7m-7 7h7m-6-6h7m3 6h7m-7-3h7m-6 7h7m-6-7h7m-6 6h7m-7-11h7m-5 5h7m-5-3h7m-7-2h7m-7 10h7m-7-4h7m-6 1h7m-3-6h7m-6 1h7m-6 12h7m-6-10h7m-6 1h7m-7 3h7m-2 4h7m-7-5h7m-6-1h7m0-1h7m1 8h7m-7-10h7m-6 9h7m-6-10h7m-6 6h7m-6 0h7m-6 6h7m-5-9h7m-2-1h7m-4 7h7m-6 0h7m-6 3h7m-2-5h7m-5 4h7m-6-11h7m-5 4h7m-2 8h7m-4-1h7m-7-3h7m0 3h7m2-6h7m-5-3h7m-7 8h7m0 1h7m-5-2h7m-6 2h7m1-12h7m-1 13h7m14-1h7m-7 2h7m-60 6h7m-8-3h7m-9 6h7m-10 2h7m-17-8h7m-11 2h7m-9-2h7m-8 3h7m-9 5h7m-9-4h7m-13 3h7m-8-6h7m-8-3h7m-8 7h7m-16 2h7m-15 4h7m-8-6h7m-16 1h7m-9 2h7m-10-3h7m-10 5h7m-7-3h7m-7-4h7m-11 5h7m-8-4h7m-9-1h7m-10-4h7m-10 2h7m-9 5h7m-8-9h7m-8 7h7m-15 5h7m-8-5h7m-12 3h7m-9 3h7m-15-1h7m-12-12h7m-18 10h7m-7-1h7m-15-2h7m-11 3h7m-8-2h7m-7 1h7m-9-8h7m-11 0h7m-7 10h7m-10 2h7m-13-3h7m-8 3h7m-17-7h7m-17-1h7m-10 0h7m-7 8h7m-31 0h7m-7-9h7m-16-3h7m-10 4h7m-11 7h7m-10-10h7m-15 7h7m-43 3h7m-113-11h7m-6 25h7m118-2h7m-4-2h7m14 2h7m-5 3h7m-1-1h7m9-8h7m2-1h7m-5 12h7m-4-6h7m-4 0h7m3-4h7m-2 5h7m-2-4h7m-5-1h7m0 6h7m-5 4h7m-3-2h7m-7 0h7m1-4h7m-4-1h7m-4 2h7m-4-2h7m2 7h7m-3-14h7m-4 9h7m-7-9h7m-5 0h7m-5 2h7m-5 7h7m-6-9h7m-6 8h7m-4-4h7m-6-2h7m-6 8h7m-7 4h7m-4-3h7m-5 2h7m-6-13h7m-5 7h7m-7-2h7m-7-3h7m-2 5h7m-5-3h7m-4 3h7m-6-5h7m-3 10h7m-6-6h7m-7 3h7m0-6h7m-5 1h7m-5 4h7m0 3h7m-5-3h7m-5-7h7m-7-1h7m-4 2h7m-7 8h7m0-7h7m3 2h7m-7 4h7m-6-9h7m-3 1h7m-5 10h7m-6-6h7m-6 1h7m-6-6h7m-6 12h7m-7-9h7m0 8h7m-5-8h7m-5-2h7m-7 13h7m6 0h7m-1-7h7m-6 5h7m5-10h7m-6 1h7m-1 5h7m-20 10h7m-8 11h7m-18-8h7m-17-4h7m-12 12h7m-16-12h7m-14 3h7m-7 9h7m-9-6h7m-8 0h7m-8-6h7m-13 1h7m-7-2h7m-8 11h7m-8-7h7m-8 5h7m-7 3h7m-19-5h7m-11-1h7m-12-2h7m-9-1h7m-14 7h7m-8-8h7m-8 1h7m-8-2h7m-8 7h7m-13-2h7m-8 1h7m-10-4h7m-10 3h7m-7 7h7m-7-4h7m-10 1h7m-11-4h7m-9-3h7m-16 9h7m-10-4h7m-13-8h7m-9 4h7m-9 1h7m-7-3h7m-8-1h7m-10 0h7m-8 6h7m-10 4h7m-7-1h7m-12-3h7m-10-4h7m-8 6h7m-11 3h7m-8-13h7m-9 8h7m-10 0h7m-8-4h7m-7 4h7m-7 6h7m-11-10h7m-11 5h7m-9-4h7m-8 0h7m-12-3h7m-8 9h7m-18-1h7m-8-1h7m-9-1h7m-8-2h7m-8 2h7m-12 5h7m-10-3h7m-34 1h7m-16-3h7m-25-7h7m-16-1h7m-16 1h7m-185 22h7m178-5h7m13 8h7m-2-1h7m1 1h7m-1-1h7m-4-8h7m22-2h7m3 12h7m-2-11h7m-6 13h7m-3-11h7m-5 9h7m-6-12h7m-4 10h7m-5 1h7m-7-8h7m-4 1h7m-4-1h7m-6 5h7m-7 4h7m-2-3h7m-4-8h7m-7 4h7m-2 7h7m2-1h7m-7-3h7m-4-3h7m-5 4h7m-2 2h7m2-7h7m-7 0h7m-6-4h7m-5 3h7m5 5h7m-4 5h7m-5-9h7m-6 1h7m-7 5h7m-4-10h7m-5 5h7m-7 3h7m-6-7h7m-7 3h7m-1 1h7m-5 5h7m-5-1h7m-6 3h7m-6-12h7m-2 0h7m-6 3h7m23 2h7m-4-5h7m-5 6h7m2 1h7m-3 1h7m-2-6h7m-5 8h7m2 0h7m-20 19h7m-18-7h7m-15 5h7m-15 0h7m-29-12h7m-8 0h7m-16 4h7m-8 3h7m-7-5h7m-13 0h7m-9 10h7m-11 0h7m-8-1h7m-7-2h7m-14-6h7m-12 7h7m-7 2h7m-12-4h7m-9-3h7m-8 8h7m-13-9h7m-14 8h7m-8 2h7m-8-2h7m-12-2h7m-11-6h7m-7 4h7m-10 5h7m-12-3h7m-7-9h7m-10-1h7m-8 5h7m-8-4h7m-8 3h7m-8-4h7m-7 11h7m-9-8h7m-9-2h7m-17 13h7m-9-9h7m-7-4h7m-11-1h7m-23 5h7m-7 0h7m-9-1h7m-10-3h7m-13 8h7m-10 4h7m-13 0h7m-8-1h7m-10-5h7m-10 4h7m-8-7h7m-15 4h7m-9-5h7m-8 9h7m-9-9h7m-10-3h7m-21 7h7m-7 4h7m-7-3h7m-8 5h7m-42-4h7m-18-8h7m-20 3h7m-7 4h7m17 7h7m-4 13h7m-2-13h7m-2 7h7m0-6h7m-6 13h7m-5-4h7m-4-6h7m0 1h7m0-4h7m-7 0h7m-1 1h7m3 0h7m-6-1h7m0 12h7m-6-4h7m-6-9h7m-6 2h7m-3-2h7m-5 1h7m10 5h7m-4 3h7m-6-1h7m-1 0h7m13-3h7m-7 3h7m-7-5h7m-4 8h7m-3-2h7m8 0h7m-6 3h7m-3-5h7m-7 4h7m-6 1h7m-4-6h7m-6 5h7m-5-2h7m-4-1h7m-3-8h7m0 14h7m-6-6h7m2-2h7m-3-3h7m-6 6h7m-4-2h7m-6 2h7m4 4h7m-6-8h7m9 1h7m19 1h7m3-4h7m-6 11h7m4 4h7m-50 7h7m-11-9h7m-15 3h7m-8-3h7m-10 10h7m-13-4h7m-16-4h7m-13 6h7m-16-8h7m-24 7h7m-13 5h7m-9-11h7m-10-2h7m-8 0h7m-10 2h7m-7 7h7m-10-7h7m-8 7h7m-7-9h7m-12 6h7m-8 3h7m-21-2h7m-8-5h7m-9 3h7m-8 9h7m-8-11h7m-8 8h7m-9-10h7m-13 1h7m-8 11h7m-11-11h7m-8 0h7m-7 0h7m-9 6h7m-9-8h7m-15 14h7m-7-12h7m-10 6h7m-13-6h7m-8 1h7m-9-2h7m-8 0h7m-9 7h7m-9-5h7m-8 9h7m-12-11h7m-8 11h7m-13-8h7m-15 7h7m-7-3h7m-8 1h7m-10-1h7m-8 1h7m-9 3h7m-8-3h7m-8 0h7m-16 3h7m-30-2h7m-163 9h7m75 7h7m4 3h7m4-12h7m-2 10h7m-5-5h7m32-3h7m-6 3h7m3 1h7m-2 3h7m-3-5h7m-3 2h7m-5 0h7m-7-6h7m-1 6h7m-6 0h7m-6-5h7m-1 8h7m-3 2h7m-7 0h7m1-7h7m-6 5h7m0 1h7m-6 0h7m-6-10h7m-6 3h7m-4 4h7m-5-6h7m-6 5h7m-1 4h7m-7-12h7m-7 3h7m-2 9h7m-6-3h7m-2 3h7m-4-10h7m-4 7h7m-6-5h7m-1 0h7m-3 7h7m-7-3h7m-7 3h7m-6-4h7m0-2h7m-3 9h7m-6-7h7m-6-1h7m-5-1h7m-5 8h7m-6-12h7m3 2h7m-4 11h7m-3-11h7m-4 11h7m-5-3h7m-3-1h7m-5 0h7m-1-4h7m-4 1h7m20-2h7m18-2h7m30 0h7m6 11h7m-44 7h7m-15 6h7m-10-5h7m-12-7h7m-42 5h7m-10-3h7m-23-1h7m-10 6h7m-18-7h7m-12 10h7m-8 3h7m-21-4h7m-14 4h7m-10-3h7m-18 0h7m-8 3h7m-10-4h7m-8-5h7m-13 9h7m-10-3h7m-16-1h7m-9-1h7m-7-5h7m-13-2h7m-14 9h7m-14 3h7m-16 1h7m-12-5h7m-11 5h7m-10-11h7m-8 4h7m-7-7h7m-8 6h7m-10 8h7m-19-2h7m-12-1h7m-16-5h7m-11 6h7m-14 1h7m-8-8h7m-31-1h7m-9 4h7m-19 3h7m-29 4h7m16 8h7m18-7h7m2 3h7m2 5h7m-3 5h7m-3-5h7m2-1h7m-7-2h7m0 1h7m-1 5h7m-7-6h7m-3 0h7m0 1h7m-1 2h7m-5 3h7m-3-8h7m3 3h7m-6-3h7m-2 3h7m-4 1h7m0 3h7m-6 1h7m-3 2h7m-7-12h7m-4 2h7m-5 4h7m1-4h7m-7 8h7m-5-10h7m-4 7h7m-6-3h7m-3 6h7m-5-8h7m-6-3h7m-6 7h7m5-7h7m-5 12h7m-6 0h7m-2-7h7m-4-6h7m7 6h7m-2-6h7m-4 3h7m-3 10h7m27-5h7m-3-4h7m2 7h7m21-9h7m28-2h7m-88 22h7m-18 1h7m-9-1h7m-20-5h7m-9 9h7m-8 2h7m-11-3h7m-18-5h7m-12 6h7m-11 1h7m-22-11h7m-8-1h7m-14 3h7m-8 4h7m-13 0h7m-9-3h7m-7-3h7m-9 7h7m-23 1h7m-9 5h7m-10-9h7m-7 0h7m-9 9h7m-8-8h7m-11-4h7m-13 6h7m-10 5h7m-9-5h7m-9 5h7m-9-7h7m-9-1h7m-9 0h7m-10-2h7m-7 7h7m-8-7h7m-14 10h7m-16-9h7m-8-1h7m-15-1h7m-7 11h7m-17-7h7m-13 4h7m-8-2h7m-14 3h7m-8-10h7m-12 2h7m-15 2h7m-7 9h7m-14-2h7m-7-6h7m-31 4h7m-40 13h7m25-6h7m9 3h7m2-3h7m3 2h7m-6 5h7m5-8h7m2 13h7m-4-13h7m-5-1h7m-3 0h7m-3 11h7m-7 2h7m2-2h7m-6-4h7m-1 0h7m-6-5h7m-6 2h7m-2 10h7m6-8h7m-6 7h7m-6-8h7m-5 2h7m-4 6h7m-5-2h7m-5 0h7m-4 2h7m-1-10h7m-5-2h7m-6 6h7m-5-5h7m-7 2h7m-6 0h7m1 6h7m13 0h7m-3-10h7m-7 0h7m-7 9h7m-2 3h7m4-9h7m1 4h7m-6 0h7m-1 2h7m52 5h7m-4 12h7m-33-4h7m-32 7h7m-31-2h7m-11-3h7m-11 0h7m-9-5h7m-32 4h7m-15-5h7m-11 0h7m-17 11h7m-12-14h7m-7 5h7m-12 3h7m-8-2h7m-9-5h7m-22 11h7m-8 2h7m-13-7h7m-9-3h7m-8 7h7m-13-6h7m-7 4h7m-11 1h7m-7 3h7m-15-12h7m-7 5h7m-16 3h7m-11 1h7m-12-7h7m-15 2h7m-10 5h7m-28-2h7m-14-7h7m-19 2h7m-8 3h7m-10-6h7m-42 10h7m-71 11h7m74-6h7m-6 3h7m52 0h7m7-1h7m2 10h7m-5 2h7m7-5h7m-5 2h7m-5-2h7m-7 5h7m-6-6h7m-5 0h7m-1-4h7m-4-2h7m15 1h7m-2 1h7m-7-1h7m-6 8h7m-5-3h7m-4-8h7m-5 11h7m-2-10h7m-5 10h7m-3-10h7m15 13h7m-5-1h7m-4-13h7m31 2h7m3 2h7m-2 5h7m113 9h7m-140 0h7m-51 0h7m-12 3h7m-27-3h7m-11 1h7m-9 7h7m-12-7h7m-12 4h7m-7 6h7m-8-4h7m-9-8h7m-17 2h7m-9 4h7m-10-8h7m-13 10h7m-7-5h7m-14-5h7m-14 12h7m-10-5h7m-10 2h7m-7 2h7m-20-1h7m-9-3h7m-9-5h7m-19 9h7m-8-10h7m-8 8h7m-22-8h7m-13 1h7m-9 11h7m-30 1h7m-20-11h7m-23 10h7m7 13h7m9-4h7m17 3h7m4-3h7m-5 4h7m15-10h7m-4 11h7m-2-4h7m-2-6h7m10 0h7m-5 8h7m-1 2h7m-4-8h7m-6-2h7m2-1h7m-3-1h7m6 11h7m32-6h7m9 8h7m111 4h7m-60 0h7m-98 10h7m-10-6h7m-8-2h7m-15 4h7m-8-8h7m-45 7h7m-9 3h7m-25 0h7m-10-7h7m-35 7h7m-37-6h7m35 23h7m22-3h7m6-3h7m-7-6h7m5 14h7m14 0h7m16-12h7m31 8h7m-92 14h7m-19 2h7m-11-7h7m-15 2h7m-10-4h7m-22-1h7m-18 5h7m-24 2h7m-21 3h7m-45-11h7m126 16h7m30 10h7m-102 5h7m-18-1h7" stroke="#111" stroke-width="7" opacity="1.0" fill="none"/>
<path d="M362.3 332.7H425.1V396.1" fill="none" stroke="#111" stroke-width="1.0"/>
<path d="M362.3 332.2V396.1H425.6" fill="none" stroke="#111" stroke-width="1.25"/>
<path d="M362.3 396.1v3.0M362.3 396.1h-3.0M378 396.1v3.0M362.3 380.25h-3.0M393.7 396.1v3.0M362.3 364.4h-3.0M409.4 396.1v3.0M362.3 348.55h-3.0M425.1 396.1v3.0M362.3 332.7h-3.0M367.0 396.1v1.5M362.3 391.3h-1.5M369.8 396.1v1.5M362.3 388.5h-1.5M371.8 396.1v1.5M362.3 386.6h-1.5M373.3 396.1v1.5M362.3 385.0h-1.5M374.5 396.1v1.5M362.3 383.8h-1.5M375.6 396.1v1.5M362.3 382.7h-1.5M376.5 396.1v1.5M362.3 381.8h-1.5M377.3 396.1v1.5M362.3 381.0h-1.5M382.7 396.1v1.5M362.3 375.5h-1.5M385.5 396.1v1.5M362.3 372.7h-1.5M387.5 396.1v1.5M362.3 370.7h-1.5M389.0 396.1v1.5M362.3 369.2h-1.5M390.2 396.1v1.5M362.3 367.9h-1.5M391.3 396.1v1.5M362.3 366.9h-1.5M392.2 396.1v1.5M362.3 365.9h-1.5M393.0 396.1v1.5M362.3 365.1h-1.5M398.4 396.1v1.5M362.3 359.6h-1.5M401.2 396.1v1.5M362.3 356.8h-1.5M403.2 396.1v1.5M362.3 354.9h-1.5M404.7 396.1v1.5M362.3 353.3h-1.5M405.9 396.1v1.5M362.3 352.1h-1.5M407.0 396.1v1.5M362.3 351.0h-1.5M407.9 396.1v1.5M362.3 350.1h-1.5M408.7 396.1v1.5M362.3 349.3h-1.5M414.1 396.1v1.5M362.3 343.8h-1.5M416.9 396.1v1.5M362.3 341.0h-1.5M418.9 396.1v1.5M362.3 339.0h-1.5M420.4 396.1v1.5M362.3 337.5h-1.5M421.6 396.1v1.5M362.3 336.2h-1.5M422.7 396.1v1.5M362.3 335.2h-1.5M423.6 396.1v1.5M362.3 334.2h-1.5M424.4 396.1v1.5M362.3 333.4h-1.5" stroke="#111" stroke-width="0.9" fill="none"/>
<text x="357.44" y="407.9" font-size="7.1" fill="#222" stroke="#222" stroke-width="0.14" textLength="7.8" lengthAdjust="spacingAndGlyphs">10</text><text x="365.74" y="405.68" font-size="4" fill="#222" stroke="#222" stroke-width="0.08">0</text>
<text x="346.98" y="398.7" font-size="7.1" fill="#222" stroke="#222" stroke-width="0.14" textLength="7.8" lengthAdjust="spacingAndGlyphs">10</text><text x="355.28" y="396.48" font-size="4" fill="#222" stroke="#222" stroke-width="0.08">0</text>
<text x="373.14" y="407.9" font-size="7.1" fill="#222" stroke="#222" stroke-width="0.14" textLength="7.8" lengthAdjust="spacingAndGlyphs">10</text><text x="381.44" y="405.68" font-size="4" fill="#222" stroke="#222" stroke-width="0.08">1</text>
<text x="346.98" y="382.85" font-size="7.1" fill="#222" stroke="#222" stroke-width="0.14" textLength="7.8" lengthAdjust="spacingAndGlyphs">10</text><text x="355.28" y="380.63" font-size="4" fill="#222" stroke="#222" stroke-width="0.08">1</text>
<text x="388.84" y="407.9" font-size="7.1" fill="#222" stroke="#222" stroke-width="0.14" textLength="7.8" lengthAdjust="spacingAndGlyphs">10</text><text x="397.14" y="405.68" font-size="4" fill="#222" stroke="#222" stroke-width="0.08">2</text>
<text x="346.98" y="367" font-size="7.1" fill="#222" stroke="#222" stroke-width="0.14" textLength="7.8" lengthAdjust="spacingAndGlyphs">10</text><text x="355.28" y="364.78" font-size="4" fill="#222" stroke="#222" stroke-width="0.08">2</text>
<text x="404.54" y="407.9" font-size="7.1" fill="#222" stroke="#222" stroke-width="0.14" textLength="7.8" lengthAdjust="spacingAndGlyphs">10</text><text x="412.84" y="405.68" font-size="4" fill="#222" stroke="#222" stroke-width="0.08">3</text>
<text x="346.98" y="351.15" font-size="7.1" fill="#222" stroke="#222" stroke-width="0.14" textLength="7.8" lengthAdjust="spacingAndGlyphs">10</text><text x="355.28" y="348.93" font-size="4" fill="#222" stroke="#222" stroke-width="0.08">3</text>
<text x="420.24" y="407.9" font-size="7.1" fill="#222" stroke="#222" stroke-width="0.14" textLength="7.8" lengthAdjust="spacingAndGlyphs">10</text><text x="428.54" y="405.68" font-size="4" fill="#222" stroke="#222" stroke-width="0.08">4</text>
<text x="346.98" y="335.3" font-size="7.1" fill="#222" stroke="#222" stroke-width="0.14" textLength="7.8" lengthAdjust="spacingAndGlyphs">10</text><text x="355.28" y="333.08" font-size="4" fill="#222" stroke="#222" stroke-width="0.08">4</text>
<text x="21.4" y="364.8" font-size="8.2" text-anchor="middle" fill="#1a1a1a" textLength="10.8" lengthAdjust="spacingAndGlyphs" transform="rotate(-90 21.4 364.8)" stroke="#1a1a1a" stroke-width="0.3">SSc</text>
<text x="72.6" y="416.6" font-size="8.2" text-anchor="middle" fill="#1a1a1a" textLength="10.8" lengthAdjust="spacingAndGlyphs" stroke="#1a1a1a" stroke-width="0.3">FSc</text>
<text x="127.6" y="364.8" font-size="8.2" text-anchor="middle" fill="#1a1a1a" textLength="14.6" lengthAdjust="spacingAndGlyphs" transform="rotate(-90 127.6 364.8)" stroke="#1a1a1a" stroke-width="0.3">CD14</text>
<text x="235.1" y="364.8" font-size="8.2" text-anchor="middle" fill="#1a1a1a" textLength="17.8" lengthAdjust="spacingAndGlyphs" transform="rotate(-90 235.1 364.8)" stroke="#1a1a1a" stroke-width="0.3">CD11C</text>
<text x="344.5" y="364.8" font-size="8.2" text-anchor="middle" fill="#1a1a1a" textLength="18.6" lengthAdjust="spacingAndGlyphs" transform="rotate(-90 344.5 364.8)" stroke="#1a1a1a" stroke-width="0.3">CD235</text>
<path d="M136.3 418.6H268.8M300 418.6H428" stroke="#333" stroke-width="0.9"/>
<text x="285.8" y="421.6" font-size="8.2" text-anchor="middle" fill="#1a1a1a" textLength="18.4" lengthAdjust="spacingAndGlyphs" stroke="#1a1a1a" stroke-width="0.3">CD11b</text>
<path transform="scale(.1)" d="M803 4624h7m50 3h7m20 0h7m77 5h7m-7 0h7m33 10h7m-20 5h7m-30 0h7m-41-11h7m-40 0h7m-52 7h7m-47-6h7m-11 7h7m-53 1h7m-12-7h7m-41 3h7m-122 2h7m56 20h7m-2-8h7m-6 3h7m-6 3h7m-7 2h7m11-1h7m-7 2h7m6 0h7m-6-7h7m-4-5h7m10 8h7m10-2h7m41 0h7m-5 1h7m11 3h7m19 2h7m-4-5h7m17-8h7m8 4h7m6-1h7m20 7h7m-5-2h7m-7-2h7m-7 6h7m-5-1h7m6-1h7m-4 1h7m10-12h7m6 5h7m3-4h7m1 3h7m-5-3h7m19-1h7m-27 26h7m-21 3h7m-12-4h7m-20 0h7m-14 2h7m-12-9h7m-13 1h7m-17 9h7m-12-6h7m-8 7h7m-7-14h7m-9 11h7m-9-6h7m-10 3h7m-12 6h7m-17-2h7m-8-5h7m-11 0h7m-17-2h7m-8-5h7m-10 11h7m-23-10h7m-7 1h7m-9 12h7m-17-14h7m-17 7h7m-26 3h7m-11-2h7m-8 2h7m-31 4h7m-34-7h7m-17-6h7m-7-1h7m-15 5h7m-7 9h7m-10 0h7m-16-9h7m-9 7h7m-7-8h7m-10-3h7m-10 5h7m-11 6h7m-7-3h7m-10 3h7m-9-11h7m-8 11h7m-7-7h7m-14-2h7m-11 6h7m-11 2h7m-12 0h7m-8-10h7m-22 5h7m-13 6h7m-7 0h7m-8-1h7m-8 3h7m-12-5h7m-9 0h7m-9 3h7m-8 2h7m-9-4h7m-12-6h7m-17 9h7m-12 0h7m-15 1h7m-7-9h7m-11-1h7m-8 7h7m-9 2h7m-14-9h7m-7-3h7m-9 13h7m-15 0h7m-7-1h7m-78 15h7m26-2h7m-7 1h7m0 0h7m-3-3h7m-5-3h7m-1 0h7m-4-2h7m-6 0h7m7 8h7m-6-3h7m-7-2h7m-5 3h7m-7-5h7m-7 8h7m-6-10h7m-7 8h7m-7-8h7m-7 7h7m-6 4h7m-7 0h7m-6-3h7m-7 0h7m-7-10h7m-4 12h7m-5 1h7m-5 0h7m-6-4h7m-7 0h7m-6 3h7m-7-5h7m-6 0h7m-7 0h7m-6-6h7m-6 12h7m-7-1h7m-6-4h7m-6 2h7m-7-1h7m-7-2h7m-6-4h7m-6-4h7m-6 12h7m-7-5h7m-7 7h7m-5-4h7m-7-5h7m-6 9h7m-7-9h7m-6 7h7m-7 1h7m-5-4h7m-7 3h7m-7 2h7m-6-7h7m-7 2h7m-7 3h7m-7 1h7m-6-11h7m-7 11h7m-6-8h7m-5-5h7m-7 3h7m-7 9h7m-6-5h7m-7-3h7m-7 9h7m-7-2h7m-5-4h7m-7 3h7m-6-1h7m-7 5h7m-6 0h7m-7-5h7m-5 2h7m-6-6h7m-7 1h7m-6-4h7m-5 0h7m-7 1h7m-7-2h7m-6 8h7m-6 3h7m-7 0h7m-7 1h7m-6-5h7m-5 6h7m-7-7h7m-6-1h7m-7 8h7m-7-1h7m-7-9h7m-5 3h7m-6-5h7m-6 2h7m-7-4h7m-7 8h7m-6-1h7m-6 2h7m-7 2h7m-7-6h7m-6 3h7m-7-3h7m-7-1h7m-7 3h7m-6-3h7m-6 5h7m-5-3h7m-7 2h7m-6 1h7m-7-9h7m-6 4h7m-7 6h7m-5-7h7m-7 6h7m-7-1h7m-6-1h7m-7 2h7m-7-4h7m-7 1h7m-7 4h7m-6 0h7m-7 3h7m-7 0h7m-5-5h7m-7-5h7m-7 3h7m-7 0h7m-6 8h7m-7-13h7m-6 1h7m-5 1h7m-7 6h7m-6-1h7m-6 2h7m-4-10h7m-7 14h7m-5-9h7m-7 7h7m-6 1h7m-7-4h7m-5-7h7m-5 2h7m-7 9h7m-6-8h7m-5 4h7m-4 1h7m-6-5h7m-7 3h7m-6-5h7m-6 3h7m-7 4h7m-5 2h7m-6 2h7m-6-12h7m-7 0h7m-6 8h7m-2-8h7m-4-2h7m1 9h7m0 1h7m-7-6h7m5 6h7m0 0h7m0-7h7m-5 7h7m10 3h7m1-4h7m-2-3h7m-5 4h7m-3-5h7m3-3h7m-6 2h7m-5-3h7m-2 10h7m-6-11h7m3 10h7m-2-7h7m-5 4h7m1-6h7m-6 1h7m-6 6h7m-4 0h7m-4-7h7m0 6h7m-6 6h7m-6-6h7m-7-3h7m1 7h7m-7-6h7m-4-1h7m-4 4h7m-5-4h7m9 0h7m-3 0h7m0-4h7m-5 3h7m22 11h7m-7-4h7m11-4h7m8 4h7m8-9h7m-43 22h7m-17-8h7m-39 2h7m-24 9h7m-36-5h7m-19 0h7m-12-3h7m-14 6h7m-9-7h7m-8 4h7m-7 4h7m-10-10h7m-11 7h7m-8-3h7m-22 7h7m-11-6h7m-11 1h7m-22 0h7m-13 4h7m-33-6h7m-14 4h7m-17-2h7m-8-6h7m-14 2h7m-9 12h7m-10-10h7m-11 10h7m-11-13h7m-9 1h7m-12 9h7m-10 2h7m-7-5h7m-7 4h7m-7-8h7m-9 1h7m-8 7h7m-8-6h7m-7 3h7m-7 1h7m-7-3h7m-8 4h7m-8-5h7m-10 8h7m-7-8h7m-7 5h7m-7-11h7m-9 8h7m-7-1h7m-8 4h7m-7-1h7m-7-4h7m-8-6h7m-7 14h7m-7-8h7m-9 3h7m-7-9h7m-8 4h7m-7 3h7m-7 7h7m-9-9h7m-8-4h7m-9 1h7m-8 0h7m-7 8h7m-7 4h7m-8-5h7m-8 4h7m-7 1h7m-7-14h7m-8 10h7m-7-4h7m-7 8h7m-7-13h7m-8-1h7m-8 3h7m-7 3h7m-7 5h7m-7-3h7m-8 1h7m-7 2h7m-7 3h7m-7-11h7m-7 6h7m-8-6h7m-7 10h7m-8-13h7m-8 10h7m-7 0h7m-7-3h7m-7 4h7m-8-2h7m-7-8h7m-7 4h7m-7 6h7m-8 1h7m-7 1h7m-8-1h7m-8-4h7m-7 1h7m-8-1h7m-7-6h7m-8 5h7m-8-4h7m-7 6h7m-7-9h7m-8 3h7m-7 11h7m-7-10h7m-7 0h7m-8 2h7m-7 3h7m-8 5h7m-7-4h7m-7-6h7m-7 4h7m-8 2h7m-8-5h7m-7 8h7m-7 1h7m-8-5h7m-7-5h7m-7 0h7m-9 3h7m-7 5h7m-7-10h7m-8 9h7m-7 1h7m-7-7h7m-8-2h7m-8 6h7m-7-6h7m-8 11h7m-7-3h7m-7-9h7m-7 10h7m-7-11h7m-7 5h7m-7 0h7m-8 1h7m-7 0h7m-8-3h7m-7-3h7m-7 5h7m-8 2h7m-7-6h7m-7 12h7m-7-1h7m-9-5h7m-7-1h7m-8 4h7m-7 3h7m-7-5h7m-7-8h7m-7 11h7m-8 1h7m-7-4h7m-7 3h7m-7 2h7m-8-6h7m-8 2h7m-7-2h7m-7 6h7m-8-11h7m-8 11h7m-7-6h7m-7-5h7m-7 10h7m-7-1h7m-9-1h7m-7-7h7m-7 4h7m-7 3h7m-7-5h7m-7 5h7m-8 1h7m-7 1h7m-7 1h7m-8-5h7m-7 0h7m-8 0h7m-7-5h7m-7 1h7m-8 9h7m-7-8h7m-9 7h7m-7-10h7m-7 8h7m-7 3h7m-7 0h7m-7-11h7m-8 10h7m-7-11h7m-7 10h7m-7-1h7m-8-3h7m-7-5h7m-7 11h7m-7-7h7m-8 5h7m-8-6h7m-8 7h7m-7 0h7m-7-2h7m-7 0h7m-8 1h7m-7 0h7m-7-8h7m-7 7h7m-8-2h7m-7-1h7m-7 5h7m-8-1h7m-8-9h7m-7-3h7m-7 7h7m-8 3h7m-7 3h7m-8-5h7m-7 0h7m-7-2h7m-7 0h7m-7 5h7m-9-5h7m-7 6h7m-7-8h7m-7 5h7m-8 5h7m-8-5h7m-7-2h7m-7-1h7m-9-5h7m-7 10h7m-9 2h7m-10-12h7m-7 12h7m-8-2h7m-9-6h7m-7 9h7m-7-8h7m-8 6h7m-8-1h7m-8 2h7m-9-9h7m-7 6h7m-7-3h7m-7 4h7m-7-8h7m-9 4h7m-7-1h7m-7-1h7m-9-5h7m-7 7h7m-8-7h7m-8 12h7m-8 1h7m-8-6h7m-8-2h7m-8 3h7m-7 4h7m-7-2h7m-11-7h7m-8 7h7m-9 4h7m-19-11h7m-16 11h7m-22-5h7m-46 19h7m11-4h7m10-1h7m-5-1h7m-4-4h7m-4 7h7m-6-10h7m-5 2h7m-7 8h7m-5-7h7m-6 2h7m-5-3h7m-6 2h7m-6 5h7m-6-4h7m-5 0h7m-6 7h7m-7 2h7m-4-11h7m-7 11h7m-6-1h7m-7-3h7m-6 2h7m-7 0h7m-6 0h7m-6-2h7m-6 3h7m-6-13h7m-6 0h7m-6 10h7m-7 3h7m-7-5h7m-7-5h7m-6 9h7m-7-2h7m-6-4h7m-7 5h7m-7 1h7m-7-4h7m-6-1h7m-7-2h7m-7 1h7m-6 7h7m-6 0h7m-7-2h7m-7-3h7m-6 1h7m-7-4h7m-6 1h7m-7 5h7m-6-2h7m-6 3h7m-6-4h7m-6 0h7m-7-3h7m-7 8h7m-7-6h7m-6 2h7m-7 0h7m-7 1h7m-7-4h7m-7 5h7m-6-3h7m-7 2h7m-7-4h7m-7 6h7m-6-12h7m-7 10h7m-7-5h7m-7 3h7m-7 2h7m-6-9h7m-5 2h7m-7 7h7m-6 2h7m-7 0h7m-7 0h7m-7-1h7m-7-7h7m-7 9h7m-7-1h7m-7 2h7m-6-4h7m-7-1h7m-6-2h7m-7 1h7m-6 0h7m-7 4h7m-6-3h7m-6-5h7m-7 10h7m-7-2h7m-7-10h7m-6 2h7m-7 5h7m-7-6h7m-7 4h7m-6-5h7m-6 10h7m-7 0h7m-7-8h7m-7 6h7m-6-7h7m-7-2h7m-6 6h7m-7-2h7m-7 7h7m-6-8h7m-7 1h7m-7-4h7m-7 1h7m-7 7h7m-6 0h7m-7 3h7m-6 0h7m-7-9h7m-6 9h7m-7-5h7m-7-4h7m-7 10h7m-7-7h7m-6 0h7m-7 7h7m-6-4h7m-6-2h7m-7 7h7m-7-7h7m-7-4h7m-6 4h7m-7-1h7m-7 4h7m-7-4h7m-7 5h7m-7 3h7m-7-12h7m-7 4h7m-7-5h7m-6 5h7m-7-2h7m-7-2h7m-7 3h7m-7-1h7m-6 1h7m-7 7h7m-7-3h7m-6 5h7m-7-11h7m-7 9h7m-7-10h7m-6 3h7m-6 7h7m-7-7h7m-6 6h7m-6-8h7m-7-2h7m-7 3h7m-7 3h7m-7-1h7m-7 1h7m-7 0h7m-7 5h7m-6 2h7m-7-12h7m-6 0h7m-7 3h7m-7 1h7m-6-1h7m-7 3h7m-7 3h7m-6-1h7m-7 0h7m-6-10h7m-7 14h7m-7-12h7m-7 7h7m-7 1h7m-6 2h7m-7-2h7m-7 4h7m-6-5h7m-7-2h7m-7 6h7m-7 1h7m-7-10h7m-7 4h7m-6-7h7m-7 2h7m-7 0h7m-7 9h7m-6 1h7m-7-5h7m-7-5h7m-7 11h7m-7-7h7m-7-2h7m-7-4h7m-6 4h7m-7-5h7m-6 9h7m-7-6h7m-7 2h7m-7 8h7m-7-1h7m-6-7h7m-7 7h7m-7-2h7m-7 3h7m-7-9h7m-7 2h7m-6-4h7m-6 3h7m-7-4h7m-6 11h7m-7-1h7m-7-7h7m-6 10h7m-7-11h7m-7 1h7m-7 2h7m-7 2h7m-7-5h7m-7 8h7m-6 3h7m-7-8h7m-7-3h7m-6 3h7m-7-3h7m-7 0h7m-7 10h7m-7-7h7m-6 2h7m-7 3h7m-7-1h7m-7-5h7m-7 7h7m-7-12h7m-7 11h7m-7 0h7m-6-3h7m-7 3h7m-7-11h7m-7 14h7m-6-14h7m-7 9h7m-6-4h7m-7 6h7m-7-3h7m-7 2h7m-7-3h7m-6 3h7m-7-4h7m-7-3h7m-7 6h7m-7-4h7m-5-4h7m-7 1h7m-7 0h7m-7 7h7m-7 2h7m-6-7h7m-7 8h7m-7-12h7m-7 8h7m-7 5h7m-6-8h7m-7 6h7m-7-10h7m-7 9h7m-6 2h7m-7-8h7m-7 0h7m-7 1h7m-7-3h7m-6 2h7m-7 4h7m-7 6h7m-7-3h7m-7-9h7m-6 10h7m-7-10h7m-7 3h7m-7 3h7m-7 2h7m-7-7h7m-7 7h7m-6-7h7m-7 7h7m-7-5h7m-6-4h7m-6 9h7m-6 2h7m-7-9h7m-7 10h7m-6 1h7m-7-5h7m-6-8h7m-7 2h7m-7 6h7m-6 3h7m-7-6h7m-7 2h7m-7-2h7m-6 4h7m-7-1h7m-7 1h7m-6 4h7m-7-6h7m-7-7h7m-6 7h7m-7 1h7m-7-8h7m-7 0h7m-6 8h7m-7-8h7m-7 9h7m-6-7h7m-7 3h7m-6 8h7m-7-1h7m-6 0h7m-7-9h7m-7 1h7m-7-4h7m-7 10h7m-6-4h7m-7 3h7m-7-7h7m-6 10h7m-7-1h7m-6-3h7m-7 4h7m-6-7h7m-7 4h7m-6-10h7m-7 11h7m-7-3h7m-7-5h7m-7 8h7m-6-2h7m-6-6h7m-7 6h7m-7-5h7m-7-3h7m-6-1h7m-7 1h7m-7-1h7m-7 5h7m-7 1h7m-7-2h7m-6 8h7m-7 1h7m-7-10h7m-7 7h7m-6-2h7m-7 6h7m-6-1h7m-6-13h7m-7 14h7m-7-5h7m-5-5h7m-7 3h7m-7 0h7m-5-3h7m-7 0h7m-7-1h7m-7 4h7m-6-7h7m-6 3h7m-7-3h7m-4 13h7m-7-5h7m-7-1h7m-6 4h7m-7-11h7m-7 10h7m-6-3h7m-7-7h7m-4 9h7m-6-6h7m-7 3h7m-7-3h7m-6-3h7m-7 2h7m-4 8h7m-7 0h7m-7-9h7m-6 11h7m-5-6h7m-7 7h7m-6-12h7m-5 2h7m-6-2h7m-4 12h7m-6-9h7m-7-1h7m-6 7h7m-5-10h7m-5 0h7m-6 6h7m-5-4h7m-5-1h7m-6 2h7m1 2h7m28 4h7m4-5h7m-1 7h7m10 3h7m8-7h7m22-6h7m9-1h7m47 4h7m17 0h7m-29 23h7m-15-6h7m-39 3h7m-17-9h7m-53 0h7m-95 1h7m-33 11h7m-11-12h7m-8 3h7m-7 10h7m-15-12h7m-8 9h7m-8-9h7m-9 11h7m-7-12h7m-8 8h7m-12 0h7m-7 0h7m-7 3h7m-8-5h7m-8-2h7m-8 8h7m-9-8h7m-7 0h7m-7-2h7m-8 2h7m-9 2h7m-7 3h7m-7-8h7m-8 3h7m-8 7h7m-9-7h7m-7 4h7m-8-6h7m-8 10h7m-7-9h7m-7-1h7m-7 4h7m-8 7h7m-8-11h7m-8 3h7m-7 0h7m-8 9h7m-7-3h7m-7-6h7m-7 4h7m-7-9h7m-7 4h7m-9-3h7m-7 12h7m-7-7h7m-8-2h7m-7 9h7m-7-9h7m-7-2h7m-7 4h7m-7-4h7m-8 3h7m-8 8h7m-7-1h7m-7-8h7m-7 1h7m-8 4h7m-7-3h7m-7 3h7m-8-7h7m-7 8h7m-7-5h7m-7 7h7m-8-3h7m-7-4h7m-7-3h7m-7 6h7m-7-8h7m-7 2h7m-8 7h7m-7-8h7m-7 3h7m-8-1h7m-7 10h7m-7-1h7m-8-12h7m-7 14h7m-7-12h7m-7 3h7m-7 5h7m-7-8h7m-8 9h7m-7 1h7m-7-6h7m-7 7h7m-7-13h7m-7 13h7m-8-5h7m-8-3h7m-7 1h7m-7 4h7m-8-10h7m-7 7h7m-7 1h7m-7-8h7m-7 10h7m-8-10h7m-7 6h7m-7 0h7m-7 6h7m-8-10h7m-7 10h7m-7 1h7m-7-4h7m-7-8h7m-8 8h7m-7-1h7m-7 3h7m-8-3h7m-7 3h7m-7-1h7m-7-3h7m-7 2h7m-8-6h7m-7 10h7m-8-12h7m-7 6h7m-7 6h7m-7 1h7m-7-9h7m-7 5h7m-8-7h7m-7 2h7m-8 1h7m-7-2h7m-7-4h7m-7 0h7m-7 10h7m-8-5h7m-7 0h7m-7 1h7m-7-5h7m-7 2h7m-7 6h7m-7-4h7m-7 6h7m-8-3h7m-7-1h7m-7-4h7m-8 5h7m-7 4h7m-7-9h7m-7 4h7m-8 4h7m-7-7h7m-7-2h7m-7 1h7m-8 9h7m-7 1h7m-7 0h7m-7-5h7m-7 1h7m-8 1h7m-7-1h7m-7-5h7m-8 1h7m-7-1h7m-7 5h7m-8-7h7m-7 1h7m-7 7h7m-7-7h7m-7 8h7m-7-8h7m-7 9h7m-8 1h7m-7-6h7m-7 4h7m-7 0h7m-8-11h7m-8 13h7m-7-1h7m-7-12h7m-7 0h7m-8 1h7m-7 1h7m-7 12h7m-7-3h7m-7-3h7m-8-7h7m-7 13h7m-8 0h7m-7-13h7m-7 2h7m-8 3h7m-7-5h7m-7 0h7m-7 7h7m-7 3h7m-7-3h7m-7-4h7m-8-2h7m-7 5h7m-7 3h7m-7 1h7m-7-5h7m-7-1h7m-7-3h7m-7 9h7m-7-4h7m-8 6h7m-7-12h7m-8 7h7m-7-2h7m-7 2h7m-7 4h7m-8-7h7m-7 0h7m-7-4h7m-7 8h7m-8 4h7m-7 1h7m-7 0h7m-8 0h7m-7-13h7m-7 7h7m-8-7h7m-7 3h7m-7 1h7m-7 9h7m-7-9h7m-8 4h7m-7-5h7m-8 7h7m-7-9h7m-7 7h7m-7-2h7m-7-3h7m-7-2h7m-8 8h7m-7-6h7m-8-4h7m-7 4h7m-7 2h7m-7 2h7m-7-3h7m-8 9h7m-7-3h7m-7-4h7m-7-7h7m-7 9h7m-7-1h7m-7 4h7m-7 2h7m-8-10h7m-8 5h7m-7 3h7m-7-11h7m-7 2h7m-7-1h7m-7 10h7m-7-8h7m-8 8h7m-7-10h7m-7-2h7m-7 0h7m-7 4h7m-7 6h7m-7-5h7m-8 7h7m-7-5h7m-7-4h7m-7 8h7m-7-4h7m-7-7h7m-7 3h7m-7 10h7m-8-6h7m-7 1h7m-7 2h7m-7-6h7m-7 6h7m-8-3h7m-7-2h7m-7 4h7m-7 1h7m-7 1h7m-7 0h7m-7-7h7m-8 8h7m-7-3h7m-7 2h7m-7-7h7m-7 4h7m-7 0h7m-7 5h7m-7-4h7m-8-3h7m-7 0h7m-7 8h7m-8-9h7m-7 2h7m-7 3h7m-7-8h7m-8 2h7m-7 3h7m-7 5h7m-7-8h7m-7 8h7m-7-6h7m-7 2h7m-8-8h7m-7 14h7m-7-14h7m-7 13h7m-7-9h7m-7 2h7m-7-4h7m-7-2h7m-8 12h7m-7-8h7m-8 6h7m-7 4h7m-8-2h7m-8-6h7m-7 1h7m-7 1h7m-7 3h7m-7-5h7m-8-2h7m-7 1h7m-8-1h7m-7-4h7m-7 4h7m-7 1h7m-7 8h7m-8-7h7m-8 3h7m-7-8h7m-8 10h7m-7-10h7m-7 0h7m-7 6h7m-7-6h7m-7 1h7m-7 8h7m-7-9h7m-8 8h7m-7 5h7m-7-13h7m-8 5h7m-7 5h7m-7-10h7m-8 9h7m-7 3h7m-7-1h7m-8-11h7m-7 10h7m-7 1h7m-8-10h7m-7 2h7m-8 8h7m-7-7h7m-7-3h7m-7-1h7m-9 9h7m-7-1h7m-7-4h7m-8-3h7m-8 5h7m-7 1h7m-7 3h7m-7-10h7m-8 4h7m-7 4h7m-8-6h7m-7-2h7m-7 12h7m-7-12h7m-8-1h7m-7 5h7m-8 8h7m-7-5h7m-9-3h7m-7 0h7m-8 4h7m-7-9h7m-8 3h7m-7-1h7m-8-2h7m-8 8h7m-7-1h7m-8-7h7m-9 9h7m-7 5h7m-7 0h7m-7-7h7m-8-4h7m-7 5h7m-7 6h7m-7-2h7m-8-6h7m-7 4h7m-8-5h7m-7 4h7m-7-2h7m-9-6h7m-9 6h7m-10 6h7m-7-7h7m-7 1h7m-8 4h7m-7-9h7m-8 2h7m-8 3h7m-20 4h7m-8-10h7m-8 7h7m-10 4h7m-9 1h7m-10-13h7m-7 10h7m-38-7h7m11 20h7m-6 6h7m-1-9h7m-4 4h7m-1 1h7m-1-8h7m-3 12h7m-3-8h7m-7-6h7m-6 13h7m-6 1h7m-6-7h7m-7-7h7m-5 13h7m-7-8h7m-5 5h7m-6-7h7m-7 11h7m-4-3h7m-6-7h7m-6 7h7m-7 3h7m-5-13h7m-7 8h7m-7-3h7m-6-1h7m-6-1h7m-7 5h7m-7-9h7m-6 14h7m-7 0h7m-7-9h7m-7-4h7m-6 1h7m-7 10h7m-7 2h7m-7-8h7m-6 2h7m-7-3h7m-7-4h7m-6 5h7m-6 5h7m-6 0h7m-7-8h7m-6 3h7m-7 1h7m-7 3h7m-7-9h7m-7 7h7m-6-3h7m-6 6h7m-7 2h7m-7-10h7m-7 11h7m-7-11h7m-6 2h7m-7 9h7m-7-10h7m-6 3h7m-7 1h7m-7 3h7m-7-2h7m-7-4h7m-6-2h7m-7 8h7m-7-8h7m-6 10h7m-6-9h7m-7 10h7m-6-5h7m-6-6h7m-7-3h7m-7 13h7m-6-5h7m-6 4h7m-7 0h7m-6-7h7m-7 2h7m-7 4h7m-7-3h7m-7-1h7m-7-2h7m-6-5h7m-7 8h7m-7-4h7m-7-1h7m-7 7h7m-6-9h7m-6 0h7m-7-1h7m-7 3h7m-7-3h7m-6 5h7m-6 6h7m-7-8h7m-6 11h7m-7-10h7m-7 10h7m-7-5h7m-7 0h7m-6-2h7m-6 3h7m-7-4h7m-7 1h7m-7-4h7m-6-3h7m-6 7h7m-6 3h7m-7-10h7m-7 13h7m-7-4h7m-7-2h7m-7 0h7m-6-4h7m-7 5h7m-7 3h7m-6-5h7m-7 3h7m-6-2h7m-7 6h7m-7-6h7m-7-6h7m-7 11h7m-6-6h7m-7 0h7m-7 1h7m-6 6h7m-7-2h7m-7-8h7m-6 5h7m-7 0h7m-7-4h7m-7 1h7m-6 8h7m-7-1h7m-6-3h7m-7-5h7m-7 0h7m-7 9h7m-6-2h7m-7-5h7m-7-6h7m-7 3h7m-7 5h7m-6 3h7m-7-1h7m-7 2h7m-7-12h7m-7 1h7m-6 5h7m-7 8h7m-7-13h7m-6 4h7m-7 7h7m-7-9h7m-6-2h7m-7 3h7m-7 8h7m-6-4h7m-7-4h7m-7-3h7m-7 13h7m-7-13h7m-7 0h7m-7 8h7m-6-4h7m-7 7h7m-7-1h7m-7-6h7m-6 1h7m-7 5h7m-6-4h7m-7 4h7m-7-4h7m-7 3h7m-6 1h7m-7 1h7m-7-6h7m-7-2h7m-6 1h7m-7-5h7m-7 1h7m-7 1h7m-6 7h7m-7 4h7m-7-13h7m-7 10h7m-6 0h7m-7 1h7m-7 2h7m-6-10h7m-6 0h7m-6-2h7m-7 7h7m-7-5h7m-6 1h7m-7 8h7m-7-7h7m-6 0h7m-6 1h7m-7-4h7m-6-2h7m-7 5h7m-7-2h7m-7 10h7m-6-12h7m-6 3h7m-7 4h7m-7-2h7m-7-6h7m-7 8h7m-7-3h7m-6 4h7m-7 1h7m-6-5h7m-7 2h7m-7 3h7m-6 2h7m-7-10h7m-7 4h7m-7-6h7m-6 10h7m-5-8h7m-7-1h7m-7-1h7m-7 7h7m-6-4h7m-7 5h7m-6-6h7m-7 6h7m-5-6h7m-7 5h7m-7 7h7m-7-9h7m-6 5h7m-7-8h7m-7 10h7m-6-9h7m-6 1h7m-6 9h7m-6-6h7m-6 5h7m-6-10h7m-6 2h7m-6 0h7m-7 10h7m-6-7h7m-5 7h7m-7-4h7m-7-1h7m-6-2h7m-7-2h7m-7-5h7m-5 13h7m-3-6h7m-5 3h7m-7-9h7m-7-1h7m-6 3h7m-6-3h7m-6 7h7m-6-7h7m-7 10h7m-6 4h7m-6-11h7m-6 1h7m-6-4h7m-6 11h7m-6-9h7m-2 4h7m-7-6h7m-2 0h7m-6 4h7m-6-3h7m-3-1h7m-5 4h7m-6-1h7m3 9h7m-5 2h7m18-8h7m-52 17h7m-8-6h7m-11-1h7m-15 12h7m-16-7h7m-8-6h7m-11 0h7m-8 12h7m-10-1h7m-10-9h7m-7-1h7m-8 2h7m-12 11h7m-9-9h7m-8-5h7m-7 12h7m-10-1h7m-8-1h7m-9-9h7m-10 4h7m-7-1h7m-7-2h7m-8-2h7m-8 11h7m-7-11h7m-8 13h7m-7-9h7m-8 4h7m-7 1h7m-7 0h7m-8-1h7m-7-6h7m-7 5h7m-8-7h7m-9 0h7m-8 1h7m-8 0h7m-8 8h7m-9-7h7m-7 12h7m-8-7h7m-8-4h7m-7 9h7m-7-11h7m-7 12h7m-7-12h7m-8 0h7m-7 6h7m-8 6h7m-7-10h7m-9 1h7m-7-4h7m-8 0h7m-8 0h7m-9 8h7m-8-3h7m-7-3h7m-8 1h7m-7 1h7m-8-3h7m-8 6h7m-7-1h7m-8-3h7m-8 8h7m-7 3h7m-7-6h7m-8-4h7m-10-4h7m-8 0h7m-8 12h7m-10 0h7m-7-4h7m-7 0h7m-7-5h7m-9-2h7m-8 7h7m-7 6h7m-8-1h7m-7-10h7m-7 7h7m-8-3h7m-7-7h7m-8 2h7m-7-1h7m-7 1h7m-8 6h7m-9-8h7m-7 8h7m-7 3h7m-8-8h7m-7 2h7m-8-1h7m-7-1h7m-9 5h7m-7-2h7m-8-6h7m-8 8h7m-7-2h7m-8-3h7m-8 8h7m-8-7h7m-8 7h7m-7 0h7m-11-11h7m-8 3h7m-8 9h7m-8-9h7m-10 6h7m-7-2h7m-9 1h7m-7 2h7m-9-9h7m-7 3h7m-11 2h7m-8 0h7m-8 7h7m-10-10h7m-11-3h7m-8 7h7m-10-6h7m-8 9h7m-18 2h7m-23-9h7m-9 4h7m-10-5h7m-8 1h7m-1 23h7m-6-1h7m9 2h7m2-11h7m-5 3h7m-5-2h7m-6-2h7m1 10h7m4 1h7m-5 3h7m-6-12h7m-6 2h7m3-3h7m-7 7h7m-6-4h7m-6 1h7m-6 2h7m0 1h7m-6-6h7m-5 5h7m-3-3h7m-7-2h7m-2 1h7m-5 1h7m-2 5h7m-6-5h7m-3 5h7m-6-9h7m-3 1h7m3 8h7m-4-8h7m-2 8h7m22-9h7m95 2h7m-141 13h7m-65 4h7m-9-3h7m-25 5h7m-12 0h7m-10-5h7m-9-1h7m-11 1h7m-14 6h7m-9-7h7m-1 26h7m-7 2h7m-6-11h7m-5 3h7m-6-5h7m-6 7h7m1-3h7m4 6h7m-37 12h7m-11 7h7m-18-1h7m-16-12h7m-17 27h7m15-12h7m-4 5h7m-5 5h7m-2-8h7m1 6h7m-1-6h7m-15 13h7" stroke="#111" stroke-width="7" opacity="1.0" fill="none"/>
<path d="M40.9 438.2H103.7V501.6" fill="none" stroke="#111" stroke-width="1.0"/>
<path d="M40.9 437.7V501.6H104.2" fill="none" stroke="#111" stroke-width="1.25"/>
<path d="M40.9 501.6h-3.0M40.9 485.75h-3.0M40.9 469.9h-3.0M40.9 454.05h-3.0M40.9 438.2h-3.0M40.9 496.8h-1.5M40.9 494.0h-1.5M40.9 492.1h-1.5M40.9 490.5h-1.5M40.9 489.3h-1.5M40.9 488.2h-1.5M40.9 487.3h-1.5M40.9 486.5h-1.5M40.9 481.0h-1.5M40.9 478.2h-1.5M40.9 476.2h-1.5M40.9 474.7h-1.5M40.9 473.4h-1.5M40.9 472.4h-1.5M40.9 471.4h-1.5M40.9 470.6h-1.5M40.9 465.1h-1.5M40.9 462.3h-1.5M40.9 460.4h-1.5M40.9 458.8h-1.5M40.9 457.6h-1.5M40.9 456.5h-1.5M40.9 455.6h-1.5M40.9 454.8h-1.5M40.9 449.3h-1.5M40.9 446.5h-1.5M40.9 444.5h-1.5M40.9 443.0h-1.5M40.9 441.7h-1.5M40.9 440.7h-1.5M40.9 439.7h-1.5M40.9 438.9h-1.5" stroke="#111" stroke-width="0.9" fill="none"/>
<path d="M40.9 501.6v2.4M47.2 501.6v1.9M53.5 501.6v2.4M59.7 501.6v1.9M66.0 501.6v2.4M72.3 501.6v1.9M78.6 501.6v2.4M84.9 501.6v1.9M91.1 501.6v2.4M97.4 501.6v1.9M103.7 501.6v2.4M40.9 501.6v1.5M42.2 501.6v1.5M43.4 501.6v1.5M44.7 501.6v1.5M45.9 501.6v1.5M47.2 501.6v1.5M48.4 501.6v1.5M49.7 501.6v1.5M50.9 501.6v1.5M52.2 501.6v1.5M53.5 501.6v1.5M54.7 501.6v1.5M56.0 501.6v1.5M57.2 501.6v1.5M58.5 501.6v1.5M59.7 501.6v1.5M61.0 501.6v1.5M62.3 501.6v1.5M63.5 501.6v1.5M64.8 501.6v1.5M66.0 501.6v1.5M67.3 501.6v1.5M68.5 501.6v1.5M69.8 501.6v1.5M71.0 501.6v1.5M72.3 501.6v1.5M73.6 501.6v1.5M74.8 501.6v1.5M76.1 501.6v1.5M77.3 501.6v1.5M78.6 501.6v1.5M79.8 501.6v1.5M81.1 501.6v1.5M82.3 501.6v1.5M83.6 501.6v1.5M84.9 501.6v1.5M86.1 501.6v1.5M87.4 501.6v1.5M88.6 501.6v1.5M89.9 501.6v1.5M91.1 501.6v1.5M92.4 501.6v1.5M93.7 501.6v1.5M94.9 501.6v1.5M96.2 501.6v1.5M97.4 501.6v1.5M98.7 501.6v1.5M99.9 501.6v1.5M101.2 501.6v1.5M102.4 501.6v1.5" stroke="#111" stroke-width="0.75" fill="none"/>
<text x="42.2" y="510.3" font-size="5.8" text-anchor="middle" fill="#333" textLength="2.6" lengthAdjust="spacingAndGlyphs" stroke="#333" stroke-width="0.1">0</text>
<text x="54.06" y="510.3" font-size="5.8" text-anchor="middle" fill="#333" textLength="8.9" lengthAdjust="spacingAndGlyphs" stroke="#333" stroke-width="0.1">200</text>
<text x="66.62" y="510.3" font-size="5.8" text-anchor="middle" fill="#333" textLength="8.9" lengthAdjust="spacingAndGlyphs" stroke="#333" stroke-width="0.1">400</text>
<text x="79.18" y="510.3" font-size="5.8" text-anchor="middle" fill="#333" textLength="8.9" lengthAdjust="spacingAndGlyphs" stroke="#333" stroke-width="0.1">600</text>
<text x="91.74" y="510.3" font-size="5.8" text-anchor="middle" fill="#333" textLength="8.9" lengthAdjust="spacingAndGlyphs" stroke="#333" stroke-width="0.1">800</text>
<text x="103.1" y="510.3" font-size="5.8" text-anchor="middle" fill="#333" textLength="11.2" lengthAdjust="spacingAndGlyphs" stroke="#333" stroke-width="0.1">1000</text>
<text x="25.58" y="504.2" font-size="7.1" fill="#222" stroke="#222" stroke-width="0.14" textLength="7.8" lengthAdjust="spacingAndGlyphs">10</text><text x="33.88" y="501.98" font-size="4" fill="#222" stroke="#222" stroke-width="0.08">0</text>
<text x="25.58" y="488.35" font-size="7.1" fill="#222" stroke="#222" stroke-width="0.14" textLength="7.8" lengthAdjust="spacingAndGlyphs">10</text><text x="33.88" y="486.13" font-size="4" fill="#222" stroke="#222" stroke-width="0.08">1</text>
<text x="25.58" y="472.5" font-size="7.1" fill="#222" stroke="#222" stroke-width="0.14" textLength="7.8" lengthAdjust="spacingAndGlyphs">10</text><text x="33.88" y="470.28" font-size="4" fill="#222" stroke="#222" stroke-width="0.08">2</text>
<text x="25.58" y="456.65" font-size="7.1" fill="#222" stroke="#222" stroke-width="0.14" textLength="7.8" lengthAdjust="spacingAndGlyphs">10</text><text x="33.88" y="454.43" font-size="4" fill="#222" stroke="#222" stroke-width="0.08">3</text>
<text x="25.58" y="440.8" font-size="7.1" fill="#222" stroke="#222" stroke-width="0.14" textLength="7.8" lengthAdjust="spacingAndGlyphs">10</text><text x="33.88" y="438.58" font-size="4" fill="#222" stroke="#222" stroke-width="0.08">4</text>
<path transform="scale(.1)" d="M2037 4525h7m43 21h7m-36 5h7m-93-2h7m50 35h7m-15-4h7m-8 6h7m-15-3h7m-7 0h7m-8-3h7m-238-5h7m87 20h7m85 1h7m3-6h7m-5 0h7m1 11h7m-5-1h7m4 2h7m-4-2h7m3 2h7m13-9h7m-1 3h7m7 2h7m-20 21h7m-13-7h7m-24 7h7m-14 0h7m-8-8h7m-9 1h7m-13-4h7m-17 11h7m-26-2h7m-32-4h7m-34 1h7m36 12h7m6 2h7m16-6h7m-4 7h7m-4-4h7m4 1h7m4 0h7m-4-5h7m7 0h7m2 10h7m-2 0h7m28-5h7m-14 13h7m-26 4h7m-28-7h7m-17 7h7m-16-2h7m-15-3h7m-20-3h7m-10 13h7m-8-9h7m-11 8h7m-28-8h7m-17 8h7m-10-10h7m-26-1h7m-46 0h7m-12 8h7m-164 5h7m190 10h7m30-6h7m-4 0h7m1 10h7m-4-7h7m-7 6h7m-5-3h7m-4-5h7m-5-4h7m9 7h7m-4-7h7m-6 14h7m-1 0h7m-4-12h7m-5 11h7m-4-13h7m-6 2h7m2-1h7m-3 9h7m18-5h7m-4-3h7m-42 17h7m-11 0h7m-15-1h7m-13 3h7m-8 2h7m-16 5h7m-8 1h7m-8-12h7m-13 8h7m-9-2h7m-9 3h7m-19-7h7m-11 2h7m-7 8h7m-13-5h7m-23 1h7m-8-10h7m-10 8h7m-20 2h7m-17-1h7m-14 4h7m-59-11h7m-13 14h7m33-1h7m21 0h7m-2 3h7m-1 8h7m-3-10h7m12 4h7m0 1h7m-6 8h7m-6-7h7m1-3h7m-2-2h7m-1 12h7m6-11h7m-3 6h7m-4 4h7m26-3h7m-7 6h7m-22 11h7m-11-6h7m-11 2h7m-8-7h7m-17 3h7m-15 0h7m-18 3h7m-8 4h7m-10-5h7m-11 0h7m-17-5h7m-27 2h7m-33-2h7m-12 3h7m-26 5h7m-26-9h7m-24 7h7m-6 17h7m6-1h7m25-3h7m20 9h7m-5-7h7m20-7h7m-4 2h7m1 2h7m-2 4h7m-1 2h7m-6-4h7m6-3h7m-5 1h7m-1 4h7m-1-7h7m5 3h7m2 9h7m4-11h7m-16 20h7m-19 3h7m-16 1h7m-48-9h7m-25 12h7m-7-3h7m-8 1h7m-10-12h7m-22 7h7m-25 6h7m-13 0h7m-14-5h7m-16-3h7m-20 5h7m-62-4h7m-83 22h7m46 1h7m-2-6h7m9-4h7m-3-3h7m35 5h7m21 2h7m-4 6h7m-6-12h7m0 3h7m-1-3h7m5 0h7m2 9h7m-7-4h7m-2-3h7m-4 0h7m3 3h7m-4 2h7m-6 4h7m11-10h7m2-2h7m1 4h7m1 7h7m24-1h7m-5-6h7m26 5h7m-68 15h7m-23-2h7m-8 5h7m-17 1h7m-31-3h7m-25-4h7m-14 4h7m-13-7h7m-19 0h7m-8 4h7m-7-2h7m-9-3h7m-21 2h7m-21 9h7m-19-3h7m-12-3h7m-11 1h7m-27 4h7m-12 1h7m-9-8h7m-49 14h7m29 2h7m-5-3h7m-7 10h7m-4 0h7m-6-14h7m29 10h7m-3-9h7m18 9h7m2-5h7m-5 1h7m14 6h7m-5 2h7m-3-8h7m-1 1h7m-1 3h7m-4-7h7m5-2h7m13 0h7m12 4h7m30 11h7m-63-1h7m-56 14h7m-8-9h7m-15-4h7m-11 13h7m-9 0h7m-20-3h7m-10-2h7m-10-2h7m-13 5h7m-14 1h7m-13-9h7m-8-4h7m-21 7h7m-28-1h7m-14 8h7m-30-7h7m-13-6h7m-66 12h7m-21-11h7m-194 12h7m203 8h7m-5 0h7m40-3h7m22 5h7m-3 1h7m15-3h7m4 0h7m-3 3h7m-4-9h7m-3 9h7m-7-10h7m-7 12h7m-6-4h7m2-1h7m-4 4h7m-4-1h7m7 1h7m-5-6h7m13 0h7m5 9h7m5-2h7m5-1h7m25 2h7m-51 15h7m-9-5h7m-11-6h7m-40 5h7m-20 4h7m-10-5h7m-29 2h7m-7-2h7m-13 8h7m-10-9h7m-15-5h7m-23 6h7m-12 0h7m-7 1h7m-19-1h7m-11 6h7m-19-7h7m-14-5h7m-18 3h7m-28-2h7m-8 13h7m-1 4h7m-7 3h7m4 8h7m4-13h7m3 10h7m16 3h7m-1-11h7m-6-3h7m-4 10h7m-7-7h7m6 8h7m-7 2h7m31-11h7m1 10h7m30 0h7m34-3h7m-56 16h7m-17-8h7m-35 5h7m-8 0h7m-8 7h7m-10-3h7m-8-11h7m-13 11h7m-12 3h7m-19-12h7m-12 3h7m-17 4h7m-20-4h7m-9-3h7m-8 1h7m-9 3h7m-12 6h7m-10-2h7m-10-8h7m-9 1h7m-18 9h7m-10-2h7m-54-2h7m-13 0h7m-37-2h7m-19-3h7m-178 20h7m179 5h7m23-7h7m-7 6h7m10 1h7m-1 0h7m1 0h7m-6-7h7m-1 5h7m0-10h7m-6 12h7m0 0h7m-4-2h7m13 1h7m-5-8h7m0-4h7m-6 14h7m4-2h7m-3 1h7m50-13h7m-63 24h7m-31-5h7m-18 5h7m-15-7h7m-8 2h7m-9-4h7m-12 9h7m-9 1h7m-26 1h7m-13-6h7m-13 9h7m-9-12h7m-7 7h7m-66 5h7m-186 11h7m93-2h7m5 6h7m33 0h7m1-12h7m34 6h7m-7-1h7m11 4h7m0-8h7m7 6h7m-3 1h7m-3-5h7m-7-1h7m-3 2h7m-6 6h7m1-1h7m2 3h7m18-4h7m18-9h7m11 2h7m85-3h7m-136 15h7m-7 5h7m-16 7h7m-15 0h7m-7-7h7m-10 1h7m-13 6h7m-9-5h7m-16-7h7m-13 11h7m-22 3h7m-21-8h7m-10 6h7m-9-5h7m-11 5h7m-18 1h7m-16-9h7m-77 2h7m-35 7h7m-45 0h7m-69-8h7m-47 5h7m-49 11h7m41 7h7m89-8h7m7-2h7m10 4h7m0 3h7m21-4h7m1 3h7m0-8h7m-5 12h7m-5-10h7m1 5h7m7-1h7m-7 0h7m24-3h7m-5 9h7m9-12h7m-5 3h7m3-2h7m-3-1h7m-1 6h7m1 3h7m-4 1h7m-5-5h7m-4-2h7m-3 3h7m0 4h7m-6-7h7m2 4h7m9 4h7m8-8h7m-4 1h7m-7-2h7m15 1h7m-54 13h7m-13 9h7m-22-5h7m-14 7h7m-10-5h7m-11 4h7m-9-4h7m-20-8h7m-26 13h7m-16-11h7m-10 4h7m-12 4h7m-12-5h7m-10 9h7m-10-2h7m-8 1h7m-9-5h7m-18-6h7m-10 7h7m-12 2h7m-9 3h7m-9-2h7m-8-3h7m-16 5h7m-12-10h7m-20 0h7m-20 4h7m-8 4h7m-8-5h7m-9 5h7m-20-6h7m-9 3h7m-10 2h7m-12-7h7m-7 9h7m-9-5h7m-7-5h7m-16 10h7m-9-3h7m-14-4h7m-7-1h7m-13 8h7m-9-5h7m-10 6h7m-12-10h7m-9 6h7m-8-3h7m-22 6h7m-10 0h7m-20-13h7m-10 7h7m-8 4h7m-9-2h7m-7 4h7m-17-3h7m-16 2h7m-12-6h7m-45 7h7m-33-10h7m-8 5h7m-22 2h7m31 9h7m2 0h7m1 9h7m0-7h7m-3-2h7m0 10h7m-4-2h7m4-8h7m-6 10h7m-2-4h7m-5 0h7m-6-5h7m2-2h7m-6 10h7m-6-3h7m-6-2h7m-4 5h7m-5-13h7m-6 0h7m-6 14h7m-7-2h7m-4-4h7m-4 1h7m-6-2h7m-6-3h7m-7 0h7m-6 6h7m-6-1h7m-5 5h7m-7-12h7m-7 12h7m-3-12h7m-5 5h7m-4-1h7m-4 6h7m-4-1h7m-4-3h7m-7 6h7m0-3h7m-5-9h7m-4 6h7m-7 0h7m-4 1h7m-6 0h7m-6 3h7m-6 0h7m-6-12h7m-6 5h7m2 4h7m-6 0h7m-5 0h7m-3-8h7m-6 7h7m-3-3h7m-3 3h7m-7-7h7m-4 2h7m-7 4h7m-6-2h7m-7 2h7m-6-6h7m-7 2h7m-6 1h7m-4 6h7m-7-9h7m-4 0h7m-6 8h7m-4-9h7m-6 11h7m-7 2h7m-5-11h7m-5 2h7m-4 4h7m-3 3h7m-6 2h7m-7-3h7m-6-1h7m-6 1h7m-6-7h7m-6 2h7m-6-1h7m2 6h7m-5 4h7m-6-2h7m-7-11h7m-6 1h7m-6 0h7m-7 9h7m-2-6h7m-5-4h7m-5 8h7m-4 0h7m-6 2h7m-5-11h7m-6 5h7m-3 9h7m-2-6h7m-6-8h7m-5 10h7m-6-9h7m-6 1h7m-6 4h7m-5 8h7m-7-1h7m-4-12h7m-6 0h7m15 5h7m4 8h7m10-9h7m-4 9h7m-6 0h7m-6-11h7m-3 9h7m0-6h7m6 5h7m-2 3h7m23-3h7m-6-6h7m4-3h7m21 11h7m-6-13h7m-21 25h7m-13-2h7m-30 2h7m-23 0h7m-7-10h7m-18 5h7m-9-3h7m-15-2h7m-29 13h7m-18-12h7m-13 11h7m-11-2h7m-17 0h7m-11-2h7m-20-6h7m-12-1h7m-12 8h7m-10-6h7m-8 7h7m-11 3h7m-8-2h7m-7-6h7m-11-4h7m-14 6h7m-14-4h7m-14 11h7m-7-4h7m-10 0h7m-8-7h7m-8 10h7m-7-2h7m-9 1h7m-8-4h7m-7 5h7m-8-8h7m-8 6h7m-8-6h7m-7 8h7m-8-12h7m-12 9h7m-8 2h7m-8-6h7m-7 7h7m-9-8h7m-10 0h7m-14 0h7m-16 3h7m-9 0h7m-9-8h7m-13 7h7m-7-4h7m-8 0h7m-8 6h7m-7-5h7m-7 2h7m-7 1h7m-8-3h7m-8 8h7m-7-5h7m-8-4h7m-8 0h7m-8 10h7m-10-8h7m-8 6h7m-7-3h7m-7 4h7m-8-4h7m-7 2h7m-8-9h7m-11 3h7m-7-1h7m-11 10h7m-7 1h7m-10-14h7m-8 2h7m-8 8h7m-8-7h7m-8 8h7m-10-5h7m-7-5h7m-8 7h7m-9 5h7m-7-11h7m-9 11h7m-7-8h7m-8-5h7m-8 3h7m-9 9h7m-7-1h7m-9-1h7m-8-4h7m-8-3h7m-9 3h7m-7 0h7m-7 5h7m-8 2h7m-16-5h7m-7-2h7m-9-2h7m-9 9h7m-10 1h7m-8-8h7m-8 7h7m-8-12h7m-7 12h7m-13-1h7m-7-5h7m-8-6h7m-8 8h7m-9 1h7m-11 0h7m-9 0h7m-8-9h7m-7-1h7m-7 5h7m-8-2h7m-7 5h7m-10 6h7m-8 0h7m-8-3h7m-18 3h7m-20-8h7m-9 5h7m-8-9h7m-8 6h7m-15-5h7m-18 6h7m-16-1h7m-36 4h7m-12-2h7m24 11h7m-4 2h7m1-1h7m-3-7h7m-7 12h7m-1-2h7m4 0h7m-4-6h7m3 4h7m-6 2h7m-6-5h7m-2 4h7m-5-4h7m-6-2h7m-6 0h7m-3 9h7m-7-6h7m-5 1h7m-6-2h7m-7 2h7m-5 4h7m-7 3h7m-5-12h7m-6 2h7m-6 5h7m-2 3h7m-1-7h7m-7 9h7m-5 0h7m-7-7h7m-5-6h7m-4 13h7m-3 0h7m-5-3h7m-7-10h7m-4 12h7m-6-5h7m-5-2h7m-6-3h7m-3 1h7m-2-2h7m-6 9h7m-7-1h7m-6-4h7m-7-6h7m-7 10h7m-7 2h7m-6 0h7m-4-5h7m-6 5h7m-7-11h7m-6 6h7m-6 6h7m-6-9h7m-7 4h7m-6-5h7m-7 6h7m-6 4h7m-6-11h7m-7 0h7m-6 11h7m-7 1h7m-6-12h7m-6 5h7m-7-3h7m-5 0h7m-7 7h7m-6-1h7m-6-2h7m-6-1h7m-4-5h7m-6 1h7m-4 8h7m-7-2h7m-7 0h7m-6-9h7m-7 6h7m-7 4h7m-7-10h7m-6 11h7m-7-2h7m-5 5h7m-7-5h7m-5-6h7m-4 5h7m-7 4h7m-6-12h7m-7 8h7m-6 0h7m-7 1h7m-5-6h7m-7-1h7m-5 1h7m-7 6h7m-6 1h7m-7-7h7m-7 11h7m-7-5h7m-3 2h7m-6-11h7m-7 1h7m-6 12h7m-7-6h7m-5-5h7m-4 3h7m-6 4h7m-7-5h7m-7-2h7m-6 0h7m-5 8h7m-6-9h7m-6 9h7m-7 4h7m-4-8h7m-5-6h7m-7 0h7m-6 12h7m-2 1h7m-6-5h7m-4 0h7m-6 0h7m-7-4h7m3 5h7m-6 1h7m-5 0h7m-6-2h7m-5-6h7m-2 7h7m-6 4h7m1 0h7m-4-11h7m-1 1h7m-6 5h7m-7-2h7m-1 6h7m3 1h7m-4 0h7m-6-10h7m-7 11h7m-6-7h7m-5 7h7m-7-4h7m-6-10h7m-6 5h7m-3 7h7m3 1h7m-6-13h7m-4 7h7m-6-1h7m-2 0h7m0 7h7m20 1h7m6-5h7m11-6h7m-3 2h7m1-5h7m3 8h7m2-2h7m-2 1h7m0 1h7m34-2h7m-81 10h7m-31 3h7m-16 0h7m-15 5h7m-12 5h7m-10-6h7m-13 2h7m-15-8h7m-17 2h7m-12 6h7m-19 2h7m-10-4h7m-9 0h7m-8-7h7m-13-1h7m-8 8h7m-7-8h7m-24 2h7m-8 4h7m-7-6h7m-9 8h7m-15 2h7m-9 0h7m-9-3h7m-10-2h7m-9 8h7m-9-11h7m-9-2h7m-10 12h7m-7-8h7m-8-1h7m-15 2h7m-11 4h7m-9-4h7m-12 2h7m-7-3h7m-9-4h7m-9 1h7m-17 11h7m-10-12h7m-8 12h7m-10-11h7m-7 1h7m-9 3h7m-10-4h7m-7 4h7m-8-4h7m-9 8h7m-7 0h7m-7-1h7m-12-4h7m-14 0h7m-7-2h7m-8 4h7m-9-6h7m-8 6h7m-8-5h7m-7 5h7m-8 0h7m-9-1h7m-9 5h7m-10 3h7m-9-8h7m-8-2h7m-7 1h7m-11-3h7m-8-1h7m-7 8h7m-7-7h7m-9 0h7m-16 3h7m-8-3h7m-9 4h7m-10 8h7m-10 0h7m-12-13h7m-8 13h7m-7-9h7m-7 8h7m-9-6h7m-11-3h7m-9 1h7m-8-4h7m-12 7h7m-9 0h7m-11 1h7m-12 1h7m-7-8h7m-8 8h7m-9 3h7m-9-4h7m-18-7h7m-8 2h7m-8 1h7m-31-1h7m-8 2h7m-14 7h7m-14 0h7m-29-12h7m-28 4h7m-12 3h7m-1 11h7m48 0h7m-5-1h7m18 1h7m8-2h7m10-1h7m2 2h7m7-2h7m2 3h7m5 1h7m13-3h7m80-1h7m-6 6h7m3-4h7m23 3h7m0-3h7m55-1h7" stroke="#111" stroke-width="7" opacity="1.0" fill="none"/>
<path d="M146.9 438.2H209.7V501.6" fill="none" stroke="#111" stroke-width="1.0"/>
<path d="M146.9 437.7V501.6H210.2" fill="none" stroke="#111" stroke-width="1.25"/>
<path d="M146.9 501.6v3.0M146.9 501.6h-3.0M162.6 501.6v3.0M146.9 485.75h-3.0M178.3 501.6v3.0M146.9 469.9h-3.0M194 501.6v3.0M146.9 454.05h-3.0M209.7 501.6v3.0M146.9 438.2h-3.0M151.6 501.6v1.5M146.9 496.8h-1.5M154.4 501.6v1.5M146.9 494.0h-1.5M156.4 501.6v1.5M146.9 492.1h-1.5M157.9 501.6v1.5M146.9 490.5h-1.5M159.1 501.6v1.5M146.9 489.3h-1.5M160.2 501.6v1.5M146.9 488.2h-1.5M161.1 501.6v1.5M146.9 487.3h-1.5M161.9 501.6v1.5M146.9 486.5h-1.5M167.3 501.6v1.5M146.9 481.0h-1.5M170.1 501.6v1.5M146.9 478.2h-1.5M172.1 501.6v1.5M146.9 476.2h-1.5M173.6 501.6v1.5M146.9 474.7h-1.5M174.8 501.6v1.5M146.9 473.4h-1.5M175.9 501.6v1.5M146.9 472.4h-1.5M176.8 501.6v1.5M146.9 471.4h-1.5M177.6 501.6v1.5M146.9 470.6h-1.5M183.0 501.6v1.5M146.9 465.1h-1.5M185.8 501.6v1.5M146.9 462.3h-1.5M187.8 501.6v1.5M146.9 460.4h-1.5M189.3 501.6v1.5M146.9 458.8h-1.5M190.5 501.6v1.5M146.9 457.6h-1.5M191.6 501.6v1.5M146.9 456.5h-1.5M192.5 501.6v1.5M146.9 455.6h-1.5M193.3 501.6v1.5M146.9 454.8h-1.5M198.7 501.6v1.5M146.9 449.3h-1.5M201.5 501.6v1.5M146.9 446.5h-1.5M203.5 501.6v1.5M146.9 444.5h-1.5M205.0 501.6v1.5M146.9 443.0h-1.5M206.2 501.6v1.5M146.9 441.7h-1.5M207.3 501.6v1.5M146.9 440.7h-1.5M208.2 501.6v1.5M146.9 439.7h-1.5M209.0 501.6v1.5M146.9 438.9h-1.5" stroke="#111" stroke-width="0.9" fill="none"/>
<text x="142.04" y="513.4" font-size="7.1" fill="#222" stroke="#222" stroke-width="0.14" textLength="7.8" lengthAdjust="spacingAndGlyphs">10</text><text x="150.34" y="511.18" font-size="4" fill="#222" stroke="#222" stroke-width="0.08">0</text>
<text x="131.58" y="504.2" font-size="7.1" fill="#222" stroke="#222" stroke-width="0.14" textLength="7.8" lengthAdjust="spacingAndGlyphs">10</text><text x="139.88" y="501.98" font-size="4" fill="#222" stroke="#222" stroke-width="0.08">0</text>
<text x="157.74" y="513.4" font-size="7.1" fill="#222" stroke="#222" stroke-width="0.14" textLength="7.8" lengthAdjust="spacingAndGlyphs">10</text><text x="166.04" y="511.18" font-size="4" fill="#222" stroke="#222" stroke-width="0.08">1</text>
<text x="131.58" y="488.35" font-size="7.1" fill="#222" stroke="#222" stroke-width="0.14" textLength="7.8" lengthAdjust="spacingAndGlyphs">10</text><text x="139.88" y="486.13" font-size="4" fill="#222" stroke="#222" stroke-width="0.08">1</text>
<text x="173.44" y="513.4" font-size="7.1" fill="#222" stroke="#222" stroke-width="0.14" textLength="7.8" lengthAdjust="spacingAndGlyphs">10</text><text x="181.74" y="511.18" font-size="4" fill="#222" stroke="#222" stroke-width="0.08">2</text>
<text x="131.58" y="472.5" font-size="7.1" fill="#222" stroke="#222" stroke-width="0.14" textLength="7.8" lengthAdjust="spacingAndGlyphs">10</text><text x="139.88" y="470.28" font-size="4" fill="#222" stroke="#222" stroke-width="0.08">2</text>
<text x="189.14" y="513.4" font-size="7.1" fill="#222" stroke="#222" stroke-width="0.14" textLength="7.8" lengthAdjust="spacingAndGlyphs">10</text><text x="197.44" y="511.18" font-size="4" fill="#222" stroke="#222" stroke-width="0.08">3</text>
<text x="131.58" y="456.65" font-size="7.1" fill="#222" stroke="#222" stroke-width="0.14" textLength="7.8" lengthAdjust="spacingAndGlyphs">10</text><text x="139.88" y="454.43" font-size="4" fill="#222" stroke="#222" stroke-width="0.08">3</text>
<text x="204.84" y="513.4" font-size="7.1" fill="#222" stroke="#222" stroke-width="0.14" textLength="7.8" lengthAdjust="spacingAndGlyphs">10</text><text x="213.14" y="511.18" font-size="4" fill="#222" stroke="#222" stroke-width="0.08">4</text>
<text x="131.58" y="440.8" font-size="7.1" fill="#222" stroke="#222" stroke-width="0.14" textLength="7.8" lengthAdjust="spacingAndGlyphs">10</text><text x="139.88" y="438.58" font-size="4" fill="#222" stroke="#222" stroke-width="0.08">4</text>
<path transform="scale(.1)" d="M3061 4408h7m-17 8h7m8-6h7m0 25h7m-15-1h7m-7-7h7m-19 12h7m-24-1h7m-8 14h7m-6 0h7m-5-3h7m-4 2h7m-1 0h7m-6-6h7m-5 3h7m6 1h7m-10 10h7m-12 3h7m-136 6h7m81 2h7m6 10h7m5-10h7m-3 8h7m-5 5h7m-5-4h7m-3-3h7m23 7h7m-14 8h7m-34 6h7m-15-10h7m-7-1h7m-11-1h7m-19 5h7m-11 5h7m-12 5h7m-5 5h7m-3-4h7m4 8h7m7-7h7m12 2h7m-5 16h7m-34 2h7m-18-2h7m-19-1h7m-192-3h7m245 19h7m41 14h7m-30 10h7m-17-8h7m-47 7h7m-164-9h7m-50 9h7m-103 8h7m142 6h7m84-9h7m48 9h7m30-7h7m6 7h7m-7-6h7m7 19h7m-10-3h7m-17 3h7m-15-9h7m-20 12h7m-10-7h7m-17 3h7m-80 0h7m-93 14h7m22-4h7m117 5h7m-6 1h7m0-1h7m-6 1h7m2-2h7m-5 3h7m-1-2h7m0 1h7m1 6h7m-18 5h7m-8-2h7m-10-1h7m-10 1h7m-11 5h7m-8 0h7m-10 5h7m-19-3h7m-27 1h7m-25-8h7m-19 8h7m-9-11h7m-20 1h7m-43 7h7m-10 2h7m81 12h7m-1-6h7m-6 7h7m-5-1h7m10-8h7m1 14h7m0-4h7m-6-3h7m-4-1h7m2-4h7m17 6h7m-16 12h7m-15 4h7m-14-4h7m-14-3h7m-7-2h7m-7 9h7m-8-7h7m-31 3h7m-9-4h7m-7 10h7m-10 2h7m-9-10h7m-10 0h7m-8 11h7m-10-13h7m-22 4h7m-32 9h7m-27-11h7m-9 9h7m-32 1h7m-12-13h7m-24 8h7m-68 10h7m59 4h7m2 2h7m20-2h7m-5 7h7m22-5h7m14 4h7m-6-7h7m-3 7h7m-4 0h7m1-3h7m-6-2h7m-2-6h7m-7 4h7m-6 2h7m-6-7h7m-6 7h7m-7-2h7m-6-4h7m-5 5h7m-5 5h7m-3-5h7m-6 1h7m1-3h7m-2 7h7m-5-8h7m0 3h7m-6 0h7m-1 22h7m-10-14h7m-22 2h7m-13-1h7m-7 12h7m-8-9h7m-12 4h7m-8-3h7m-12-5h7m-8 7h7m-13 4h7m-12-5h7m-8 7h7m-9 1h7m-10-9h7m-11 3h7m-11-4h7m-9-2h7m-26 0h7m-36 8h7m-17-9h7m-26 11h7m-24-3h7m-34-2h7m-26 3h7m-44 0h7m-258 2h7m261 11h7m4-1h7m19 7h7m-1-13h7m5 10h7m36 0h7m-6-6h7m-2-3h7m-4 5h7m-1-5h7m24 12h7m-3-12h7m-3 7h7m2-3h7m-5-3h7m-2 10h7m-4-6h7m5-7h7m-1 1h7m-3 0h7m-6 7h7m-7-5h7m-6 1h7m0-4h7m-5 4h7m-5-2h7m0 17h7m-23 4h7m-14-2h7m-9-4h7m-7 9h7m-9-10h7m-7 11h7m-16-10h7m-7 8h7m-12 4h7m-14-11h7m-10 0h7m-7 3h7m-8 1h7m-7-4h7m-33 5h7m-7-8h7m-14 4h7m-8 5h7m-28 1h7m-9-4h7m-9 6h7m-17-8h7m-19 9h7m-38-10h7m-24 5h7m-73-2h7m-69 23h7m12-3h7m40-2h7m27-8h7m28 5h7m1 0h7m-3 2h7m-5-2h7m17 6h7m34-3h7m2-2h7m-5-6h7m-6 10h7m2-2h7m-5-6h7m1 1h7m1 9h7m-6-3h7m-7 1h7m-3-3h7m-7 6h7m-6-2h7m-7 2h7m-2-9h7m-5 9h7m-3-2h7m-6-12h7m-4 11h7m-7-1h7m-4 4h7m-7-5h7m-5 1h7m5 12h7m-24 6h7m-7-1h7m-11-10h7m-17 8h7m-22-6h7m-8 8h7m-10 2h7m-9-14h7m-9 9h7m-29-3h7m-19 1h7m-8-7h7m-38 13h7m-32-4h7m-31 0h7m-39-6h7m-106 9h7m11 3h7m56 4h7m-5 4h7m44 0h7m7-8h7m8 1h7m9 7h7m1 6h7m3-4h7m-6-1h7m-6-9h7m8 3h7m0-3h7m5 2h7m-5 1h7m-3 9h7m-4-6h7m-1 0h7m-5-3h7m0 8h7m2-11h7m-1 1h7m6 9h7m3-7h7m3 0h7m3 7h7m-19 8h7m-13 5h7m-15 6h7m-16-1h7m-12-12h7m-8 10h7m-24-7h7m-9 4h7m-9 4h7m-8-1h7m-7-3h7m-29-4h7m-9 6h7m-10-7h7m-9 11h7m-9-1h7m-28-11h7m-30 10h7m-57-8h7m-44 0h7m-35-1h7m-17 9h7m-35-8h7m-89 5h7m41 13h7m93-5h7m-1 8h7m12-4h7m19 0h7m2 6h7m-3-4h7m14 5h7m8 1h7m-3-9h7m0 6h7m18-5h7m7 3h7m-1-6h7m-1 1h7m-4-4h7m7 11h7m-2-8h7m12-2h7m-34 19h7m-9-3h7m-11 0h7m-8 1h7m-9 1h7m-9 8h7m-17 0h7m-11-3h7m-9-3h7m-12-6h7m-9 0h7m-11 6h7m-10-3h7m-11 8h7m-13 2h7m-14-3h7m-17-9h7m-7 11h7m-14-11h7m-7 5h7m-14 2h7m-38-4h7m-8 10h7m-62-12h7m-15 4h7m-13 5h7m-39 13h7m-1 5h7m31-3h7m32-4h7m-7 3h7m-6 4h7m-7-14h7m0 1h7m-3 6h7m0-4h7m-1 4h7m4 4h7m-6 1h7m-6 1h7m-6-7h7m-4 6h7m-7-7h7m-3 1h7m-5-3h7m-1 2h7m-7 0h7m4 4h7m-1-3h7m0-6h7m-5 9h7m-5 2h7m3 1h7m-5-5h7m5 2h7m-1-7h7m4 4h7m-7-5h7m-5 12h7m-23 16h7m-27-8h7m-18-6h7m-14 3h7m-18 0h7m-12 1h7m-13 1h7m-8-3h7m-12 6h7m-10 0h7m-11 6h7m-14-7h7m-15 7h7m-7-6h7m-11 6h7m-11 0h7m-14-11h7m-8 10h7m-13-1h7m-7-9h7m-26 9h7m-16-12h7m-15 0h7m-44 7h7m-10 4h7m-14-3h7m-9 1h7m-142 11h7m133 7h7m1-2h7m-4 0h7m16-2h7m-6 6h7m-6-6h7m28-5h7m7 5h7m-3 2h7m-3 3h7m-2-9h7m-6 4h7m1 5h7m-2-4h7m3-1h7m-3-4h7m-3 8h7m7 2h7m1-10h7m-4-3h7m-3 11h7m-1-2h7m5-7h7m6-2h7m-3 13h7m23 1h7m-18 5h7m-24-5h7m-24 3h7m-40-1h7m-10 0h7m-17 12h7m-7-11h7m-9 6h7m-17-4h7m-15-1h7m-11 7h7m-9-9h7m-12 11h7m-10-6h7m-9 0h7m-9 7h7m-8-1h7m-13-11h7m-8 1h7m-7 4h7m-8-1h7m-8-3h7m-8 1h7m-10 9h7m-7-10h7m-8 8h7m-7 0h7m-7 2h7m-13-6h7m-8 7h7m-13-10h7m-7 3h7m-7 6h7m-12-6h7m-10 5h7m-12-11h7m-7 5h7m-8 2h7m-11 5h7m-8-1h7m-8 0h7m-8-3h7m-9 3h7m-8 0h7m-8-1h7m-10-4h7m-11 1h7m-9 6h7m-9-6h7m-9 4h7m-8-1h7m-12-6h7m-11-3h7m-15-2h7m-8 3h7m-10 6h7m-8-9h7m-17 7h7m-23 3h7m-18-1h7m-31 5h7m-174 9h7m3 3h7m11-4h7m-6-1h7m72 4h7m-6-2h7m-2 6h7m10-9h7m7 4h7m6-9h7m4 8h7m-4 6h7m-2-13h7m-6 5h7m6 5h7m-4-1h7m-2-2h7m-7 4h7m-4 1h7m-2-8h7m-4 6h7m-3-8h7m-7 7h7m-1-8h7m-6 8h7m-5 2h7m-1-7h7m-4 3h7m-3-7h7m-7 3h7m-7 9h7m-6 1h7m-2-10h7m-5-1h7m-6-1h7m-6 0h7m-5 0h7m-5 6h7m-6 4h7m-4-5h7m-7-2h7m-7-3h7m-3-2h7m-7 13h7m-7-4h7m-6-6h7m-7-2h7m-4-1h7m-6 2h7m-7 0h7m-7 0h7m-5 3h7m-6 3h7m-7 4h7m-5 2h7m-7-9h7m-6 9h7m-5-3h7m-6-4h7m-7-2h7m-5-1h7m-7 5h7m-5 2h7m-3 0h7m-5-11h7m-5 6h7m-7 5h7m-7-9h7m-6 5h7m-5 1h7m-2 4h7m-6-8h7m-7 6h7m-4 2h7m-5-8h7m-7 7h7m-7-1h7m-7-7h7m-5-1h7m-4 3h7m-6 6h7m-3-5h7m-7 1h7m-7 4h7m-4 3h7m-7-7h7m-7 4h7m-6-11h7m-7 14h7m-6-8h7m-6-3h7m-6 10h7m-4-12h7m-6 11h7m-6 2h7m-7-5h7m-6-5h7m-4 10h7m-3-11h7m1 5h7m-3 6h7m-6-12h7m-2 12h7m-6-3h7m-5-9h7m-1 3h7m0-4h7m-3 7h7m-3-2h7m-6 2h7m1-8h7m6 27h7m-35-5h7m-11-1h7m-12-2h7m-9-4h7m-11 5h7m-9 8h7m-10 0h7m-9-4h7m-9-6h7m-8 9h7m-9-6h7m-10 5h7m-7-9h7m-15 1h7m-8 6h7m-8-7h7m-9 1h7m-10 6h7m-8-9h7m-8 2h7m-7 1h7m-8 7h7m-8-6h7m-7 5h7m-8-6h7m-10-1h7m-7 9h7m-9 3h7m-7-1h7m-10-3h7m-8 1h7m-8-7h7m-7 3h7m-7 6h7m-8-2h7m-7 2h7m-8-1h7m-8 2h7m-8 0h7m-7-4h7m-7 3h7m-8-9h7m-8 5h7m-10-1h7m-7-8h7m-9 6h7m-10 5h7m-7-4h7m-8 4h7m-7 2h7m-8 0h7m-7-9h7m-7 0h7m-8 10h7m-7-7h7m-8-7h7m-9 6h7m-7-5h7m-7 8h7m-9 1h7m-8 2h7m-8-10h7m-8 12h7m-7-1h7m-8-6h7m-8-4h7m-7 9h7m-8-8h7m-7 10h7m-7-10h7m-7-1h7m-9-3h7m-9 1h7m-8 5h7m-9 3h7m-7 3h7m-8-11h7m-7 11h7m-7 1h7m-8 0h7m-7-5h7m-7-7h7m-7 0h7m-8 10h7m-7 2h7m-7-10h7m-9-2h7m-7 6h7m-8 0h7m-7-5h7m-7 9h7m-8 2h7m-7-4h7m-7 0h7m-8 4h7m-7-3h7m-8-10h7m-7 10h7m-8 1h7m-7-4h7m-8 6h7m-8-3h7m-7 2h7m-8-10h7m-7 12h7m-8-7h7m-8 4h7m-9-7h7m-8-2h7m-7 3h7m-7-4h7m-9 13h7m-8-3h7m-7-7h7m-8 4h7m-8 6h7m-9-13h7m-7 13h7m-7-9h7m-8-4h7m-7 1h7m-7 8h7m-7-1h7m-8 1h7m-8-6h7m-7 0h7m-8 4h7m-7 1h7m-8 5h7m-9-9h7m-8 2h7m-7-4h7m-8 2h7m-7 0h7m-9-5h7m-7 0h7m-8 0h7m-8 0h7m-8 7h7m-7-1h7m-7-6h7m-7 2h7m-8 4h7m-7 4h7m-7-8h7m-7 0h7m-7 9h7m-9-10h7m-11 3h7m-7 4h7m-7-1h7m-7 5h7m-9-4h7m-7-5h7m-7 6h7m-8-4h7m-9-3h7m-8 7h7m-8-6h7m-8 8h7m-7 3h7m-8-3h7m-9-6h7m-8 4h7m-7-5h7m-9 1h7m-7 6h7m-7-6h7m-8 1h7m-7-6h7m-8 11h7m-8 3h7m-8-10h7m-9 7h7m-9-3h7m-8 4h7m-7-5h7m-9-3h7m-9 5h7m-7 0h7m-7 5h7m-8-3h7m-7-11h7m-8 7h7m-11-5h7m-8 9h7m-10 3h7m-9-4h7m-7-7h7m-8 1h7m-8 3h7m-14 2h7m-11 5h7m-13-1h7m-7-5h7m-11 4h7m-13-1h7m-9-8h7m-10 11h7m-7-7h7m-17-7h7m-9 12h7m-8-4h7m-20-7h7m-24 0h7m-24 13h7m-23-2h7m-31-6h7m-30 8h7m-11-6h7m-23 5h7m-21 10h7m68-2h7m-6-3h7m2-1h7m1 3h7m-4 5h7m-5-4h7m12-3h7m4 6h7m-4 5h7m-5-7h7m2 2h7m-2-2h7m-3 5h7m-7-1h7m-5-9h7m0 10h7m-3-5h7m-7 6h7m-6-9h7m-5-3h7m-4 4h7m-7 4h7m-7 3h7m-6-1h7m-7 1h7m-5 2h7m-2-13h7m-6 0h7m-7 7h7m-6-4h7m-4 2h7m-6 2h7m-5 0h7m-3 6h7m-7-3h7m-7-9h7m-7 9h7m-5-2h7m-7 1h7m-7-4h7m-6 5h7m-7-8h7m-7-1h7m-4 6h7m-6 5h7m-6-10h7m-7 0h7m-7 5h7m-6 5h7m-7-5h7m-6 5h7m-7-2h7m-6-5h7m-6-6h7m-6 14h7m-7-3h7m-6-6h7m-6 6h7m-6-4h7m-7 3h7m-7-4h7m-6 5h7m-7-8h7m-7 8h7m-6-9h7m-7 6h7m-6 2h7m-7 3h7m-6-1h7m-7-3h7m-7 4h7m-6-7h7m-7-5h7m-7 12h7m-7-1h7m-7-9h7m-6-3h7m-5 13h7m-6-6h7m-6-1h7m-6-1h7m-6 1h7m-7-6h7m-7 12h7m-5-4h7m-7-6h7m-6 12h7m-6-10h7m-6 6h7m-7-9h7m-7 13h7m-6-13h7m-7 13h7m-6-14h7m-7 8h7m-7-6h7m-6 10h7m-7 2h7m-7-4h7m-7 2h7m-6-5h7m-6 3h7m-7-7h7m-7 8h7m-6-11h7m-7 6h7m-6 4h7m-6-10h7m-7 0h7m-6 12h7m-6 2h7m-7-6h7m-7 6h7m-6-9h7m-7-4h7m-6 3h7m-7-4h7m-6 8h7m-7 6h7m-7-7h7m-7 1h7m-6 2h7m-7 0h7m-7 3h7m-6-10h7m-7 2h7m-6-5h7m-7 8h7m-7 1h7m-7 0h7m-7-9h7m-5 12h7m-7-12h7m-7 2h7m-7-1h7m-6 12h7m-6-8h7m-7-4h7m-7 0h7m-7 1h7m-7 4h7m-6 1h7m-7 3h7m-7 0h7m-7-9h7m-6 10h7m-7 1h7m-6 0h7m-7-1h7m-7-4h7m-7 2h7m-7-4h7m-7 1h7m-7 7h7m-6 1h7m-7-8h7m-6-5h7m-7 9h7m-6 3h7m-7-6h7m-7-3h7m-6 2h7m-7 1h7m-7-3h7m-7 10h7m-6-3h7m-7-1h7m-7-3h7m-6 3h7m-7-7h7m-6 8h7m-7 3h7m-7-1h7m-6-7h7m-7 0h7m-6-3h7m-6 7h7m-7-7h7m-7 6h7m-7 4h7m-7-9h7m-6 7h7m-7 0h7m-6 3h7m-7-7h7m-7 2h7m-6 5h7m-7-7h7m-7 4h7m-7-9h7m-6 9h7m-7 1h7m-7-10h7m-7 3h7m-7 7h7m-7 1h7m-7-13h7m-6 13h7m-6-10h7m-6 3h7m-7-1h7m-6 4h7m-7 1h7m-6-3h7m-7 6h7m-7-10h7m-7 0h7m-7 4h7m-7 3h7m-6-4h7m-7 4h7m-6-2h7m-7-2h7m-7 6h7m-7-7h7m-6-1h7m-7 8h7m-5 2h7m-7-11h7m-7 4h7m-6 1h7m-6-8h7m-7 7h7m-6 1h7m-7 3h7m-7 0h7m-5 0h7m-7-8h7m-4 10h7m-5-12h7m-7 6h7m-7 4h7m-6-10h7m-7 8h7m-4 5h7m-7-10h7m-5 2h7m-7-5h7m-7 9h7m-6 0h7m-7-5h7m-6 2h7m-4 4h7m-7-6h7m-7 6h7m-6-1h7m-7-4h7m-7 1h7m-6 5h7m-7-6h7m-5 6h7m-6 2h7m-7-10h7m-5-2h7m-6-2h7m-6 0h7m-7 2h7m-7 4h7m-5-2h7m-7 9h7m-6-4h7m-6 5h7m-4-4h7m-7 0h7m-7-8h7m-7 8h7m-5 2h7m-7-12h7m-6 0h7m-7 14h7m-6-9h7m-6 0h7m-5 6h7m-6 2h7m-4-6h7m-7 4h7m-7-11h7m-6 1h7m-7 9h7m-6-2h7m-7-3h7m-6-3h7m-7 1h7m-5 6h7m1 2h7m-7-3h7m-3-5h7m-1-2h7m-6 10h7m-7-9h7m-5 6h7m-2 1h7m-5 0h7m-7-1h7m-6 0h7m4 4h7m-5-1h7m0 2h7m42 16h7m-84-12h7m-9 6h7m-10 5h7m-19-9h7m-8-3h7m-7 6h7m-13-5h7m-8 2h7m-10-4h7m-10 13h7m-7-9h7m-8 6h7m-12-3h7m-9 3h7m-10-2h7m-7-6h7m-9-2h7m-9 1h7m-8 13h7m-8-8h7m-8-2h7m-8-4h7m-7 10h7m-11-1h7m-8-2h7m-7-5h7m-9 3h7m-8 6h7m-7-2h7m-8-7h7m-7 0h7m-8 4h7m-7 4h7m-8 0h7m-7 4h7m-8-14h7m-10 1h7m-8 0h7m-9 1h7m-8 6h7m-8-7h7m-7 3h7m-8-4h7m-8 4h7m-8 3h7m-8-2h7m-9 7h7m-7 2h7m-10-5h7m-7-2h7m-8-5h7m-7 11h7m-7-4h7m-8 5h7m-8-9h7m-7 5h7m-7-1h7m-8-5h7m-7 5h7m-8-8h7m-7 0h7m-7 5h7m-7 0h7m-7 4h7m-8-8h7m-7 9h7m-7-7h7m-8 6h7m-7-7h7m-7 4h7m-7 0h7m-7-5h7m-7-1h7m-8 0h7m-7 2h7m-7-2h7m-8 8h7m-7 3h7m-8-8h7m-8 7h7m-7-5h7m-7 0h7m-8 7h7m-7-10h7m-7 3h7m-8 2h7m-8-8h7m-7 9h7m-7-7h7m-8 1h7m-7 8h7m-7 1h7m-8 0h7m-7-5h7m-7 2h7m-7-2h7m-7-2h7m-8 5h7m-7-3h7m-8-6h7m-7 4h7m-8-5h7m-7 10h7m-7-1h7m-7 1h7m-7-3h7m-8 3h7m-7 4h7m-8-5h7m-7 3h7m-7-4h7m-8 2h7m-7-4h7m-7-1h7m-7 4h7m-7-3h7m-7 2h7m-7 6h7m-8-11h7m-7 8h7m-7 1h7m-7-5h7m-8 5h7m-7-8h7m-7 9h7m-8-10h7m-7 8h7m-7-11h7m-8 4h7m-8 1h7m-7-4h7m-7 0h7m-7 9h7m-8-6h7m-7 7h7m-8-10h7m-8-1h7m-7 12h7m-7-12h7m-7 8h7m-7-4h7m-7-1h7m-8 9h7m-7-8h7m-7 7h7m-7-5h7m-8-2h7m-7 8h7m-7 2h7m-7-11h7m-8 0h7m-7 11h7m-7-6h7m-7 2h7m-7-2h7m-7 6h7m-7-8h7m-8 3h7m-7-3h7m-7 4h7m-7 0h7m-7 0h7m-8-2h7m-7-8h7m-7 11h7m-7 3h7m-8-14h7m-7 0h7m-7 13h7m-8 0h7m-7-4h7m-7-2h7m-7 6h7m-7-7h7m-7-6h7m-8 9h7m-7 4h7m-7-6h7m-7-3h7m-7 4h7m-7-1h7m-8-1h7m-7-2h7m-7 3h7m-8-6h7m-8-1h7m-7 14h7m-7-12h7m-8-2h7m-7 7h7m-8 2h7m-8 5h7m-7-2h7m-7-9h7m-7-3h7m-7 10h7m-8-9h7m-7 11h7m-7 0h7m-8-10h7m-7 7h7m-7-1h7m-7-4h7m-8-3h7m-7-1h7m-8 4h7m-7 7h7m-7-11h7m-8 13h7m-8-3h7m-7-9h7m-8 3h7m-9 2h7m-7 2h7m-7-4h7m-8-4h7m-7 3h7m-7 6h7m-8 0h7m-8-4h7m-8 8h7m-7-6h7m-8 5h7m-7-11h7m-8 8h7m-7-6h7m-8 7h7m-7-9h7m-7 6h7m-7-6h7m-7 5h7m-8 3h7m-7-8h7m-7 8h7m-8 1h7m-7-7h7m-8 1h7m-7-3h7m-8 8h7m-8-7h7m-8 12h7m-7-6h7m-7-7h7m-8 10h7m-7-9h7m-8 2h7m-7 1h7m-8 2h7m-7-4h7m-7 4h7m-7-1h7m-8 1h7m-8-5h7m-8 6h7m-7-2h7m-8-2h7m-7 4h7m-7 0h7m-7-6h7m-8 5h7m-7 0h7m-7-5h7m-8-1h7m-8 1h7m-7 0h7m-7 4h7m-8-3h7m-7 10h7m-8-12h7m-8 7h7m-7-6h7m-7 10h7m-7-3h7m-8 2h7m-7-7h7m-8 10h7m-8 0h7m-7-2h7m-8 2h7m-7-6h7m-8-3h7m-8 9h7m-11 0h7m-8-1h7m-8-3h7m-8 0h7m-7 3h7m-7-1h7m-8-5h7m-8-4h7m-8 1h7m-7 1h7m-8-5h7m-7 12h7m-7 1h7m-8-2h7m-7-6h7m-7 4h7m-8-2h7m-8-5h7m-7 9h7m-7-2h7m-8-2h7m-8 7h7m-11-9h7m-7 7h7m-7-11h7m-8 4h7m-10-3h7m-10-1h7m-9 4h7m-8 1h7m-8 6h7m-8 2h7m-9-8h7m-9 6h7m-7-5h7m-7 6h7m-9 1h7m-9-8h7m-7 6h7m-8 2h7m-7-14h7m-8 14h7m-11-8h7m-10 7h7m-9-8h7m-18-3h7m-10 11h7m-8-3h7m-17 3h7m-13-4h7m-13-2h7m-9 2h7m-8 4h7m-10-2h7m-10-8h7m-20 7h7m-53-6h7m-10 10h7m-18-7h7m-8 6h7m-8-12h7m-24 2h7m25 15h7m8 5h7m4 1h7m-1 2h7m-6 0h7m1-8h7m11 8h7m-5-9h7m-7 8h7m-3-5h7m-5-2h7m-4 1h7m-5-3h7m-7 3h7m-6 1h7m-6 7h7m-4-9h7m-3 11h7m-6-6h7m-7 2h7m-5 3h7m-3-7h7m-5-3h7m-6 9h7m-6-2h7m-5 2h7m-7-3h7m-6-8h7m-7-1h7m-7 12h7m-5-12h7m-7 4h7m-6 5h7m-6-3h7m-6 1h7m-6-5h7m-6 7h7m-7 3h7m-7-2h7m-6 4h7m-7-2h7m-6 2h7m-7-10h7m-5 8h7m-7 1h7m-7-1h7m-5-2h7m-7-2h7m-6 3h7m-6-11h7m-4 5h7m-4-2h7m-7 2h7m-7 6h7m-4 2h7m-7-5h7m-6-1h7m-6 3h7m-5-3h7m-6-6h7m-7 11h7m-5 0h7m-7-11h7m-7 10h7m-6-5h7m-5 4h7m-6-4h7m-6 8h7m-7-12h7m-6 5h7m-7-3h7m-6 9h7m-7-1h7m-6-7h7m-7-1h7m-6 10h7m-7-5h7m-6 1h7m-6 4h7m-6-14h7m-7 4h7m-7 7h7m-7-8h7m-7 7h7m-7-9h7m-7 12h7m-5-12h7m-7 3h7m-7 3h7m-6 1h7m-7-6h7m-6 6h7m-7 6h7m-6-4h7m-6-6h7m-7 7h7m-7-3h7m-7-6h7m-5 9h7m-7 1h7m-7-3h7m-6 1h7m-7-1h7m-6-4h7m-7 1h7m-6 7h7m-7-11h7m-7 1h7m-7 11h7m-6-2h7m-7-5h7m-7 2h7m-4 0h7m-6-8h7m-7-1h7m-6 10h7m-6-6h7m-5 0h7m-6 8h7m-6 1h7m-7 1h7m-6-12h7m-7 2h7m-7 6h7m-6-9h7m-7 5h7m-7 5h7m-6 3h7m-7 0h7m-4-1h7m-7-7h7m-7 5h7m-6-1h7m-7 2h7m-7 2h7m-6-14h7m-7 14h7m-7-6h7m-6 3h7m-6-9h7m-7 6h7m-7-1h7m-6-1h7m-7 8h7m-6-13h7m-7 8h7m-7-6h7m-7 9h7m-6 0h7m-7-11h7m-7-1h7m-6 0h7m-6 1h7m-7 6h7m-7-2h7m-7-1h7m-7-1h7m-6 2h7m-7 7h7m-6-5h7m-7 3h7m-7-1h7m-6 0h7m-7 1h7m-6 0h7m-7-9h7m-7 8h7m-7 0h7m-7-7h7m-6 12h7m-7-2h7m-7-10h7m-7-1h7m-7 13h7m-7-7h7m-7-2h7m-6 7h7m-7-8h7m-7 9h7m-6-9h7m-7 3h7m-7-1h7m-7 8h7m-7 0h7m-7-11h7m-7-1h7m-6-1h7m-7 1h7m-7 11h7m-6-3h7m-7 0h7m-7 4h7m-7-2h7m-6-7h7m-7-3h7m-6-2h7m-7 6h7m-6-5h7m-7 1h7m-7 2h7m-7 0h7m-6-1h7m-7-2h7m-5 0h7m-7 11h7m-7-9h7m-7-2h7m-6 4h7m-6-4h7m-6 1h7m-7 7h7m-5-5h7m-7-3h7m-7 13h7m-6-2h7m-7-10h7m-7 0h7m-7 8h7m-7 2h7m-7 1h7m-6-11h7m-7 6h7m-7-8h7m-6 0h7m-7 5h7m-6-5h7m-7 7h7m-7 7h7m-6-4h7m-7-4h7m-7 2h7m-6-1h7m-7 3h7m-7 0h7m-6-6h7m-7 4h7m-6-4h7m-7-4h7m-7 8h7m-7-7h7m-6 10h7m-7-7h7m-7 9h7m-5-9h7m-7 4h7m-7-4h7m-6 6h7m-7-5h7m-6-4h7m-7 8h7m-7 5h7m-7-5h7m-6 3h7m-6-7h7m-7 9h7m-6-12h7m-6-1h7m-7 10h7m-7-5h7m-7-1h7m-7 5h7m-7-2h7m-6 2h7m-7-10h7m-7 5h7m-7-2h7m-7 5h7m-7 0h7m-6 2h7m-7-3h7m-7 0h7m-7-4h7m-7 4h7m-6 0h7m-7-7h7m-6 1h7m-7 12h7m-6-6h7m-7 6h7m-7-13h7m-6 7h7m-7-1h7m-4-3h7m-7 1h7m-7 0h7m-6 4h7m-7-6h7m-7-2h7m-5 1h7m-6 2h7m-7 11h7m-6-7h7m-7 5h7m-7-5h7m-7 2h7m-7-4h7m-7-5h7m-6 9h7m-7-2h7m-6 7h7m-7-11h7m-7-1h7m-6 0h7m-6 3h7m-7-4h7m-5 3h7m-7 3h7m-6-7h7m-7 7h7m-6 7h7m-7-4h7m-7-6h7m-5 6h7m-7 2h7m-7 0h7m-6-11h7m-7 8h7m-7 1h7m-6-8h7m-7 5h7m-7 4h7m-5-2h7m-7-3h7m-6-1h7m-6-3h7m-7 1h7m-7-2h7m-7 13h7m-4-9h7m-7 7h7m-5-6h7m-7 1h7m-6-3h7m-6 5h7m-6-7h7m-6 5h7m-7-3h7m-6-2h7m-6 4h7m-5 5h7m-7-5h7m-6-3h7m-7 3h7m-7-6h7m-6 11h7m-7-8h7m-6 4h7m-7 1h7m-7-1h7m-5-6h7m-5 4h7m-7-2h7m-6-1h7m-6 0h7m-7-1h7m-7 2h7m-4 2h7m-7-3h7m-7 6h7m-3 1h7m-5-6h7m-2-3h7m-5 5h7m-1 3h7m0-1h7m-6-7h7m-6 12h7m15-11h7m3 8h7m19 1h7m21-9h7m-91 18h7m-8 8h7m-8-9h7m-10-2h7m-9 7h7m-10-4h7m-18 2h7m-13 1h7m-8 6h7m-13-5h7m-9 1h7m-9-8h7m-9 0h7m-9 4h7m-9 1h7m-8-2h7m-8-2h7m-8 3h7m-8 1h7m-9 2h7m-8-4h7m-7-2h7m-8 5h7m-8-4h7m-7 0h7m-8-2h7m-8 3h7m-8-1h7m-8-1h7m-7-1h7m-9 7h7m-7-8h7m-7 13h7m-7-12h7m-10 5h7m-7-2h7m-7 9h7m-7-5h7m-8-7h7m-7 8h7m-10-3h7m-8 0h7m-7 6h7m-9-1h7m-7-1h7m-9-3h7m-8 4h7m-7-7h7m-8 2h7m-8 8h7m-7-6h7m-8 2h7m-8-8h7m-8-2h7m-7 2h7m-8 8h7m-8-4h7m-7-1h7m-7 2h7m-8 6h7m-9-1h7m-7-4h7m-8-2h7m-7-5h7m-9 7h7m-7-6h7m-8-1h7m-7 7h7m-9-8h7m-7 1h7m-10 2h7m-8 10h7m-7-2h7m-9-4h7m-7-6h7m-7 3h7m-8 2h7m-8 3h7m-7-9h7m-7 4h7m-8 9h7m-7-1h7m-8-12h7m-7 8h7m-7-7h7m-8 1h7m-7 7h7m-8-2h7m-7-1h7m-7-3h7m-8 10h7m-8 1h7m-7-11h7m-7 10h7m-7-2h7m-7-1h7m-8-5h7m-7 2h7m-8-2h7m-8-3h7m-8 1h7m-7 10h7m-7-12h7m-7 4h7m-7 2h7m-8 2h7m-8-8h7m-7 0h7m-8 12h7m-7-3h7m-8-1h7m-7-6h7m-7 2h7m-7 6h7m-7 3h7m-9-14h7m-7 0h7m-7 7h7m-7-3h7m-8 6h7m-7-10h7m-7 13h7m-7-7h7m-7 4h7m-8-4h7m-7 6h7m-8-9h7m-8 2h7m-8-2h7m-7-3h7m-7 0h7m-8 0h7m-7 12h7m-7-4h7m-7 1h7m-8-2h7m-7 6h7m-7-7h7m-7-1h7m-8 4h7m-7-6h7m-7-2h7m-7 12h7m-8-12h7m-8 8h7m-8-9h7m-7 10h7m-7-5h7m-8 0h7m-7-1h7m-7-2h7m-7 9h7m-8-5h7m-8 5h7m-7 3h7m-7-11h7m-7-2h7m-8 1h7m-7 2h7m-7 2h7m-8 6h7m-8 0h7m-7-2h7m-7-3h7m-8 2h7m-7 5h7m-8-14h7m-7 11h7m-8-6h7m-7-3h7m-7 1h7m-7 7h7m-7-2h7m-8-4h7m-8 5h7m-7-4h7m-7 3h7m-7 4h7m-8-11h7m-8 9h7m-7-6h7m-8 6h7m-7-2h7m-7-4h7m-7-1h7m-8 3h7m-7 0h7m-7-3h7m-8-3h7m-7 10h7m-7-8h7m-8 5h7m-7-4h7m-7 3h7m-9-2h7m-7 6h7m-7-6h7m-8 5h7m-7-3h7m-8 5h7m-9-4h7m-7 3h7m-7-5h7m-7 1h7m-7-6h7m-8 5h7m-8 2h7m-7-7h7m-8 14h7m-8-4h7m-7-2h7m-9-6h7m-8 3h7m-8-5h7m-7 2h7m-7 8h7m-7-1h7m-8-2h7m-7-6h7m-7 13h7m-7-9h7m-8 7h7m-9-5h7m-8 2h7m-7 3h7m-8-7h7m-7-1h7m-8 10h7m-7-8h7m-7 4h7m-8-1h7m-7-3h7m-8 0h7m-8 8h7m-7-3h7m-7-8h7m-7 0h7m-7 8h7m-7-10h7m-8 0h7m-8 1h7m-7 11h7m-7-8h7m-8 4h7m-7 5h7m-9-2h7m-8-12h7m-7 4h7m-7 3h7m-7-7h7m-8 6h7m-7-5h7m-8 6h7m-7 0h7m-7 5h7m-7-5h7m-7 3h7m-8-8h7m-8 12h7m-7-8h7m-8-5h7m-7 13h7m-8-8h7m-7 7h7m-8-6h7m-7-2h7m-7-4h7m-7 5h7m-8-1h7m-7-3h7m-9 4h7m-7 4h7m-8-9h7m-8 10h7m-7 1h7m-8-2h7m-8-2h7m-8 4h7m-7-1h7m-8-9h7m-8 6h7m-7-8h7m-7 5h7m-7 2h7m-10-2h7m-7 8h7m-7-10h7m-8-3h7m-8 7h7m-8-1h7m-7 4h7m-10-3h7m-7 6h7m-8-7h7m-8 7h7m-7-4h7m-7 2h7m-8-10h7m-8 0h7m-8 0h7m-9 8h7m-8-3h7m-8 8h7m-8-6h7m-9-1h7m-7 6h7m-11-8h7m-8-3h7m-7 6h7m-8-1h7m-8 2h7m-8-1h7m-7-3h7m-7 4h7m-11-5h7m-8 8h7m-8 0h7m-8 0h7m-8 1h7m-7-7h7m-11 5h7m-7-4h7m-17-5h7m-8 1h7m-8 5h7m-10 1h7m-13-7h7m-16 3h7m-11 9h7m-7-7h7m-8 2h7m-8-1h7m-8 4h7m-12-4h7m-9 0h7m-7 2h7m-9 4h7m-13-9h7m-12 5h7m-13 2h7m-8-7h7m-49 6h7m11 4h7m-1 11h7m-5-10h7m7 9h7m7 0h7m-3 1h7m-3-5h7m3-1h7m-6-5h7m-5 3h7m-2 1h7m-4 3h7m-5-5h7m-6 5h7m-6 4h7m-7-4h7m-7 4h7m-6-1h7m8-8h7m-5-1h7m-1 1h7m-7 9h7m-5-10h7m-4-1h7m-5 0h7m-1 5h7m-6 7h7m-7-10h7m-6 11h7m-7 0h7m-6-10h7m-7 4h7m-4 1h7m-3 2h7m-7 1h7m-7 2h7m-6-9h7m-5 9h7m-5-12h7m-6 1h7m-7 6h7m-7-5h7m-7 3h7m-3 4h7m-6-7h7m-4 4h7m-7-6h7m-6 7h7m-7-8h7m-6 1h7m-6 8h7m-4-4h7m-7 1h7m-7 8h7m-6-11h7m-7 11h7m-5-2h7m-5-1h7m-6-5h7m-6 4h7m-7 3h7m-6 0h7m-7-10h7m-7-3h7m-7 6h7m-6-3h7m-6-1h7m-7 5h7m-7 2h7m-7-4h7m-6 8h7m-6-2h7m-6-5h7m-7 8h7m-6-3h7m-5 2h7m-7-3h7m-7-10h7m-7 11h7m-5 0h7m-7-4h7m-7-4h7m-6 1h7m-5 3h7m-7-2h7m-7-3h7m-6 1h7m-6 7h7m-7-1h7m-6-2h7m-6-7h7m-7 12h7m-5-5h7m-7 6h7m-7-10h7m-7 1h7m-7 10h7m-7-1h7m-4-13h7m-7 14h7m-7-14h7m-5 5h7m-7 9h7m-6-10h7m-7-3h7m-7 7h7m-6 0h7m-6-1h7m-7-5h7m-6 9h7m-5 0h7m-7-7h7m-6 6h7m-6-1h7m-7 2h7m-6-5h7m-7 3h7m-7-9h7m-6 6h7m-7-3h7m-6 0h7m-7-3h7m-7 4h7m-7 6h7m-6-7h7m-7 0h7m-7-1h7m-6 9h7m-6-11h7m-7 14h7m-7-11h7m-6 10h7m-6-11h7m-6-2h7m-6 0h7m-7 2h7m-7 1h7m-5 6h7m-6-9h7m-7 3h7m-7 10h7m-6-11h7m-6 4h7m-7 6h7m-6 2h7m-5-10h7m-6 5h7m-7-7h7m-6 1h7m-7 5h7m-7-8h7m-7 8h7m-6 2h7m-6-2h7m-7 2h7m-6-3h7m-7-5h7m-5-1h7m-7 5h7m-6 5h7m-7 1h7m-7-6h7m-7-2h7m-6 6h7m-7 1h7m-6-11h7m-6 2h7m-5 0h7m-7 3h7m-7-5h7m-7 14h7m-6 0h7m-7-1h7m-7-12h7m-7 0h7m-7 4h7m-6 9h7m-5-9h7m-7-4h7m-6 8h7m-3-8h7m-5 13h7m-6-5h7m-7-8h7m-7 8h7m-5-7h7m-6 3h7m-6-3h7m-7 2h7m-4 1h7m-7-3h7m-7-2h7m-4 6h7m-7-5h7m-5 6h7m-5 2h7m-5-8h7m-7 1h7m-7 8h7m-6-4h7m-5 1h7m-6-2h7m-7-3h7m-5 5h7m-7-7h7m-6 13h7m-5-13h7m-7 6h7m-3-6h7m-5 4h7m-6 8h7m-6-11h7m-5 5h7m1-4h7m-6 7h7m-7 0h7m-2-1h7m-7-7h7m-4 1h7m-1 9h7m-3-10h7m-6-1h7m5 0h7m0 6h7m159-6h7m-205 28h7m-15-2h7m-15-6h7m-7 1h7m-8-2h7m-14-3h7m-10 4h7m-13-4h7m-9 12h7m-11-10h7m-10 3h7m-12 2h7m-8-4h7m-8 10h7m-14-11h7m-8 9h7m-13-1h7m-9-7h7m-8-2h7m-10 6h7m-7 0h7m-8-5h7m-10-3h7m-10 10h7m-9-9h7m-7-1h7m-8 0h7m-9 11h7m-8 1h7m-7-3h7m-8 1h7m-7-5h7m-11-5h7m-8 2h7m-10 9h7m-8-5h7m-11-5h7m-9 2h7m-8 4h7m-9 3h7m-7-9h7m-7 9h7m-9-3h7m-7-5h7m-8 3h7m-7-3h7m-8 6h7m-7-5h7m-8 0h7m-8 2h7m-7 9h7m-7-13h7m-8 11h7m-7-9h7m-8 1h7m-8 5h7m-8 4h7m-7 1h7m-7-7h7m-7-3h7m-8-4h7m-7 10h7m-9 0h7m-8 1h7m-7-5h7m-9-3h7m-7 11h7m-8-4h7m-8-7h7m-7 4h7m-8-5h7m-7 12h7m-7-2h7m-8 0h7m-7 1h7m-9-6h7m-7-7h7m-7 14h7m-8-2h7m-8-11h7m-7 0h7m-8-1h7m-7 13h7m-7-6h7m-8 6h7m-8-3h7m-7 4h7m-7-8h7m-8 8h7m-8-5h7m-8 0h7m-7-4h7m-7-4h7m-7 0h7m-7 11h7m-10-6h7m-10-6h7m-7 2h7m-8 11h7m-7-10h7m-8 7h7m-8-9h7m-8 8h7m-8 2h7m-7-11h7m-8 14h7m-8-6h7m-7-5h7m-9 11h7m-8 0h7m-8-6h7m-8-1h7m-7 6h7m-9-7h7m-8-3h7m-7 5h7m-8-3h7m-10 8h7m-8-10h7m-8 1h7m-10-3h7m-8 3h7m-7 9h7m-9 0h7m-10 0h7m-11-12h7m-9 13h7m-8-13h7m-7-1h7m-15 0h7m-8 11h7m-10 3h7m-9-8h7m-12 6h7m-9-2h7m-7 2h7m-9-5h7m-8 6h7m-7-12h7m-13 13h7m-13 0h7m-10-7h7m-12-3h7m-21 6h7m-18-5h7m-41 5h7m-2 8h7m10 5h7m-2-5h7m0-2h7m23 6h7m-3-7h7m-4 1h7m10 13h7m-6-6h7m-3-7h7m-3 1h7m-7 10h7m4-11h7m-6-1h7m-6 1h7m-6 3h7m1 2h7m-3 2h7m-5 0h7m-7-4h7m-5 3h7m-1-6h7m-7 7h7m-5-4h7m-6-3h7m-6 4h7m-4 5h7m-2-4h7m-6-3h7m-3 0h7m-5 0h7m-7-2h7m-5 8h7m-6-3h7m-3-3h7m4 3h7m-4-3h7m-7-1h7m-1-1h7m1 9h7m-5-3h7m-6-4h7m-4 4h7m-5-2h7m-5 3h7m-4 0h7m-1-5h7m1-1h7m5 12h7m10-4h7m-41 7h7m-26-2h7m-23 0h7m-14 12h7m-8-9h7m-18 4h7m-7-3h7m-16 0h7m-11 8h7m-14-9h7m-19-3h7m-11 3h7m-31-2h7m-14 12h7m-15-9h7m-16 10h7m-7-7h7m39 9h7m7 2h7m13 3h7m51-2h7" stroke="#111" stroke-width="7" opacity="1.0" fill="none"/>
<path d="M254.6 438.2H317.4V501.6" fill="none" stroke="#111" stroke-width="1.0"/>
<path d="M254.6 437.7V501.6H317.9" fill="none" stroke="#111" stroke-width="1.25"/>
<path d="M254.6 501.6v3.0M254.6 501.6h-3.0M270.3 501.6v3.0M254.6 485.75h-3.0M286 501.6v3.0M254.6 469.9h-3.0M301.7 501.6v3.0M254.6 454.05h-3.0M317.4 501.6v3.0M254.6 438.2h-3.0M259.3 501.6v1.5M254.6 496.8h-1.5M262.1 501.6v1.5M254.6 494.0h-1.5M264.1 501.6v1.5M254.6 492.1h-1.5M265.6 501.6v1.5M254.6 490.5h-1.5M266.8 501.6v1.5M254.6 489.3h-1.5M267.9 501.6v1.5M254.6 488.2h-1.5M268.8 501.6v1.5M254.6 487.3h-1.5M269.6 501.6v1.5M254.6 486.5h-1.5M275.0 501.6v1.5M254.6 481.0h-1.5M277.8 501.6v1.5M254.6 478.2h-1.5M279.8 501.6v1.5M254.6 476.2h-1.5M281.3 501.6v1.5M254.6 474.7h-1.5M282.5 501.6v1.5M254.6 473.4h-1.5M283.6 501.6v1.5M254.6 472.4h-1.5M284.5 501.6v1.5M254.6 471.4h-1.5M285.3 501.6v1.5M254.6 470.6h-1.5M290.7 501.6v1.5M254.6 465.1h-1.5M293.5 501.6v1.5M254.6 462.3h-1.5M295.5 501.6v1.5M254.6 460.4h-1.5M297.0 501.6v1.5M254.6 458.8h-1.5M298.2 501.6v1.5M254.6 457.6h-1.5M299.3 501.6v1.5M254.6 456.5h-1.5M300.2 501.6v1.5M254.6 455.6h-1.5M301.0 501.6v1.5M254.6 454.8h-1.5M306.4 501.6v1.5M254.6 449.3h-1.5M309.2 501.6v1.5M254.6 446.5h-1.5M311.2 501.6v1.5M254.6 444.5h-1.5M312.7 501.6v1.5M254.6 443.0h-1.5M313.9 501.6v1.5M254.6 441.7h-1.5M315.0 501.6v1.5M254.6 440.7h-1.5M315.9 501.6v1.5M254.6 439.7h-1.5M316.7 501.6v1.5M254.6 438.9h-1.5" stroke="#111" stroke-width="0.9" fill="none"/>
<text x="249.74" y="513.4" font-size="7.1" fill="#222" stroke="#222" stroke-width="0.14" textLength="7.8" lengthAdjust="spacingAndGlyphs">10</text><text x="258.04" y="511.18" font-size="4" fill="#222" stroke="#222" stroke-width="0.08">0</text>
<text x="239.28" y="504.2" font-size="7.1" fill="#222" stroke="#222" stroke-width="0.14" textLength="7.8" lengthAdjust="spacingAndGlyphs">10</text><text x="247.58" y="501.98" font-size="4" fill="#222" stroke="#222" stroke-width="0.08">0</text>
<text x="265.44" y="513.4" font-size="7.1" fill="#222" stroke="#222" stroke-width="0.14" textLength="7.8" lengthAdjust="spacingAndGlyphs">10</text><text x="273.74" y="511.18" font-size="4" fill="#222" stroke="#222" stroke-width="0.08">1</text>
<text x="239.28" y="488.35" font-size="7.1" fill="#222" stroke="#222" stroke-width="0.14" textLength="7.8" lengthAdjust="spacingAndGlyphs">10</text><text x="247.58" y="486.13" font-size="4" fill="#222" stroke="#222" stroke-width="0.08">1</text>
<text x="281.14" y="513.4" font-size="7.1" fill="#222" stroke="#222" stroke-width="0.14" textLength="7.8" lengthAdjust="spacingAndGlyphs">10</text><text x="289.44" y="511.18" font-size="4" fill="#222" stroke="#222" stroke-width="0.08">2</text>
<text x="239.28" y="472.5" font-size="7.1" fill="#222" stroke="#222" stroke-width="0.14" textLength="7.8" lengthAdjust="spacingAndGlyphs">10</text><text x="247.58" y="470.28" font-size="4" fill="#222" stroke="#222" stroke-width="0.08">2</text>
<text x="296.84" y="513.4" font-size="7.1" fill="#222" stroke="#222" stroke-width="0.14" textLength="7.8" lengthAdjust="spacingAndGlyphs">10</text><text x="305.14" y="511.18" font-size="4" fill="#222" stroke="#222" stroke-width="0.08">3</text>
<text x="239.28" y="456.65" font-size="7.1" fill="#222" stroke="#222" stroke-width="0.14" textLength="7.8" lengthAdjust="spacingAndGlyphs">10</text><text x="247.58" y="454.43" font-size="4" fill="#222" stroke="#222" stroke-width="0.08">3</text>
<text x="312.54" y="513.4" font-size="7.1" fill="#222" stroke="#222" stroke-width="0.14" textLength="7.8" lengthAdjust="spacingAndGlyphs">10</text><text x="320.84" y="511.18" font-size="4" fill="#222" stroke="#222" stroke-width="0.08">4</text>
<text x="239.28" y="440.8" font-size="7.1" fill="#222" stroke="#222" stroke-width="0.14" textLength="7.8" lengthAdjust="spacingAndGlyphs">10</text><text x="247.58" y="438.58" font-size="4" fill="#222" stroke="#222" stroke-width="0.08">4</text>
<path transform="scale(.1)" d="M4091 4388h7m-6 0h7m-2 0h7m-4 0h7m-7 0h7m-5 0h7m-5 0h7m-2 0h7m-5 0h7m-5 0h7m-1 0h7m-5 0h7m-3 0h7m-6 0h7m-6 0h7m3 0h7m-4 0h7m-1 0h7m-6 0h7m-6 0h7m-5 0h7m-5 0h7m-1 0h7m-6 0h7m-3 0h7m-265 84h7m191 13h7m-80 7h7m-127 18h7m167 16h7m-82-3h7m49 30h7m-206 11h7m332 21h7m-48-5h7m-28-3h7m-229 5h7m123 22h7m87 0h7m13-10h7m19 7h7m46 17h7m-19-9h7m-25-3h7m-10 6h7m-8 4h7m-13 3h7m-34-13h7m-10 10h7m-17-1h7m-8 0h7m-15-3h7m-27 5h7m-9-9h7m-29 6h7m-221 3h7m107 16h7m74-13h7m3 7h7m-3 5h7m-6 2h7m-3 0h7m-2-3h7m-6-3h7m-6-7h7m-6 12h7m8-4h7m3-4h7m9-1h7m-4 10h7m2-14h7m-7 5h7m-4-3h7m9 0h7m22 0h7m0 5h7m4 21h7m-33-8h7m-16 4h7m-7 4h7m-18-12h7m-17 0h7m-16 1h7m-7-1h7m-12-1h7m-13 4h7m-11-2h7m-10 7h7m-8 3h7m-9 2h7m-16-3h7m-8-2h7m-8 5h7m-7-13h7m-10 12h7m-7-6h7m-7 0h7m-25 0h7m-12 1h7m-32-1h7m-14-5h7m-10 10h7m-17-9h7m-13 7h7m-12 3h7m-60-13h7m-28 1h7m63 28h7m0-10h7m0 8h7m-3-11h7m-5 5h7m-5 1h7m-2-5h7m2 1h7m-1 8h7m-5-6h7m-6 1h7m-4-1h7m1 7h7m-3-4h7m-3-3h7m-5-5h7m-3 5h7m-4-4h7m-3 7h7m-1 5h7m-5-5h7m1-4h7m-2 0h7m-6 1h7m-5 7h7m-4-10h7m4 5h7m-6 3h7m-1-1h7m-5-5h7m-5-1h7m-5 1h7m-4-2h7m-4 11h7m-3 0h7m1-3h7m-2-10h7m22 14h7m-29 6h7m-12 2h7m-9 1h7m-26 3h7m-17-9h7m-11 7h7m-11-7h7m-12 5h7m-8 6h7m-8-13h7m-8 4h7m-7 3h7m-9-4h7m-17 7h7m-7-4h7m-11-6h7m-7 11h7m-14 1h7m-19-3h7m-8-2h7m-10-2h7m-10 6h7m-8-8h7m-15 6h7m-12 3h7m-7-1h7m-14 1h7m-8-11h7m-19 1h7m-11 12h7m-15-14h7m-15 13h7m-13 1h7m-37-12h7m-23 4h7m-12-2h7m-111 19h7m11-5h7m58 5h7m31-7h7m2 9h7m6-9h7m-7 1h7m3-2h7m-4 14h7m6-4h7m-3-9h7m-6 7h7m-3 5h7m-4-13h7m3 14h7m-7-3h7m-4-4h7m-1 4h7m2 2h7m-4-12h7m-2 10h7m2-8h7m6 8h7m-6 0h7m-2-11h7m-4 2h7m-5-1h7m-6 11h7m-4-7h7m-6 7h7m-1-4h7m-6 1h7m0 0h7m-1-4h7m-4-4h7m-1 1h7m0 5h7m3 6h7m15-6h7m8-6h7m-2 7h7m-55 10h7m-8 4h7m-7-7h7m-15 3h7m-12 8h7m-12-3h7m-8-3h7m-15 5h7m-8 0h7m-14 1h7m-10-3h7m-10 0h7m-11-8h7m-18 11h7m-7-1h7m-14-7h7m-14 2h7m-8 8h7m-13-2h7m-15 3h7m-7-5h7m-7-2h7m-10 3h7m-11-9h7m-7 10h7m-9-5h7m-9 5h7m-14-4h7m-16 7h7m-10-6h7m-10-1h7m-9 2h7m-8-4h7m-8 9h7m-10-12h7m-26 9h7m-7 2h7m-16-9h7m-18 3h7m-11 0h7m-8-1h7m-8-5h7m-35 6h7m-3 12h7m17 10h7m-3-3h7m-6-3h7m3-7h7m-6 1h7m1 11h7m4-13h7m4 10h7m-2-3h7m0 1h7m-3 5h7m4-11h7m-4 1h7m2 11h7m-3-9h7m-3-1h7m-5 5h7m0-1h7m-4 4h7m3-11h7m-2 1h7m8 12h7m4-8h7m10-6h7m20 13h7m3 10h7m-28 0h7m-12-8h7m-40 10h7m-11 2h7m-18-4h7m-16 1h7m-16-2h7m-14-5h7m-10 10h7m-7-8h7m-8 7h7m-11-9h7m-8-2h7m-12 12h7m-8-10h7m-10 2h7m-10 1h7m-8-1h7m-9-3h7m-8 4h7m-8-2h7m-7 7h7m-11-10h7m-7 3h7m-13 6h7m-7-7h7m-12-2h7m-8 6h7m-15-2h7m-9 7h7m-13 3h7m-7-4h7m-10-9h7m-10 13h7m-7-11h7m-17 10h7m-7-3h7m-7 0h7m-9 1h7m-11 2h7m-18-10h7m-27 5h7m-9-2h7m-12-1h7m-7 6h7m-14-11h7m-22 14h7m-22-11h7m-55 3h7m-26 6h7m16 7h7m11 4h7m10-4h7m1 1h7m-4-5h7m5 6h7m4 0h7m-4-5h7m-5 2h7m-4-3h7m-6 5h7m-5 7h7m-2 0h7m10 1h7m-4-9h7m-3 4h7m-4-1h7m-1 1h7m-3 1h7m-3 3h7m-2 2h7m1-13h7m-5 2h7m-6 9h7m-6-12h7m-3 9h7m-5 0h7m-7-9h7m2 1h7m-3 5h7m-7-5h7m-6 6h7m-5 6h7m-1-7h7m3 1h7m7 6h7m-2-6h7m-5-4h7m-1 8h7m-5 1h7m0-4h7m-7-7h7m37 10h7m-6-3h7m-49 8h7m-23 0h7m-12 10h7m-15 3h7m-23-7h7m-13 5h7m-8-7h7m-11 8h7m-10-4h7m-12 3h7m-11 1h7m-7 1h7m-13-11h7m-10-2h7m-9 5h7m-8 0h7m-9 1h7m-9-6h7m-15 4h7m-13-1h7m-17 3h7m-11 0h7m-8 3h7m-12 0h7m-16-9h7m-8 0h7m-8 9h7m-10-10h7m-7 5h7m-11 6h7m-8-2h7m-8-1h7m-8 6h7m-9-7h7m-10 0h7m-8-7h7m-9 5h7m-15 5h7m-8-5h7m-8-5h7m-15 8h7m-10-6h7m-10-1h7m-33 7h7m-9 5h7m-10-5h7m-11 4h7m-9-3h7m-7 2h7m-19-10h7m-9 13h7m-7-9h7m-29 19h7m2-7h7m7 9h7m1-8h7m-3 1h7m-7-4h7m-2 11h7m-6-2h7m-5-6h7m-2 7h7m9 4h7m1-11h7m-6-1h7m-6 9h7m-6 3h7m1-4h7m-2 1h7m-7 0h7m0-4h7m-5-1h7m-5 2h7m-2 1h7m-6-1h7m-2 2h7m-6 1h7m5-2h7m-7-8h7m-3 6h7m1-6h7m7 7h7m-3-6h7m-4 6h7m9 3h7m-1 0h7m-1 0h7m4-4h7m1-6h7m-6 6h7m33-2h7m0 1h7m-4-6h7m2 11h7m-3 2h7m-100 12h7m-7 2h7m-14-11h7m-10 10h7m-9-4h7m-8-4h7m-8 8h7m-8-6h7m-10-3h7m-8 4h7m-11 4h7m-17 2h7m-9 0h7m-9-9h7m-12 3h7m-7 6h7m-8 0h7m-8 0h7m-9-4h7m-8 6h7m-8-11h7m-9-1h7m-7 2h7m-9 8h7m-10-1h7m-7-11h7m-8 7h7m-8 1h7m-9-5h7m-8 10h7m-7-5h7m-9-8h7m-16 11h7m-7-10h7m-7-1h7m-15 14h7m-11-12h7m-12-2h7m-8 13h7m-12-7h7m-19 0h7m-13 6h7m-7-9h7m-8 7h7m-7-10h7m-10 7h7m-8 3h7m-9-3h7m-8-5h7m-10 12h7m-8-10h7m-7 9h7m-16-3h7m-15-5h7m-9 2h7m-10 0h7m-12 4h7m-9-8h7m-7 10h7m-12-12h7m-8 10h7m-9-2h7m-9 4h7m-9-8h7m-20-4h7m-33 5h7m-60 4h7m-159 18h7m104-1h7m39 1h7m-3-6h7m-1 4h7m1-5h7m5 4h7m4-9h7m1-1h7m5 3h7m-6-2h7m-1 0h7m-7-1h7m8 6h7m-6-5h7m-4 8h7m-5-3h7m-4 6h7m-6-2h7m-7 1h7m-2 1h7m-6 2h7m-7-5h7m-5 2h7m-5-10h7m-6 8h7m-5 3h7m0-4h7m-6 6h7m-5-3h7m-4-10h7m-7 6h7m-3 7h7m-6-4h7m-5 1h7m-3-4h7m-7-2h7m-7 5h7m-4-8h7m-7 9h7m-3-10h7m-4 9h7m-7 4h7m-7-11h7m-7 7h7m-6-10h7m-3 12h7m-6-1h7m-4 0h7m-6-1h7m-5-5h7m8 1h7m-3-2h7m-6 1h7m-5 4h7m-6 1h7m-4-8h7m-6 2h7m-6 9h7m-7 0h7m-6-13h7m3 14h7m-5-9h7m-2-1h7m-3-2h7m-5 0h7m-4 5h7m0 3h7m-7-2h7m-3-7h7m-5 2h7m-3 6h7m-6-6h7m-2-1h7m-4 12h7m-7-10h7m-4 0h7m-5 8h7m-7-2h7m-1 3h7m-6-2h7m-4-9h7m-5-1h7m-6 1h7m3 11h7m-1-11h7m-4 4h7m20-1h7m17 1h7m32 5h7m-21 14h7m-52-9h7m-44 8h7m-13 1h7m-19-3h7m-35 4h7m-20 3h7m-10-13h7m-10 4h7m-7-5h7m-8 8h7m-9 1h7m-15 5h7m-12-14h7m-7 0h7m-14 12h7m-8 1h7m-9-5h7m-7 5h7m-7-11h7m-8 5h7m-7 4h7m-7-4h7m-10 0h7m-8-7h7m-8 3h7m-10 6h7m-7 5h7m-10-8h7m-7 4h7m-9-2h7m-12-1h7m-8 6h7m-8-2h7m-9-3h7m-9-8h7m-10 10h7m-8-8h7m-8-1h7m-11 10h7m-7-2h7m-7 0h7m-7 1h7m-14-10h7m-7 9h7m-11 2h7m-7-6h7m-10 5h7m-9-5h7m-8 8h7m-10-2h7m-7 1h7m-8-5h7m-7-4h7m-7 2h7m-9 7h7m-9 1h7m-8-3h7m-8-2h7m-8 4h7m-8-7h7m-10 4h7m-8 5h7m-8-2h7m-7-8h7m-8 4h7m-9 3h7m-7 2h7m-8-8h7m-7 8h7m-10-9h7m-10 2h7m-7 8h7m-8-4h7m-7 1h7m-8-1h7m-8-10h7m-10 3h7m-11 6h7m-10 3h7m-7-11h7m-10 9h7m-8-3h7m-7 2h7m-12 2h7m-7-8h7m-10 5h7m-9 6h7m-10-5h7m-12-9h7m-11 3h7m-9 4h7m-13 6h7m-8-10h7m-8 5h7m-41 6h7m-34-13h7m-7 11h7m-9-1h7m-61 2h7m-30-13h7m-45 21h7m52 8h7m-5-5h7m23 2h7m-7-10h7m1 6h7m9-7h7m27 14h7m-6-2h7m-5-8h7m-2-4h7m-7 8h7m-2 2h7m3-9h7m-4 9h7m-5-6h7m-6-2h7m-5-2h7m-1 13h7m2-8h7m-6-1h7m-4 5h7m-5-1h7m-7 1h7m-6-1h7m-3 5h7m-2-8h7m-6 3h7m-6 2h7m-4-9h7m-6 9h7m-4-6h7m-6 5h7m-6-2h7m-6 4h7m-6-4h7m-7-7h7m-4 11h7m-7-10h7m-6-1h7m-5 4h7m-4 5h7m-7-4h7m-5-5h7m-6 10h7m-7 3h7m-7-4h7m-6-8h7m-5 5h7m-7 3h7m-6 3h7m-6 0h7m-6-2h7m-7-9h7m-6 5h7m-7 7h7m-5 1h7m-6-3h7m-3 3h7m-5-3h7m-4-7h7m-7 8h7m-6-10h7m-7 9h7m-4-10h7m-6 13h7m-7-2h7m-5 0h7m-5-10h7m-5-1h7m-6 10h7m-7 3h7m-6-14h7m-6 14h7m-6-1h7m-6-13h7m-7 0h7m-7 8h7m-6-1h7m-6-1h7m-2-1h7m-6-5h7m-5 4h7m-7 4h7m-2 2h7m-6 1h7m-4-7h7m-7-2h7m-6 2h7m-6 5h7m-7-2h7m-4 0h7m-7 2h7m-6 4h7m-6-10h7m-6 1h7m-6 9h7m-3 1h7m-6 0h7m-6-11h7m-7 0h7m-5 1h7m-7 7h7m-3-10h7m-5 0h7m-6 10h7m-1-10h7m-6 13h7m-4-2h7m-6-1h7m-5-2h7m-7 0h7m-4 3h7m-7-12h7m-6 9h7m-7 2h7m-6-1h7m1 0h7m-2-2h7m-5-6h7m-6 5h7m-6-3h7m-5 8h7m1-6h7m-4-5h7m1 10h7m18-11h7m-4 11h7m4 0h7m19-4h7m-5 3h7m-12 12h7m-43 6h7m-18-1h7m-14-12h7m-13 8h7m-11 3h7m-10-8h7m-15 0h7m-15 11h7m-13-7h7m-12-7h7m-10 6h7m-8 2h7m-10 4h7m-8-3h7m-7-8h7m-12 1h7m-7 0h7m-7 6h7m-9 3h7m-7 0h7m-8-10h7m-10 0h7m-7 11h7m-9 2h7m-9-5h7m-8-4h7m-7-3h7m-8 4h7m-9 8h7m-7-12h7m-9 12h7m-7-10h7m-11 3h7m-7-2h7m-7-2h7m-8 11h7m-7-5h7m-8-3h7m-8-4h7m-9-1h7m-8 2h7m-8 1h7m-8 1h7m-7 5h7m-9 0h7m-10-2h7m-9-6h7m-8 0h7m-7 6h7m-9-1h7m-7-4h7m-10 8h7m-8-5h7m-9 4h7m-8-1h7m-7 4h7m-7-1h7m-8-3h7m-9 5h7m-8-7h7m-10 1h7m-7-5h7m-7 6h7m-8-4h7m-8-1h7m-8 10h7m-7-2h7m-8-12h7m-8 10h7m-7 1h7m-8-2h7m-7-4h7m-7-5h7m-8 7h7m-7 5h7m-8-4h7m-8-1h7m-9-4h7m-7-3h7m-8 9h7m-7 3h7m-8 2h7m-7-5h7m-9-9h7m-7 12h7m-8-5h7m-7-7h7m-8 7h7m-7-1h7m-8-2h7m-7-3h7m-9 2h7m-8 4h7m-7-1h7m-7-1h7m-8-2h7m-7 2h7m-8 6h7m-8-4h7m-7 1h7m-8-2h7m-7 5h7m-8-3h7m-7 0h7m-8-2h7m-9 6h7m-8-12h7m-11 11h7m-8-7h7m-7 2h7m-7-3h7m-8 2h7m-7-3h7m-9 1h7m-7 9h7m-8-11h7m-9 6h7m-7-1h7m-9-5h7m-7 11h7m-7-11h7m-8 5h7m-7-4h7m-8 3h7m-7 5h7m-7-5h7m-8 1h7m-7 8h7m-7-2h7m-7-7h7m-10 4h7m-7 1h7m-9-2h7m-8 2h7m-8-4h7m-10-4h7m-9 6h7m-10-7h7m-8 6h7m-7 4h7m-10-7h7m-8 6h7m-7-1h7m-9 4h7m-7-5h7m-7 3h7m-9-9h7m-8 3h7m-9 7h7m-7-7h7m-11 7h7m-8 2h7m-7-9h7m-9-2h7m-8 8h7m-7-3h7m-7-4h7m-10-2h7m-8 1h7m-10 6h7m-9-7h7m-7 0h7m-8 2h7m-10 7h7m-9-4h7m-10 5h7m-11-2h7m-8 3h7m-8-1h7m-7 1h7m-8 1h7m-9 0h7m-9-4h7m-8-5h7m-7 4h7m-20 0h7m-11-8h7m-7 6h7m-10 0h7m-9 5h7m-26-7h7m-16 5h7m-11 3h7m-7-12h7m-10 9h7m-25 0h7m-8-5h7m-9-1h7m-37 3h7m-12 6h7m-29-7h7m-67 23h7m3-4h7m16-1h7m44 1h7m8 2h7m-7 1h7m5 1h7m-2-3h7m3 1h7m5-1h7m1 1h7m-6-3h7m-4-9h7m-2 6h7m2-4h7m-4 9h7m-6-2h7m-7-9h7m-4 0h7m5 0h7m-5 11h7m-5 3h7m-7-2h7m-7-9h7m-7 10h7m2-2h7m-6-6h7m-6 7h7m-7-6h7m-6 3h7m-5-4h7m-5-1h7m-6 9h7m-7 0h7m-5-6h7m-7 7h7m-6-9h7m-6 6h7m-6-2h7m-7-4h7m-6 8h7m1-13h7m-5 13h7m-6-5h7m-7-5h7m-6 3h7m-6 5h7m-5 0h7m-6-11h7m-7 14h7m-6-3h7m-7-6h7m-7-2h7m-6 5h7m-7-8h7m-6 9h7m-6 4h7m-5-3h7m-6-5h7m-7 8h7m-5-2h7m-5-9h7m-7 4h7m-5-6h7m-5 2h7m-7 8h7m-6 2h7m-6-6h7m-6 7h7m-7-13h7m-6 3h7m-6-3h7m-7 14h7m-5-12h7m-7 4h7m-6 7h7m-6-10h7m-7 3h7m-6 7h7m-6-2h7m-5-8h7m-7 7h7m-4-1h7m-6-9h7m-7 2h7m-6-2h7m-6 6h7m-6-4h7m-7 8h7m-5-5h7m-7 3h7m-6-3h7m-7-3h7m-6 9h7m-7-11h7m-6 0h7m-6 11h7m-7-3h7m-6 1h7m-5-4h7m-7 3h7m-7-1h7m-6 7h7m-7-5h7m-6-5h7m-5-2h7m-6 3h7m-7 5h7m-6 1h7m-5 1h7m-6-8h7m-7 3h7m-5-2h7m-6 0h7m-7-1h7m-6-1h7m-7-3h7m-6 14h7m-7-9h7m-7 8h7m-6-2h7m-7 3h7m-6-3h7m-5-5h7m-7 7h7m-7-6h7m-7 3h7m-7 0h7m-6 3h7m-7-3h7m-5 2h7m-6 2h7m-7-10h7m-6 0h7m-7 2h7m-6 7h7m-5-12h7m-6 7h7m-6 6h7m-5-13h7m-6-1h7m-6 6h7m-7 4h7m-6 1h7m-5-3h7m-6-4h7m-7-3h7m-7 7h7m-7-5h7m-6-3h7m-6 8h7m-6-4h7m-7 6h7m-7-7h7m-6 10h7m-7-6h7m-6-5h7m-6 3h7m-6 3h7m-6 2h7m-6-9h7m-7 5h7m-6 6h7m-6-5h7m-7 1h7m-7-5h7m-7 7h7m-6-6h7m-7 6h7m-6 1h7m-7-7h7m-5 10h7m-6-2h7m-6 0h7m-6-12h7m-7 6h7m-6-4h7m-7-1h7m-5 7h7m-6 2h7m-6-5h7m-7 0h7m-7 4h7m-4-9h7m-6 5h7m-6-2h7m-6 11h7m-6-6h7m-7-2h7m-6 5h7m-4-3h7m-5 5h7m-6-2h7m-3 3h7m-4 0h7m-1-11h7m-4-3h7m-7 14h7m-5-13h7m-3 13h7m-5-7h7m-6-5h7m0 0h7m-7 12h7m-2-3h7m-7-3h7m-5-5h7m2 2h7m-3 6h7m-7-11h7m-6 4h7m-6 5h7m-6-5h7m-2-2h7m11 5h7m40-2h7m-75 17h7m-15-5h7m-27-1h7m-7 5h7m-11 7h7m-7-13h7m-8 8h7m-7 6h7m-7-2h7m-9-1h7m-7-3h7m-9-5h7m-8 10h7m-10-3h7m-10-8h7m-8 3h7m-7-2h7m-7 10h7m-9-8h7m-8-2h7m-7-2h7m-8 3h7m-7 9h7m-8-12h7m-10 9h7m-7-10h7m-8 5h7m-9 3h7m-7 2h7m-8-9h7m-7 9h7m-9-9h7m-8 9h7m-7-5h7m-7-4h7m-11 10h7m-8-6h7m-8 2h7m-7 0h7m-9 7h7m-8-13h7m-9 7h7m-7 3h7m-7-11h7m-8 9h7m-7 3h7m-8-4h7m-7 1h7m-8-9h7m-8 4h7m-8 3h7m-7-4h7m-8 0h7m-10 5h7m-14-3h7m-8 5h7m-7-1h7m-9 1h7m-8 4h7m-7-8h7m-7 2h7m-7-1h7m-8 6h7m-7 1h7m-8-6h7m-8-8h7m-8 11h7m-8-1h7m-8 0h7m-7 3h7m-9 1h7m-7-2h7m-8-12h7m-7 9h7m-7-4h7m-7-2h7m-7 7h7m-8 4h7m-8-4h7m-8-5h7m-8 4h7m-8 4h7m-7-3h7m-7-5h7m-8-3h7m-7 11h7m-8-11h7m-7 9h7m-7-4h7m-8-1h7m-7 8h7m-7-1h7m-8-2h7m-7-5h7m-8 2h7m-8-3h7m-7 9h7m-8-1h7m-7-6h7m-7 0h7m-7-5h7m-7 3h7m-8 5h7m-7 4h7m-7-2h7m-7-3h7m-7 0h7m-8 1h7m-9-2h7m-8-7h7m-8 6h7m-7 6h7m-8-8h7m-8 4h7m-7-3h7m-7-2h7m-8 0h7m-7 5h7m-8-1h7m-7-1h7m-8-5h7m-7 6h7m-8 2h7m-8 4h7m-7-13h7m-7 11h7m-8 0h7m-7 2h7m-7-6h7m-8-8h7m-7 11h7m-8-3h7m-7 0h7m-10 3h7m-8-5h7m-8 4h7m-7 3h7m-8-12h7m-7 12h7m-7-11h7m-8 7h7m-11-6h7m-7 11h7m-8-7h7m-7-1h7m-7-3h7m-7 8h7m-8 1h7m-9-3h7m-7 1h7m-7-1h7m-8 3h7m-7-4h7m-7 2h7m-7 2h7m-8-3h7m-9 5h7m-8-2h7m-8 0h7m-7-3h7m-7-5h7m-8 7h7m-8-3h7m-7-2h7m-8-2h7m-10 2h7m-7-1h7m-7-3h7m-8-1h7m-7 12h7m-8-3h7m-7 4h7m-7-9h7m-7 3h7m-9 0h7m-7 5h7m-7-2h7m-8 1h7m-9-8h7m-7-1h7m-7 2h7m-7 9h7m-8-5h7m-7-7h7m-9 1h7m-7 8h7m-7-9h7m-8 11h7m-8-1h7m-7-4h7m-8-4h7m-7 0h7m-8 9h7m-7-5h7m-7 3h7m-8-4h7m-7 6h7m-8-10h7m-8 3h7m-8-5h7m-7 8h7m-7-5h7m-7 6h7m-8-5h7m-8 3h7m-9-2h7m-8-2h7m-7-4h7m-8 0h7m-7 14h7m-9 0h7m-7-4h7m-10 1h7m-7-4h7m-7-6h7m-8 10h7m-7 1h7m-8-9h7m-11 3h7m-9-2h7m-8-3h7m-7 9h7m-8 3h7m-7 1h7m-8-13h7m-7 12h7m-8-2h7m-8-8h7m-7 1h7m-8-3h7m-8 3h7m-7 1h7m-8 2h7m-13-7h7m-8 12h7m-7 0h7m-8-2h7m-8-9h7m-8 3h7m-7 4h7m-9-1h7m-7 1h7m-7-2h7m-8 0h7m-8 8h7m-8-1h7m-9-4h7m-13-2h7m-9 3h7m-14-3h7m-8 0h7m-8 4h7m-9-2h7m-8-5h7m-7 6h7m-10-9h7m-7-1h7m-8 5h7m-14-5h7m-8 8h7m-7-1h7m-8-6h7m-8 11h7m-8 1h7m-12-4h7m-18-2h7m-8 2h7m-23 3h7m-12-5h7m-9-7h7m-7 1h7m-8 1h7m-14 2h7m-20 2h7m-8 0h7m-16 4h7m-27-3h7m-30 4h7m-44-7h7m-10-3h7m72 24h7m-6-1h7m-1-9h7m-6 11h7m3-4h7m-2 6h7m-3-3h7m-6 1h7m-7-4h7m-2-5h7m8 5h7m-1 4h7m-2-9h7m-7 7h7m-4-6h7m-5 9h7m-5-9h7m-1 11h7m-6-5h7m-5-3h7m-5-3h7m-7-1h7m-6 3h7m-6-3h7m-6 6h7m-6 6h7m-3-13h7m-2 7h7m-5 0h7m-7 5h7m-6-7h7m-6-5h7m-6 4h7m-7 4h7m-3-3h7m-7 5h7m-7-10h7m-3 13h7m-4-12h7m-6 10h7m-3-8h7m-4-3h7m-5 0h7m-4 1h7m-5 3h7m-6 1h7m-6 3h7m-7-3h7m-7 8h7m-7-5h7m-5 3h7m-6 2h7m-6-12h7m-6 3h7m-5 2h7m-6-5h7m-5 8h7m-6 0h7m-6-4h7m-6 2h7m-6 3h7m-7 2h7m-4 1h7m-7-5h7m-6-2h7m-7 1h7m-7-4h7m-7 6h7m-6 4h7m-6-3h7m-4-7h7m-5 6h7m-7-3h7m-6-6h7m-6 1h7m-6 1h7m-6 1h7m-6 6h7m-6 2h7m-6 2h7m-6-6h7m-5-5h7m-7-2h7m-6 10h7m-6-8h7m-6 7h7m-7 4h7m-4-9h7m-6 1h7m-6 7h7m-7-7h7m-6 0h7m-6-2h7m-7-4h7m-6 11h7m-6-3h7m-6 0h7m-6-6h7m-6 4h7m-6 3h7m-7-7h7m-6 9h7m-6-6h7m-6-1h7m-7 4h7m-6 5h7m-6-9h7m-5-3h7m-7 10h7m-6-10h7m-5 0h7m-6 5h7m-7 7h7m-6-10h7m-5 11h7m-7-9h7m-7 4h7m-6-6h7m-6 10h7m-6-1h7m-7-12h7m-6 14h7m-6-5h7m-6-1h7m-6 5h7m-7-10h7m-7 10h7m-6-4h7m-7 5h7m-7-13h7m-6 2h7m-4 1h7m-6-2h7m-5-2h7m-6 5h7m-7-3h7m-6 12h7m-7-2h7m-7 1h7m-5-9h7m-7 1h7m-7-5h7m-7 10h7m-6 0h7m-7-6h7m-5-4h7m-7 5h7m-7 1h7m-6-6h7m-7 5h7m-7-5h7m-7 12h7m-6-7h7m-7 8h7m-6-11h7m-7-1h7m-7 4h7m-6 0h7m-6 3h7m-7 1h7m-6 4h7m-6-9h7m-4 1h7m-7-5h7m-6 10h7m-6-10h7m-7 10h7m-6 3h7m-6-4h7m-7 1h7m-5-7h7m-7 5h7m-7 0h7m-6 2h7m-7-8h7m-6-1h7m-7 0h7m-7 6h7m-7 7h7m-6-5h7m-6 1h7m-5-9h7m-6 2h7m-6 8h7m-6-7h7m-3-2h7m-6 3h7m-7-1h7m-4 8h7m-7-6h7m-5-6h7m-7 6h7m-4 7h7m-5-11h7m-6 12h7m-2-2h7m-6-8h7m-5 0h7m-7 7h7m-6-4h7m-6 4h7m-6-4h7m-7 2h7m-5 2h7m-7-4h7m-6 0h7m-4 5h7m-6-5h7m-6 5h7m-7-5h7m-6 7h7m-3-14h7m-5 13h7m-4 1h7m-7-9h7m-6-3h7m-7-2h7m-5 10h7m-6-1h7m-7-3h7m-4-1h7m-6 2h7m-5-7h7m-7 3h7m-5 2h7m-6-1h7m-4 3h7m-4-3h7m-5-4h7m13 14h7m-4-4h7m-2-1h7m-3-8h7m28 19h7m-56-5h7m-21 9h7m-21-2h7m-7-6h7m-10 1h7m-8 0h7m-7 8h7m-8 3h7m-15-10h7m-7 6h7m-14-5h7m-12 9h7m-8-9h7m-9-3h7m-7 8h7m-9-6h7m-8-1h7m-7 11h7m-7-13h7m-9 3h7m-7-3h7m-8 1h7m-9 1h7m-8 11h7m-7-6h7m-7-2h7m-8-3h7m-9 10h7m-9-7h7m-8 4h7m-8-5h7m-8 1h7m-7 2h7m-8-7h7m-7 2h7m-10 12h7m-7-11h7m-8-2h7m-7-1h7m-9 5h7m-7-3h7m-8 0h7m-7 8h7m-8 0h7m-7 2h7m-8 1h7m-7-9h7m-9 1h7m-7 2h7m-9 1h7m-9-7h7m-7 1h7m-7 7h7m-7-4h7m-10-1h7m-7 0h7m-8-3h7m-7 6h7m-7-7h7m-8 4h7m-7-3h7m-9 7h7m-9-5h7m-7 5h7m-8-6h7m-8 6h7m-7-5h7m-7 1h7m-8 3h7m-7-1h7m-7-1h7m-8-4h7m-7 8h7m-8-2h7m-7 5h7m-7-6h7m-8-5h7m-7 1h7m-12-1h7m-8 5h7m-7 7h7m-9-5h7m-8-5h7m-8-2h7m-9 11h7m-8-7h7m-9 0h7m-7 1h7m-8-2h7m-8 8h7m-7-12h7m-7 1h7m-8 13h7m-7-5h7m-8-4h7m-7 8h7m-10-3h7m-7-10h7m-8 3h7m-8-1h7m-7 3h7m-7 7h7m-8-4h7m-7-1h7m-8-4h7m-8 9h7m-11 1h7m-8-6h7m-7 6h7m-8-11h7m-7 3h7m-8 7h7m-8-2h7m-8-1h7m-7 1h7m-7 1h7m-8-10h7m-7 3h7m-8 3h7m-8-7h7m-8 9h7m-7-9h7m-8 10h7m-7 4h7m-8-6h7m-8-4h7m-7 10h7m-7-8h7m-8 8h7m-8-1h7m-8-13h7m-8 9h7m-7 4h7m-10-5h7m-7 2h7m-8 2h7m-7-4h7m-8-2h7m-7-6h7m-8 9h7m-12 4h7m-8-12h7m-8 13h7m-7-7h7m-8 5h7m-8-4h7m-9-6h7m-7 1h7m-10 11h7m-8-2h7m-8-1h7m-8-1h7m-7 0h7m-9-7h7m-10-1h7m-7 4h7m-7-1h7m-8 9h7m-8-10h7m-8-4h7m-7 5h7m-8-2h7m-8 7h7m-8-7h7m-7 5h7m-8 2h7m-8 0h7m-9 1h7m-8-11h7m-8 3h7m-7 11h7m-7-1h7m-9-12h7m-9 13h7m-7-7h7m-10-7h7m-7 7h7m-7 4h7m-8 2h7m-7-3h7m-9-6h7m-7 8h7m-9-6h7m-10 2h7m-8-6h7m-9 6h7m-10 3h7m-9-4h7m-7-4h7m-8 10h7m-9 1h7m-7-7h7m-11 0h7m-8 7h7m-11-5h7m-11-5h7m-8 2h7m-8 5h7m-7-9h7m-9 4h7m-15 5h7m-15-10h7m-10 0h7m-10 12h7m-8 1h7m-9-8h7m-12 7h7m-23-11h7m-15 2h7m-10 3h7m-10-4h7m-7-1h7m-9 1h7m-9 10h7m-8-7h7m-29 7h7m-12-6h7m-8-6h7m-10 4h7m-14 2h7m-71 7h7m44 4h7m1 2h7m-2-1h7m-5 9h7m3-4h7m5-5h7m-5 2h7m6-1h7m-2-3h7m1 4h7m-6-6h7m-2 1h7m-3 5h7m-6-5h7m-6 11h7m-5-12h7m-7 0h7m-3 12h7m-6-12h7m-6 11h7m-1-3h7m-6 1h7m1-6h7m-6 10h7m-6-3h7m-6 1h7m-5-6h7m-5 0h7m-4 6h7m-7-6h7m-6 8h7m-6-13h7m-3 4h7m-5 2h7m-7 3h7m-6-5h7m-6 0h7m-6-1h7m-6-2h7m5 9h7m-7 4h7m-5-13h7m-5 8h7m-7-8h7m-4 1h7m-6 2h7m-6 5h7m-6 1h7m-4-2h7m-4-7h7m-5 7h7m-7-4h7m-7 7h7m-7-9h7m-7-2h7m-5 8h7m-7 6h7m-5-5h7m-7-6h7m-5 6h7m-7-6h7m-5-3h7m-7 6h7m-5 1h7m-6 3h7m-7-6h7m-6 9h7m-6-6h7m-6 0h7m-5-4h7m-6-3h7m-5 7h7m-6 0h7m-6 5h7m-7-9h7m-6-2h7m-7 12h7m-6-6h7m-7 6h7m-7-10h7m-5 8h7m-7-6h7m-5 6h7m-7-2h7m-6 2h7m-6-2h7m-7 0h7m-7-1h7m-6-8h7m-7 6h7m-3 6h7m-6-7h7m-7-2h7m-5 5h7m-7-4h7m-6-3h7m-7 3h7m-7 2h7m-6 7h7m-6-12h7m-7 7h7m-5 5h7m-7-1h7m-5-1h7m-6-3h7m-7-8h7m-7 1h7m-7 10h7m-6-2h7m-7 1h7m-5-9h7m-7 5h7m-6 4h7m-6-9h7m-7 6h7m-7 2h7m-6-3h7m-6-5h7m-7 13h7m-7-14h7m-6 13h7m-7-8h7m-7-4h7m-6 6h7m-6 7h7m-7-4h7m-7-7h7m-7 3h7m-5 4h7m-5-8h7m-7 10h7m-7-7h7m-7 0h7m-6 7h7m-7-5h7m-6-2h7m-7-3h7m-5 6h7m-7 4h7m-7-3h7m-6-5h7m-7 8h7m-6-3h7m-6 0h7m-6-8h7m-7 13h7m-7-4h7m-7-4h7m-7-2h7m-7-1h7m-4 3h7m-6-6h7m-7 8h7m-6 6h7m-7-10h7m-6 8h7m-4-6h7m-5 5h7m-7-4h7m-7-2h7m-6-3h7m-4-2h7m-7 11h7m-6-8h7m-6 10h7m-6-4h7m-2 0h7m-6-2h7m-6-2h7m-5 6h7m-6-9h7m-6 1h7m-7 8h7m-6-4h7m-6 5h7m-6-1h7m-6-2h7m-7 0h7m-6 0h7m-5 1h7m-6 0h7m-6-9h7m-4-1h7m-7 14h7m-7-9h7m-6 8h7m-6-2h7m-6-7h7m-4-2h7m-7 4h7m-7 4h7m-7 2h7m-6-10h7m-7 3h7m-3-5h7m-4 14h7m-7-9h7m-5-2h7m-7 0h7m-6-1h7m-6 0h7m-5 9h7m-5 2h7m-7-2h7m-3 2h7m-5 0h7m-2-5h7m-5-1h7m-6-3h7m-7 2h7m-6 5h7m-6 3h7m2-4h7m2 2h7m-5-12h7m6 5h7m-2-3h7m18 13h7m-37 8h7m-21 6h7m-18-7h7m-10 2h7m-30 2h7m-13-4h7m-7-2h7m-10-2h7m-11 10h7m-8-11h7m-11 2h7m-10 6h7m-11-6h7m-8 0h7m-9-2h7m-9-2h7m-8 2h7m-7 11h7m-8-7h7m-7 3h7m-8 1h7m-8-7h7m-8 9h7m-10-7h7m-7-4h7m-10 3h7m-8 0h7m-9-3h7m-10 1h7m-7-1h7m-7 0h7m-8 3h7m-8 0h7m-8-3h7m-8 1h7m-8 1h7m-8 9h7m-7-1h7m-7 0h7m-9-8h7m-9 11h7m-9-13h7m-8-1h7m-7 5h7m-8 0h7m-8-1h7m-7-3h7m-7 5h7m-8-1h7m-8 1h7m-7-4h7m-8 8h7m-7-1h7m-7 2h7m-8-9h7m-8 5h7m-7 0h7m-8 3h7m-8-1h7m-8-2h7m-8 3h7m-8-10h7m-8 13h7m-7-7h7m-11-6h7m-7 3h7m-8-1h7m-8 12h7m-7-5h7m-7 5h7m-8-5h7m-8-5h7m-7-1h7m-7 8h7m-7-4h7m-7-2h7m-10 1h7m-9 4h7m-8-7h7m-7 4h7m-7-1h7m-8 4h7m-9 3h7m-8 1h7m-10 0h7m-9-3h7m-8-2h7m-9-3h7m-8-2h7m-10 2h7m-7 1h7m-9 0h7m-10-5h7m-7 3h7m-9 7h7m-7-3h7m-8-2h7m-8-6h7m-7-1h7m-8 6h7m-7-5h7m-8 10h7m-8-2h7m-7 2h7m-8-7h7m-8 7h7m-7 2h7m-8-5h7m-8 2h7m-9 2h7m-7-7h7m-8 3h7m-8-5h7m-7 10h7m-9 0h7m-7-8h7m-9 0h7m-10 1h7m-8 3h7m-10-2h7m-9 0h7m-8 3h7m-7 1h7m-8 3h7m-7-10h7m-8 1h7m-7-5h7m-9 2h7m-8-1h7m-11 8h7m-9-4h7m-8 1h7m-11 0h7m-7 1h7m-8 4h7m-8-11h7m-7 2h7m-8 2h7m-7 5h7m-11-3h7m-7 4h7m-8-1h7m-9-4h7m-8 9h7m-9-13h7m-8 2h7m-7 5h7m-10 2h7m-8 0h7m-9-6h7m-8 6h7m-8-3h7m-13 0h7m-7-4h7m-19-2h7m-7 6h7m-9-3h7m-13 7h7m-9-7h7m-9 8h7m-11-9h7m-7 9h7m-15-7h7m-9 2h7m-16 0h7m-9-1h7m-12 6h7m-9 0h7m-27-10h7m-36 3h7m-47 3h7m35 13h7m40 0h7m-4-5h7m-6 13h7m-5-11h7m-4 2h7m-1 5h7m5-6h7m-1 8h7m-6-4h7m-4 2h7m-2-7h7m-2 6h7m-6-5h7m-2-2h7m8 5h7m-7 3h7m-3-4h7m-2 1h7m-6 4h7m-6 0h7m-5-3h7m1-6h7m-4 10h7m-6-8h7m-5 0h7m-5 1h7m-6 2h7m-7-6h7m-5 8h7m-6-1h7m3-6h7m-5 6h7m-5-6h7m-7 4h7m-5 2h7m-3-3h7m-4-4h7m-6 13h7m-6-5h7m-6 0h7m-7 2h7m-6-5h7m-6 0h7m-5-1h7m-7 6h7m-5-1h7m-7-4h7m-4 2h7m-7-8h7m-6 3h7m-6 5h7m-6-7h7m-5 4h7m-5-5h7m-5 6h7m-7-6h7m-6 12h7m-6-10h7m-6-2h7m-6 0h7m-7 12h7m-5-5h7m-6 6h7m-6-13h7m-7 9h7m-4 1h7m-7 4h7m-6-13h7m-7 8h7m-3-5h7m-6 5h7m-4-1h7m-7 4h7m-4-12h7m-7 0h7m-4 3h7m-6-3h7m-6 4h7m-4-2h7m-6 0h7m-6 3h7m-6-3h7m-1-2h7m-6 12h7m-7-9h7m-4-3h7m-5 10h7m-7-2h7m-7 3h7m-3 2h7m-5-11h7m-4 5h7m-6-4h7m-5 3h7m-6-4h7m-6 1h7m-3 3h7m-6-3h7m-5 8h7m-6-1h7m-7-6h7m-5 4h7m-6-4h7m-7 7h7m-5-2h7m-6-6h7m-6 5h7m-6-2h7m-3 2h7m-6 3h7m-3-7h7m-6 9h7m-7-10h7m-6 1h7m-6-2h7m-2 2h7m-3-4h7m-7 0h7m-6 8h7m-5 2h7m-2 0h7m-5-6h7m-7-1h7m-4-3h7m-7 14h7m-2-11h7m3 4h7m69 1h7m-53 16h7m-30-1h7m-52 6h7m-12-8h7m-11 3h7m-14-9h7m-15 0h7m-11 0h7m-11 13h7m-15-11h7m-14 10h7m-8-2h7m-14-1h7m-7 0h7m-12-3h7m-9 0h7m-8 4h7m-8-7h7m-7 3h7m-12-3h7m-12-2h7m-11 6h7m-9 5h7m-7-4h7m-10-7h7m-7 0h7m-10 5h7m-9-3h7m-7 3h7m-15 8h7m-8-11h7m-8-2h7m-8 6h7m-11-7h7m-7 6h7m-8-6h7m-8 12h7m-8-3h7m-8 0h7m-18 2h7m-7-5h7m-8 6h7m-10-11h7m-8 2h7m-7 2h7m-9 0h7m-9-2h7m-11 9h7m-7 1h7m-9-10h7m-7-3h7m-8 8h7m-7-8h7m-11 5h7m-9 3h7m-9-1h7m-23-1h7m-10 6h7m-7 0h7m-12 2h7m-8-11h7m-7 1h7m-17-1h7m-8 2h7m-11 4h7m-7 3h7m-24-12h7m-9 9h7m-22-5h7m-8-3h7m-52 6h7m-35 15h7m92 5h7m11 0h7m-4-4h7m-5-8h7m0 9h7m-1 1h7m-1-1h7m5 1h7m0-7h7m-5 0h7m-6 1h7m-3 3h7m-6-7h7m-5 12h7m-5-4h7m-6-4h7m6 3h7m-4 1h7m-6-6h7m-6 7h7m-3 0h7m-3 3h7m-1-9h7m-4-3h7m-6 2h7m10 1h7m6 0h7m16 3h7m-6-3h7m-7 4h7m-6-6h7m27 11h7m62-10h7m-44 16h7m-101 7h7m-8-2h7m-21 6h7m-16-2h7m-9-6h7m-7 2h7m-15 1h7m-20-6h7m-7 1h7m-18-4h7m-32 12h7m-20-7h7m-9-5h7m-19 0h7m-12 3h7m-7 11h7m-22-12h7m-54 12h7m-65 0h7m148 5h7m43-4h7m32 0h7" stroke="#111" stroke-width="7" opacity="1.0" fill="none"/>
<path d="M362.3 438.2H425.1V501.6" fill="none" stroke="#111" stroke-width="1.0"/>
<path d="M362.3 437.7V501.6H425.6" fill="none" stroke="#111" stroke-width="1.25"/>
<path d="M362.3 501.6v3.0M362.3 501.6h-3.0M378 501.6v3.0M362.3 485.75h-3.0M393.7 501.6v3.0M362.3 469.9h-3.0M409.4 501.6v3.0M362.3 454.05h-3.0M425.1 501.6v3.0M362.3 438.2h-3.0M367.0 501.6v1.5M362.3 496.8h-1.5M369.8 501.6v1.5M362.3 494.0h-1.5M371.8 501.6v1.5M362.3 492.1h-1.5M373.3 501.6v1.5M362.3 490.5h-1.5M374.5 501.6v1.5M362.3 489.3h-1.5M375.6 501.6v1.5M362.3 488.2h-1.5M376.5 501.6v1.5M362.3 487.3h-1.5M377.3 501.6v1.5M362.3 486.5h-1.5M382.7 501.6v1.5M362.3 481.0h-1.5M385.5 501.6v1.5M362.3 478.2h-1.5M387.5 501.6v1.5M362.3 476.2h-1.5M389.0 501.6v1.5M362.3 474.7h-1.5M390.2 501.6v1.5M362.3 473.4h-1.5M391.3 501.6v1.5M362.3 472.4h-1.5M392.2 501.6v1.5M362.3 471.4h-1.5M393.0 501.6v1.5M362.3 470.6h-1.5M398.4 501.6v1.5M362.3 465.1h-1.5M401.2 501.6v1.5M362.3 462.3h-1.5M403.2 501.6v1.5M362.3 460.4h-1.5M404.7 501.6v1.5M362.3 458.8h-1.5M405.9 501.6v1.5M362.3 457.6h-1.5M407.0 501.6v1.5M362.3 456.5h-1.5M407.9 501.6v1.5M362.3 455.6h-1.5M408.7 501.6v1.5M362.3 454.8h-1.5M414.1 501.6v1.5M362.3 449.3h-1.5M416.9 501.6v1.5M362.3 446.5h-1.5M418.9 501.6v1.5M362.3 444.5h-1.5M420.4 501.6v1.5M362.3 443.0h-1.5M421.6 501.6v1.5M362.3 441.7h-1.5M422.7 501.6v1.5M362.3 440.7h-1.5M423.6 501.6v1.5M362.3 439.7h-1.5M424.4 501.6v1.5M362.3 438.9h-1.5" stroke="#111" stroke-width="0.9" fill="none"/>
<text x="357.44" y="513.4" font-size="7.1" fill="#222" stroke="#222" stroke-width="0.14" textLength="7.8" lengthAdjust="spacingAndGlyphs">10</text><text x="365.74" y="511.18" font-size="4" fill="#222" stroke="#222" stroke-width="0.08">0</text>
<text x="346.98" y="504.2" font-size="7.1" fill="#222" stroke="#222" stroke-width="0.14" textLength="7.8" lengthAdjust="spacingAndGlyphs">10</text><text x="355.28" y="501.98" font-size="4" fill="#222" stroke="#222" stroke-width="0.08">0</text>
<text x="373.14" y="513.4" font-size="7.1" fill="#222" stroke="#222" stroke-width="0.14" textLength="7.8" lengthAdjust="spacingAndGlyphs">10</text><text x="381.44" y="511.18" font-size="4" fill="#222" stroke="#222" stroke-width="0.08">1</text>
<text x="346.98" y="488.35" font-size="7.1" fill="#222" stroke="#222" stroke-width="0.14" textLength="7.8" lengthAdjust="spacingAndGlyphs">10</text><text x="355.28" y="486.13" font-size="4" fill="#222" stroke="#222" stroke-width="0.08">1</text>
<text x="388.84" y="513.4" font-size="7.1" fill="#222" stroke="#222" stroke-width="0.14" textLength="7.8" lengthAdjust="spacingAndGlyphs">10</text><text x="397.14" y="511.18" font-size="4" fill="#222" stroke="#222" stroke-width="0.08">2</text>
<text x="346.98" y="472.5" font-size="7.1" fill="#222" stroke="#222" stroke-width="0.14" textLength="7.8" lengthAdjust="spacingAndGlyphs">10</text><text x="355.28" y="470.28" font-size="4" fill="#222" stroke="#222" stroke-width="0.08">2</text>
<text x="404.54" y="513.4" font-size="7.1" fill="#222" stroke="#222" stroke-width="0.14" textLength="7.8" lengthAdjust="spacingAndGlyphs">10</text><text x="412.84" y="511.18" font-size="4" fill="#222" stroke="#222" stroke-width="0.08">3</text>
<text x="346.98" y="456.65" font-size="7.1" fill="#222" stroke="#222" stroke-width="0.14" textLength="7.8" lengthAdjust="spacingAndGlyphs">10</text><text x="355.28" y="454.43" font-size="4" fill="#222" stroke="#222" stroke-width="0.08">3</text>
<text x="420.24" y="513.4" font-size="7.1" fill="#222" stroke="#222" stroke-width="0.14" textLength="7.8" lengthAdjust="spacingAndGlyphs">10</text><text x="428.54" y="511.18" font-size="4" fill="#222" stroke="#222" stroke-width="0.08">4</text>
<text x="346.98" y="440.8" font-size="7.1" fill="#222" stroke="#222" stroke-width="0.14" textLength="7.8" lengthAdjust="spacingAndGlyphs">10</text><text x="355.28" y="438.58" font-size="4" fill="#222" stroke="#222" stroke-width="0.08">4</text>
<text x="21.4" y="470" font-size="8.2" text-anchor="middle" fill="#1a1a1a" textLength="10.8" lengthAdjust="spacingAndGlyphs" transform="rotate(-90 21.4 470)" stroke="#1a1a1a" stroke-width="0.3">SSc</text>
<text x="72.6" y="522.1" font-size="8.2" text-anchor="middle" fill="#1a1a1a" textLength="10.8" lengthAdjust="spacingAndGlyphs" stroke="#1a1a1a" stroke-width="0.3">FSc</text>
<text x="127.6" y="470" font-size="8.2" text-anchor="middle" fill="#1a1a1a" textLength="14.6" lengthAdjust="spacingAndGlyphs" transform="rotate(-90 127.6 470)" stroke="#1a1a1a" stroke-width="0.3">CD14</text>
<text x="235.1" y="470" font-size="8.2" text-anchor="middle" fill="#1a1a1a" textLength="17.8" lengthAdjust="spacingAndGlyphs" transform="rotate(-90 235.1 470)" stroke="#1a1a1a" stroke-width="0.3">CD11C</text>
<text x="344.5" y="470" font-size="8.2" text-anchor="middle" fill="#1a1a1a" textLength="18.6" lengthAdjust="spacingAndGlyphs" transform="rotate(-90 344.5 470)" stroke="#1a1a1a" stroke-width="0.3">CD235</text>
<path d="M136.3 524.3H268.8M300 524.3H428" stroke="#333" stroke-width="0.9"/>
<text x="285.8" y="527.3" font-size="8.2" text-anchor="middle" fill="#1a1a1a" textLength="18.4" lengthAdjust="spacingAndGlyphs" stroke="#1a1a1a" stroke-width="0.3">CD11b</text>
<rect x="0.58" y="0.58" width="518.84" height="534.84" fill="none" stroke="#151112" stroke-width="1.16"/>
</svg></body></html>
